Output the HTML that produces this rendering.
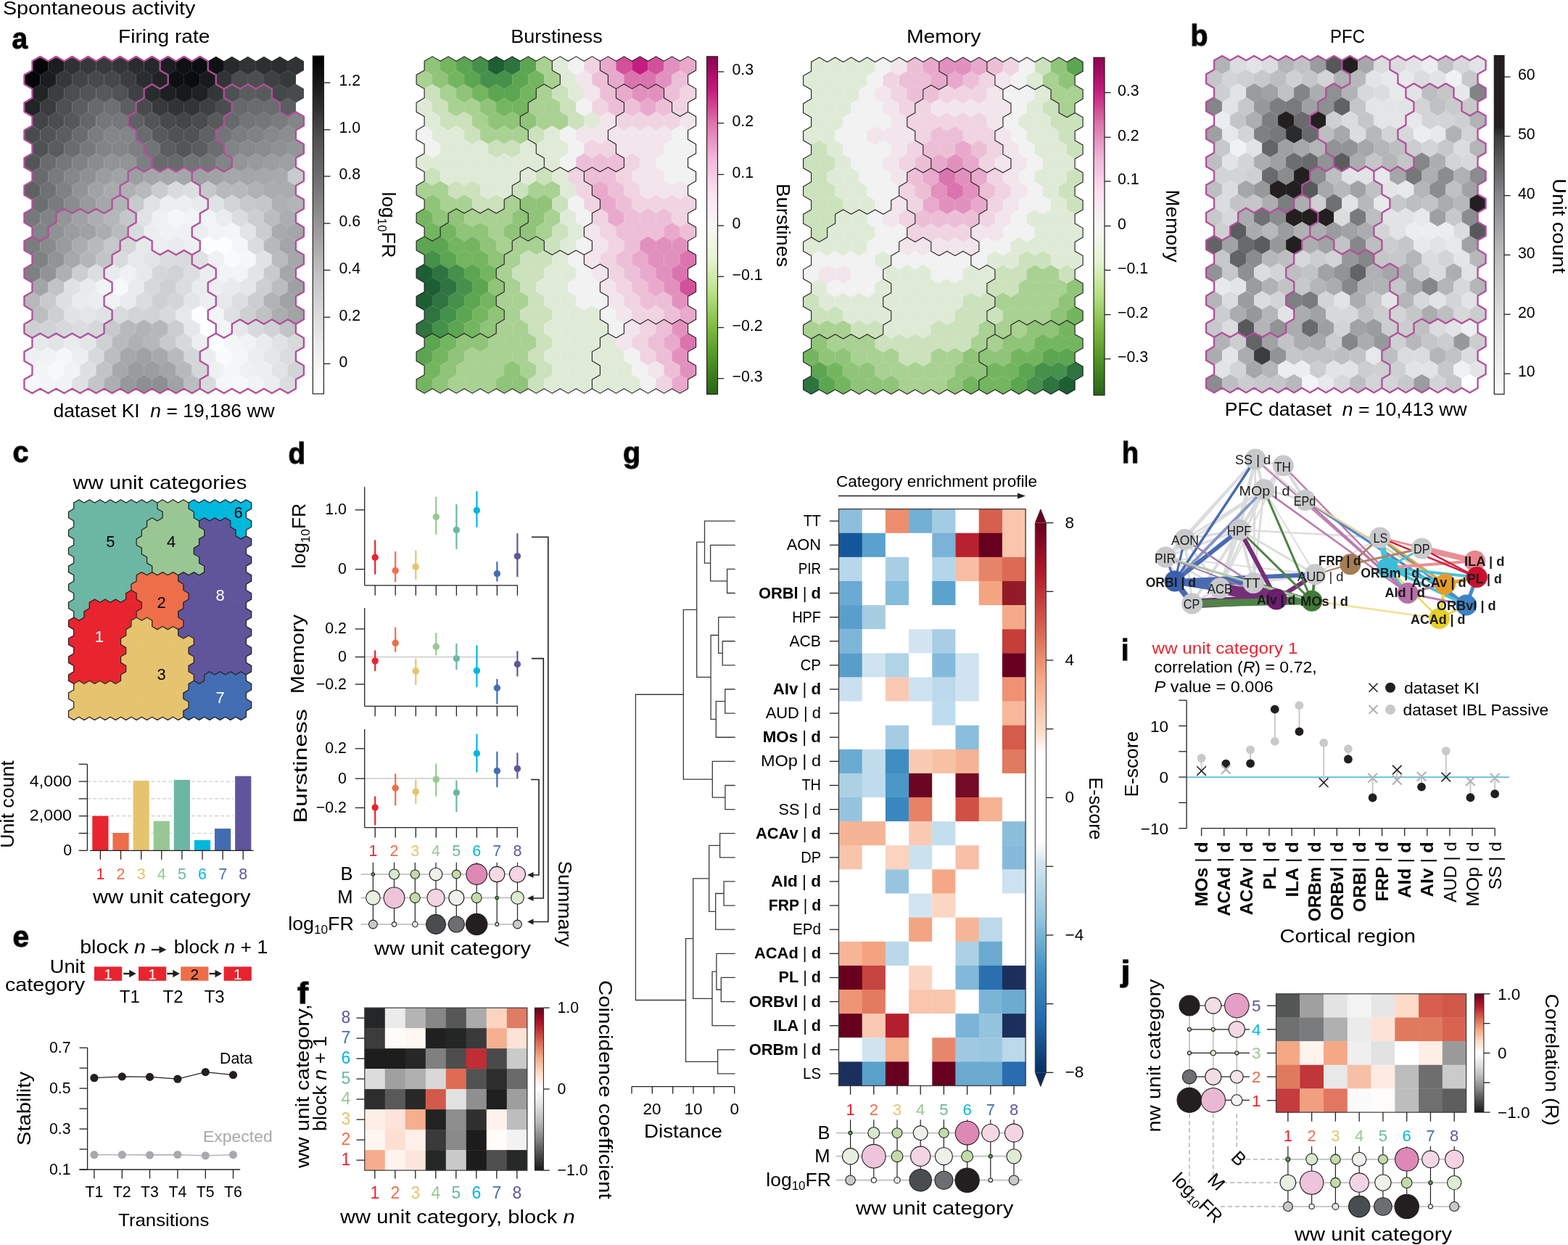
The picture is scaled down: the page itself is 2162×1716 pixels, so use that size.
<!DOCTYPE html><html><head><meta charset="utf-8"><style>html,body{margin:0;padding:0;background:#fff}svg{display:block}</style></head><body><svg xmlns="http://www.w3.org/2000/svg" width="2162" height="1716" viewBox="0 0 2162 1716" style="font-family:'Liberation Sans',Arial,sans-serif"><rect width="2162" height="1716" fill="#ffffff"/>
<defs><path id="hx2203" d="M0.00 -12.87L11.14 -6.43L11.14 6.43L0.00 12.87L-11.14 6.43L-11.14 -6.43Z"/></defs>
<g stroke="#fff" stroke-width="0.5" stroke-opacity="0.09">
<use href="#hx2203" x="55.5" y="90.6" fill="#020506"/>
<use href="#hx2203" x="77.5" y="90.6" fill="#1b1e1f"/>
<use href="#hx2203" x="99.5" y="90.6" fill="#2f3233"/>
<use href="#hx2203" x="121.5" y="90.6" fill="#353839"/>
<use href="#hx2203" x="143.6" y="90.6" fill="#373a3b"/>
<use href="#hx2203" x="165.6" y="90.6" fill="#333637"/>
<use href="#hx2203" x="187.6" y="90.6" fill="#2a2d2e"/>
<use href="#hx2203" x="209.7" y="90.6" fill="#252829"/>
<use href="#hx2203" x="231.7" y="90.6" fill="#1b1e1f"/>
<use href="#hx2203" x="253.7" y="90.6" fill="#0f1213"/>
<use href="#hx2203" x="275.8" y="90.6" fill="#0b0e0f"/>
<use href="#hx2203" x="297.8" y="90.6" fill="#0f1213"/>
<use href="#hx2203" x="319.8" y="90.6" fill="#272a2b"/>
<use href="#hx2203" x="341.8" y="90.6" fill="#313435"/>
<use href="#hx2203" x="363.9" y="90.6" fill="#2d3031"/>
<use href="#hx2203" x="385.9" y="90.6" fill="#2b2e2f"/>
<use href="#hx2203" x="407.9" y="90.6" fill="#313435"/>
<use href="#hx2203" x="44.4" y="109.7" fill="#030607"/>
<use href="#hx2203" x="66.5" y="109.7" fill="#1b1e1f"/>
<use href="#hx2203" x="88.5" y="109.7" fill="#353839"/>
<use href="#hx2203" x="110.5" y="109.7" fill="#414445"/>
<use href="#hx2203" x="132.6" y="109.7" fill="#474a4b"/>
<use href="#hx2203" x="154.6" y="109.7" fill="#454849"/>
<use href="#hx2203" x="176.6" y="109.7" fill="#3b3e3f"/>
<use href="#hx2203" x="198.6" y="109.7" fill="#2b2e2f"/>
<use href="#hx2203" x="220.7" y="109.7" fill="#212425"/>
<use href="#hx2203" x="242.7" y="109.7" fill="#0d1011"/>
<use href="#hx2203" x="264.7" y="109.7" fill="#0a0d0e"/>
<use href="#hx2203" x="286.8" y="109.7" fill="#171a1b"/>
<use href="#hx2203" x="308.8" y="109.7" fill="#313435"/>
<use href="#hx2203" x="330.8" y="109.7" fill="#494c4d"/>
<use href="#hx2203" x="352.9" y="109.7" fill="#4b4e4f"/>
<use href="#hx2203" x="374.9" y="109.7" fill="#3e4142"/>
<use href="#hx2203" x="396.9" y="109.7" fill="#36393a"/>
<use href="#hx2203" x="55.5" y="128.7" fill="#212425"/>
<use href="#hx2203" x="77.5" y="128.7" fill="#3b3e3f"/>
<use href="#hx2203" x="99.5" y="128.7" fill="#4b4e4f"/>
<use href="#hx2203" x="121.5" y="128.7" fill="#525556"/>
<use href="#hx2203" x="143.6" y="128.7" fill="#56595a"/>
<use href="#hx2203" x="165.6" y="128.7" fill="#505354"/>
<use href="#hx2203" x="187.6" y="128.7" fill="#3e4142"/>
<use href="#hx2203" x="209.7" y="128.7" fill="#292c2d"/>
<use href="#hx2203" x="231.7" y="128.7" fill="#1d2021"/>
<use href="#hx2203" x="253.7" y="128.7" fill="#171a1b"/>
<use href="#hx2203" x="275.8" y="128.7" fill="#1f2223"/>
<use href="#hx2203" x="297.8" y="128.7" fill="#343738"/>
<use href="#hx2203" x="319.8" y="128.7" fill="#4e5152"/>
<use href="#hx2203" x="341.8" y="128.7" fill="#5a5d5e"/>
<use href="#hx2203" x="363.9" y="128.7" fill="#585b5c"/>
<use href="#hx2203" x="385.9" y="128.7" fill="#454849"/>
<use href="#hx2203" x="407.9" y="128.7" fill="#484b4c"/>
<use href="#hx2203" x="44.4" y="147.8" fill="#212425"/>
<use href="#hx2203" x="66.5" y="147.8" fill="#393c3d"/>
<use href="#hx2203" x="88.5" y="147.8" fill="#4d5051"/>
<use href="#hx2203" x="110.5" y="147.8" fill="#5a5d5e"/>
<use href="#hx2203" x="132.6" y="147.8" fill="#676a6b"/>
<use href="#hx2203" x="154.6" y="147.8" fill="#6d7071"/>
<use href="#hx2203" x="176.6" y="147.8" fill="#5c5f60"/>
<use href="#hx2203" x="198.6" y="147.8" fill="#484b4c"/>
<use href="#hx2203" x="220.7" y="147.8" fill="#373a3b"/>
<use href="#hx2203" x="242.7" y="147.8" fill="#313435"/>
<use href="#hx2203" x="264.7" y="147.8" fill="#313435"/>
<use href="#hx2203" x="286.8" y="147.8" fill="#3d4041"/>
<use href="#hx2203" x="308.8" y="147.8" fill="#4a4d4e"/>
<use href="#hx2203" x="330.8" y="147.8" fill="#66696a"/>
<use href="#hx2203" x="352.9" y="147.8" fill="#696c6d"/>
<use href="#hx2203" x="374.9" y="147.8" fill="#6a6d6e"/>
<use href="#hx2203" x="396.9" y="147.8" fill="#5b5e5f"/>
<use href="#hx2203" x="55.5" y="166.9" fill="#414445"/>
<use href="#hx2203" x="77.5" y="166.9" fill="#4b4e4f"/>
<use href="#hx2203" x="99.5" y="166.9" fill="#555859"/>
<use href="#hx2203" x="121.5" y="166.9" fill="#646768"/>
<use href="#hx2203" x="143.6" y="166.9" fill="#757879"/>
<use href="#hx2203" x="165.6" y="166.9" fill="#757879"/>
<use href="#hx2203" x="187.6" y="166.9" fill="#5e6162"/>
<use href="#hx2203" x="209.7" y="166.9" fill="#525556"/>
<use href="#hx2203" x="231.7" y="166.9" fill="#474a4b"/>
<use href="#hx2203" x="253.7" y="166.9" fill="#434647"/>
<use href="#hx2203" x="275.8" y="166.9" fill="#494c4d"/>
<use href="#hx2203" x="297.8" y="166.9" fill="#575a5b"/>
<use href="#hx2203" x="319.8" y="166.9" fill="#66696a"/>
<use href="#hx2203" x="341.8" y="166.9" fill="#727576"/>
<use href="#hx2203" x="363.9" y="166.9" fill="#747778"/>
<use href="#hx2203" x="385.9" y="166.9" fill="#797c7d"/>
<use href="#hx2203" x="407.9" y="166.9" fill="#838687"/>
<use href="#hx2203" x="44.4" y="186.0" fill="#494c4d"/>
<use href="#hx2203" x="66.5" y="186.0" fill="#515455"/>
<use href="#hx2203" x="88.5" y="186.0" fill="#5b5e5f"/>
<use href="#hx2203" x="110.5" y="186.0" fill="#696c6d"/>
<use href="#hx2203" x="132.6" y="186.0" fill="#7a7d7e"/>
<use href="#hx2203" x="154.6" y="186.0" fill="#838687"/>
<use href="#hx2203" x="176.6" y="186.0" fill="#838687"/>
<use href="#hx2203" x="198.6" y="186.0" fill="#696c6d"/>
<use href="#hx2203" x="220.7" y="186.0" fill="#575a5b"/>
<use href="#hx2203" x="242.7" y="186.0" fill="#4f5253"/>
<use href="#hx2203" x="264.7" y="186.0" fill="#505354"/>
<use href="#hx2203" x="286.8" y="186.0" fill="#5f6263"/>
<use href="#hx2203" x="308.8" y="186.0" fill="#727576"/>
<use href="#hx2203" x="330.8" y="186.0" fill="#7b7e7f"/>
<use href="#hx2203" x="352.9" y="186.0" fill="#7f8283"/>
<use href="#hx2203" x="374.9" y="186.0" fill="#86898a"/>
<use href="#hx2203" x="396.9" y="186.0" fill="#8b8e8f"/>
<use href="#hx2203" x="55.5" y="205.1" fill="#4f5253"/>
<use href="#hx2203" x="77.5" y="205.1" fill="#595c5d"/>
<use href="#hx2203" x="99.5" y="205.1" fill="#696c6d"/>
<use href="#hx2203" x="121.5" y="205.1" fill="#76797a"/>
<use href="#hx2203" x="143.6" y="205.1" fill="#818485"/>
<use href="#hx2203" x="165.6" y="205.1" fill="#838687"/>
<use href="#hx2203" x="187.6" y="205.1" fill="#7d8081"/>
<use href="#hx2203" x="209.7" y="205.1" fill="#717475"/>
<use href="#hx2203" x="231.7" y="205.1" fill="#5a5d5e"/>
<use href="#hx2203" x="253.7" y="205.1" fill="#535657"/>
<use href="#hx2203" x="275.8" y="205.1" fill="#5a5d5e"/>
<use href="#hx2203" x="297.8" y="205.1" fill="#6b6e6f"/>
<use href="#hx2203" x="319.8" y="205.1" fill="#818485"/>
<use href="#hx2203" x="341.8" y="205.1" fill="#878a8b"/>
<use href="#hx2203" x="363.9" y="205.1" fill="#8a8d8e"/>
<use href="#hx2203" x="385.9" y="205.1" fill="#8e9192"/>
<use href="#hx2203" x="407.9" y="205.1" fill="#939697"/>
<use href="#hx2203" x="44.4" y="224.1" fill="#535657"/>
<use href="#hx2203" x="66.5" y="224.1" fill="#696c6d"/>
<use href="#hx2203" x="88.5" y="224.1" fill="#757879"/>
<use href="#hx2203" x="110.5" y="224.1" fill="#7f8283"/>
<use href="#hx2203" x="132.6" y="224.1" fill="#898c8d"/>
<use href="#hx2203" x="154.6" y="224.1" fill="#919495"/>
<use href="#hx2203" x="176.6" y="224.1" fill="#919495"/>
<use href="#hx2203" x="198.6" y="224.1" fill="#7d8081"/>
<use href="#hx2203" x="220.7" y="224.1" fill="#686b6c"/>
<use href="#hx2203" x="242.7" y="224.1" fill="#676a6b"/>
<use href="#hx2203" x="264.7" y="224.1" fill="#727576"/>
<use href="#hx2203" x="286.8" y="224.1" fill="#737677"/>
<use href="#hx2203" x="308.8" y="224.1" fill="#828586"/>
<use href="#hx2203" x="330.8" y="224.1" fill="#939697"/>
<use href="#hx2203" x="352.9" y="224.1" fill="#989b9c"/>
<use href="#hx2203" x="374.9" y="224.1" fill="#9b9e9f"/>
<use href="#hx2203" x="396.9" y="224.1" fill="#9da0a1"/>
<use href="#hx2203" x="55.5" y="243.2" fill="#686b6c"/>
<use href="#hx2203" x="77.5" y="243.2" fill="#787b7c"/>
<use href="#hx2203" x="99.5" y="243.2" fill="#858889"/>
<use href="#hx2203" x="121.5" y="243.2" fill="#8e9192"/>
<use href="#hx2203" x="143.6" y="243.2" fill="#9a9d9e"/>
<use href="#hx2203" x="165.6" y="243.2" fill="#a0a3a4"/>
<use href="#hx2203" x="187.6" y="243.2" fill="#9c9fa0"/>
<use href="#hx2203" x="209.7" y="243.2" fill="#a3a6a7"/>
<use href="#hx2203" x="231.7" y="243.2" fill="#a5a8a9"/>
<use href="#hx2203" x="253.7" y="243.2" fill="#a4a7a8"/>
<use href="#hx2203" x="275.8" y="243.2" fill="#9ea1a2"/>
<use href="#hx2203" x="297.8" y="243.2" fill="#a0a3a4"/>
<use href="#hx2203" x="319.8" y="243.2" fill="#a5a8a9"/>
<use href="#hx2203" x="341.8" y="243.2" fill="#a3a6a7"/>
<use href="#hx2203" x="363.9" y="243.2" fill="#a5a8a9"/>
<use href="#hx2203" x="385.9" y="243.2" fill="#a8abac"/>
<use href="#hx2203" x="407.9" y="243.2" fill="#c9cccd"/>
<use href="#hx2203" x="44.4" y="262.3" fill="#5e6162"/>
<use href="#hx2203" x="66.5" y="262.3" fill="#6f7273"/>
<use href="#hx2203" x="88.5" y="262.3" fill="#7f8283"/>
<use href="#hx2203" x="110.5" y="262.3" fill="#919495"/>
<use href="#hx2203" x="132.6" y="262.3" fill="#a0a3a4"/>
<use href="#hx2203" x="154.6" y="262.3" fill="#a8abac"/>
<use href="#hx2203" x="176.6" y="262.3" fill="#aeb1b2"/>
<use href="#hx2203" x="198.6" y="262.3" fill="#b7babb"/>
<use href="#hx2203" x="220.7" y="262.3" fill="#c9cccd"/>
<use href="#hx2203" x="242.7" y="262.3" fill="#d9dcdd"/>
<use href="#hx2203" x="264.7" y="262.3" fill="#dcdfe0"/>
<use href="#hx2203" x="286.8" y="262.3" fill="#c5c8c9"/>
<use href="#hx2203" x="308.8" y="262.3" fill="#b7babb"/>
<use href="#hx2203" x="330.8" y="262.3" fill="#b7babb"/>
<use href="#hx2203" x="352.9" y="262.3" fill="#afb2b3"/>
<use href="#hx2203" x="374.9" y="262.3" fill="#aaadae"/>
<use href="#hx2203" x="396.9" y="262.3" fill="#aaadae"/>
<use href="#hx2203" x="55.5" y="281.4" fill="#6c6f70"/>
<use href="#hx2203" x="77.5" y="281.4" fill="#797c7d"/>
<use href="#hx2203" x="99.5" y="281.4" fill="#8a8d8e"/>
<use href="#hx2203" x="121.5" y="281.4" fill="#989b9c"/>
<use href="#hx2203" x="143.6" y="281.4" fill="#a5a8a9"/>
<use href="#hx2203" x="165.6" y="281.4" fill="#b1b4b5"/>
<use href="#hx2203" x="187.6" y="281.4" fill="#c7cacb"/>
<use href="#hx2203" x="209.7" y="281.4" fill="#e0e3e4"/>
<use href="#hx2203" x="231.7" y="281.4" fill="#eceff0"/>
<use href="#hx2203" x="253.7" y="281.4" fill="#eceff0"/>
<use href="#hx2203" x="275.8" y="281.4" fill="#e8ebec"/>
<use href="#hx2203" x="297.8" y="281.4" fill="#e0e3e4"/>
<use href="#hx2203" x="319.8" y="281.4" fill="#d2d5d6"/>
<use href="#hx2203" x="341.8" y="281.4" fill="#c7cacb"/>
<use href="#hx2203" x="363.9" y="281.4" fill="#c4c7c8"/>
<use href="#hx2203" x="385.9" y="281.4" fill="#aeb1b2"/>
<use href="#hx2203" x="407.9" y="281.4" fill="#b2b5b6"/>
<use href="#hx2203" x="44.4" y="300.4" fill="#76797a"/>
<use href="#hx2203" x="66.5" y="300.4" fill="#818485"/>
<use href="#hx2203" x="88.5" y="300.4" fill="#939697"/>
<use href="#hx2203" x="110.5" y="300.4" fill="#a0a3a4"/>
<use href="#hx2203" x="132.6" y="300.4" fill="#acafb0"/>
<use href="#hx2203" x="154.6" y="300.4" fill="#b4b7b8"/>
<use href="#hx2203" x="176.6" y="300.4" fill="#c4c7c8"/>
<use href="#hx2203" x="198.6" y="300.4" fill="#e0e3e4"/>
<use href="#hx2203" x="220.7" y="300.4" fill="#eef1f2"/>
<use href="#hx2203" x="242.7" y="300.4" fill="#f4f7f8"/>
<use href="#hx2203" x="264.7" y="300.4" fill="#f1f4f5"/>
<use href="#hx2203" x="286.8" y="300.4" fill="#f1f4f5"/>
<use href="#hx2203" x="308.8" y="300.4" fill="#eaedee"/>
<use href="#hx2203" x="330.8" y="300.4" fill="#daddde"/>
<use href="#hx2203" x="352.9" y="300.4" fill="#cccfd0"/>
<use href="#hx2203" x="374.9" y="300.4" fill="#babdbe"/>
<use href="#hx2203" x="396.9" y="300.4" fill="#abaeaf"/>
<use href="#hx2203" x="55.5" y="319.5" fill="#828586"/>
<use href="#hx2203" x="77.5" y="319.5" fill="#909394"/>
<use href="#hx2203" x="99.5" y="319.5" fill="#9a9d9e"/>
<use href="#hx2203" x="121.5" y="319.5" fill="#9fa2a3"/>
<use href="#hx2203" x="143.6" y="319.5" fill="#abaeaf"/>
<use href="#hx2203" x="165.6" y="319.5" fill="#b9bcbd"/>
<use href="#hx2203" x="187.6" y="319.5" fill="#d9dcdd"/>
<use href="#hx2203" x="209.7" y="319.5" fill="#ebeeef"/>
<use href="#hx2203" x="231.7" y="319.5" fill="#eff2f3"/>
<use href="#hx2203" x="253.7" y="319.5" fill="#eff2f3"/>
<use href="#hx2203" x="275.8" y="319.5" fill="#ebeeef"/>
<use href="#hx2203" x="297.8" y="319.5" fill="#f1f4f5"/>
<use href="#hx2203" x="319.8" y="319.5" fill="#f3f6f7"/>
<use href="#hx2203" x="341.8" y="319.5" fill="#e2e5e6"/>
<use href="#hx2203" x="363.9" y="319.5" fill="#cbcecf"/>
<use href="#hx2203" x="385.9" y="319.5" fill="#a8abac"/>
<use href="#hx2203" x="407.9" y="319.5" fill="#a4a7a8"/>
<use href="#hx2203" x="44.4" y="338.6" fill="#7a7d7e"/>
<use href="#hx2203" x="66.5" y="338.6" fill="#888b8c"/>
<use href="#hx2203" x="88.5" y="338.6" fill="#999c9d"/>
<use href="#hx2203" x="110.5" y="338.6" fill="#aaadae"/>
<use href="#hx2203" x="132.6" y="338.6" fill="#b7babb"/>
<use href="#hx2203" x="154.6" y="338.6" fill="#c5c8c9"/>
<use href="#hx2203" x="176.6" y="338.6" fill="#d4d7d8"/>
<use href="#hx2203" x="198.6" y="338.6" fill="#e6e9ea"/>
<use href="#hx2203" x="220.7" y="338.6" fill="#eceff0"/>
<use href="#hx2203" x="242.7" y="338.6" fill="#e9eced"/>
<use href="#hx2203" x="264.7" y="338.6" fill="#edf0f1"/>
<use href="#hx2203" x="286.8" y="338.6" fill="#fbfeff"/>
<use href="#hx2203" x="308.8" y="338.6" fill="#fcffff"/>
<use href="#hx2203" x="330.8" y="338.6" fill="#f4f7f8"/>
<use href="#hx2203" x="352.9" y="338.6" fill="#daddde"/>
<use href="#hx2203" x="374.9" y="338.6" fill="#b7babb"/>
<use href="#hx2203" x="396.9" y="338.6" fill="#a3a6a7"/>
<use href="#hx2203" x="55.5" y="357.7" fill="#7f8283"/>
<use href="#hx2203" x="77.5" y="357.7" fill="#919495"/>
<use href="#hx2203" x="99.5" y="357.7" fill="#a5a8a9"/>
<use href="#hx2203" x="121.5" y="357.7" fill="#b3b6b7"/>
<use href="#hx2203" x="143.6" y="357.7" fill="#c2c5c6"/>
<use href="#hx2203" x="165.6" y="357.7" fill="#d8dbdc"/>
<use href="#hx2203" x="187.6" y="357.7" fill="#e6e9ea"/>
<use href="#hx2203" x="209.7" y="357.7" fill="#e2e5e6"/>
<use href="#hx2203" x="231.7" y="357.7" fill="#daddde"/>
<use href="#hx2203" x="253.7" y="357.7" fill="#d8dbdc"/>
<use href="#hx2203" x="275.8" y="357.7" fill="#dfe2e3"/>
<use href="#hx2203" x="297.8" y="357.7" fill="#eef1f2"/>
<use href="#hx2203" x="319.8" y="357.7" fill="#f8fbfc"/>
<use href="#hx2203" x="341.8" y="357.7" fill="#f5f8f9"/>
<use href="#hx2203" x="363.9" y="357.7" fill="#e0e3e4"/>
<use href="#hx2203" x="385.9" y="357.7" fill="#b9bcbd"/>
<use href="#hx2203" x="407.9" y="357.7" fill="#a5a8a9"/>
<use href="#hx2203" x="44.4" y="376.8" fill="#7e8182"/>
<use href="#hx2203" x="66.5" y="376.8" fill="#919495"/>
<use href="#hx2203" x="88.5" y="376.8" fill="#aeb1b2"/>
<use href="#hx2203" x="110.5" y="376.8" fill="#cccfd0"/>
<use href="#hx2203" x="132.6" y="376.8" fill="#dcdfe0"/>
<use href="#hx2203" x="154.6" y="376.8" fill="#e8ebec"/>
<use href="#hx2203" x="176.6" y="376.8" fill="#eff2f3"/>
<use href="#hx2203" x="198.6" y="376.8" fill="#e6e9ea"/>
<use href="#hx2203" x="220.7" y="376.8" fill="#d4d7d8"/>
<use href="#hx2203" x="242.7" y="376.8" fill="#d0d3d4"/>
<use href="#hx2203" x="264.7" y="376.8" fill="#dcdfe0"/>
<use href="#hx2203" x="286.8" y="376.8" fill="#ebeeef"/>
<use href="#hx2203" x="308.8" y="376.8" fill="#f1f4f5"/>
<use href="#hx2203" x="330.8" y="376.8" fill="#f2f5f6"/>
<use href="#hx2203" x="352.9" y="376.8" fill="#e2e5e6"/>
<use href="#hx2203" x="374.9" y="376.8" fill="#c8cbcc"/>
<use href="#hx2203" x="396.9" y="376.8" fill="#a4a7a8"/>
<use href="#hx2203" x="55.5" y="395.8" fill="#a2a5a6"/>
<use href="#hx2203" x="77.5" y="395.8" fill="#c1c4c5"/>
<use href="#hx2203" x="99.5" y="395.8" fill="#dfe2e3"/>
<use href="#hx2203" x="121.5" y="395.8" fill="#e8ebec"/>
<use href="#hx2203" x="143.6" y="395.8" fill="#f1f4f5"/>
<use href="#hx2203" x="165.6" y="395.8" fill="#f6f9fa"/>
<use href="#hx2203" x="187.6" y="395.8" fill="#e9eced"/>
<use href="#hx2203" x="209.7" y="395.8" fill="#d6d9da"/>
<use href="#hx2203" x="231.7" y="395.8" fill="#cdd0d1"/>
<use href="#hx2203" x="253.7" y="395.8" fill="#daddde"/>
<use href="#hx2203" x="275.8" y="395.8" fill="#e9eced"/>
<use href="#hx2203" x="297.8" y="395.8" fill="#eceff0"/>
<use href="#hx2203" x="319.8" y="395.8" fill="#e8ebec"/>
<use href="#hx2203" x="341.8" y="395.8" fill="#e4e7e8"/>
<use href="#hx2203" x="363.9" y="395.8" fill="#cdd0d1"/>
<use href="#hx2203" x="385.9" y="395.8" fill="#bbbebf"/>
<use href="#hx2203" x="407.9" y="395.8" fill="#9ea1a2"/>
<use href="#hx2203" x="44.4" y="414.9" fill="#b6b9ba"/>
<use href="#hx2203" x="66.5" y="414.9" fill="#c8cbcc"/>
<use href="#hx2203" x="88.5" y="414.9" fill="#dde0e1"/>
<use href="#hx2203" x="110.5" y="414.9" fill="#e9eced"/>
<use href="#hx2203" x="132.6" y="414.9" fill="#ebeeef"/>
<use href="#hx2203" x="154.6" y="414.9" fill="#f0f3f4"/>
<use href="#hx2203" x="176.6" y="414.9" fill="#e9eced"/>
<use href="#hx2203" x="198.6" y="414.9" fill="#daddde"/>
<use href="#hx2203" x="220.7" y="414.9" fill="#cdd0d1"/>
<use href="#hx2203" x="242.7" y="414.9" fill="#d3d6d7"/>
<use href="#hx2203" x="264.7" y="414.9" fill="#e3e6e7"/>
<use href="#hx2203" x="286.8" y="414.9" fill="#eceff0"/>
<use href="#hx2203" x="308.8" y="414.9" fill="#e6e9ea"/>
<use href="#hx2203" x="330.8" y="414.9" fill="#dcdfe0"/>
<use href="#hx2203" x="352.9" y="414.9" fill="#cbcecf"/>
<use href="#hx2203" x="374.9" y="414.9" fill="#b1b4b5"/>
<use href="#hx2203" x="396.9" y="414.9" fill="#a0a3a4"/>
<use href="#hx2203" x="55.5" y="434.0" fill="#bbbebf"/>
<use href="#hx2203" x="77.5" y="434.0" fill="#cdd0d1"/>
<use href="#hx2203" x="99.5" y="434.0" fill="#e0e3e4"/>
<use href="#hx2203" x="121.5" y="434.0" fill="#e3e6e7"/>
<use href="#hx2203" x="143.6" y="434.0" fill="#e0e3e4"/>
<use href="#hx2203" x="165.6" y="434.0" fill="#d8dbdc"/>
<use href="#hx2203" x="187.6" y="434.0" fill="#d2d5d6"/>
<use href="#hx2203" x="209.7" y="434.0" fill="#d0d3d4"/>
<use href="#hx2203" x="231.7" y="434.0" fill="#d7dadb"/>
<use href="#hx2203" x="253.7" y="434.0" fill="#e6e9ea"/>
<use href="#hx2203" x="275.8" y="434.0" fill="#fcffff"/>
<use href="#hx2203" x="297.8" y="434.0" fill="#f2f5f6"/>
<use href="#hx2203" x="319.8" y="434.0" fill="#dee1e2"/>
<use href="#hx2203" x="341.8" y="434.0" fill="#cdd0d1"/>
<use href="#hx2203" x="363.9" y="434.0" fill="#bfc2c3"/>
<use href="#hx2203" x="385.9" y="434.0" fill="#abaeaf"/>
<use href="#hx2203" x="407.9" y="434.0" fill="#a1a4a5"/>
<use href="#hx2203" x="44.4" y="453.1" fill="#cdd0d1"/>
<use href="#hx2203" x="66.5" y="453.1" fill="#d0d3d4"/>
<use href="#hx2203" x="88.5" y="453.1" fill="#d6d9da"/>
<use href="#hx2203" x="110.5" y="453.1" fill="#daddde"/>
<use href="#hx2203" x="132.6" y="453.1" fill="#d5d8d9"/>
<use href="#hx2203" x="154.6" y="453.1" fill="#c7cacb"/>
<use href="#hx2203" x="176.6" y="453.1" fill="#b7babb"/>
<use href="#hx2203" x="198.6" y="453.1" fill="#b1b4b5"/>
<use href="#hx2203" x="220.7" y="453.1" fill="#b5b8b9"/>
<use href="#hx2203" x="242.7" y="453.1" fill="#cbcecf"/>
<use href="#hx2203" x="264.7" y="453.1" fill="#e5e8e9"/>
<use href="#hx2203" x="286.8" y="453.1" fill="#fcffff"/>
<use href="#hx2203" x="308.8" y="453.1" fill="#f2f5f6"/>
<use href="#hx2203" x="330.8" y="453.1" fill="#e6e9ea"/>
<use href="#hx2203" x="352.9" y="453.1" fill="#d7dadb"/>
<use href="#hx2203" x="374.9" y="453.1" fill="#d0d3d4"/>
<use href="#hx2203" x="396.9" y="453.1" fill="#c1c4c5"/>
<use href="#hx2203" x="55.5" y="472.2" fill="#e6e9ea"/>
<use href="#hx2203" x="77.5" y="472.2" fill="#e2e5e6"/>
<use href="#hx2203" x="99.5" y="472.2" fill="#e9eced"/>
<use href="#hx2203" x="121.5" y="472.2" fill="#e4e7e8"/>
<use href="#hx2203" x="143.6" y="472.2" fill="#cfd2d3"/>
<use href="#hx2203" x="165.6" y="472.2" fill="#b7babb"/>
<use href="#hx2203" x="187.6" y="472.2" fill="#aeb1b2"/>
<use href="#hx2203" x="209.7" y="472.2" fill="#b5b8b9"/>
<use href="#hx2203" x="231.7" y="472.2" fill="#c7cacb"/>
<use href="#hx2203" x="253.7" y="472.2" fill="#d6d9da"/>
<use href="#hx2203" x="275.8" y="472.2" fill="#eceff0"/>
<use href="#hx2203" x="297.8" y="472.2" fill="#fcffff"/>
<use href="#hx2203" x="319.8" y="472.2" fill="#f3f6f7"/>
<use href="#hx2203" x="341.8" y="472.2" fill="#f0f3f4"/>
<use href="#hx2203" x="363.9" y="472.2" fill="#e9eced"/>
<use href="#hx2203" x="385.9" y="472.2" fill="#e0e3e4"/>
<use href="#hx2203" x="407.9" y="472.2" fill="#d7dadb"/>
<use href="#hx2203" x="44.4" y="491.2" fill="#eef1f2"/>
<use href="#hx2203" x="66.5" y="491.2" fill="#f0f3f4"/>
<use href="#hx2203" x="88.5" y="491.2" fill="#f5f8f9"/>
<use href="#hx2203" x="110.5" y="491.2" fill="#eceff0"/>
<use href="#hx2203" x="132.6" y="491.2" fill="#d7dadb"/>
<use href="#hx2203" x="154.6" y="491.2" fill="#bbbebf"/>
<use href="#hx2203" x="176.6" y="491.2" fill="#a5a8a9"/>
<use href="#hx2203" x="198.6" y="491.2" fill="#9fa2a3"/>
<use href="#hx2203" x="220.7" y="491.2" fill="#a7aaab"/>
<use href="#hx2203" x="242.7" y="491.2" fill="#b7babb"/>
<use href="#hx2203" x="264.7" y="491.2" fill="#d4d7d8"/>
<use href="#hx2203" x="286.8" y="491.2" fill="#ebeeef"/>
<use href="#hx2203" x="308.8" y="491.2" fill="#f9fcfd"/>
<use href="#hx2203" x="330.8" y="491.2" fill="#f4f7f8"/>
<use href="#hx2203" x="352.9" y="491.2" fill="#ebeeef"/>
<use href="#hx2203" x="374.9" y="491.2" fill="#e4e7e8"/>
<use href="#hx2203" x="396.9" y="491.2" fill="#daddde"/>
<use href="#hx2203" x="55.5" y="510.3" fill="#f2f5f6"/>
<use href="#hx2203" x="77.5" y="510.3" fill="#f6f9fa"/>
<use href="#hx2203" x="99.5" y="510.3" fill="#f0f3f4"/>
<use href="#hx2203" x="121.5" y="510.3" fill="#dde0e1"/>
<use href="#hx2203" x="143.6" y="510.3" fill="#c1c4c5"/>
<use href="#hx2203" x="165.6" y="510.3" fill="#a6a9aa"/>
<use href="#hx2203" x="187.6" y="510.3" fill="#999c9d"/>
<use href="#hx2203" x="209.7" y="510.3" fill="#9b9e9f"/>
<use href="#hx2203" x="231.7" y="510.3" fill="#a2a5a6"/>
<use href="#hx2203" x="253.7" y="510.3" fill="#b6b9ba"/>
<use href="#hx2203" x="275.8" y="510.3" fill="#d4d7d8"/>
<use href="#hx2203" x="297.8" y="510.3" fill="#eef1f2"/>
<use href="#hx2203" x="319.8" y="510.3" fill="#f5f8f9"/>
<use href="#hx2203" x="341.8" y="510.3" fill="#eef1f2"/>
<use href="#hx2203" x="363.9" y="510.3" fill="#eceff0"/>
<use href="#hx2203" x="385.9" y="510.3" fill="#e1e4e5"/>
<use href="#hx2203" x="407.9" y="510.3" fill="#d2d5d6"/>
<use href="#hx2203" x="44.4" y="529.4" fill="#f6f9fa"/>
<use href="#hx2203" x="66.5" y="529.4" fill="#f2f5f6"/>
<use href="#hx2203" x="88.5" y="529.4" fill="#f1f4f5"/>
<use href="#hx2203" x="110.5" y="529.4" fill="#dfe2e3"/>
<use href="#hx2203" x="132.6" y="529.4" fill="#c3c6c7"/>
<use href="#hx2203" x="154.6" y="529.4" fill="#acafb0"/>
<use href="#hx2203" x="176.6" y="529.4" fill="#96999a"/>
<use href="#hx2203" x="198.6" y="529.4" fill="#8d9091"/>
<use href="#hx2203" x="220.7" y="529.4" fill="#8d9091"/>
<use href="#hx2203" x="242.7" y="529.4" fill="#a0a3a4"/>
<use href="#hx2203" x="264.7" y="529.4" fill="#bbbebf"/>
<use href="#hx2203" x="286.8" y="529.4" fill="#d8dbdc"/>
<use href="#hx2203" x="308.8" y="529.4" fill="#f4f7f8"/>
<use href="#hx2203" x="330.8" y="529.4" fill="#f6f9fa"/>
<use href="#hx2203" x="352.9" y="529.4" fill="#f1f4f5"/>
<use href="#hx2203" x="374.9" y="529.4" fill="#ebeeef"/>
<use href="#hx2203" x="396.9" y="529.4" fill="#daddde"/>
</g>
<g>
<path d="M55.45 77.86L66.47 84.22 M44.44 96.94L44.44 84.22 M44.44 84.22L55.45 77.86 M77.48 77.86L88.5 84.22 M66.47 84.22L77.48 77.86 M99.51 77.86L110.53 84.22 M88.5 84.22L99.51 77.86 M121.54 77.86L132.56 84.22 M110.53 84.22L121.54 77.86 M143.57 77.86L154.58 84.22 M132.56 84.22L143.57 77.86 M165.6 77.86L176.62 84.22 M154.59 84.22L165.6 77.86 M187.63 77.86L198.64 84.22 M176.62 84.22L187.63 77.86 M209.66 77.86L220.68 84.22 M220.68 84.22L220.68 96.94 M198.65 84.22L209.66 77.86 M231.69 77.86L242.7 84.22 M231.69 103.3L220.68 96.94 M220.68 84.22L231.69 77.86 M253.72 77.86L264.74 84.22 M242.71 84.22L253.72 77.86 M275.75 77.86L286.76 84.22 M286.76 84.22L286.76 96.94 M264.74 84.22L275.75 77.86 M297.78 103.3L286.77 96.94 M44.44 122.38L33.42 116.02 M33.42 116.02L33.42 103.3 M33.42 103.3L44.44 96.94 M209.66 116.02L198.65 122.38 M231.69 103.3L231.69 116.02 M231.69 116.02L220.68 122.38 M220.68 122.38L209.66 116.02 M297.78 103.3L297.78 116.02 M319.81 116.02L308.8 122.38 M308.8 122.38L297.78 116.02 M341.84 116.02L330.82 122.38 M330.82 122.38L319.81 116.02 M363.87 116.02L352.86 122.38 M352.86 122.38L341.84 116.02 M374.89 122.38L363.87 116.02 M44.44 135.1L44.44 122.38 M198.64 122.38L198.64 135.1 M198.64 135.1L187.63 141.46 M308.8 122.38L308.8 135.1 M319.81 141.46L308.8 135.1 M374.88 122.38L374.88 135.1 M385.9 141.46L374.89 135.1 M44.44 160.53L33.42 154.18 M33.42 154.18L33.42 141.46 M33.42 141.46L44.44 135.1 M187.63 141.46L187.63 154.18 M187.63 154.18L176.62 160.53 M319.81 141.46L319.81 154.18 M319.81 154.18L308.8 160.53 M385.9 141.46L385.9 154.18 M407.93 154.18L396.92 160.53 M396.92 160.53L385.9 154.18 M44.44 173.25L44.44 160.53 M176.62 160.53L176.62 173.25 M187.63 179.61L176.62 173.25 M308.8 160.53L308.8 173.25 M308.8 173.25L297.78 179.61 M407.93 154.18L418.94 160.53 M418.94 160.53L418.94 173.25 M418.94 173.25L407.93 179.61 M44.44 198.69L33.42 192.33 M33.42 192.33L33.42 179.61 M33.42 179.61L44.44 173.25 M187.63 179.61L187.63 192.33 M198.65 198.69L187.63 192.33 M297.78 179.61L297.78 192.33 M308.8 198.69L297.78 192.33 M407.93 179.61L407.93 192.33 M44.44 211.41L44.44 198.69 M198.64 198.69L198.64 211.41 M209.66 217.77L198.65 211.41 M308.8 198.69L308.8 211.41 M319.81 217.77L308.8 211.41 M407.93 192.33L418.94 198.69 M418.94 198.69L418.94 211.41 M418.94 211.41L407.93 217.77 M44.44 236.85L33.42 230.49 M33.42 230.49L33.42 217.77 M33.42 217.77L44.44 211.41 M187.63 230.49L176.62 236.85 M209.66 217.77L209.66 230.49 M209.66 230.49L198.65 236.85 M198.65 236.85L187.63 230.49 M231.69 230.49L220.68 236.85 M220.68 236.85L209.66 230.49 M253.72 230.49L242.71 236.85 M242.71 236.85L231.69 230.49 M275.75 230.49L264.74 236.85 M264.74 236.85L253.72 230.49 M297.78 230.49L286.77 236.85 M286.77 236.85L275.75 230.49 M319.81 217.77L319.81 230.49 M319.81 230.49L308.8 236.85 M308.8 236.85L297.78 230.49 M407.93 217.77L407.93 230.49 M44.44 249.57L44.44 236.85 M176.62 236.85L176.62 249.57 M176.62 249.57L165.6 255.93 M264.74 236.85L264.74 249.57 M275.75 255.93L264.74 249.57 M407.93 230.49L418.94 236.85 M418.94 236.85L418.94 249.57 M418.94 249.57L407.93 255.93 M44.44 275.01L33.42 268.65 M33.42 268.65L33.42 255.93 M33.42 255.93L44.44 249.57 M165.6 255.93L165.6 268.65 M165.6 268.65L154.59 275.01 M176.62 275.01L165.6 268.65 M275.75 255.93L275.75 268.65 M286.77 275.01L275.75 268.65 M407.93 255.93L407.93 268.65 M44.44 287.72L44.44 275.01 M88.5 287.72L77.48 294.08 M110.53 287.72L99.51 294.08 M99.51 294.08L88.5 287.72 M132.56 287.72L121.54 294.08 M121.54 294.08L110.53 287.72 M154.58 275.01L154.58 287.72 M154.58 287.72L143.57 294.08 M143.57 294.08L132.56 287.72 M176.62 275.01L176.62 287.72 M187.63 294.08L176.62 287.72 M286.76 275.01L286.76 287.72 M286.76 287.72L275.75 294.08 M407.93 268.65L418.94 275.01 M418.94 275.01L418.94 287.72 M418.94 287.72L407.93 294.08 M44.44 313.16L33.42 306.8 M33.42 306.8L33.42 294.08 M33.42 294.08L44.44 287.72 M77.48 294.08L77.48 306.8 M77.48 306.8L66.47 313.16 M187.63 294.08L187.63 306.8 M187.63 306.8L176.62 313.16 M275.75 294.08L275.75 306.8 M275.75 306.8L264.74 313.16 M407.93 294.08L407.93 306.8 M66.47 313.16L66.47 325.88 M66.47 325.88L55.45 332.24 M55.45 332.24L44.44 325.88 M44.44 325.88L44.44 313.16 M176.62 313.16L176.62 325.88 M176.62 325.88L165.6 332.24 M198.64 325.88L187.63 332.24 M187.63 332.24L176.62 325.88 M209.66 332.24L198.65 325.88 M264.74 313.16L264.74 325.88 M275.75 332.24L264.74 325.88 M407.93 306.8L418.94 313.16 M418.94 313.16L418.94 325.88 M418.94 325.88L407.93 332.24 M44.44 351.32L33.42 344.96 M33.42 344.96L33.42 332.24 M33.42 332.24L44.44 325.88 M165.6 332.24L165.6 344.96 M165.6 344.96L154.59 351.32 M209.66 332.24L209.66 344.96 M231.69 344.96L220.68 351.32 M220.68 351.32L209.66 344.96 M253.72 344.96L242.71 351.32 M242.71 351.32L231.69 344.96 M275.75 332.24L275.75 344.96 M275.75 344.96L264.74 351.32 M264.74 351.32L253.72 344.96 M407.93 332.24L407.93 344.96 M44.44 364.04L44.44 351.32 M154.58 351.32L154.58 364.04 M154.58 364.04L143.57 370.4 M264.74 351.32L264.74 364.04 M286.76 364.04L275.75 370.4 M275.75 370.4L264.74 364.04 M297.78 370.4L286.77 364.04 M407.93 344.96L418.94 351.32 M418.94 351.32L418.94 364.04 M418.94 364.04L407.93 370.4 M44.44 389.48L33.42 383.12 M33.42 383.12L33.42 370.4 M33.42 370.4L44.44 364.04 M143.57 370.4L143.57 383.12 M154.59 389.48L143.57 383.12 M297.78 370.4L297.78 383.12 M297.78 383.12L286.77 389.48 M407.93 370.4L407.93 383.12 M44.44 402.2L44.44 389.48 M154.58 389.48L154.58 402.2 M154.58 402.2L143.57 408.56 M286.76 389.48L286.76 402.2 M297.78 408.56L286.77 402.2 M407.93 383.12L418.94 389.48 M418.94 389.48L418.94 402.2 M418.94 402.2L407.93 408.56 M44.44 427.63L33.42 421.27 M33.42 421.27L33.42 408.56 M33.42 408.56L44.44 402.2 M143.57 408.56L143.57 421.27 M154.59 427.63L143.57 421.27 M297.78 408.56L297.78 421.27 M297.78 421.27L286.77 427.63 M407.93 408.56L407.93 421.27 M44.44 440.35L44.44 427.63 M154.58 427.63L154.58 440.35 M154.58 440.35L143.57 446.71 M286.76 427.63L286.76 440.35 M297.78 446.71L286.77 440.35 M330.82 440.35L319.81 446.71 M352.85 440.35L341.84 446.71 M341.84 446.71L330.82 440.35 M374.88 440.35L363.87 446.71 M363.87 446.71L352.86 440.35 M396.92 440.35L385.9 446.71 M385.9 446.71L374.89 440.35 M407.93 421.27L418.94 427.63 M418.94 427.63L418.94 440.35 M418.94 440.35L407.93 446.71 M407.93 446.71L396.92 440.35 M55.45 459.43L44.44 465.79 M44.44 465.79L33.42 459.43 M33.42 459.43L33.42 446.71 M33.42 446.71L44.44 440.35 M77.48 459.43L66.47 465.79 M66.47 465.79L55.45 459.43 M99.51 459.43L88.5 465.79 M88.5 465.79L77.48 459.43 M121.54 459.43L110.53 465.79 M110.53 465.79L99.51 459.43 M143.57 446.71L143.57 459.43 M143.57 459.43L132.56 465.79 M132.56 465.79L121.54 459.43 M297.78 446.71L297.78 459.43 M297.78 459.43L286.77 465.79 M319.81 446.71L319.81 459.43 M319.81 459.43L308.8 465.79 M308.8 465.79L297.78 459.43 M407.93 446.71L407.93 459.43 M44.44 478.51L44.44 465.79 M286.76 465.79L286.76 478.51 M286.76 478.51L275.75 484.87 M407.93 459.43L418.94 465.79 M418.94 465.79L418.94 478.51 M418.94 478.51L407.93 484.87 M44.44 503.95L33.42 497.59 M33.42 497.59L33.42 484.87 M33.42 484.87L44.44 478.51 M275.75 484.87L275.75 497.59 M286.77 503.95L275.75 497.59 M407.93 484.87L407.93 497.59 M44.44 516.67L44.44 503.95 M286.76 503.95L286.76 516.67 M286.76 516.67L275.75 523.03 M407.93 497.59L418.94 503.95 M418.94 503.95L418.94 516.67 M418.94 516.67L407.93 523.03 M55.45 535.75L44.44 542.11 M44.44 542.11L33.42 535.75 M33.42 535.75L33.42 523.03 M33.42 523.03L44.44 516.67 M77.48 535.75L66.47 542.11 M66.47 542.11L55.45 535.75 M99.51 535.75L88.5 542.11 M88.5 542.11L77.48 535.75 M121.54 535.75L110.53 542.11 M110.53 542.11L99.51 535.75 M143.57 535.75L132.56 542.11 M132.56 542.11L121.54 535.75 M165.6 535.75L154.59 542.11 M154.59 542.11L143.57 535.75 M187.63 535.75L176.62 542.11 M176.62 542.11L165.6 535.75 M209.66 535.75L198.65 542.11 M198.65 542.11L187.63 535.75 M231.69 535.75L220.68 542.11 M220.68 542.11L209.66 535.75 M253.72 535.75L242.71 542.11 M242.71 542.11L231.69 535.75 M275.75 523.03L275.75 535.75 M275.75 535.75L264.74 542.11 M264.74 542.11L253.72 535.75 M297.78 535.75L286.77 542.11 M286.77 542.11L275.75 535.75 M319.81 535.75L308.8 542.11 M308.8 542.11L297.78 535.75 M341.84 535.75L330.82 542.11 M330.82 542.11L319.81 535.75 M363.87 535.75L352.86 542.11 M352.86 542.11L341.84 535.75 M385.9 535.75L374.89 542.11 M374.89 542.11L363.87 535.75 M407.93 523.03L407.93 535.75 M407.93 535.75L396.92 542.11 M396.92 542.11L385.9 535.75" fill="none" stroke="#b24f9d" stroke-width="2.3" stroke-linecap="round" stroke-linejoin="round"/>
</g>
<g stroke="#fff" stroke-width="0.5" stroke-opacity="0.09">
<use href="#hx2203" x="596.1" y="90.6" fill="#8fc479"/>
<use href="#hx2203" x="618.1" y="90.6" fill="#74b65f"/>
<use href="#hx2203" x="640.2" y="90.6" fill="#5ca551"/>
<use href="#hx2203" x="662.2" y="90.6" fill="#45904b"/>
<use href="#hx2203" x="684.2" y="90.6" fill="#1d5e33"/>
<use href="#hx2203" x="706.2" y="90.6" fill="#2f7340"/>
<use href="#hx2203" x="728.3" y="90.6" fill="#5ca551"/>
<use href="#hx2203" x="750.3" y="90.6" fill="#a9d192"/>
<use href="#hx2203" x="772.3" y="90.6" fill="#e0ebd7"/>
<use href="#hx2203" x="794.4" y="90.6" fill="#f2f2f2"/>
<use href="#hx2203" x="816.4" y="90.6" fill="#f0d4e2"/>
<use href="#hx2203" x="838.4" y="90.6" fill="#e8a9cc"/>
<use href="#hx2203" x="860.5" y="90.6" fill="#d3509a"/>
<use href="#hx2203" x="882.5" y="90.6" fill="#c41d80"/>
<use href="#hx2203" x="904.5" y="90.6" fill="#d3509a"/>
<use href="#hx2203" x="926.6" y="90.6" fill="#e291bf"/>
<use href="#hx2203" x="948.6" y="90.6" fill="#e8a9cc"/>
<use href="#hx2203" x="585.1" y="109.7" fill="#a9d192"/>
<use href="#hx2203" x="607.1" y="109.7" fill="#8fc479"/>
<use href="#hx2203" x="629.1" y="109.7" fill="#74b65f"/>
<use href="#hx2203" x="651.2" y="109.7" fill="#5ca551"/>
<use href="#hx2203" x="673.2" y="109.7" fill="#45904b"/>
<use href="#hx2203" x="695.2" y="109.7" fill="#45904b"/>
<use href="#hx2203" x="717.3" y="109.7" fill="#5ca551"/>
<use href="#hx2203" x="739.3" y="109.7" fill="#74b65f"/>
<use href="#hx2203" x="761.3" y="109.7" fill="#a9d192"/>
<use href="#hx2203" x="783.4" y="109.7" fill="#e0ebd7"/>
<use href="#hx2203" x="805.4" y="109.7" fill="#f2e5eb"/>
<use href="#hx2203" x="827.4" y="109.7" fill="#ecbfd7"/>
<use href="#hx2203" x="849.4" y="109.7" fill="#e8a9cc"/>
<use href="#hx2203" x="871.5" y="109.7" fill="#db73ae"/>
<use href="#hx2203" x="893.5" y="109.7" fill="#db73ae"/>
<use href="#hx2203" x="915.5" y="109.7" fill="#e291bf"/>
<use href="#hx2203" x="937.6" y="109.7" fill="#ecbfd7"/>
<use href="#hx2203" x="596.1" y="128.7" fill="#cbe2bd"/>
<use href="#hx2203" x="618.1" y="128.7" fill="#a9d192"/>
<use href="#hx2203" x="640.2" y="128.7" fill="#8fc479"/>
<use href="#hx2203" x="662.2" y="128.7" fill="#74b65f"/>
<use href="#hx2203" x="684.2" y="128.7" fill="#5ca551"/>
<use href="#hx2203" x="706.2" y="128.7" fill="#5ca551"/>
<use href="#hx2203" x="728.3" y="128.7" fill="#74b65f"/>
<use href="#hx2203" x="750.3" y="128.7" fill="#a9d192"/>
<use href="#hx2203" x="772.3" y="128.7" fill="#cbe2bd"/>
<use href="#hx2203" x="794.4" y="128.7" fill="#e0ebd7"/>
<use href="#hx2203" x="816.4" y="128.7" fill="#f2e5eb"/>
<use href="#hx2203" x="838.4" y="128.7" fill="#ecbfd7"/>
<use href="#hx2203" x="860.5" y="128.7" fill="#e8a9cc"/>
<use href="#hx2203" x="882.5" y="128.7" fill="#e291bf"/>
<use href="#hx2203" x="904.5" y="128.7" fill="#e291bf"/>
<use href="#hx2203" x="926.6" y="128.7" fill="#ecbfd7"/>
<use href="#hx2203" x="948.6" y="128.7" fill="#f0d4e2"/>
<use href="#hx2203" x="585.1" y="147.8" fill="#e0ebd7"/>
<use href="#hx2203" x="607.1" y="147.8" fill="#cbe2bd"/>
<use href="#hx2203" x="629.1" y="147.8" fill="#a9d192"/>
<use href="#hx2203" x="651.2" y="147.8" fill="#a9d192"/>
<use href="#hx2203" x="673.2" y="147.8" fill="#8fc479"/>
<use href="#hx2203" x="695.2" y="147.8" fill="#74b65f"/>
<use href="#hx2203" x="717.3" y="147.8" fill="#74b65f"/>
<use href="#hx2203" x="739.3" y="147.8" fill="#a9d192"/>
<use href="#hx2203" x="761.3" y="147.8" fill="#a9d192"/>
<use href="#hx2203" x="783.4" y="147.8" fill="#cbe2bd"/>
<use href="#hx2203" x="805.4" y="147.8" fill="#f2f2f2"/>
<use href="#hx2203" x="827.4" y="147.8" fill="#f0d4e2"/>
<use href="#hx2203" x="849.4" y="147.8" fill="#ecbfd7"/>
<use href="#hx2203" x="871.5" y="147.8" fill="#ecbfd7"/>
<use href="#hx2203" x="893.5" y="147.8" fill="#e8a9cc"/>
<use href="#hx2203" x="915.5" y="147.8" fill="#ecbfd7"/>
<use href="#hx2203" x="937.6" y="147.8" fill="#f0d4e2"/>
<use href="#hx2203" x="596.1" y="166.9" fill="#e0ebd7"/>
<use href="#hx2203" x="618.1" y="166.9" fill="#cbe2bd"/>
<use href="#hx2203" x="640.2" y="166.9" fill="#cbe2bd"/>
<use href="#hx2203" x="662.2" y="166.9" fill="#a9d192"/>
<use href="#hx2203" x="684.2" y="166.9" fill="#8fc479"/>
<use href="#hx2203" x="706.2" y="166.9" fill="#8fc479"/>
<use href="#hx2203" x="728.3" y="166.9" fill="#8fc479"/>
<use href="#hx2203" x="750.3" y="166.9" fill="#a9d192"/>
<use href="#hx2203" x="772.3" y="166.9" fill="#a9d192"/>
<use href="#hx2203" x="794.4" y="166.9" fill="#cbe2bd"/>
<use href="#hx2203" x="816.4" y="166.9" fill="#e0ebd7"/>
<use href="#hx2203" x="838.4" y="166.9" fill="#f2e5eb"/>
<use href="#hx2203" x="860.5" y="166.9" fill="#f0d4e2"/>
<use href="#hx2203" x="882.5" y="166.9" fill="#f0d4e2"/>
<use href="#hx2203" x="904.5" y="166.9" fill="#f0d4e2"/>
<use href="#hx2203" x="926.6" y="166.9" fill="#f0d4e2"/>
<use href="#hx2203" x="948.6" y="166.9" fill="#f2e5eb"/>
<use href="#hx2203" x="585.1" y="186.0" fill="#f2f2f2"/>
<use href="#hx2203" x="607.1" y="186.0" fill="#e0ebd7"/>
<use href="#hx2203" x="629.1" y="186.0" fill="#e0ebd7"/>
<use href="#hx2203" x="651.2" y="186.0" fill="#cbe2bd"/>
<use href="#hx2203" x="673.2" y="186.0" fill="#a9d192"/>
<use href="#hx2203" x="695.2" y="186.0" fill="#a9d192"/>
<use href="#hx2203" x="717.3" y="186.0" fill="#a9d192"/>
<use href="#hx2203" x="739.3" y="186.0" fill="#cbe2bd"/>
<use href="#hx2203" x="761.3" y="186.0" fill="#e0ebd7"/>
<use href="#hx2203" x="783.4" y="186.0" fill="#f2f2f2"/>
<use href="#hx2203" x="805.4" y="186.0" fill="#f2e5eb"/>
<use href="#hx2203" x="827.4" y="186.0" fill="#f2e5eb"/>
<use href="#hx2203" x="849.4" y="186.0" fill="#f2e5eb"/>
<use href="#hx2203" x="871.5" y="186.0" fill="#f2e5eb"/>
<use href="#hx2203" x="893.5" y="186.0" fill="#f2e5eb"/>
<use href="#hx2203" x="915.5" y="186.0" fill="#f2e5eb"/>
<use href="#hx2203" x="937.6" y="186.0" fill="#f2f2f2"/>
<use href="#hx2203" x="596.1" y="205.1" fill="#f2f2f2"/>
<use href="#hx2203" x="618.1" y="205.1" fill="#e0ebd7"/>
<use href="#hx2203" x="640.2" y="205.1" fill="#e0ebd7"/>
<use href="#hx2203" x="662.2" y="205.1" fill="#e0ebd7"/>
<use href="#hx2203" x="684.2" y="205.1" fill="#cbe2bd"/>
<use href="#hx2203" x="706.2" y="205.1" fill="#cbe2bd"/>
<use href="#hx2203" x="728.3" y="205.1" fill="#e0ebd7"/>
<use href="#hx2203" x="750.3" y="205.1" fill="#e0ebd7"/>
<use href="#hx2203" x="772.3" y="205.1" fill="#e0ebd7"/>
<use href="#hx2203" x="794.4" y="205.1" fill="#f2f2f2"/>
<use href="#hx2203" x="816.4" y="205.1" fill="#f0d4e2"/>
<use href="#hx2203" x="838.4" y="205.1" fill="#f0d4e2"/>
<use href="#hx2203" x="860.5" y="205.1" fill="#f2e5eb"/>
<use href="#hx2203" x="882.5" y="205.1" fill="#f2e5eb"/>
<use href="#hx2203" x="904.5" y="205.1" fill="#f2e5eb"/>
<use href="#hx2203" x="926.6" y="205.1" fill="#f2f2f2"/>
<use href="#hx2203" x="948.6" y="205.1" fill="#f2f2f2"/>
<use href="#hx2203" x="585.1" y="224.1" fill="#e0ebd7"/>
<use href="#hx2203" x="607.1" y="224.1" fill="#e0ebd7"/>
<use href="#hx2203" x="629.1" y="224.1" fill="#e0ebd7"/>
<use href="#hx2203" x="651.2" y="224.1" fill="#e0ebd7"/>
<use href="#hx2203" x="673.2" y="224.1" fill="#e0ebd7"/>
<use href="#hx2203" x="695.2" y="224.1" fill="#e0ebd7"/>
<use href="#hx2203" x="717.3" y="224.1" fill="#e0ebd7"/>
<use href="#hx2203" x="739.3" y="224.1" fill="#e0ebd7"/>
<use href="#hx2203" x="761.3" y="224.1" fill="#e0ebd7"/>
<use href="#hx2203" x="783.4" y="224.1" fill="#f2f2f2"/>
<use href="#hx2203" x="805.4" y="224.1" fill="#ecbfd7"/>
<use href="#hx2203" x="827.4" y="224.1" fill="#ecbfd7"/>
<use href="#hx2203" x="849.4" y="224.1" fill="#ecbfd7"/>
<use href="#hx2203" x="871.5" y="224.1" fill="#f0d4e2"/>
<use href="#hx2203" x="893.5" y="224.1" fill="#f2e5eb"/>
<use href="#hx2203" x="915.5" y="224.1" fill="#f2f2f2"/>
<use href="#hx2203" x="937.6" y="224.1" fill="#f2f2f2"/>
<use href="#hx2203" x="596.1" y="243.2" fill="#cbe2bd"/>
<use href="#hx2203" x="618.1" y="243.2" fill="#e0ebd7"/>
<use href="#hx2203" x="640.2" y="243.2" fill="#e0ebd7"/>
<use href="#hx2203" x="662.2" y="243.2" fill="#e0ebd7"/>
<use href="#hx2203" x="684.2" y="243.2" fill="#e0ebd7"/>
<use href="#hx2203" x="706.2" y="243.2" fill="#e0ebd7"/>
<use href="#hx2203" x="728.3" y="243.2" fill="#e0ebd7"/>
<use href="#hx2203" x="750.3" y="243.2" fill="#cbe2bd"/>
<use href="#hx2203" x="772.3" y="243.2" fill="#e0ebd7"/>
<use href="#hx2203" x="794.4" y="243.2" fill="#f0d4e2"/>
<use href="#hx2203" x="816.4" y="243.2" fill="#ecbfd7"/>
<use href="#hx2203" x="838.4" y="243.2" fill="#ecbfd7"/>
<use href="#hx2203" x="860.5" y="243.2" fill="#f0d4e2"/>
<use href="#hx2203" x="882.5" y="243.2" fill="#f2e5eb"/>
<use href="#hx2203" x="904.5" y="243.2" fill="#f2e5eb"/>
<use href="#hx2203" x="926.6" y="243.2" fill="#f2f2f2"/>
<use href="#hx2203" x="948.6" y="243.2" fill="#f2f2f2"/>
<use href="#hx2203" x="585.1" y="262.3" fill="#a9d192"/>
<use href="#hx2203" x="607.1" y="262.3" fill="#a9d192"/>
<use href="#hx2203" x="629.1" y="262.3" fill="#cbe2bd"/>
<use href="#hx2203" x="651.2" y="262.3" fill="#cbe2bd"/>
<use href="#hx2203" x="673.2" y="262.3" fill="#e0ebd7"/>
<use href="#hx2203" x="695.2" y="262.3" fill="#e0ebd7"/>
<use href="#hx2203" x="717.3" y="262.3" fill="#cbe2bd"/>
<use href="#hx2203" x="739.3" y="262.3" fill="#a9d192"/>
<use href="#hx2203" x="761.3" y="262.3" fill="#a9d192"/>
<use href="#hx2203" x="783.4" y="262.3" fill="#e0ebd7"/>
<use href="#hx2203" x="805.4" y="262.3" fill="#f0d4e2"/>
<use href="#hx2203" x="827.4" y="262.3" fill="#e8a9cc"/>
<use href="#hx2203" x="849.4" y="262.3" fill="#ecbfd7"/>
<use href="#hx2203" x="871.5" y="262.3" fill="#f0d4e2"/>
<use href="#hx2203" x="893.5" y="262.3" fill="#f2e5eb"/>
<use href="#hx2203" x="915.5" y="262.3" fill="#f2e5eb"/>
<use href="#hx2203" x="937.6" y="262.3" fill="#f2e5eb"/>
<use href="#hx2203" x="596.1" y="281.4" fill="#8fc479"/>
<use href="#hx2203" x="618.1" y="281.4" fill="#a9d192"/>
<use href="#hx2203" x="640.2" y="281.4" fill="#a9d192"/>
<use href="#hx2203" x="662.2" y="281.4" fill="#cbe2bd"/>
<use href="#hx2203" x="684.2" y="281.4" fill="#cbe2bd"/>
<use href="#hx2203" x="706.2" y="281.4" fill="#a9d192"/>
<use href="#hx2203" x="728.3" y="281.4" fill="#8fc479"/>
<use href="#hx2203" x="750.3" y="281.4" fill="#8fc479"/>
<use href="#hx2203" x="772.3" y="281.4" fill="#cbe2bd"/>
<use href="#hx2203" x="794.4" y="281.4" fill="#f2f2f2"/>
<use href="#hx2203" x="816.4" y="281.4" fill="#f0d4e2"/>
<use href="#hx2203" x="838.4" y="281.4" fill="#e8a9cc"/>
<use href="#hx2203" x="860.5" y="281.4" fill="#ecbfd7"/>
<use href="#hx2203" x="882.5" y="281.4" fill="#f0d4e2"/>
<use href="#hx2203" x="904.5" y="281.4" fill="#f0d4e2"/>
<use href="#hx2203" x="926.6" y="281.4" fill="#f0d4e2"/>
<use href="#hx2203" x="948.6" y="281.4" fill="#f0d4e2"/>
<use href="#hx2203" x="585.1" y="300.4" fill="#74b65f"/>
<use href="#hx2203" x="607.1" y="300.4" fill="#8fc479"/>
<use href="#hx2203" x="629.1" y="300.4" fill="#8fc479"/>
<use href="#hx2203" x="651.2" y="300.4" fill="#a9d192"/>
<use href="#hx2203" x="673.2" y="300.4" fill="#a9d192"/>
<use href="#hx2203" x="695.2" y="300.4" fill="#a9d192"/>
<use href="#hx2203" x="717.3" y="300.4" fill="#8fc479"/>
<use href="#hx2203" x="739.3" y="300.4" fill="#8fc479"/>
<use href="#hx2203" x="761.3" y="300.4" fill="#a9d192"/>
<use href="#hx2203" x="783.4" y="300.4" fill="#e0ebd7"/>
<use href="#hx2203" x="805.4" y="300.4" fill="#f2f2f2"/>
<use href="#hx2203" x="827.4" y="300.4" fill="#f0d4e2"/>
<use href="#hx2203" x="849.4" y="300.4" fill="#e8a9cc"/>
<use href="#hx2203" x="871.5" y="300.4" fill="#ecbfd7"/>
<use href="#hx2203" x="893.5" y="300.4" fill="#ecbfd7"/>
<use href="#hx2203" x="915.5" y="300.4" fill="#ecbfd7"/>
<use href="#hx2203" x="937.6" y="300.4" fill="#f0d4e2"/>
<use href="#hx2203" x="596.1" y="319.5" fill="#74b65f"/>
<use href="#hx2203" x="618.1" y="319.5" fill="#74b65f"/>
<use href="#hx2203" x="640.2" y="319.5" fill="#8fc479"/>
<use href="#hx2203" x="662.2" y="319.5" fill="#8fc479"/>
<use href="#hx2203" x="684.2" y="319.5" fill="#a9d192"/>
<use href="#hx2203" x="706.2" y="319.5" fill="#8fc479"/>
<use href="#hx2203" x="728.3" y="319.5" fill="#8fc479"/>
<use href="#hx2203" x="750.3" y="319.5" fill="#a9d192"/>
<use href="#hx2203" x="772.3" y="319.5" fill="#cbe2bd"/>
<use href="#hx2203" x="794.4" y="319.5" fill="#e0ebd7"/>
<use href="#hx2203" x="816.4" y="319.5" fill="#f2e5eb"/>
<use href="#hx2203" x="838.4" y="319.5" fill="#f0d4e2"/>
<use href="#hx2203" x="860.5" y="319.5" fill="#ecbfd7"/>
<use href="#hx2203" x="882.5" y="319.5" fill="#ecbfd7"/>
<use href="#hx2203" x="904.5" y="319.5" fill="#ecbfd7"/>
<use href="#hx2203" x="926.6" y="319.5" fill="#e8a9cc"/>
<use href="#hx2203" x="948.6" y="319.5" fill="#ecbfd7"/>
<use href="#hx2203" x="585.1" y="338.6" fill="#5ca551"/>
<use href="#hx2203" x="607.1" y="338.6" fill="#5ca551"/>
<use href="#hx2203" x="629.1" y="338.6" fill="#74b65f"/>
<use href="#hx2203" x="651.2" y="338.6" fill="#74b65f"/>
<use href="#hx2203" x="673.2" y="338.6" fill="#8fc479"/>
<use href="#hx2203" x="695.2" y="338.6" fill="#a9d192"/>
<use href="#hx2203" x="717.3" y="338.6" fill="#a9d192"/>
<use href="#hx2203" x="739.3" y="338.6" fill="#a9d192"/>
<use href="#hx2203" x="761.3" y="338.6" fill="#cbe2bd"/>
<use href="#hx2203" x="783.4" y="338.6" fill="#e0ebd7"/>
<use href="#hx2203" x="805.4" y="338.6" fill="#f2f2f2"/>
<use href="#hx2203" x="827.4" y="338.6" fill="#f2e5eb"/>
<use href="#hx2203" x="849.4" y="338.6" fill="#f0d4e2"/>
<use href="#hx2203" x="871.5" y="338.6" fill="#ecbfd7"/>
<use href="#hx2203" x="893.5" y="338.6" fill="#e291bf"/>
<use href="#hx2203" x="915.5" y="338.6" fill="#e291bf"/>
<use href="#hx2203" x="937.6" y="338.6" fill="#e291bf"/>
<use href="#hx2203" x="596.1" y="357.7" fill="#45904b"/>
<use href="#hx2203" x="618.1" y="357.7" fill="#5ca551"/>
<use href="#hx2203" x="640.2" y="357.7" fill="#74b65f"/>
<use href="#hx2203" x="662.2" y="357.7" fill="#74b65f"/>
<use href="#hx2203" x="684.2" y="357.7" fill="#8fc479"/>
<use href="#hx2203" x="706.2" y="357.7" fill="#a9d192"/>
<use href="#hx2203" x="728.3" y="357.7" fill="#cbe2bd"/>
<use href="#hx2203" x="750.3" y="357.7" fill="#cbe2bd"/>
<use href="#hx2203" x="772.3" y="357.7" fill="#e0ebd7"/>
<use href="#hx2203" x="794.4" y="357.7" fill="#f2f2f2"/>
<use href="#hx2203" x="816.4" y="357.7" fill="#f2e5eb"/>
<use href="#hx2203" x="838.4" y="357.7" fill="#f0d4e2"/>
<use href="#hx2203" x="860.5" y="357.7" fill="#ecbfd7"/>
<use href="#hx2203" x="882.5" y="357.7" fill="#e8a9cc"/>
<use href="#hx2203" x="904.5" y="357.7" fill="#e291bf"/>
<use href="#hx2203" x="926.6" y="357.7" fill="#e291bf"/>
<use href="#hx2203" x="948.6" y="357.7" fill="#db73ae"/>
<use href="#hx2203" x="585.1" y="376.8" fill="#1d5e33"/>
<use href="#hx2203" x="607.1" y="376.8" fill="#2f7340"/>
<use href="#hx2203" x="629.1" y="376.8" fill="#45904b"/>
<use href="#hx2203" x="651.2" y="376.8" fill="#5ca551"/>
<use href="#hx2203" x="673.2" y="376.8" fill="#74b65f"/>
<use href="#hx2203" x="695.2" y="376.8" fill="#a9d192"/>
<use href="#hx2203" x="717.3" y="376.8" fill="#cbe2bd"/>
<use href="#hx2203" x="739.3" y="376.8" fill="#cbe2bd"/>
<use href="#hx2203" x="761.3" y="376.8" fill="#e0ebd7"/>
<use href="#hx2203" x="783.4" y="376.8" fill="#e0ebd7"/>
<use href="#hx2203" x="805.4" y="376.8" fill="#f2f2f2"/>
<use href="#hx2203" x="827.4" y="376.8" fill="#f2e5eb"/>
<use href="#hx2203" x="849.4" y="376.8" fill="#f0d4e2"/>
<use href="#hx2203" x="871.5" y="376.8" fill="#ecbfd7"/>
<use href="#hx2203" x="893.5" y="376.8" fill="#e8a9cc"/>
<use href="#hx2203" x="915.5" y="376.8" fill="#e291bf"/>
<use href="#hx2203" x="937.6" y="376.8" fill="#db73ae"/>
<use href="#hx2203" x="596.1" y="395.8" fill="#1d5e33"/>
<use href="#hx2203" x="618.1" y="395.8" fill="#2f7340"/>
<use href="#hx2203" x="640.2" y="395.8" fill="#45904b"/>
<use href="#hx2203" x="662.2" y="395.8" fill="#5ca551"/>
<use href="#hx2203" x="684.2" y="395.8" fill="#8fc479"/>
<use href="#hx2203" x="706.2" y="395.8" fill="#a9d192"/>
<use href="#hx2203" x="728.3" y="395.8" fill="#cbe2bd"/>
<use href="#hx2203" x="750.3" y="395.8" fill="#e0ebd7"/>
<use href="#hx2203" x="772.3" y="395.8" fill="#e0ebd7"/>
<use href="#hx2203" x="794.4" y="395.8" fill="#f2f2f2"/>
<use href="#hx2203" x="816.4" y="395.8" fill="#f2f2f2"/>
<use href="#hx2203" x="838.4" y="395.8" fill="#f2e5eb"/>
<use href="#hx2203" x="860.5" y="395.8" fill="#f0d4e2"/>
<use href="#hx2203" x="882.5" y="395.8" fill="#ecbfd7"/>
<use href="#hx2203" x="904.5" y="395.8" fill="#e8a9cc"/>
<use href="#hx2203" x="926.6" y="395.8" fill="#e291bf"/>
<use href="#hx2203" x="948.6" y="395.8" fill="#d3509a"/>
<use href="#hx2203" x="585.1" y="414.9" fill="#1d5e33"/>
<use href="#hx2203" x="607.1" y="414.9" fill="#2f7340"/>
<use href="#hx2203" x="629.1" y="414.9" fill="#45904b"/>
<use href="#hx2203" x="651.2" y="414.9" fill="#5ca551"/>
<use href="#hx2203" x="673.2" y="414.9" fill="#74b65f"/>
<use href="#hx2203" x="695.2" y="414.9" fill="#a9d192"/>
<use href="#hx2203" x="717.3" y="414.9" fill="#a9d192"/>
<use href="#hx2203" x="739.3" y="414.9" fill="#cbe2bd"/>
<use href="#hx2203" x="761.3" y="414.9" fill="#e0ebd7"/>
<use href="#hx2203" x="783.4" y="414.9" fill="#e0ebd7"/>
<use href="#hx2203" x="805.4" y="414.9" fill="#f2f2f2"/>
<use href="#hx2203" x="827.4" y="414.9" fill="#f2f2f2"/>
<use href="#hx2203" x="849.4" y="414.9" fill="#f2e5eb"/>
<use href="#hx2203" x="871.5" y="414.9" fill="#f0d4e2"/>
<use href="#hx2203" x="893.5" y="414.9" fill="#ecbfd7"/>
<use href="#hx2203" x="915.5" y="414.9" fill="#ecbfd7"/>
<use href="#hx2203" x="937.6" y="414.9" fill="#e291bf"/>
<use href="#hx2203" x="596.1" y="434.0" fill="#2f7340"/>
<use href="#hx2203" x="618.1" y="434.0" fill="#45904b"/>
<use href="#hx2203" x="640.2" y="434.0" fill="#5ca551"/>
<use href="#hx2203" x="662.2" y="434.0" fill="#74b65f"/>
<use href="#hx2203" x="684.2" y="434.0" fill="#8fc479"/>
<use href="#hx2203" x="706.2" y="434.0" fill="#a9d192"/>
<use href="#hx2203" x="728.3" y="434.0" fill="#cbe2bd"/>
<use href="#hx2203" x="750.3" y="434.0" fill="#cbe2bd"/>
<use href="#hx2203" x="772.3" y="434.0" fill="#e0ebd7"/>
<use href="#hx2203" x="794.4" y="434.0" fill="#e0ebd7"/>
<use href="#hx2203" x="816.4" y="434.0" fill="#e0ebd7"/>
<use href="#hx2203" x="838.4" y="434.0" fill="#f2f2f2"/>
<use href="#hx2203" x="860.5" y="434.0" fill="#f2e5eb"/>
<use href="#hx2203" x="882.5" y="434.0" fill="#f0d4e2"/>
<use href="#hx2203" x="904.5" y="434.0" fill="#f0d4e2"/>
<use href="#hx2203" x="926.6" y="434.0" fill="#ecbfd7"/>
<use href="#hx2203" x="948.6" y="434.0" fill="#e8a9cc"/>
<use href="#hx2203" x="585.1" y="453.1" fill="#2f7340"/>
<use href="#hx2203" x="607.1" y="453.1" fill="#45904b"/>
<use href="#hx2203" x="629.1" y="453.1" fill="#5ca551"/>
<use href="#hx2203" x="651.2" y="453.1" fill="#74b65f"/>
<use href="#hx2203" x="673.2" y="453.1" fill="#8fc479"/>
<use href="#hx2203" x="695.2" y="453.1" fill="#a9d192"/>
<use href="#hx2203" x="717.3" y="453.1" fill="#a9d192"/>
<use href="#hx2203" x="739.3" y="453.1" fill="#cbe2bd"/>
<use href="#hx2203" x="761.3" y="453.1" fill="#e0ebd7"/>
<use href="#hx2203" x="783.4" y="453.1" fill="#e0ebd7"/>
<use href="#hx2203" x="805.4" y="453.1" fill="#e0ebd7"/>
<use href="#hx2203" x="827.4" y="453.1" fill="#e0ebd7"/>
<use href="#hx2203" x="849.4" y="453.1" fill="#f2f2f2"/>
<use href="#hx2203" x="871.5" y="453.1" fill="#f2e5eb"/>
<use href="#hx2203" x="893.5" y="453.1" fill="#f0d4e2"/>
<use href="#hx2203" x="915.5" y="453.1" fill="#ecbfd7"/>
<use href="#hx2203" x="937.6" y="453.1" fill="#e291bf"/>
<use href="#hx2203" x="596.1" y="472.2" fill="#5ca551"/>
<use href="#hx2203" x="618.1" y="472.2" fill="#74b65f"/>
<use href="#hx2203" x="640.2" y="472.2" fill="#8fc479"/>
<use href="#hx2203" x="662.2" y="472.2" fill="#8fc479"/>
<use href="#hx2203" x="684.2" y="472.2" fill="#a9d192"/>
<use href="#hx2203" x="706.2" y="472.2" fill="#a9d192"/>
<use href="#hx2203" x="728.3" y="472.2" fill="#a9d192"/>
<use href="#hx2203" x="750.3" y="472.2" fill="#cbe2bd"/>
<use href="#hx2203" x="772.3" y="472.2" fill="#e0ebd7"/>
<use href="#hx2203" x="794.4" y="472.2" fill="#e0ebd7"/>
<use href="#hx2203" x="816.4" y="472.2" fill="#e0ebd7"/>
<use href="#hx2203" x="838.4" y="472.2" fill="#e0ebd7"/>
<use href="#hx2203" x="860.5" y="472.2" fill="#f2e5eb"/>
<use href="#hx2203" x="882.5" y="472.2" fill="#f0d4e2"/>
<use href="#hx2203" x="904.5" y="472.2" fill="#ecbfd7"/>
<use href="#hx2203" x="926.6" y="472.2" fill="#e8a9cc"/>
<use href="#hx2203" x="948.6" y="472.2" fill="#db73ae"/>
<use href="#hx2203" x="585.1" y="491.2" fill="#5ca551"/>
<use href="#hx2203" x="607.1" y="491.2" fill="#74b65f"/>
<use href="#hx2203" x="629.1" y="491.2" fill="#8fc479"/>
<use href="#hx2203" x="651.2" y="491.2" fill="#a9d192"/>
<use href="#hx2203" x="673.2" y="491.2" fill="#a9d192"/>
<use href="#hx2203" x="695.2" y="491.2" fill="#a9d192"/>
<use href="#hx2203" x="717.3" y="491.2" fill="#a9d192"/>
<use href="#hx2203" x="739.3" y="491.2" fill="#cbe2bd"/>
<use href="#hx2203" x="761.3" y="491.2" fill="#e0ebd7"/>
<use href="#hx2203" x="783.4" y="491.2" fill="#e0ebd7"/>
<use href="#hx2203" x="805.4" y="491.2" fill="#e0ebd7"/>
<use href="#hx2203" x="827.4" y="491.2" fill="#e0ebd7"/>
<use href="#hx2203" x="849.4" y="491.2" fill="#e0ebd7"/>
<use href="#hx2203" x="871.5" y="491.2" fill="#f2f2f2"/>
<use href="#hx2203" x="893.5" y="491.2" fill="#f0d4e2"/>
<use href="#hx2203" x="915.5" y="491.2" fill="#ecbfd7"/>
<use href="#hx2203" x="937.6" y="491.2" fill="#e291bf"/>
<use href="#hx2203" x="596.1" y="510.3" fill="#74b65f"/>
<use href="#hx2203" x="618.1" y="510.3" fill="#8fc479"/>
<use href="#hx2203" x="640.2" y="510.3" fill="#a9d192"/>
<use href="#hx2203" x="662.2" y="510.3" fill="#a9d192"/>
<use href="#hx2203" x="684.2" y="510.3" fill="#a9d192"/>
<use href="#hx2203" x="706.2" y="510.3" fill="#8fc479"/>
<use href="#hx2203" x="728.3" y="510.3" fill="#a9d192"/>
<use href="#hx2203" x="750.3" y="510.3" fill="#cbe2bd"/>
<use href="#hx2203" x="772.3" y="510.3" fill="#e0ebd7"/>
<use href="#hx2203" x="794.4" y="510.3" fill="#e0ebd7"/>
<use href="#hx2203" x="816.4" y="510.3" fill="#e0ebd7"/>
<use href="#hx2203" x="838.4" y="510.3" fill="#e0ebd7"/>
<use href="#hx2203" x="860.5" y="510.3" fill="#e0ebd7"/>
<use href="#hx2203" x="882.5" y="510.3" fill="#f2f2f2"/>
<use href="#hx2203" x="904.5" y="510.3" fill="#f2e5eb"/>
<use href="#hx2203" x="926.6" y="510.3" fill="#ecbfd7"/>
<use href="#hx2203" x="948.6" y="510.3" fill="#e291bf"/>
<use href="#hx2203" x="585.1" y="529.4" fill="#74b65f"/>
<use href="#hx2203" x="607.1" y="529.4" fill="#8fc479"/>
<use href="#hx2203" x="629.1" y="529.4" fill="#a9d192"/>
<use href="#hx2203" x="651.2" y="529.4" fill="#a9d192"/>
<use href="#hx2203" x="673.2" y="529.4" fill="#a9d192"/>
<use href="#hx2203" x="695.2" y="529.4" fill="#8fc479"/>
<use href="#hx2203" x="717.3" y="529.4" fill="#8fc479"/>
<use href="#hx2203" x="739.3" y="529.4" fill="#cbe2bd"/>
<use href="#hx2203" x="761.3" y="529.4" fill="#e0ebd7"/>
<use href="#hx2203" x="783.4" y="529.4" fill="#e0ebd7"/>
<use href="#hx2203" x="805.4" y="529.4" fill="#e0ebd7"/>
<use href="#hx2203" x="827.4" y="529.4" fill="#e0ebd7"/>
<use href="#hx2203" x="849.4" y="529.4" fill="#e0ebd7"/>
<use href="#hx2203" x="871.5" y="529.4" fill="#e0ebd7"/>
<use href="#hx2203" x="893.5" y="529.4" fill="#f2f2f2"/>
<use href="#hx2203" x="915.5" y="529.4" fill="#f0d4e2"/>
<use href="#hx2203" x="937.6" y="529.4" fill="#e8a9cc"/>
</g>
<g>
<path d="M596.1 77.86L607.12 84.22 M585.09 96.94L585.09 84.22 M585.09 84.22L596.1 77.86 M618.13 77.86L629.14 84.22 M607.12 84.22L618.13 77.86 M640.16 77.86L651.18 84.22 M629.15 84.22L640.16 77.86 M662.19 77.86L673.21 84.22 M651.18 84.22L662.19 77.86 M684.22 77.86L695.24 84.22 M673.21 84.22L684.22 77.86 M706.25 77.86L717.26 84.22 M695.24 84.22L706.25 77.86 M728.28 77.86L739.29 84.22 M717.26 84.22L728.28 77.86 M750.31 77.86L761.33 84.22 M761.33 84.22L761.33 96.94 M739.3 84.22L750.31 77.86 M772.34 77.86L783.36 84.22 M772.34 103.3L761.33 96.94 M761.33 84.22L772.34 77.86 M794.37 77.86L805.38 84.22 M783.36 84.22L794.37 77.86 M816.4 77.86L827.42 84.22 M827.42 84.22L827.42 96.94 M805.39 84.22L816.4 77.86 M838.43 77.86L849.45 84.22 M838.43 103.3L827.42 96.94 M827.42 84.22L838.43 77.86 M860.46 77.86L871.48 84.22 M849.45 84.22L860.46 77.86 M882.49 77.86L893.5 84.22 M871.48 84.22L882.49 77.86 M904.52 77.86L915.53 84.22 M893.5 84.22L904.52 77.86 M926.55 77.86L937.57 84.22 M915.54 84.22L926.55 77.86 M948.58 77.86L959.6 84.22 M959.6 84.22L959.6 96.94 M959.6 96.94L948.58 103.3 M937.57 84.22L948.58 77.86 M585.09 122.38L574.07 116.02 M574.07 116.02L574.07 103.3 M574.07 103.3L585.09 96.94 M750.31 116.02L739.3 122.38 M772.34 103.3L772.34 116.02 M772.34 116.02L761.33 122.38 M761.33 122.38L750.31 116.02 M838.43 103.3L838.43 116.02 M860.46 116.02L849.45 122.38 M849.45 122.38L838.43 116.02 M882.49 116.02L871.48 122.38 M871.48 122.38L860.46 116.02 M904.52 116.02L893.5 122.38 M893.5 122.38L882.49 116.02 M915.54 122.38L904.52 116.02 M948.58 103.3L948.58 116.02 M585.09 135.1L585.09 122.38 M739.29 122.38L739.29 135.1 M739.29 135.1L728.28 141.46 M849.45 122.38L849.45 135.1 M860.46 141.46L849.45 135.1 M915.53 122.38L915.53 135.1 M926.55 141.46L915.54 135.1 M948.58 116.02L959.6 122.38 M959.6 122.38L959.6 135.1 M959.6 135.1L948.58 141.46 M585.09 160.53L574.07 154.18 M574.07 154.18L574.07 141.46 M574.07 141.46L585.09 135.1 M728.28 141.46L728.28 154.18 M728.28 154.18L717.26 160.53 M860.46 141.46L860.46 154.18 M860.46 154.18L849.45 160.53 M926.55 141.46L926.55 154.18 M948.58 141.46L948.58 154.18 M948.58 154.18L937.57 160.53 M937.57 160.53L926.55 154.18 M585.09 173.25L585.09 160.53 M717.26 160.53L717.26 173.25 M728.28 179.61L717.26 173.25 M849.45 160.53L849.45 173.25 M849.45 173.25L838.43 179.61 M948.58 154.18L959.6 160.53 M959.6 160.53L959.6 173.25 M959.6 173.25L948.58 179.61 M585.09 198.69L574.07 192.33 M574.07 192.33L574.07 179.61 M574.07 179.61L585.09 173.25 M728.28 179.61L728.28 192.33 M739.3 198.69L728.28 192.33 M838.43 179.61L838.43 192.33 M849.45 198.69L838.43 192.33 M948.58 179.61L948.58 192.33 M585.09 211.41L585.09 198.69 M739.29 198.69L739.29 211.41 M750.31 217.77L739.3 211.41 M849.45 198.69L849.45 211.41 M860.46 217.77L849.45 211.41 M948.58 192.33L959.6 198.69 M959.6 198.69L959.6 211.41 M959.6 211.41L948.58 217.77 M585.09 236.85L574.07 230.49 M574.07 230.49L574.07 217.77 M574.07 217.77L585.09 211.41 M728.28 230.49L717.26 236.85 M750.31 217.77L750.31 230.49 M750.31 230.49L739.3 236.85 M739.3 236.85L728.28 230.49 M772.34 230.49L761.33 236.85 M761.33 236.85L750.31 230.49 M794.37 230.49L783.36 236.85 M783.36 236.85L772.34 230.49 M816.4 230.49L805.39 236.85 M805.39 236.85L794.37 230.49 M838.43 230.49L827.42 236.85 M827.42 236.85L816.4 230.49 M860.46 217.77L860.46 230.49 M860.46 230.49L849.45 236.85 M849.45 236.85L838.43 230.49 M948.58 217.77L948.58 230.49 M585.09 249.57L585.09 236.85 M717.26 236.85L717.26 249.57 M717.26 249.57L706.25 255.93 M805.38 236.85L805.38 249.57 M816.4 255.93L805.39 249.57 M948.58 230.49L959.6 236.85 M959.6 236.85L959.6 249.57 M959.6 249.57L948.58 255.93 M585.09 275.01L574.07 268.65 M574.07 268.65L574.07 255.93 M574.07 255.93L585.09 249.57 M706.25 255.93L706.25 268.65 M706.25 268.65L695.24 275.01 M717.26 275.01L706.25 268.65 M816.4 255.93L816.4 268.65 M827.42 275.01L816.4 268.65 M948.58 255.93L948.58 268.65 M585.09 287.72L585.09 275.01 M629.14 287.72L618.13 294.08 M651.18 287.72L640.16 294.08 M640.16 294.08L629.15 287.72 M673.21 287.72L662.19 294.08 M662.19 294.08L651.18 287.72 M695.24 275.01L695.24 287.72 M695.24 287.72L684.22 294.08 M684.22 294.08L673.21 287.72 M717.26 275.01L717.26 287.72 M728.28 294.08L717.26 287.72 M827.42 275.01L827.42 287.72 M827.42 287.72L816.4 294.08 M948.58 268.65L959.6 275.01 M959.6 275.01L959.6 287.72 M959.6 287.72L948.58 294.08 M585.09 313.16L574.07 306.8 M574.07 306.8L574.07 294.08 M574.07 294.08L585.09 287.72 M618.13 294.08L618.13 306.8 M618.13 306.8L607.12 313.16 M728.28 294.08L728.28 306.8 M728.28 306.8L717.26 313.16 M816.4 294.08L816.4 306.8 M816.4 306.8L805.39 313.16 M948.58 294.08L948.58 306.8 M607.12 313.16L607.12 325.88 M607.12 325.88L596.1 332.24 M596.1 332.24L585.09 325.88 M585.09 325.88L585.09 313.16 M717.26 313.16L717.26 325.88 M717.26 325.88L706.25 332.24 M739.29 325.88L728.28 332.24 M728.28 332.24L717.26 325.88 M750.31 332.24L739.3 325.88 M805.38 313.16L805.38 325.88 M816.4 332.24L805.39 325.88 M948.58 306.8L959.6 313.16 M959.6 313.16L959.6 325.88 M959.6 325.88L948.58 332.24 M585.09 351.32L574.07 344.96 M574.07 344.96L574.07 332.24 M574.07 332.24L585.09 325.88 M706.25 332.24L706.25 344.96 M706.25 344.96L695.24 351.32 M750.31 332.24L750.31 344.96 M772.34 344.96L761.33 351.32 M761.33 351.32L750.31 344.96 M794.37 344.96L783.36 351.32 M783.36 351.32L772.34 344.96 M816.4 332.24L816.4 344.96 M816.4 344.96L805.39 351.32 M805.39 351.32L794.37 344.96 M948.58 332.24L948.58 344.96 M585.09 364.04L585.09 351.32 M695.24 351.32L695.24 364.04 M695.24 364.04L684.22 370.4 M805.38 351.32L805.38 364.04 M827.42 364.04L816.4 370.4 M816.4 370.4L805.39 364.04 M838.43 370.4L827.42 364.04 M948.58 344.96L959.6 351.32 M959.6 351.32L959.6 364.04 M959.6 364.04L948.58 370.4 M585.09 389.48L574.07 383.12 M574.07 383.12L574.07 370.4 M574.07 370.4L585.09 364.04 M684.22 370.4L684.22 383.12 M695.24 389.48L684.22 383.12 M838.43 370.4L838.43 383.12 M838.43 383.12L827.42 389.48 M948.58 370.4L948.58 383.12 M585.09 402.2L585.09 389.48 M695.24 389.48L695.24 402.2 M695.24 402.2L684.22 408.56 M827.42 389.48L827.42 402.2 M838.43 408.56L827.42 402.2 M948.58 383.12L959.6 389.48 M959.6 389.48L959.6 402.2 M959.6 402.2L948.58 408.56 M585.09 427.63L574.07 421.27 M574.07 421.27L574.07 408.56 M574.07 408.56L585.09 402.2 M684.22 408.56L684.22 421.27 M695.24 427.63L684.22 421.27 M838.43 408.56L838.43 421.27 M838.43 421.27L827.42 427.63 M948.58 408.56L948.58 421.27 M585.09 440.35L585.09 427.63 M695.24 427.63L695.24 440.35 M695.24 440.35L684.22 446.71 M827.42 427.63L827.42 440.35 M838.43 446.71L827.42 440.35 M871.48 440.35L860.46 446.71 M893.5 440.35L882.49 446.71 M882.49 446.71L871.48 440.35 M915.53 440.35L904.52 446.71 M904.52 446.71L893.5 440.35 M937.57 440.35L926.55 446.71 M926.55 446.71L915.54 440.35 M948.58 421.27L959.6 427.63 M959.6 427.63L959.6 440.35 M959.6 440.35L948.58 446.71 M948.58 446.71L937.57 440.35 M596.1 459.43L585.09 465.79 M585.09 465.79L574.07 459.43 M574.07 459.43L574.07 446.71 M574.07 446.71L585.09 440.35 M618.13 459.43L607.12 465.79 M607.12 465.79L596.1 459.43 M640.16 459.43L629.15 465.79 M629.15 465.79L618.13 459.43 M662.19 459.43L651.18 465.79 M651.18 465.79L640.16 459.43 M684.22 446.71L684.22 459.43 M684.22 459.43L673.21 465.79 M673.21 465.79L662.19 459.43 M838.43 446.71L838.43 459.43 M838.43 459.43L827.42 465.79 M860.46 446.71L860.46 459.43 M860.46 459.43L849.45 465.79 M849.45 465.79L838.43 459.43 M948.58 446.71L948.58 459.43 M585.09 478.51L585.09 465.79 M827.42 465.79L827.42 478.51 M827.42 478.51L816.4 484.87 M948.58 459.43L959.6 465.79 M959.6 465.79L959.6 478.51 M959.6 478.51L948.58 484.87 M585.09 503.95L574.07 497.59 M574.07 497.59L574.07 484.87 M574.07 484.87L585.09 478.51 M816.4 484.87L816.4 497.59 M827.42 503.95L816.4 497.59 M948.58 484.87L948.58 497.59 M585.09 516.67L585.09 503.95 M827.42 503.95L827.42 516.67 M827.42 516.67L816.4 523.03 M948.58 497.59L959.6 503.95 M959.6 503.95L959.6 516.67 M959.6 516.67L948.58 523.03 M596.1 535.75L585.09 542.11 M585.09 542.11L574.07 535.75 M574.07 535.75L574.07 523.03 M574.07 523.03L585.09 516.67 M618.13 535.75L607.12 542.11 M607.12 542.11L596.1 535.75 M640.16 535.75L629.15 542.11 M629.15 542.11L618.13 535.75 M662.19 535.75L651.18 542.11 M651.18 542.11L640.16 535.75 M684.22 535.75L673.21 542.11 M673.21 542.11L662.19 535.75 M706.25 535.75L695.24 542.11 M695.24 542.11L684.22 535.75 M728.28 535.75L717.26 542.11 M717.26 542.11L706.25 535.75 M750.31 535.75L739.3 542.11 M739.3 542.11L728.28 535.75 M772.34 535.75L761.33 542.11 M761.33 542.11L750.31 535.75 M794.37 535.75L783.36 542.11 M783.36 542.11L772.34 535.75 M816.4 523.03L816.4 535.75 M816.4 535.75L805.39 542.11 M805.39 542.11L794.37 535.75 M838.43 535.75L827.42 542.11 M827.42 542.11L816.4 535.75 M860.46 535.75L849.45 542.11 M849.45 542.11L838.43 535.75 M882.49 535.75L871.48 542.11 M871.48 542.11L860.46 535.75 M904.52 535.75L893.5 542.11 M893.5 542.11L882.49 535.75 M926.55 535.75L915.54 542.11 M915.54 542.11L904.52 535.75 M948.58 523.03L948.58 535.75 M948.58 535.75L937.57 542.11 M937.57 542.11L926.55 535.75" fill="none" stroke="#231f20" stroke-width="1.1" stroke-linecap="round" stroke-linejoin="round"/>
</g>
<g stroke="#fff" stroke-width="0.5" stroke-opacity="0.09">
<use href="#hx2203" x="1129.6" y="91.8" fill="#e0ebd7"/>
<use href="#hx2203" x="1151.6" y="91.8" fill="#e0ebd7"/>
<use href="#hx2203" x="1173.7" y="91.8" fill="#e0ebd7"/>
<use href="#hx2203" x="1195.7" y="91.8" fill="#e0ebd7"/>
<use href="#hx2203" x="1217.7" y="91.8" fill="#f2f2f2"/>
<use href="#hx2203" x="1239.8" y="91.8" fill="#f2e5eb"/>
<use href="#hx2203" x="1261.8" y="91.8" fill="#ecbfd7"/>
<use href="#hx2203" x="1283.8" y="91.8" fill="#e8a9cc"/>
<use href="#hx2203" x="1305.8" y="91.8" fill="#e291bf"/>
<use href="#hx2203" x="1327.9" y="91.8" fill="#e291bf"/>
<use href="#hx2203" x="1349.9" y="91.8" fill="#e8a9cc"/>
<use href="#hx2203" x="1371.9" y="91.8" fill="#ecbfd7"/>
<use href="#hx2203" x="1394.0" y="91.8" fill="#f0d4e2"/>
<use href="#hx2203" x="1416.0" y="91.8" fill="#f2f2f2"/>
<use href="#hx2203" x="1438.0" y="91.8" fill="#cbe2bd"/>
<use href="#hx2203" x="1460.0" y="91.8" fill="#8fc479"/>
<use href="#hx2203" x="1482.1" y="91.8" fill="#5ca551"/>
<use href="#hx2203" x="1118.6" y="110.9" fill="#e0ebd7"/>
<use href="#hx2203" x="1140.6" y="110.9" fill="#e0ebd7"/>
<use href="#hx2203" x="1162.6" y="110.9" fill="#e0ebd7"/>
<use href="#hx2203" x="1184.7" y="110.9" fill="#e0ebd7"/>
<use href="#hx2203" x="1206.7" y="110.9" fill="#f2f2f2"/>
<use href="#hx2203" x="1228.7" y="110.9" fill="#f0d4e2"/>
<use href="#hx2203" x="1250.8" y="110.9" fill="#ecbfd7"/>
<use href="#hx2203" x="1272.8" y="110.9" fill="#ecbfd7"/>
<use href="#hx2203" x="1294.8" y="110.9" fill="#e8a9cc"/>
<use href="#hx2203" x="1316.9" y="110.9" fill="#e8a9cc"/>
<use href="#hx2203" x="1338.9" y="110.9" fill="#ecbfd7"/>
<use href="#hx2203" x="1360.9" y="110.9" fill="#f0d4e2"/>
<use href="#hx2203" x="1382.9" y="110.9" fill="#f2e5eb"/>
<use href="#hx2203" x="1405.0" y="110.9" fill="#f2f2f2"/>
<use href="#hx2203" x="1427.0" y="110.9" fill="#e0ebd7"/>
<use href="#hx2203" x="1449.0" y="110.9" fill="#a9d192"/>
<use href="#hx2203" x="1471.1" y="110.9" fill="#8fc479"/>
<use href="#hx2203" x="1129.6" y="130.0" fill="#e0ebd7"/>
<use href="#hx2203" x="1151.6" y="130.0" fill="#e0ebd7"/>
<use href="#hx2203" x="1173.7" y="130.0" fill="#e0ebd7"/>
<use href="#hx2203" x="1195.7" y="130.0" fill="#f2f2f2"/>
<use href="#hx2203" x="1217.7" y="130.0" fill="#f2e5eb"/>
<use href="#hx2203" x="1239.8" y="130.0" fill="#f0d4e2"/>
<use href="#hx2203" x="1261.8" y="130.0" fill="#ecbfd7"/>
<use href="#hx2203" x="1283.8" y="130.0" fill="#ecbfd7"/>
<use href="#hx2203" x="1305.8" y="130.0" fill="#f0d4e2"/>
<use href="#hx2203" x="1327.9" y="130.0" fill="#f0d4e2"/>
<use href="#hx2203" x="1349.9" y="130.0" fill="#f0d4e2"/>
<use href="#hx2203" x="1371.9" y="130.0" fill="#f2e5eb"/>
<use href="#hx2203" x="1394.0" y="130.0" fill="#f2f2f2"/>
<use href="#hx2203" x="1416.0" y="130.0" fill="#f2f2f2"/>
<use href="#hx2203" x="1438.0" y="130.0" fill="#e0ebd7"/>
<use href="#hx2203" x="1460.0" y="130.0" fill="#a9d192"/>
<use href="#hx2203" x="1482.1" y="130.0" fill="#a9d192"/>
<use href="#hx2203" x="1118.6" y="149.0" fill="#e0ebd7"/>
<use href="#hx2203" x="1140.6" y="149.0" fill="#e0ebd7"/>
<use href="#hx2203" x="1162.6" y="149.0" fill="#e0ebd7"/>
<use href="#hx2203" x="1184.7" y="149.0" fill="#f2f2f2"/>
<use href="#hx2203" x="1206.7" y="149.0" fill="#f2f2f2"/>
<use href="#hx2203" x="1228.7" y="149.0" fill="#f2e5eb"/>
<use href="#hx2203" x="1250.8" y="149.0" fill="#f0d4e2"/>
<use href="#hx2203" x="1272.8" y="149.0" fill="#f0d4e2"/>
<use href="#hx2203" x="1294.8" y="149.0" fill="#f2e5eb"/>
<use href="#hx2203" x="1316.9" y="149.0" fill="#f2e5eb"/>
<use href="#hx2203" x="1338.9" y="149.0" fill="#f2e5eb"/>
<use href="#hx2203" x="1360.9" y="149.0" fill="#f2e5eb"/>
<use href="#hx2203" x="1382.9" y="149.0" fill="#f2e5eb"/>
<use href="#hx2203" x="1405.0" y="149.0" fill="#f2f2f2"/>
<use href="#hx2203" x="1427.0" y="149.0" fill="#e0ebd7"/>
<use href="#hx2203" x="1449.0" y="149.0" fill="#cbe2bd"/>
<use href="#hx2203" x="1471.1" y="149.0" fill="#a9d192"/>
<use href="#hx2203" x="1129.6" y="168.1" fill="#e0ebd7"/>
<use href="#hx2203" x="1151.6" y="168.1" fill="#e0ebd7"/>
<use href="#hx2203" x="1173.7" y="168.1" fill="#f2f2f2"/>
<use href="#hx2203" x="1195.7" y="168.1" fill="#f2f2f2"/>
<use href="#hx2203" x="1217.7" y="168.1" fill="#f2f2f2"/>
<use href="#hx2203" x="1239.8" y="168.1" fill="#f2e5eb"/>
<use href="#hx2203" x="1261.8" y="168.1" fill="#f0d4e2"/>
<use href="#hx2203" x="1283.8" y="168.1" fill="#f0d4e2"/>
<use href="#hx2203" x="1305.8" y="168.1" fill="#f0d4e2"/>
<use href="#hx2203" x="1327.9" y="168.1" fill="#f0d4e2"/>
<use href="#hx2203" x="1349.9" y="168.1" fill="#f0d4e2"/>
<use href="#hx2203" x="1371.9" y="168.1" fill="#f2e5eb"/>
<use href="#hx2203" x="1394.0" y="168.1" fill="#f2f2f2"/>
<use href="#hx2203" x="1416.0" y="168.1" fill="#e0ebd7"/>
<use href="#hx2203" x="1438.0" y="168.1" fill="#e0ebd7"/>
<use href="#hx2203" x="1460.0" y="168.1" fill="#cbe2bd"/>
<use href="#hx2203" x="1482.1" y="168.1" fill="#cbe2bd"/>
<use href="#hx2203" x="1118.6" y="187.2" fill="#e0ebd7"/>
<use href="#hx2203" x="1140.6" y="187.2" fill="#e0ebd7"/>
<use href="#hx2203" x="1162.6" y="187.2" fill="#f2f2f2"/>
<use href="#hx2203" x="1184.7" y="187.2" fill="#f2f2f2"/>
<use href="#hx2203" x="1206.7" y="187.2" fill="#f2e5eb"/>
<use href="#hx2203" x="1228.7" y="187.2" fill="#f2e5eb"/>
<use href="#hx2203" x="1250.8" y="187.2" fill="#f2e5eb"/>
<use href="#hx2203" x="1272.8" y="187.2" fill="#f0d4e2"/>
<use href="#hx2203" x="1294.8" y="187.2" fill="#ecbfd7"/>
<use href="#hx2203" x="1316.9" y="187.2" fill="#ecbfd7"/>
<use href="#hx2203" x="1338.9" y="187.2" fill="#f0d4e2"/>
<use href="#hx2203" x="1360.9" y="187.2" fill="#f0d4e2"/>
<use href="#hx2203" x="1382.9" y="187.2" fill="#f2e5eb"/>
<use href="#hx2203" x="1405.0" y="187.2" fill="#f2f2f2"/>
<use href="#hx2203" x="1427.0" y="187.2" fill="#e0ebd7"/>
<use href="#hx2203" x="1449.0" y="187.2" fill="#e0ebd7"/>
<use href="#hx2203" x="1471.1" y="187.2" fill="#cbe2bd"/>
<use href="#hx2203" x="1129.6" y="206.3" fill="#cbe2bd"/>
<use href="#hx2203" x="1151.6" y="206.3" fill="#e0ebd7"/>
<use href="#hx2203" x="1173.7" y="206.3" fill="#f2f2f2"/>
<use href="#hx2203" x="1195.7" y="206.3" fill="#f2f2f2"/>
<use href="#hx2203" x="1217.7" y="206.3" fill="#f2f2f2"/>
<use href="#hx2203" x="1239.8" y="206.3" fill="#f2e5eb"/>
<use href="#hx2203" x="1261.8" y="206.3" fill="#f0d4e2"/>
<use href="#hx2203" x="1283.8" y="206.3" fill="#ecbfd7"/>
<use href="#hx2203" x="1305.8" y="206.3" fill="#ecbfd7"/>
<use href="#hx2203" x="1327.9" y="206.3" fill="#e8a9cc"/>
<use href="#hx2203" x="1349.9" y="206.3" fill="#ecbfd7"/>
<use href="#hx2203" x="1371.9" y="206.3" fill="#f0d4e2"/>
<use href="#hx2203" x="1394.0" y="206.3" fill="#f2e5eb"/>
<use href="#hx2203" x="1416.0" y="206.3" fill="#f2f2f2"/>
<use href="#hx2203" x="1438.0" y="206.3" fill="#e0ebd7"/>
<use href="#hx2203" x="1460.0" y="206.3" fill="#e0ebd7"/>
<use href="#hx2203" x="1482.1" y="206.3" fill="#cbe2bd"/>
<use href="#hx2203" x="1118.6" y="225.3" fill="#cbe2bd"/>
<use href="#hx2203" x="1140.6" y="225.3" fill="#cbe2bd"/>
<use href="#hx2203" x="1162.6" y="225.3" fill="#e0ebd7"/>
<use href="#hx2203" x="1184.7" y="225.3" fill="#f2f2f2"/>
<use href="#hx2203" x="1206.7" y="225.3" fill="#f2f2f2"/>
<use href="#hx2203" x="1228.7" y="225.3" fill="#f2e5eb"/>
<use href="#hx2203" x="1250.8" y="225.3" fill="#f0d4e2"/>
<use href="#hx2203" x="1272.8" y="225.3" fill="#ecbfd7"/>
<use href="#hx2203" x="1294.8" y="225.3" fill="#e8a9cc"/>
<use href="#hx2203" x="1316.9" y="225.3" fill="#e291bf"/>
<use href="#hx2203" x="1338.9" y="225.3" fill="#e8a9cc"/>
<use href="#hx2203" x="1360.9" y="225.3" fill="#f0d4e2"/>
<use href="#hx2203" x="1382.9" y="225.3" fill="#f2e5eb"/>
<use href="#hx2203" x="1405.0" y="225.3" fill="#f2e5eb"/>
<use href="#hx2203" x="1427.0" y="225.3" fill="#f2f2f2"/>
<use href="#hx2203" x="1449.0" y="225.3" fill="#e0ebd7"/>
<use href="#hx2203" x="1471.1" y="225.3" fill="#e0ebd7"/>
<use href="#hx2203" x="1129.6" y="244.4" fill="#cbe2bd"/>
<use href="#hx2203" x="1151.6" y="244.4" fill="#e0ebd7"/>
<use href="#hx2203" x="1173.7" y="244.4" fill="#e0ebd7"/>
<use href="#hx2203" x="1195.7" y="244.4" fill="#f2f2f2"/>
<use href="#hx2203" x="1217.7" y="244.4" fill="#f2f2f2"/>
<use href="#hx2203" x="1239.8" y="244.4" fill="#f2e5eb"/>
<use href="#hx2203" x="1261.8" y="244.4" fill="#ecbfd7"/>
<use href="#hx2203" x="1283.8" y="244.4" fill="#e8a9cc"/>
<use href="#hx2203" x="1305.8" y="244.4" fill="#db73ae"/>
<use href="#hx2203" x="1327.9" y="244.4" fill="#e291bf"/>
<use href="#hx2203" x="1349.9" y="244.4" fill="#e8a9cc"/>
<use href="#hx2203" x="1371.9" y="244.4" fill="#f0d4e2"/>
<use href="#hx2203" x="1394.0" y="244.4" fill="#f2e5eb"/>
<use href="#hx2203" x="1416.0" y="244.4" fill="#f2f2f2"/>
<use href="#hx2203" x="1438.0" y="244.4" fill="#e0ebd7"/>
<use href="#hx2203" x="1460.0" y="244.4" fill="#e0ebd7"/>
<use href="#hx2203" x="1482.1" y="244.4" fill="#cbe2bd"/>
<use href="#hx2203" x="1118.6" y="263.5" fill="#cbe2bd"/>
<use href="#hx2203" x="1140.6" y="263.5" fill="#cbe2bd"/>
<use href="#hx2203" x="1162.6" y="263.5" fill="#e0ebd7"/>
<use href="#hx2203" x="1184.7" y="263.5" fill="#e0ebd7"/>
<use href="#hx2203" x="1206.7" y="263.5" fill="#f2f2f2"/>
<use href="#hx2203" x="1228.7" y="263.5" fill="#f2f2f2"/>
<use href="#hx2203" x="1250.8" y="263.5" fill="#f0d4e2"/>
<use href="#hx2203" x="1272.8" y="263.5" fill="#ecbfd7"/>
<use href="#hx2203" x="1294.8" y="263.5" fill="#e291bf"/>
<use href="#hx2203" x="1316.9" y="263.5" fill="#db73ae"/>
<use href="#hx2203" x="1338.9" y="263.5" fill="#e291bf"/>
<use href="#hx2203" x="1360.9" y="263.5" fill="#ecbfd7"/>
<use href="#hx2203" x="1382.9" y="263.5" fill="#f0d4e2"/>
<use href="#hx2203" x="1405.0" y="263.5" fill="#f2e5eb"/>
<use href="#hx2203" x="1427.0" y="263.5" fill="#f2f2f2"/>
<use href="#hx2203" x="1449.0" y="263.5" fill="#e0ebd7"/>
<use href="#hx2203" x="1471.1" y="263.5" fill="#cbe2bd"/>
<use href="#hx2203" x="1129.6" y="282.6" fill="#cbe2bd"/>
<use href="#hx2203" x="1151.6" y="282.6" fill="#cbe2bd"/>
<use href="#hx2203" x="1173.7" y="282.6" fill="#e0ebd7"/>
<use href="#hx2203" x="1195.7" y="282.6" fill="#e0ebd7"/>
<use href="#hx2203" x="1217.7" y="282.6" fill="#f2f2f2"/>
<use href="#hx2203" x="1239.8" y="282.6" fill="#f2e5eb"/>
<use href="#hx2203" x="1261.8" y="282.6" fill="#f0d4e2"/>
<use href="#hx2203" x="1283.8" y="282.6" fill="#e8a9cc"/>
<use href="#hx2203" x="1305.8" y="282.6" fill="#e291bf"/>
<use href="#hx2203" x="1327.9" y="282.6" fill="#e291bf"/>
<use href="#hx2203" x="1349.9" y="282.6" fill="#e8a9cc"/>
<use href="#hx2203" x="1371.9" y="282.6" fill="#f0d4e2"/>
<use href="#hx2203" x="1394.0" y="282.6" fill="#f2e5eb"/>
<use href="#hx2203" x="1416.0" y="282.6" fill="#f2f2f2"/>
<use href="#hx2203" x="1438.0" y="282.6" fill="#f2f2f2"/>
<use href="#hx2203" x="1460.0" y="282.6" fill="#e0ebd7"/>
<use href="#hx2203" x="1482.1" y="282.6" fill="#cbe2bd"/>
<use href="#hx2203" x="1118.6" y="301.7" fill="#cbe2bd"/>
<use href="#hx2203" x="1140.6" y="301.7" fill="#cbe2bd"/>
<use href="#hx2203" x="1162.6" y="301.7" fill="#e0ebd7"/>
<use href="#hx2203" x="1184.7" y="301.7" fill="#e0ebd7"/>
<use href="#hx2203" x="1206.7" y="301.7" fill="#f2f2f2"/>
<use href="#hx2203" x="1228.7" y="301.7" fill="#f2e5eb"/>
<use href="#hx2203" x="1250.8" y="301.7" fill="#f0d4e2"/>
<use href="#hx2203" x="1272.8" y="301.7" fill="#ecbfd7"/>
<use href="#hx2203" x="1294.8" y="301.7" fill="#ecbfd7"/>
<use href="#hx2203" x="1316.9" y="301.7" fill="#ecbfd7"/>
<use href="#hx2203" x="1338.9" y="301.7" fill="#ecbfd7"/>
<use href="#hx2203" x="1360.9" y="301.7" fill="#f0d4e2"/>
<use href="#hx2203" x="1382.9" y="301.7" fill="#f2e5eb"/>
<use href="#hx2203" x="1405.0" y="301.7" fill="#f2f2f2"/>
<use href="#hx2203" x="1427.0" y="301.7" fill="#e0ebd7"/>
<use href="#hx2203" x="1449.0" y="301.7" fill="#e0ebd7"/>
<use href="#hx2203" x="1471.1" y="301.7" fill="#e0ebd7"/>
<use href="#hx2203" x="1129.6" y="320.7" fill="#cbe2bd"/>
<use href="#hx2203" x="1151.6" y="320.7" fill="#e0ebd7"/>
<use href="#hx2203" x="1173.7" y="320.7" fill="#e0ebd7"/>
<use href="#hx2203" x="1195.7" y="320.7" fill="#e0ebd7"/>
<use href="#hx2203" x="1217.7" y="320.7" fill="#f2f2f2"/>
<use href="#hx2203" x="1239.8" y="320.7" fill="#f2f2f2"/>
<use href="#hx2203" x="1261.8" y="320.7" fill="#f0d4e2"/>
<use href="#hx2203" x="1283.8" y="320.7" fill="#f0d4e2"/>
<use href="#hx2203" x="1305.8" y="320.7" fill="#f0d4e2"/>
<use href="#hx2203" x="1327.9" y="320.7" fill="#f0d4e2"/>
<use href="#hx2203" x="1349.9" y="320.7" fill="#f2e5eb"/>
<use href="#hx2203" x="1371.9" y="320.7" fill="#f2e5eb"/>
<use href="#hx2203" x="1394.0" y="320.7" fill="#f2f2f2"/>
<use href="#hx2203" x="1416.0" y="320.7" fill="#f2f2f2"/>
<use href="#hx2203" x="1438.0" y="320.7" fill="#e0ebd7"/>
<use href="#hx2203" x="1460.0" y="320.7" fill="#e0ebd7"/>
<use href="#hx2203" x="1482.1" y="320.7" fill="#e0ebd7"/>
<use href="#hx2203" x="1118.6" y="339.8" fill="#e0ebd7"/>
<use href="#hx2203" x="1140.6" y="339.8" fill="#e0ebd7"/>
<use href="#hx2203" x="1162.6" y="339.8" fill="#e0ebd7"/>
<use href="#hx2203" x="1184.7" y="339.8" fill="#e0ebd7"/>
<use href="#hx2203" x="1206.7" y="339.8" fill="#f2f2f2"/>
<use href="#hx2203" x="1228.7" y="339.8" fill="#f2f2f2"/>
<use href="#hx2203" x="1250.8" y="339.8" fill="#f2e5eb"/>
<use href="#hx2203" x="1272.8" y="339.8" fill="#f2e5eb"/>
<use href="#hx2203" x="1294.8" y="339.8" fill="#f2e5eb"/>
<use href="#hx2203" x="1316.9" y="339.8" fill="#f2e5eb"/>
<use href="#hx2203" x="1338.9" y="339.8" fill="#f2e5eb"/>
<use href="#hx2203" x="1360.9" y="339.8" fill="#f2f2f2"/>
<use href="#hx2203" x="1382.9" y="339.8" fill="#f2f2f2"/>
<use href="#hx2203" x="1405.0" y="339.8" fill="#e0ebd7"/>
<use href="#hx2203" x="1427.0" y="339.8" fill="#e0ebd7"/>
<use href="#hx2203" x="1449.0" y="339.8" fill="#e0ebd7"/>
<use href="#hx2203" x="1471.1" y="339.8" fill="#e0ebd7"/>
<use href="#hx2203" x="1129.6" y="358.9" fill="#f2f2f2"/>
<use href="#hx2203" x="1151.6" y="358.9" fill="#f2f2f2"/>
<use href="#hx2203" x="1173.7" y="358.9" fill="#f2f2f2"/>
<use href="#hx2203" x="1195.7" y="358.9" fill="#f2f2f2"/>
<use href="#hx2203" x="1217.7" y="358.9" fill="#e0ebd7"/>
<use href="#hx2203" x="1239.8" y="358.9" fill="#f2f2f2"/>
<use href="#hx2203" x="1261.8" y="358.9" fill="#f2f2f2"/>
<use href="#hx2203" x="1283.8" y="358.9" fill="#f2f2f2"/>
<use href="#hx2203" x="1305.8" y="358.9" fill="#f2f2f2"/>
<use href="#hx2203" x="1327.9" y="358.9" fill="#f2f2f2"/>
<use href="#hx2203" x="1349.9" y="358.9" fill="#f2f2f2"/>
<use href="#hx2203" x="1371.9" y="358.9" fill="#e0ebd7"/>
<use href="#hx2203" x="1394.0" y="358.9" fill="#e0ebd7"/>
<use href="#hx2203" x="1416.0" y="358.9" fill="#cbe2bd"/>
<use href="#hx2203" x="1438.0" y="358.9" fill="#cbe2bd"/>
<use href="#hx2203" x="1460.0" y="358.9" fill="#e0ebd7"/>
<use href="#hx2203" x="1482.1" y="358.9" fill="#e0ebd7"/>
<use href="#hx2203" x="1118.6" y="378.0" fill="#f2f2f2"/>
<use href="#hx2203" x="1140.6" y="378.0" fill="#f2e5eb"/>
<use href="#hx2203" x="1162.6" y="378.0" fill="#f2e5eb"/>
<use href="#hx2203" x="1184.7" y="378.0" fill="#f2f2f2"/>
<use href="#hx2203" x="1206.7" y="378.0" fill="#f2f2f2"/>
<use href="#hx2203" x="1228.7" y="378.0" fill="#e0ebd7"/>
<use href="#hx2203" x="1250.8" y="378.0" fill="#e0ebd7"/>
<use href="#hx2203" x="1272.8" y="378.0" fill="#e0ebd7"/>
<use href="#hx2203" x="1294.8" y="378.0" fill="#f2f2f2"/>
<use href="#hx2203" x="1316.9" y="378.0" fill="#f2f2f2"/>
<use href="#hx2203" x="1338.9" y="378.0" fill="#e0ebd7"/>
<use href="#hx2203" x="1360.9" y="378.0" fill="#e0ebd7"/>
<use href="#hx2203" x="1382.9" y="378.0" fill="#cbe2bd"/>
<use href="#hx2203" x="1405.0" y="378.0" fill="#cbe2bd"/>
<use href="#hx2203" x="1427.0" y="378.0" fill="#a9d192"/>
<use href="#hx2203" x="1449.0" y="378.0" fill="#a9d192"/>
<use href="#hx2203" x="1471.1" y="378.0" fill="#cbe2bd"/>
<use href="#hx2203" x="1129.6" y="397.1" fill="#e0ebd7"/>
<use href="#hx2203" x="1151.6" y="397.1" fill="#f2f2f2"/>
<use href="#hx2203" x="1173.7" y="397.1" fill="#f2f2f2"/>
<use href="#hx2203" x="1195.7" y="397.1" fill="#f2f2f2"/>
<use href="#hx2203" x="1217.7" y="397.1" fill="#e0ebd7"/>
<use href="#hx2203" x="1239.8" y="397.1" fill="#e0ebd7"/>
<use href="#hx2203" x="1261.8" y="397.1" fill="#e0ebd7"/>
<use href="#hx2203" x="1283.8" y="397.1" fill="#e0ebd7"/>
<use href="#hx2203" x="1305.8" y="397.1" fill="#e0ebd7"/>
<use href="#hx2203" x="1327.9" y="397.1" fill="#e0ebd7"/>
<use href="#hx2203" x="1349.9" y="397.1" fill="#e0ebd7"/>
<use href="#hx2203" x="1371.9" y="397.1" fill="#cbe2bd"/>
<use href="#hx2203" x="1394.0" y="397.1" fill="#cbe2bd"/>
<use href="#hx2203" x="1416.0" y="397.1" fill="#a9d192"/>
<use href="#hx2203" x="1438.0" y="397.1" fill="#a9d192"/>
<use href="#hx2203" x="1460.0" y="397.1" fill="#a9d192"/>
<use href="#hx2203" x="1482.1" y="397.1" fill="#8fc479"/>
<use href="#hx2203" x="1118.6" y="416.1" fill="#cbe2bd"/>
<use href="#hx2203" x="1140.6" y="416.1" fill="#e0ebd7"/>
<use href="#hx2203" x="1162.6" y="416.1" fill="#e0ebd7"/>
<use href="#hx2203" x="1184.7" y="416.1" fill="#e0ebd7"/>
<use href="#hx2203" x="1206.7" y="416.1" fill="#e0ebd7"/>
<use href="#hx2203" x="1228.7" y="416.1" fill="#e0ebd7"/>
<use href="#hx2203" x="1250.8" y="416.1" fill="#e0ebd7"/>
<use href="#hx2203" x="1272.8" y="416.1" fill="#e0ebd7"/>
<use href="#hx2203" x="1294.8" y="416.1" fill="#e0ebd7"/>
<use href="#hx2203" x="1316.9" y="416.1" fill="#e0ebd7"/>
<use href="#hx2203" x="1338.9" y="416.1" fill="#cbe2bd"/>
<use href="#hx2203" x="1360.9" y="416.1" fill="#cbe2bd"/>
<use href="#hx2203" x="1382.9" y="416.1" fill="#a9d192"/>
<use href="#hx2203" x="1405.0" y="416.1" fill="#a9d192"/>
<use href="#hx2203" x="1427.0" y="416.1" fill="#a9d192"/>
<use href="#hx2203" x="1449.0" y="416.1" fill="#a9d192"/>
<use href="#hx2203" x="1471.1" y="416.1" fill="#8fc479"/>
<use href="#hx2203" x="1129.6" y="435.2" fill="#cbe2bd"/>
<use href="#hx2203" x="1151.6" y="435.2" fill="#cbe2bd"/>
<use href="#hx2203" x="1173.7" y="435.2" fill="#e0ebd7"/>
<use href="#hx2203" x="1195.7" y="435.2" fill="#e0ebd7"/>
<use href="#hx2203" x="1217.7" y="435.2" fill="#e0ebd7"/>
<use href="#hx2203" x="1239.8" y="435.2" fill="#e0ebd7"/>
<use href="#hx2203" x="1261.8" y="435.2" fill="#e0ebd7"/>
<use href="#hx2203" x="1283.8" y="435.2" fill="#e0ebd7"/>
<use href="#hx2203" x="1305.8" y="435.2" fill="#e0ebd7"/>
<use href="#hx2203" x="1327.9" y="435.2" fill="#cbe2bd"/>
<use href="#hx2203" x="1349.9" y="435.2" fill="#cbe2bd"/>
<use href="#hx2203" x="1371.9" y="435.2" fill="#cbe2bd"/>
<use href="#hx2203" x="1394.0" y="435.2" fill="#a9d192"/>
<use href="#hx2203" x="1416.0" y="435.2" fill="#a9d192"/>
<use href="#hx2203" x="1438.0" y="435.2" fill="#a9d192"/>
<use href="#hx2203" x="1460.0" y="435.2" fill="#8fc479"/>
<use href="#hx2203" x="1482.1" y="435.2" fill="#74b65f"/>
<use href="#hx2203" x="1118.6" y="454.3" fill="#a9d192"/>
<use href="#hx2203" x="1140.6" y="454.3" fill="#a9d192"/>
<use href="#hx2203" x="1162.6" y="454.3" fill="#a9d192"/>
<use href="#hx2203" x="1184.7" y="454.3" fill="#cbe2bd"/>
<use href="#hx2203" x="1206.7" y="454.3" fill="#cbe2bd"/>
<use href="#hx2203" x="1228.7" y="454.3" fill="#e0ebd7"/>
<use href="#hx2203" x="1250.8" y="454.3" fill="#e0ebd7"/>
<use href="#hx2203" x="1272.8" y="454.3" fill="#e0ebd7"/>
<use href="#hx2203" x="1294.8" y="454.3" fill="#cbe2bd"/>
<use href="#hx2203" x="1316.9" y="454.3" fill="#cbe2bd"/>
<use href="#hx2203" x="1338.9" y="454.3" fill="#cbe2bd"/>
<use href="#hx2203" x="1360.9" y="454.3" fill="#a9d192"/>
<use href="#hx2203" x="1382.9" y="454.3" fill="#a9d192"/>
<use href="#hx2203" x="1405.0" y="454.3" fill="#a9d192"/>
<use href="#hx2203" x="1427.0" y="454.3" fill="#8fc479"/>
<use href="#hx2203" x="1449.0" y="454.3" fill="#8fc479"/>
<use href="#hx2203" x="1471.1" y="454.3" fill="#74b65f"/>
<use href="#hx2203" x="1129.6" y="473.4" fill="#8fc479"/>
<use href="#hx2203" x="1151.6" y="473.4" fill="#a9d192"/>
<use href="#hx2203" x="1173.7" y="473.4" fill="#a9d192"/>
<use href="#hx2203" x="1195.7" y="473.4" fill="#a9d192"/>
<use href="#hx2203" x="1217.7" y="473.4" fill="#cbe2bd"/>
<use href="#hx2203" x="1239.8" y="473.4" fill="#cbe2bd"/>
<use href="#hx2203" x="1261.8" y="473.4" fill="#cbe2bd"/>
<use href="#hx2203" x="1283.8" y="473.4" fill="#cbe2bd"/>
<use href="#hx2203" x="1305.8" y="473.4" fill="#cbe2bd"/>
<use href="#hx2203" x="1327.9" y="473.4" fill="#cbe2bd"/>
<use href="#hx2203" x="1349.9" y="473.4" fill="#a9d192"/>
<use href="#hx2203" x="1371.9" y="473.4" fill="#a9d192"/>
<use href="#hx2203" x="1394.0" y="473.4" fill="#8fc479"/>
<use href="#hx2203" x="1416.0" y="473.4" fill="#8fc479"/>
<use href="#hx2203" x="1438.0" y="473.4" fill="#74b65f"/>
<use href="#hx2203" x="1460.0" y="473.4" fill="#74b65f"/>
<use href="#hx2203" x="1482.1" y="473.4" fill="#74b65f"/>
<use href="#hx2203" x="1118.6" y="492.4" fill="#74b65f"/>
<use href="#hx2203" x="1140.6" y="492.4" fill="#8fc479"/>
<use href="#hx2203" x="1162.6" y="492.4" fill="#8fc479"/>
<use href="#hx2203" x="1184.7" y="492.4" fill="#a9d192"/>
<use href="#hx2203" x="1206.7" y="492.4" fill="#a9d192"/>
<use href="#hx2203" x="1228.7" y="492.4" fill="#a9d192"/>
<use href="#hx2203" x="1250.8" y="492.4" fill="#cbe2bd"/>
<use href="#hx2203" x="1272.8" y="492.4" fill="#cbe2bd"/>
<use href="#hx2203" x="1294.8" y="492.4" fill="#a9d192"/>
<use href="#hx2203" x="1316.9" y="492.4" fill="#a9d192"/>
<use href="#hx2203" x="1338.9" y="492.4" fill="#8fc479"/>
<use href="#hx2203" x="1360.9" y="492.4" fill="#8fc479"/>
<use href="#hx2203" x="1382.9" y="492.4" fill="#8fc479"/>
<use href="#hx2203" x="1405.0" y="492.4" fill="#74b65f"/>
<use href="#hx2203" x="1427.0" y="492.4" fill="#74b65f"/>
<use href="#hx2203" x="1449.0" y="492.4" fill="#5ca551"/>
<use href="#hx2203" x="1471.1" y="492.4" fill="#5ca551"/>
<use href="#hx2203" x="1129.6" y="511.5" fill="#5ca551"/>
<use href="#hx2203" x="1151.6" y="511.5" fill="#74b65f"/>
<use href="#hx2203" x="1173.7" y="511.5" fill="#8fc479"/>
<use href="#hx2203" x="1195.7" y="511.5" fill="#8fc479"/>
<use href="#hx2203" x="1217.7" y="511.5" fill="#a9d192"/>
<use href="#hx2203" x="1239.8" y="511.5" fill="#a9d192"/>
<use href="#hx2203" x="1261.8" y="511.5" fill="#a9d192"/>
<use href="#hx2203" x="1283.8" y="511.5" fill="#a9d192"/>
<use href="#hx2203" x="1305.8" y="511.5" fill="#a9d192"/>
<use href="#hx2203" x="1327.9" y="511.5" fill="#8fc479"/>
<use href="#hx2203" x="1349.9" y="511.5" fill="#8fc479"/>
<use href="#hx2203" x="1371.9" y="511.5" fill="#74b65f"/>
<use href="#hx2203" x="1394.0" y="511.5" fill="#74b65f"/>
<use href="#hx2203" x="1416.0" y="511.5" fill="#5ca551"/>
<use href="#hx2203" x="1438.0" y="511.5" fill="#45904b"/>
<use href="#hx2203" x="1460.0" y="511.5" fill="#45904b"/>
<use href="#hx2203" x="1482.1" y="511.5" fill="#2f7340"/>
<use href="#hx2203" x="1118.6" y="530.6" fill="#2f7340"/>
<use href="#hx2203" x="1140.6" y="530.6" fill="#5ca551"/>
<use href="#hx2203" x="1162.6" y="530.6" fill="#74b65f"/>
<use href="#hx2203" x="1184.7" y="530.6" fill="#8fc479"/>
<use href="#hx2203" x="1206.7" y="530.6" fill="#8fc479"/>
<use href="#hx2203" x="1228.7" y="530.6" fill="#8fc479"/>
<use href="#hx2203" x="1250.8" y="530.6" fill="#a9d192"/>
<use href="#hx2203" x="1272.8" y="530.6" fill="#a9d192"/>
<use href="#hx2203" x="1294.8" y="530.6" fill="#a9d192"/>
<use href="#hx2203" x="1316.9" y="530.6" fill="#8fc479"/>
<use href="#hx2203" x="1338.9" y="530.6" fill="#74b65f"/>
<use href="#hx2203" x="1360.9" y="530.6" fill="#74b65f"/>
<use href="#hx2203" x="1382.9" y="530.6" fill="#74b65f"/>
<use href="#hx2203" x="1405.0" y="530.6" fill="#5ca551"/>
<use href="#hx2203" x="1427.0" y="530.6" fill="#45904b"/>
<use href="#hx2203" x="1449.0" y="530.6" fill="#2f7340"/>
<use href="#hx2203" x="1471.1" y="530.6" fill="#1d5e33"/>
</g>
<g>
<path d="M1129.6 79.08L1140.62 85.44 M1118.58 98.16L1118.58 85.44 M1118.58 85.44L1129.6 79.08 M1151.63 79.08L1162.64 85.44 M1140.61 85.44L1151.63 79.08 M1173.66 79.08L1184.67 85.44 M1162.64 85.44L1173.66 79.08 M1195.69 79.08L1206.7 85.44 M1184.67 85.44L1195.69 79.08 M1217.72 79.08L1228.73 85.44 M1206.7 85.44L1217.72 79.08 M1239.75 79.08L1250.77 85.44 M1228.73 85.44L1239.75 79.08 M1261.78 79.08L1272.8 85.44 M1250.76 85.44L1261.78 79.08 M1283.81 79.08L1294.83 85.44 M1294.83 85.44L1294.83 98.16 M1272.79 85.44L1283.81 79.08 M1305.84 79.08L1316.86 85.44 M1305.84 104.52L1294.82 98.16 M1294.82 85.44L1305.84 79.08 M1327.87 79.08L1338.88 85.44 M1316.85 85.44L1327.87 79.08 M1349.9 79.08L1360.91 85.44 M1360.91 85.44L1360.91 98.16 M1338.88 85.44L1349.9 79.08 M1371.93 79.08L1382.94 85.44 M1371.93 104.52L1360.91 98.16 M1360.91 85.44L1371.93 79.08 M1393.96 79.08L1404.98 85.44 M1382.94 85.44L1393.96 79.08 M1415.99 79.08L1427 85.44 M1404.97 85.44L1415.99 79.08 M1438.02 79.08L1449.04 85.44 M1427 85.44L1438.02 79.08 M1460.05 79.08L1471.07 85.44 M1449.03 85.44L1460.05 79.08 M1482.08 79.08L1493.1 85.44 M1493.1 85.44L1493.1 98.16 M1493.1 98.16L1482.08 104.52 M1471.06 85.44L1482.08 79.08 M1118.58 123.6L1107.57 117.24 M1107.57 117.24L1107.57 104.52 M1107.57 104.52L1118.58 98.16 M1283.81 117.24L1272.79 123.6 M1305.84 104.52L1305.84 117.24 M1305.84 117.24L1294.82 123.6 M1294.82 123.6L1283.81 117.24 M1371.93 104.52L1371.93 117.24 M1393.96 117.24L1382.94 123.6 M1382.94 123.6L1371.93 117.24 M1415.99 117.24L1404.97 123.6 M1404.97 123.6L1393.96 117.24 M1438.02 117.24L1427 123.6 M1427 123.6L1415.99 117.24 M1449.03 123.6L1438.02 117.24 M1482.08 104.52L1482.08 117.24 M1118.58 136.32L1118.58 123.6 M1272.8 123.6L1272.8 136.32 M1272.8 136.32L1261.78 142.68 M1382.94 123.6L1382.94 136.32 M1393.96 142.68L1382.94 136.32 M1449.04 123.6L1449.04 136.32 M1460.05 142.68L1449.03 136.32 M1482.08 117.24L1493.1 123.6 M1493.1 123.6L1493.1 136.32 M1493.1 136.32L1482.08 142.68 M1118.58 161.75L1107.57 155.4 M1107.57 155.4L1107.57 142.68 M1107.57 142.68L1118.58 136.32 M1261.78 142.68L1261.78 155.4 M1261.78 155.4L1250.76 161.75 M1393.96 142.68L1393.96 155.4 M1393.96 155.4L1382.94 161.75 M1460.05 142.68L1460.05 155.4 M1482.08 142.68L1482.08 155.4 M1482.08 155.4L1471.06 161.75 M1471.06 161.75L1460.05 155.4 M1118.58 174.47L1118.58 161.75 M1250.77 161.75L1250.77 174.47 M1261.78 180.83L1250.76 174.47 M1382.94 161.75L1382.94 174.47 M1382.94 174.47L1371.93 180.83 M1482.08 155.4L1493.1 161.75 M1493.1 161.75L1493.1 174.47 M1493.1 174.47L1482.08 180.83 M1118.58 199.91L1107.57 193.55 M1107.57 193.55L1107.57 180.83 M1107.57 180.83L1118.58 174.47 M1261.78 180.83L1261.78 193.55 M1272.79 199.91L1261.78 193.55 M1371.93 180.83L1371.93 193.55 M1382.94 199.91L1371.93 193.55 M1482.08 180.83L1482.08 193.55 M1118.58 212.63L1118.58 199.91 M1272.8 199.91L1272.8 212.63 M1283.81 218.99L1272.79 212.63 M1382.94 199.91L1382.94 212.63 M1393.96 218.99L1382.94 212.63 M1482.08 193.55L1493.1 199.91 M1493.1 199.91L1493.1 212.63 M1493.1 212.63L1482.08 218.99 M1118.58 238.07L1107.57 231.71 M1107.57 231.71L1107.57 218.99 M1107.57 218.99L1118.58 212.63 M1261.78 231.71L1250.76 238.07 M1283.81 218.99L1283.81 231.71 M1283.81 231.71L1272.79 238.07 M1272.79 238.07L1261.78 231.71 M1305.84 231.71L1294.82 238.07 M1294.82 238.07L1283.81 231.71 M1327.87 231.71L1316.85 238.07 M1316.85 238.07L1305.84 231.71 M1349.9 231.71L1338.88 238.07 M1338.88 238.07L1327.87 231.71 M1371.93 231.71L1360.91 238.07 M1360.91 238.07L1349.9 231.71 M1393.96 218.99L1393.96 231.71 M1393.96 231.71L1382.94 238.07 M1382.94 238.07L1371.93 231.71 M1482.08 218.99L1482.08 231.71 M1118.58 250.79L1118.58 238.07 M1250.77 238.07L1250.77 250.79 M1250.77 250.79L1239.75 257.15 M1338.88 238.07L1338.88 250.79 M1349.9 257.15L1338.88 250.79 M1482.08 231.71L1493.1 238.07 M1493.1 238.07L1493.1 250.79 M1493.1 250.79L1482.08 257.15 M1118.58 276.23L1107.57 269.87 M1107.57 269.87L1107.57 257.15 M1107.57 257.15L1118.58 250.79 M1239.75 257.15L1239.75 269.87 M1239.75 269.87L1228.73 276.23 M1250.76 276.23L1239.75 269.87 M1349.9 257.15L1349.9 269.87 M1360.91 276.23L1349.9 269.87 M1482.08 257.15L1482.08 269.87 M1118.58 288.94L1118.58 276.23 M1162.64 288.94L1151.63 295.3 M1184.67 288.94L1173.66 295.3 M1173.66 295.3L1162.64 288.94 M1206.7 288.94L1195.69 295.3 M1195.69 295.3L1184.67 288.94 M1228.73 276.23L1228.73 288.94 M1228.73 288.94L1217.72 295.3 M1217.72 295.3L1206.7 288.94 M1250.77 276.23L1250.77 288.94 M1261.78 295.3L1250.76 288.94 M1360.91 276.23L1360.91 288.94 M1360.91 288.94L1349.9 295.3 M1482.08 269.87L1493.1 276.23 M1493.1 276.23L1493.1 288.94 M1493.1 288.94L1482.08 295.3 M1118.58 314.38L1107.57 308.02 M1107.57 308.02L1107.57 295.3 M1107.57 295.3L1118.58 288.94 M1151.63 295.3L1151.63 308.02 M1151.63 308.02L1140.61 314.38 M1261.78 295.3L1261.78 308.02 M1261.78 308.02L1250.76 314.38 M1349.9 295.3L1349.9 308.02 M1349.9 308.02L1338.88 314.38 M1482.08 295.3L1482.08 308.02 M1140.62 314.38L1140.62 327.1 M1140.62 327.1L1129.6 333.46 M1129.6 333.46L1118.58 327.1 M1118.58 327.1L1118.58 314.38 M1250.77 314.38L1250.77 327.1 M1250.77 327.1L1239.75 333.46 M1272.8 327.1L1261.78 333.46 M1261.78 333.46L1250.76 327.1 M1283.81 333.46L1272.79 327.1 M1338.88 314.38L1338.88 327.1 M1349.9 333.46L1338.88 327.1 M1482.08 308.02L1493.1 314.38 M1493.1 314.38L1493.1 327.1 M1493.1 327.1L1482.08 333.46 M1118.58 352.54L1107.57 346.18 M1107.57 346.18L1107.57 333.46 M1107.57 333.46L1118.58 327.1 M1239.75 333.46L1239.75 346.18 M1239.75 346.18L1228.73 352.54 M1283.81 333.46L1283.81 346.18 M1305.84 346.18L1294.82 352.54 M1294.82 352.54L1283.81 346.18 M1327.87 346.18L1316.85 352.54 M1316.85 352.54L1305.84 346.18 M1349.9 333.46L1349.9 346.18 M1349.9 346.18L1338.88 352.54 M1338.88 352.54L1327.87 346.18 M1482.08 333.46L1482.08 346.18 M1118.58 365.26L1118.58 352.54 M1228.73 352.54L1228.73 365.26 M1228.73 365.26L1217.72 371.62 M1338.88 352.54L1338.88 365.26 M1360.91 365.26L1349.9 371.62 M1349.9 371.62L1338.88 365.26 M1371.93 371.62L1360.91 365.26 M1482.08 346.18L1493.1 352.54 M1493.1 352.54L1493.1 365.26 M1493.1 365.26L1482.08 371.62 M1118.58 390.7L1107.57 384.34 M1107.57 384.34L1107.57 371.62 M1107.57 371.62L1118.58 365.26 M1217.72 371.62L1217.72 384.34 M1228.73 390.7L1217.72 384.34 M1371.93 371.62L1371.93 384.34 M1371.93 384.34L1360.91 390.7 M1482.08 371.62L1482.08 384.34 M1118.58 403.42L1118.58 390.7 M1228.73 390.7L1228.73 403.42 M1228.73 403.42L1217.72 409.78 M1360.91 390.7L1360.91 403.42 M1371.93 409.78L1360.91 403.42 M1482.08 384.34L1493.1 390.7 M1493.1 390.7L1493.1 403.42 M1493.1 403.42L1482.08 409.78 M1118.58 428.85L1107.57 422.49 M1107.57 422.49L1107.57 409.78 M1107.57 409.78L1118.58 403.42 M1217.72 409.78L1217.72 422.49 M1228.73 428.85L1217.72 422.49 M1371.93 409.78L1371.93 422.49 M1371.93 422.49L1360.91 428.85 M1482.08 409.78L1482.08 422.49 M1118.58 441.57L1118.58 428.85 M1228.73 428.85L1228.73 441.57 M1228.73 441.57L1217.72 447.93 M1360.91 428.85L1360.91 441.57 M1371.93 447.93L1360.91 441.57 M1404.98 441.57L1393.96 447.93 M1427 441.57L1415.99 447.93 M1415.99 447.93L1404.97 441.57 M1449.04 441.57L1438.02 447.93 M1438.02 447.93L1427 441.57 M1471.07 441.57L1460.05 447.93 M1460.05 447.93L1449.03 441.57 M1482.08 422.49L1493.1 428.85 M1493.1 428.85L1493.1 441.57 M1493.1 441.57L1482.08 447.93 M1482.08 447.93L1471.06 441.57 M1129.6 460.65L1118.58 467.01 M1118.58 467.01L1107.57 460.65 M1107.57 460.65L1107.57 447.93 M1107.57 447.93L1118.58 441.57 M1151.63 460.65L1140.61 467.01 M1140.61 467.01L1129.6 460.65 M1173.66 460.65L1162.64 467.01 M1162.64 467.01L1151.63 460.65 M1195.69 460.65L1184.67 467.01 M1184.67 467.01L1173.66 460.65 M1217.72 447.93L1217.72 460.65 M1217.72 460.65L1206.7 467.01 M1206.7 467.01L1195.69 460.65 M1371.93 447.93L1371.93 460.65 M1371.93 460.65L1360.91 467.01 M1393.96 447.93L1393.96 460.65 M1393.96 460.65L1382.94 467.01 M1382.94 467.01L1371.93 460.65 M1482.08 447.93L1482.08 460.65 M1118.58 479.73L1118.58 467.01 M1360.91 467.01L1360.91 479.73 M1360.91 479.73L1349.9 486.09 M1482.08 460.65L1493.1 467.01 M1493.1 467.01L1493.1 479.73 M1493.1 479.73L1482.08 486.09 M1118.58 505.17L1107.57 498.81 M1107.57 498.81L1107.57 486.09 M1107.57 486.09L1118.58 479.73 M1349.9 486.09L1349.9 498.81 M1360.91 505.17L1349.9 498.81 M1482.08 486.09L1482.08 498.81 M1118.58 517.89L1118.58 505.17 M1360.91 505.17L1360.91 517.89 M1360.91 517.89L1349.9 524.25 M1482.08 498.81L1493.1 505.17 M1493.1 505.17L1493.1 517.89 M1493.1 517.89L1482.08 524.25 M1129.6 536.97L1118.58 543.33 M1118.58 543.33L1107.57 536.97 M1107.57 536.97L1107.57 524.25 M1107.57 524.25L1118.58 517.89 M1151.63 536.97L1140.61 543.33 M1140.61 543.33L1129.6 536.97 M1173.66 536.97L1162.64 543.33 M1162.64 543.33L1151.63 536.97 M1195.69 536.97L1184.67 543.33 M1184.67 543.33L1173.66 536.97 M1217.72 536.97L1206.7 543.33 M1206.7 543.33L1195.69 536.97 M1239.75 536.97L1228.73 543.33 M1228.73 543.33L1217.72 536.97 M1261.78 536.97L1250.76 543.33 M1250.76 543.33L1239.75 536.97 M1283.81 536.97L1272.79 543.33 M1272.79 543.33L1261.78 536.97 M1305.84 536.97L1294.82 543.33 M1294.82 543.33L1283.81 536.97 M1327.87 536.97L1316.85 543.33 M1316.85 543.33L1305.84 536.97 M1349.9 524.25L1349.9 536.97 M1349.9 536.97L1338.88 543.33 M1338.88 543.33L1327.87 536.97 M1371.93 536.97L1360.91 543.33 M1360.91 543.33L1349.9 536.97 M1393.96 536.97L1382.94 543.33 M1382.94 543.33L1371.93 536.97 M1415.99 536.97L1404.97 543.33 M1404.97 543.33L1393.96 536.97 M1438.02 536.97L1427 543.33 M1427 543.33L1415.99 536.97 M1460.05 536.97L1449.03 543.33 M1449.03 543.33L1438.02 536.97 M1482.08 524.25L1482.08 536.97 M1482.08 536.97L1471.06 543.33 M1471.06 543.33L1460.05 536.97" fill="none" stroke="#231f20" stroke-width="1.1" stroke-linecap="round" stroke-linejoin="round"/>
</g>
<g stroke="#fff" stroke-width="0.5" stroke-opacity="0.09">
<use href="#hx2203" x="1685.1" y="89.7" fill="#b2b3b5"/>
<use href="#hx2203" x="1707.1" y="89.7" fill="#dbdcde"/>
<use href="#hx2203" x="1729.2" y="89.7" fill="#e2e3e5"/>
<use href="#hx2203" x="1751.2" y="89.7" fill="#dbdcde"/>
<use href="#hx2203" x="1773.2" y="89.7" fill="#b4b5b7"/>
<use href="#hx2203" x="1795.2" y="89.7" fill="#c1c2c4"/>
<use href="#hx2203" x="1817.3" y="89.7" fill="#9b9c9e"/>
<use href="#hx2203" x="1839.3" y="89.7" fill="#57585a"/>
<use href="#hx2203" x="1861.3" y="89.7" fill="#231f20"/>
<use href="#hx2203" x="1883.4" y="89.7" fill="#a7a8aa"/>
<use href="#hx2203" x="1905.4" y="89.7" fill="#dbdcde"/>
<use href="#hx2203" x="1927.4" y="89.7" fill="#dbdcde"/>
<use href="#hx2203" x="1949.5" y="89.7" fill="#e2e3e5"/>
<use href="#hx2203" x="1971.5" y="89.7" fill="#ecedef"/>
<use href="#hx2203" x="1993.5" y="89.7" fill="#c2c3c5"/>
<use href="#hx2203" x="2015.5" y="89.7" fill="#d7d8da"/>
<use href="#hx2203" x="2037.6" y="89.7" fill="#e2e3e5"/>
<use href="#hx2203" x="1674.1" y="108.7" fill="#c5c6c8"/>
<use href="#hx2203" x="1696.1" y="108.7" fill="#d3d4d6"/>
<use href="#hx2203" x="1718.1" y="108.7" fill="#cecfd1"/>
<use href="#hx2203" x="1740.2" y="108.7" fill="#c7c8ca"/>
<use href="#hx2203" x="1762.2" y="108.7" fill="#bdbec0"/>
<use href="#hx2203" x="1784.2" y="108.7" fill="#cfd0d2"/>
<use href="#hx2203" x="1806.3" y="108.7" fill="#c5c6c8"/>
<use href="#hx2203" x="1828.3" y="108.7" fill="#d3d4d6"/>
<use href="#hx2203" x="1850.3" y="108.7" fill="#b0b1b3"/>
<use href="#hx2203" x="1872.4" y="108.7" fill="#b7b8ba"/>
<use href="#hx2203" x="1894.4" y="108.7" fill="#e2e3e5"/>
<use href="#hx2203" x="1916.4" y="108.7" fill="#e8e9eb"/>
<use href="#hx2203" x="1938.4" y="108.7" fill="#e8e9eb"/>
<use href="#hx2203" x="1960.5" y="108.7" fill="#dbdcde"/>
<use href="#hx2203" x="1982.5" y="108.7" fill="#e2e3e5"/>
<use href="#hx2203" x="2004.5" y="108.7" fill="#f0f1f3"/>
<use href="#hx2203" x="2026.6" y="108.7" fill="#c7c8ca"/>
<use href="#hx2203" x="1685.1" y="127.8" fill="#cecfd1"/>
<use href="#hx2203" x="1707.1" y="127.8" fill="#e2e3e5"/>
<use href="#hx2203" x="1729.2" y="127.8" fill="#9a9b9d"/>
<use href="#hx2203" x="1751.2" y="127.8" fill="#a1a2a4"/>
<use href="#hx2203" x="1773.2" y="127.8" fill="#c1c2c4"/>
<use href="#hx2203" x="1795.2" y="127.8" fill="#838486"/>
<use href="#hx2203" x="1817.3" y="127.8" fill="#adaeb0"/>
<use href="#hx2203" x="1839.3" y="127.8" fill="#8f9092"/>
<use href="#hx2203" x="1861.3" y="127.8" fill="#b2b3b5"/>
<use href="#hx2203" x="1883.4" y="127.8" fill="#d7d8da"/>
<use href="#hx2203" x="1905.4" y="127.8" fill="#dbdcde"/>
<use href="#hx2203" x="1927.4" y="127.8" fill="#e8e9eb"/>
<use href="#hx2203" x="1949.5" y="127.8" fill="#e2e3e5"/>
<use href="#hx2203" x="1971.5" y="127.8" fill="#bdbec0"/>
<use href="#hx2203" x="1993.5" y="127.8" fill="#c5c6c8"/>
<use href="#hx2203" x="2015.5" y="127.8" fill="#e7e8ea"/>
<use href="#hx2203" x="2037.6" y="127.8" fill="#828385"/>
<use href="#hx2203" x="1674.1" y="146.9" fill="#858688"/>
<use href="#hx2203" x="1696.1" y="146.9" fill="#e2e3e5"/>
<use href="#hx2203" x="1718.1" y="146.9" fill="#c7c8ca"/>
<use href="#hx2203" x="1740.2" y="146.9" fill="#97989a"/>
<use href="#hx2203" x="1762.2" y="146.9" fill="#7c7d7f"/>
<use href="#hx2203" x="1784.2" y="146.9" fill="#797a7c"/>
<use href="#hx2203" x="1806.3" y="146.9" fill="#9fa0a2"/>
<use href="#hx2203" x="1828.3" y="146.9" fill="#8e8f91"/>
<use href="#hx2203" x="1850.3" y="146.9" fill="#616264"/>
<use href="#hx2203" x="1872.4" y="146.9" fill="#c5c6c8"/>
<use href="#hx2203" x="1894.4" y="146.9" fill="#e4e5e7"/>
<use href="#hx2203" x="1916.4" y="146.9" fill="#e4e5e7"/>
<use href="#hx2203" x="1938.4" y="146.9" fill="#e2e3e5"/>
<use href="#hx2203" x="1960.5" y="146.9" fill="#d3d4d6"/>
<use href="#hx2203" x="1982.5" y="146.9" fill="#c0c1c3"/>
<use href="#hx2203" x="2004.5" y="146.9" fill="#c9cacc"/>
<use href="#hx2203" x="2026.6" y="146.9" fill="#c7c8ca"/>
<use href="#hx2203" x="1685.1" y="166.0" fill="#ecedef"/>
<use href="#hx2203" x="1707.1" y="166.0" fill="#c3c4c6"/>
<use href="#hx2203" x="1729.2" y="166.0" fill="#adaeb0"/>
<use href="#hx2203" x="1751.2" y="166.0" fill="#7c7d7f"/>
<use href="#hx2203" x="1773.2" y="166.0" fill="#231f20"/>
<use href="#hx2203" x="1795.2" y="166.0" fill="#696a6c"/>
<use href="#hx2203" x="1817.3" y="166.0" fill="#231f20"/>
<use href="#hx2203" x="1839.3" y="166.0" fill="#cecfd1"/>
<use href="#hx2203" x="1861.3" y="166.0" fill="#dbdcde"/>
<use href="#hx2203" x="1883.4" y="166.0" fill="#c5c6c8"/>
<use href="#hx2203" x="1905.4" y="166.0" fill="#e4e5e7"/>
<use href="#hx2203" x="1927.4" y="166.0" fill="#e4e5e7"/>
<use href="#hx2203" x="1949.5" y="166.0" fill="#e7e8ea"/>
<use href="#hx2203" x="1971.5" y="166.0" fill="#d3d4d6"/>
<use href="#hx2203" x="1993.5" y="166.0" fill="#d3d4d6"/>
<use href="#hx2203" x="2015.5" y="166.0" fill="#cecfd1"/>
<use href="#hx2203" x="2037.6" y="166.0" fill="#b2b3b5"/>
<use href="#hx2203" x="1674.1" y="185.0" fill="#9e9fa1"/>
<use href="#hx2203" x="1696.1" y="185.0" fill="#e7e8ea"/>
<use href="#hx2203" x="1718.1" y="185.0" fill="#d3d4d6"/>
<use href="#hx2203" x="1740.2" y="185.0" fill="#7f8082"/>
<use href="#hx2203" x="1762.2" y="185.0" fill="#767779"/>
<use href="#hx2203" x="1784.2" y="185.0" fill="#2a2b2d"/>
<use href="#hx2203" x="1806.3" y="185.0" fill="#696a6c"/>
<use href="#hx2203" x="1828.3" y="185.0" fill="#bdbec0"/>
<use href="#hx2203" x="1850.3" y="185.0" fill="#a7a8aa"/>
<use href="#hx2203" x="1872.4" y="185.0" fill="#dbdcde"/>
<use href="#hx2203" x="1894.4" y="185.0" fill="#b7b8ba"/>
<use href="#hx2203" x="1916.4" y="185.0" fill="#d3d4d6"/>
<use href="#hx2203" x="1938.4" y="185.0" fill="#d7d8da"/>
<use href="#hx2203" x="1960.5" y="185.0" fill="#ecedef"/>
<use href="#hx2203" x="1982.5" y="185.0" fill="#e7e8ea"/>
<use href="#hx2203" x="2004.5" y="185.0" fill="#b0b1b3"/>
<use href="#hx2203" x="2026.6" y="185.0" fill="#d3d4d6"/>
<use href="#hx2203" x="1685.1" y="204.1" fill="#c7c8ca"/>
<use href="#hx2203" x="1707.1" y="204.1" fill="#f0f1f3"/>
<use href="#hx2203" x="1729.2" y="204.1" fill="#e2e3e5"/>
<use href="#hx2203" x="1751.2" y="204.1" fill="#636466"/>
<use href="#hx2203" x="1773.2" y="204.1" fill="#9fa0a2"/>
<use href="#hx2203" x="1795.2" y="204.1" fill="#a7a8aa"/>
<use href="#hx2203" x="1817.3" y="204.1" fill="#b4b5b7"/>
<use href="#hx2203" x="1839.3" y="204.1" fill="#929395"/>
<use href="#hx2203" x="1861.3" y="204.1" fill="#929395"/>
<use href="#hx2203" x="1883.4" y="204.1" fill="#a5a6a8"/>
<use href="#hx2203" x="1905.4" y="204.1" fill="#b4b5b7"/>
<use href="#hx2203" x="1927.4" y="204.1" fill="#bdbec0"/>
<use href="#hx2203" x="1949.5" y="204.1" fill="#cccdcf"/>
<use href="#hx2203" x="1971.5" y="204.1" fill="#d3d4d6"/>
<use href="#hx2203" x="1993.5" y="204.1" fill="#c7c8ca"/>
<use href="#hx2203" x="2015.5" y="204.1" fill="#dbdcde"/>
<use href="#hx2203" x="2037.6" y="204.1" fill="#b4b5b7"/>
<use href="#hx2203" x="1674.1" y="223.2" fill="#bdbec0"/>
<use href="#hx2203" x="1696.1" y="223.2" fill="#e2e3e5"/>
<use href="#hx2203" x="1718.1" y="223.2" fill="#d3d4d6"/>
<use href="#hx2203" x="1740.2" y="223.2" fill="#abacae"/>
<use href="#hx2203" x="1762.2" y="223.2" fill="#9fa0a2"/>
<use href="#hx2203" x="1784.2" y="223.2" fill="#6d6e70"/>
<use href="#hx2203" x="1806.3" y="223.2" fill="#696a6c"/>
<use href="#hx2203" x="1828.3" y="223.2" fill="#929395"/>
<use href="#hx2203" x="1850.3" y="223.2" fill="#5b5c5e"/>
<use href="#hx2203" x="1872.4" y="223.2" fill="#abacae"/>
<use href="#hx2203" x="1894.4" y="223.2" fill="#c5c6c8"/>
<use href="#hx2203" x="1916.4" y="223.2" fill="#b4b5b7"/>
<use href="#hx2203" x="1938.4" y="223.2" fill="#c5c6c8"/>
<use href="#hx2203" x="1960.5" y="223.2" fill="#868789"/>
<use href="#hx2203" x="1982.5" y="223.2" fill="#adaeb0"/>
<use href="#hx2203" x="2004.5" y="223.2" fill="#d3d4d6"/>
<use href="#hx2203" x="2026.6" y="223.2" fill="#d7d8da"/>
<use href="#hx2203" x="1685.1" y="242.3" fill="#d3d4d6"/>
<use href="#hx2203" x="1707.1" y="242.3" fill="#d3d4d6"/>
<use href="#hx2203" x="1729.2" y="242.3" fill="#cfd0d2"/>
<use href="#hx2203" x="1751.2" y="242.3" fill="#696a6c"/>
<use href="#hx2203" x="1773.2" y="242.3" fill="#8b8c8e"/>
<use href="#hx2203" x="1795.2" y="242.3" fill="#231f20"/>
<use href="#hx2203" x="1817.3" y="242.3" fill="#8b8c8e"/>
<use href="#hx2203" x="1839.3" y="242.3" fill="#bdbec0"/>
<use href="#hx2203" x="1861.3" y="242.3" fill="#e2e3e5"/>
<use href="#hx2203" x="1883.4" y="242.3" fill="#e2e3e5"/>
<use href="#hx2203" x="1905.4" y="242.3" fill="#e7e8ea"/>
<use href="#hx2203" x="1927.4" y="242.3" fill="#a5a6a8"/>
<use href="#hx2203" x="1949.5" y="242.3" fill="#767779"/>
<use href="#hx2203" x="1971.5" y="242.3" fill="#adaeb0"/>
<use href="#hx2203" x="1993.5" y="242.3" fill="#8b8c8e"/>
<use href="#hx2203" x="2015.5" y="242.3" fill="#b0b1b3"/>
<use href="#hx2203" x="2037.6" y="242.3" fill="#8b8c8e"/>
<use href="#hx2203" x="1674.1" y="261.4" fill="#bdbec0"/>
<use href="#hx2203" x="1696.1" y="261.4" fill="#dbdcde"/>
<use href="#hx2203" x="1718.1" y="261.4" fill="#a5a6a8"/>
<use href="#hx2203" x="1740.2" y="261.4" fill="#97989a"/>
<use href="#hx2203" x="1762.2" y="261.4" fill="#231f20"/>
<use href="#hx2203" x="1784.2" y="261.4" fill="#231f20"/>
<use href="#hx2203" x="1806.3" y="261.4" fill="#57585a"/>
<use href="#hx2203" x="1828.3" y="261.4" fill="#a7a8aa"/>
<use href="#hx2203" x="1850.3" y="261.4" fill="#b7b8ba"/>
<use href="#hx2203" x="1872.4" y="261.4" fill="#a1a2a4"/>
<use href="#hx2203" x="1894.4" y="261.4" fill="#c0c1c3"/>
<use href="#hx2203" x="1916.4" y="261.4" fill="#e4e5e7"/>
<use href="#hx2203" x="1938.4" y="261.4" fill="#e7e8ea"/>
<use href="#hx2203" x="1960.5" y="261.4" fill="#b4b5b7"/>
<use href="#hx2203" x="1982.5" y="261.4" fill="#8b8c8e"/>
<use href="#hx2203" x="2004.5" y="261.4" fill="#c0c1c3"/>
<use href="#hx2203" x="2026.6" y="261.4" fill="#a1a2a4"/>
<use href="#hx2203" x="1685.1" y="280.4" fill="#dbdcde"/>
<use href="#hx2203" x="1707.1" y="280.4" fill="#c3c4c6"/>
<use href="#hx2203" x="1729.2" y="280.4" fill="#c5c6c8"/>
<use href="#hx2203" x="1751.2" y="280.4" fill="#adaeb0"/>
<use href="#hx2203" x="1773.2" y="280.4" fill="#7c7d7f"/>
<use href="#hx2203" x="1795.2" y="280.4" fill="#adaeb0"/>
<use href="#hx2203" x="1817.3" y="280.4" fill="#cfd0d2"/>
<use href="#hx2203" x="1839.3" y="280.4" fill="#6f7072"/>
<use href="#hx2203" x="1861.3" y="280.4" fill="#e2e3e5"/>
<use href="#hx2203" x="1883.4" y="280.4" fill="#b7b8ba"/>
<use href="#hx2203" x="1905.4" y="280.4" fill="#e8e9eb"/>
<use href="#hx2203" x="1927.4" y="280.4" fill="#c7c8ca"/>
<use href="#hx2203" x="1949.5" y="280.4" fill="#bdbec0"/>
<use href="#hx2203" x="1971.5" y="280.4" fill="#c2c3c5"/>
<use href="#hx2203" x="1993.5" y="280.4" fill="#abacae"/>
<use href="#hx2203" x="2015.5" y="280.4" fill="#b7b8ba"/>
<use href="#hx2203" x="2037.6" y="280.4" fill="#231f20"/>
<use href="#hx2203" x="1674.1" y="299.5" fill="#c7c8ca"/>
<use href="#hx2203" x="1696.1" y="299.5" fill="#d7d8da"/>
<use href="#hx2203" x="1718.1" y="299.5" fill="#abacae"/>
<use href="#hx2203" x="1740.2" y="299.5" fill="#6f7072"/>
<use href="#hx2203" x="1762.2" y="299.5" fill="#8b8c8e"/>
<use href="#hx2203" x="1784.2" y="299.5" fill="#231f20"/>
<use href="#hx2203" x="1806.3" y="299.5" fill="#231f20"/>
<use href="#hx2203" x="1828.3" y="299.5" fill="#231f20"/>
<use href="#hx2203" x="1850.3" y="299.5" fill="#dbdcde"/>
<use href="#hx2203" x="1872.4" y="299.5" fill="#797a7c"/>
<use href="#hx2203" x="1894.4" y="299.5" fill="#bdbec0"/>
<use href="#hx2203" x="1916.4" y="299.5" fill="#e2e3e5"/>
<use href="#hx2203" x="1938.4" y="299.5" fill="#e2e3e5"/>
<use href="#hx2203" x="1960.5" y="299.5" fill="#e7e8ea"/>
<use href="#hx2203" x="1982.5" y="299.5" fill="#9e9fa1"/>
<use href="#hx2203" x="2004.5" y="299.5" fill="#c7c8ca"/>
<use href="#hx2203" x="2026.6" y="299.5" fill="#8b8c8e"/>
<use href="#hx2203" x="1685.1" y="318.6" fill="#cfd0d2"/>
<use href="#hx2203" x="1707.1" y="318.6" fill="#5b5c5e"/>
<use href="#hx2203" x="1729.2" y="318.6" fill="#abacae"/>
<use href="#hx2203" x="1751.2" y="318.6" fill="#b7b8ba"/>
<use href="#hx2203" x="1773.2" y="318.6" fill="#9b9c9e"/>
<use href="#hx2203" x="1795.2" y="318.6" fill="#b0b1b3"/>
<use href="#hx2203" x="1817.3" y="318.6" fill="#adaeb0"/>
<use href="#hx2203" x="1839.3" y="318.6" fill="#9b9c9e"/>
<use href="#hx2203" x="1861.3" y="318.6" fill="#a1a2a4"/>
<use href="#hx2203" x="1883.4" y="318.6" fill="#abacae"/>
<use href="#hx2203" x="1905.4" y="318.6" fill="#d3d4d6"/>
<use href="#hx2203" x="1927.4" y="318.6" fill="#e2e3e5"/>
<use href="#hx2203" x="1949.5" y="318.6" fill="#ecedef"/>
<use href="#hx2203" x="1971.5" y="318.6" fill="#ecedef"/>
<use href="#hx2203" x="1993.5" y="318.6" fill="#ecedef"/>
<use href="#hx2203" x="2015.5" y="318.6" fill="#dbdcde"/>
<use href="#hx2203" x="2037.6" y="318.6" fill="#57585a"/>
<use href="#hx2203" x="1674.1" y="337.7" fill="#626365"/>
<use href="#hx2203" x="1696.1" y="337.7" fill="#a1a2a4"/>
<use href="#hx2203" x="1718.1" y="337.7" fill="#696a6c"/>
<use href="#hx2203" x="1740.2" y="337.7" fill="#5b5c5e"/>
<use href="#hx2203" x="1762.2" y="337.7" fill="#97989a"/>
<use href="#hx2203" x="1784.2" y="337.7" fill="#231f20"/>
<use href="#hx2203" x="1806.3" y="337.7" fill="#adaeb0"/>
<use href="#hx2203" x="1828.3" y="337.7" fill="#a1a2a4"/>
<use href="#hx2203" x="1850.3" y="337.7" fill="#c2c3c5"/>
<use href="#hx2203" x="1872.4" y="337.7" fill="#868789"/>
<use href="#hx2203" x="1894.4" y="337.7" fill="#bdbec0"/>
<use href="#hx2203" x="1916.4" y="337.7" fill="#cccdcf"/>
<use href="#hx2203" x="1938.4" y="337.7" fill="#c5c6c8"/>
<use href="#hx2203" x="1960.5" y="337.7" fill="#e8e9eb"/>
<use href="#hx2203" x="1982.5" y="337.7" fill="#e2e3e5"/>
<use href="#hx2203" x="2004.5" y="337.7" fill="#e7e8ea"/>
<use href="#hx2203" x="2026.6" y="337.7" fill="#a1a2a4"/>
<use href="#hx2203" x="1685.1" y="356.7" fill="#c7c8ca"/>
<use href="#hx2203" x="1707.1" y="356.7" fill="#626365"/>
<use href="#hx2203" x="1729.2" y="356.7" fill="#8b8c8e"/>
<use href="#hx2203" x="1751.2" y="356.7" fill="#b7b8ba"/>
<use href="#hx2203" x="1773.2" y="356.7" fill="#bdbec0"/>
<use href="#hx2203" x="1795.2" y="356.7" fill="#d7d8da"/>
<use href="#hx2203" x="1817.3" y="356.7" fill="#cccdcf"/>
<use href="#hx2203" x="1839.3" y="356.7" fill="#d3d4d6"/>
<use href="#hx2203" x="1861.3" y="356.7" fill="#97989a"/>
<use href="#hx2203" x="1883.4" y="356.7" fill="#868789"/>
<use href="#hx2203" x="1905.4" y="356.7" fill="#c5c6c8"/>
<use href="#hx2203" x="1927.4" y="356.7" fill="#c7c8ca"/>
<use href="#hx2203" x="1949.5" y="356.7" fill="#b4b5b7"/>
<use href="#hx2203" x="1971.5" y="356.7" fill="#dbdcde"/>
<use href="#hx2203" x="1993.5" y="356.7" fill="#d3d4d6"/>
<use href="#hx2203" x="2015.5" y="356.7" fill="#e4e5e7"/>
<use href="#hx2203" x="2037.6" y="356.7" fill="#b7b8ba"/>
<use href="#hx2203" x="1674.1" y="375.8" fill="#929395"/>
<use href="#hx2203" x="1696.1" y="375.8" fill="#c7c8ca"/>
<use href="#hx2203" x="1718.1" y="375.8" fill="#8e8f91"/>
<use href="#hx2203" x="1740.2" y="375.8" fill="#dbdcde"/>
<use href="#hx2203" x="1762.2" y="375.8" fill="#d3d4d6"/>
<use href="#hx2203" x="1784.2" y="375.8" fill="#bdbec0"/>
<use href="#hx2203" x="1806.3" y="375.8" fill="#c2c3c5"/>
<use href="#hx2203" x="1828.3" y="375.8" fill="#a1a2a4"/>
<use href="#hx2203" x="1850.3" y="375.8" fill="#929395"/>
<use href="#hx2203" x="1872.4" y="375.8" fill="#626365"/>
<use href="#hx2203" x="1894.4" y="375.8" fill="#b0b1b3"/>
<use href="#hx2203" x="1916.4" y="375.8" fill="#a5a6a8"/>
<use href="#hx2203" x="1938.4" y="375.8" fill="#abacae"/>
<use href="#hx2203" x="1960.5" y="375.8" fill="#cccdcf"/>
<use href="#hx2203" x="1982.5" y="375.8" fill="#dbdcde"/>
<use href="#hx2203" x="2004.5" y="375.8" fill="#adaeb0"/>
<use href="#hx2203" x="2026.6" y="375.8" fill="#e2e3e5"/>
<use href="#hx2203" x="1685.1" y="394.9" fill="#e8e9eb"/>
<use href="#hx2203" x="1707.1" y="394.9" fill="#e4e5e7"/>
<use href="#hx2203" x="1729.2" y="394.9" fill="#9b9c9e"/>
<use href="#hx2203" x="1751.2" y="394.9" fill="#b0b1b3"/>
<use href="#hx2203" x="1773.2" y="394.9" fill="#c2c3c5"/>
<use href="#hx2203" x="1795.2" y="394.9" fill="#c7c8ca"/>
<use href="#hx2203" x="1817.3" y="394.9" fill="#b4b5b7"/>
<use href="#hx2203" x="1839.3" y="394.9" fill="#abacae"/>
<use href="#hx2203" x="1861.3" y="394.9" fill="#868789"/>
<use href="#hx2203" x="1883.4" y="394.9" fill="#b0b1b3"/>
<use href="#hx2203" x="1905.4" y="394.9" fill="#b2b3b5"/>
<use href="#hx2203" x="1927.4" y="394.9" fill="#c5c6c8"/>
<use href="#hx2203" x="1949.5" y="394.9" fill="#a5a6a8"/>
<use href="#hx2203" x="1971.5" y="394.9" fill="#868789"/>
<use href="#hx2203" x="1993.5" y="394.9" fill="#b4b5b7"/>
<use href="#hx2203" x="2015.5" y="394.9" fill="#d7d8da"/>
<use href="#hx2203" x="2037.6" y="394.9" fill="#b4b5b7"/>
<use href="#hx2203" x="1674.1" y="414.0" fill="#b4b5b7"/>
<use href="#hx2203" x="1696.1" y="414.0" fill="#dbdcde"/>
<use href="#hx2203" x="1718.1" y="414.0" fill="#9b9c9e"/>
<use href="#hx2203" x="1740.2" y="414.0" fill="#dbdcde"/>
<use href="#hx2203" x="1762.2" y="414.0" fill="#d3d4d6"/>
<use href="#hx2203" x="1784.2" y="414.0" fill="#7f8082"/>
<use href="#hx2203" x="1806.3" y="414.0" fill="#797a7c"/>
<use href="#hx2203" x="1828.3" y="414.0" fill="#d3d4d6"/>
<use href="#hx2203" x="1850.3" y="414.0" fill="#e2e3e5"/>
<use href="#hx2203" x="1872.4" y="414.0" fill="#abacae"/>
<use href="#hx2203" x="1894.4" y="414.0" fill="#c7c8ca"/>
<use href="#hx2203" x="1916.4" y="414.0" fill="#e4e5e7"/>
<use href="#hx2203" x="1938.4" y="414.0" fill="#b4b5b7"/>
<use href="#hx2203" x="1960.5" y="414.0" fill="#d7d8da"/>
<use href="#hx2203" x="1982.5" y="414.0" fill="#e2e3e5"/>
<use href="#hx2203" x="2004.5" y="414.0" fill="#d3d4d6"/>
<use href="#hx2203" x="2026.6" y="414.0" fill="#e2e3e5"/>
<use href="#hx2203" x="1685.1" y="433.1" fill="#cccdcf"/>
<use href="#hx2203" x="1707.1" y="433.1" fill="#abacae"/>
<use href="#hx2203" x="1729.2" y="433.1" fill="#97989a"/>
<use href="#hx2203" x="1751.2" y="433.1" fill="#b4b5b7"/>
<use href="#hx2203" x="1773.2" y="433.1" fill="#e2e3e5"/>
<use href="#hx2203" x="1795.2" y="433.1" fill="#abacae"/>
<use href="#hx2203" x="1817.3" y="433.1" fill="#a1a2a4"/>
<use href="#hx2203" x="1839.3" y="433.1" fill="#d7d8da"/>
<use href="#hx2203" x="1861.3" y="433.1" fill="#d7d8da"/>
<use href="#hx2203" x="1883.4" y="433.1" fill="#c0c1c3"/>
<use href="#hx2203" x="1905.4" y="433.1" fill="#cccdcf"/>
<use href="#hx2203" x="1927.4" y="433.1" fill="#d3d4d6"/>
<use href="#hx2203" x="1949.5" y="433.1" fill="#c5c6c8"/>
<use href="#hx2203" x="1971.5" y="433.1" fill="#abacae"/>
<use href="#hx2203" x="1993.5" y="433.1" fill="#bdbec0"/>
<use href="#hx2203" x="2015.5" y="433.1" fill="#d7d8da"/>
<use href="#hx2203" x="2037.6" y="433.1" fill="#cccdcf"/>
<use href="#hx2203" x="1674.1" y="452.1" fill="#c7c8ca"/>
<use href="#hx2203" x="1696.1" y="452.1" fill="#dbdcde"/>
<use href="#hx2203" x="1718.1" y="452.1" fill="#57585a"/>
<use href="#hx2203" x="1740.2" y="452.1" fill="#b4b5b7"/>
<use href="#hx2203" x="1762.2" y="452.1" fill="#929395"/>
<use href="#hx2203" x="1784.2" y="452.1" fill="#abacae"/>
<use href="#hx2203" x="1806.3" y="452.1" fill="#696a6c"/>
<use href="#hx2203" x="1828.3" y="452.1" fill="#9e9fa1"/>
<use href="#hx2203" x="1850.3" y="452.1" fill="#d3d4d6"/>
<use href="#hx2203" x="1872.4" y="452.1" fill="#a1a2a4"/>
<use href="#hx2203" x="1894.4" y="452.1" fill="#9b9c9e"/>
<use href="#hx2203" x="1916.4" y="452.1" fill="#cccdcf"/>
<use href="#hx2203" x="1938.4" y="452.1" fill="#cccdcf"/>
<use href="#hx2203" x="1960.5" y="452.1" fill="#c0c1c3"/>
<use href="#hx2203" x="1982.5" y="452.1" fill="#dbdcde"/>
<use href="#hx2203" x="2004.5" y="452.1" fill="#e2e3e5"/>
<use href="#hx2203" x="2026.6" y="452.1" fill="#eeeff1"/>
<use href="#hx2203" x="1685.1" y="471.2" fill="#b2b3b5"/>
<use href="#hx2203" x="1707.1" y="471.2" fill="#cccdcf"/>
<use href="#hx2203" x="1729.2" y="471.2" fill="#636466"/>
<use href="#hx2203" x="1751.2" y="471.2" fill="#a1a2a4"/>
<use href="#hx2203" x="1773.2" y="471.2" fill="#c2c3c5"/>
<use href="#hx2203" x="1795.2" y="471.2" fill="#abacae"/>
<use href="#hx2203" x="1817.3" y="471.2" fill="#a7a8aa"/>
<use href="#hx2203" x="1839.3" y="471.2" fill="#cccdcf"/>
<use href="#hx2203" x="1861.3" y="471.2" fill="#858688"/>
<use href="#hx2203" x="1883.4" y="471.2" fill="#abacae"/>
<use href="#hx2203" x="1905.4" y="471.2" fill="#97989a"/>
<use href="#hx2203" x="1927.4" y="471.2" fill="#cfd0d2"/>
<use href="#hx2203" x="1949.5" y="471.2" fill="#b7b8ba"/>
<use href="#hx2203" x="1971.5" y="471.2" fill="#c5c6c8"/>
<use href="#hx2203" x="1993.5" y="471.2" fill="#cccdcf"/>
<use href="#hx2203" x="2015.5" y="471.2" fill="#97989a"/>
<use href="#hx2203" x="2037.6" y="471.2" fill="#cccdcf"/>
<use href="#hx2203" x="1674.1" y="490.3" fill="#abacae"/>
<use href="#hx2203" x="1696.1" y="490.3" fill="#e4e5e7"/>
<use href="#hx2203" x="1718.1" y="490.3" fill="#abacae"/>
<use href="#hx2203" x="1740.2" y="490.3" fill="#3b3c3e"/>
<use href="#hx2203" x="1762.2" y="490.3" fill="#929395"/>
<use href="#hx2203" x="1784.2" y="490.3" fill="#c5c6c8"/>
<use href="#hx2203" x="1806.3" y="490.3" fill="#c2c3c5"/>
<use href="#hx2203" x="1828.3" y="490.3" fill="#c2c3c5"/>
<use href="#hx2203" x="1850.3" y="490.3" fill="#bdbec0"/>
<use href="#hx2203" x="1872.4" y="490.3" fill="#c2c3c5"/>
<use href="#hx2203" x="1894.4" y="490.3" fill="#e7e8ea"/>
<use href="#hx2203" x="1916.4" y="490.3" fill="#bdbec0"/>
<use href="#hx2203" x="1938.4" y="490.3" fill="#dbdcde"/>
<use href="#hx2203" x="1960.5" y="490.3" fill="#dbdcde"/>
<use href="#hx2203" x="1982.5" y="490.3" fill="#b4b5b7"/>
<use href="#hx2203" x="2004.5" y="490.3" fill="#c2c3c5"/>
<use href="#hx2203" x="2026.6" y="490.3" fill="#dbdcde"/>
<use href="#hx2203" x="1685.1" y="509.4" fill="#e2e3e5"/>
<use href="#hx2203" x="1707.1" y="509.4" fill="#d3d4d6"/>
<use href="#hx2203" x="1729.2" y="509.4" fill="#a5a6a8"/>
<use href="#hx2203" x="1751.2" y="509.4" fill="#b4b5b7"/>
<use href="#hx2203" x="1773.2" y="509.4" fill="#ecedef"/>
<use href="#hx2203" x="1795.2" y="509.4" fill="#ecedef"/>
<use href="#hx2203" x="1817.3" y="509.4" fill="#cccdcf"/>
<use href="#hx2203" x="1839.3" y="509.4" fill="#e2e3e5"/>
<use href="#hx2203" x="1861.3" y="509.4" fill="#e2e3e5"/>
<use href="#hx2203" x="1883.4" y="509.4" fill="#cccdcf"/>
<use href="#hx2203" x="1905.4" y="509.4" fill="#cfd0d2"/>
<use href="#hx2203" x="1927.4" y="509.4" fill="#cfd0d2"/>
<use href="#hx2203" x="1949.5" y="509.4" fill="#e2e3e5"/>
<use href="#hx2203" x="1971.5" y="509.4" fill="#e2e3e5"/>
<use href="#hx2203" x="1993.5" y="509.4" fill="#c7c8ca"/>
<use href="#hx2203" x="2015.5" y="509.4" fill="#f0f1f3"/>
<use href="#hx2203" x="2037.6" y="509.4" fill="#e4e5e7"/>
<use href="#hx2203" x="1674.1" y="528.5" fill="#8b8c8e"/>
<use href="#hx2203" x="1696.1" y="528.5" fill="#bdbec0"/>
<use href="#hx2203" x="1718.1" y="528.5" fill="#cccdcf"/>
<use href="#hx2203" x="1740.2" y="528.5" fill="#c7c8ca"/>
<use href="#hx2203" x="1762.2" y="528.5" fill="#c5c6c8"/>
<use href="#hx2203" x="1784.2" y="528.5" fill="#b7b8ba"/>
<use href="#hx2203" x="1806.3" y="528.5" fill="#f3f4f6"/>
<use href="#hx2203" x="1828.3" y="528.5" fill="#e8e9eb"/>
<use href="#hx2203" x="1850.3" y="528.5" fill="#d7d8da"/>
<use href="#hx2203" x="1872.4" y="528.5" fill="#bdbec0"/>
<use href="#hx2203" x="1894.4" y="528.5" fill="#d3d4d6"/>
<use href="#hx2203" x="1916.4" y="528.5" fill="#d3d4d6"/>
<use href="#hx2203" x="1938.4" y="528.5" fill="#c7c8ca"/>
<use href="#hx2203" x="1960.5" y="528.5" fill="#9b9c9e"/>
<use href="#hx2203" x="1982.5" y="528.5" fill="#d3d4d6"/>
<use href="#hx2203" x="2004.5" y="528.5" fill="#c5c6c8"/>
<use href="#hx2203" x="2026.6" y="528.5" fill="#fdfeff"/>
</g>
<g>
<path d="M1685.1 76.93L1696.12 83.29 M1674.08 96.01L1674.08 83.29 M1674.08 83.29L1685.1 76.93 M1707.13 76.93L1718.14 83.29 M1696.11 83.29L1707.13 76.93 M1729.16 76.93L1740.17 83.29 M1718.14 83.29L1729.16 76.93 M1751.19 76.93L1762.2 83.29 M1740.17 83.29L1751.19 76.93 M1773.22 76.93L1784.23 83.29 M1762.2 83.29L1773.22 76.93 M1795.25 76.93L1806.27 83.29 M1784.23 83.29L1795.25 76.93 M1817.28 76.93L1828.3 83.29 M1806.26 83.29L1817.28 76.93 M1839.31 76.93L1850.33 83.29 M1850.33 83.29L1850.33 96.01 M1828.29 83.29L1839.31 76.93 M1861.34 76.93L1872.36 83.29 M1861.34 102.37L1850.32 96.01 M1850.32 83.29L1861.34 76.93 M1883.37 76.93L1894.38 83.29 M1872.35 83.29L1883.37 76.93 M1905.4 76.93L1916.41 83.29 M1916.41 83.29L1916.41 96.01 M1894.38 83.29L1905.4 76.93 M1927.43 76.93L1938.44 83.29 M1927.43 102.37L1916.41 96.01 M1916.41 83.29L1927.43 76.93 M1949.46 76.93L1960.48 83.29 M1938.44 83.29L1949.46 76.93 M1971.49 76.93L1982.5 83.29 M1960.47 83.29L1971.49 76.93 M1993.52 76.93L2004.54 83.29 M1982.5 83.29L1993.52 76.93 M2015.55 76.93L2026.57 83.29 M2004.53 83.29L2015.55 76.93 M2037.58 76.93L2048.59 83.29 M2048.59 83.29L2048.59 96.01 M2048.59 96.01L2037.58 102.37 M2026.56 83.29L2037.58 76.93 M1674.08 121.45L1663.07 115.09 M1663.07 115.09L1663.07 102.37 M1663.07 102.37L1674.08 96.01 M1839.31 115.09L1828.29 121.45 M1861.34 102.37L1861.34 115.09 M1861.34 115.09L1850.32 121.45 M1850.32 121.45L1839.31 115.09 M1927.43 102.37L1927.43 115.09 M1949.46 115.09L1938.44 121.45 M1938.44 121.45L1927.43 115.09 M1971.49 115.09L1960.47 121.45 M1960.47 121.45L1949.46 115.09 M1993.52 115.09L1982.5 121.45 M1982.5 121.45L1971.49 115.09 M2004.53 121.45L1993.52 115.09 M2037.58 102.37L2037.58 115.09 M1674.08 134.17L1674.08 121.45 M1828.3 121.45L1828.3 134.17 M1828.3 134.17L1817.28 140.53 M1938.44 121.45L1938.44 134.17 M1949.46 140.53L1938.44 134.17 M2004.54 121.45L2004.54 134.17 M2015.55 140.53L2004.53 134.17 M2037.58 115.09L2048.59 121.45 M2048.59 121.45L2048.59 134.17 M2048.59 134.17L2037.58 140.53 M1674.08 159.6L1663.07 153.25 M1663.07 153.25L1663.07 140.53 M1663.07 140.53L1674.08 134.17 M1817.28 140.53L1817.28 153.25 M1817.28 153.25L1806.26 159.6 M1949.46 140.53L1949.46 153.25 M1949.46 153.25L1938.44 159.6 M2015.55 140.53L2015.55 153.25 M2037.58 140.53L2037.58 153.25 M2037.58 153.25L2026.56 159.6 M2026.56 159.6L2015.55 153.25 M1674.08 172.32L1674.08 159.6 M1806.27 159.6L1806.27 172.32 M1817.28 178.68L1806.26 172.32 M1938.44 159.6L1938.44 172.32 M1938.44 172.32L1927.43 178.68 M2037.58 153.25L2048.59 159.6 M2048.59 159.6L2048.59 172.32 M2048.59 172.32L2037.58 178.68 M1674.08 197.76L1663.07 191.4 M1663.07 191.4L1663.07 178.68 M1663.07 178.68L1674.08 172.32 M1817.28 178.68L1817.28 191.4 M1828.29 197.76L1817.28 191.4 M1927.43 178.68L1927.43 191.4 M1938.44 197.76L1927.43 191.4 M2037.58 178.68L2037.58 191.4 M1674.08 210.48L1674.08 197.76 M1828.3 197.76L1828.3 210.48 M1839.31 216.84L1828.29 210.48 M1938.44 197.76L1938.44 210.48 M1949.46 216.84L1938.44 210.48 M2037.58 191.4L2048.59 197.76 M2048.59 197.76L2048.59 210.48 M2048.59 210.48L2037.58 216.84 M1674.08 235.92L1663.07 229.56 M1663.07 229.56L1663.07 216.84 M1663.07 216.84L1674.08 210.48 M1817.28 229.56L1806.26 235.92 M1839.31 216.84L1839.31 229.56 M1839.31 229.56L1828.29 235.92 M1828.29 235.92L1817.28 229.56 M1861.34 229.56L1850.32 235.92 M1850.32 235.92L1839.31 229.56 M1883.37 229.56L1872.35 235.92 M1872.35 235.92L1861.34 229.56 M1905.4 229.56L1894.38 235.92 M1894.38 235.92L1883.37 229.56 M1927.43 229.56L1916.41 235.92 M1916.41 235.92L1905.4 229.56 M1949.46 216.84L1949.46 229.56 M1949.46 229.56L1938.44 235.92 M1938.44 235.92L1927.43 229.56 M2037.58 216.84L2037.58 229.56 M1674.08 248.64L1674.08 235.92 M1806.27 235.92L1806.27 248.64 M1806.27 248.64L1795.25 255 M1894.38 235.92L1894.38 248.64 M1905.4 255L1894.38 248.64 M2037.58 229.56L2048.59 235.92 M2048.59 235.92L2048.59 248.64 M2048.59 248.64L2037.58 255 M1674.08 274.08L1663.07 267.72 M1663.07 267.72L1663.07 255 M1663.07 255L1674.08 248.64 M1795.25 255L1795.25 267.72 M1795.25 267.72L1784.23 274.08 M1806.26 274.08L1795.25 267.72 M1905.4 255L1905.4 267.72 M1916.41 274.08L1905.4 267.72 M2037.58 255L2037.58 267.72 M1674.08 286.79L1674.08 274.08 M1718.14 286.79L1707.13 293.15 M1740.17 286.79L1729.16 293.15 M1729.16 293.15L1718.14 286.79 M1762.2 286.79L1751.19 293.15 M1751.19 293.15L1740.17 286.79 M1784.23 274.08L1784.23 286.79 M1784.23 286.79L1773.22 293.15 M1773.22 293.15L1762.2 286.79 M1806.27 274.08L1806.27 286.79 M1817.28 293.15L1806.26 286.79 M1916.41 274.08L1916.41 286.79 M1916.41 286.79L1905.4 293.15 M2037.58 267.72L2048.59 274.08 M2048.59 274.08L2048.59 286.79 M2048.59 286.79L2037.58 293.15 M1674.08 312.23L1663.07 305.87 M1663.07 305.87L1663.07 293.15 M1663.07 293.15L1674.08 286.79 M1707.13 293.15L1707.13 305.87 M1707.13 305.87L1696.11 312.23 M1817.28 293.15L1817.28 305.87 M1817.28 305.87L1806.26 312.23 M1905.4 293.15L1905.4 305.87 M1905.4 305.87L1894.38 312.23 M2037.58 293.15L2037.58 305.87 M1696.12 312.23L1696.12 324.95 M1696.12 324.95L1685.1 331.31 M1685.1 331.31L1674.08 324.95 M1674.08 324.95L1674.08 312.23 M1806.27 312.23L1806.27 324.95 M1806.27 324.95L1795.25 331.31 M1828.3 324.95L1817.28 331.31 M1817.28 331.31L1806.26 324.95 M1839.31 331.31L1828.29 324.95 M1894.38 312.23L1894.38 324.95 M1905.4 331.31L1894.38 324.95 M2037.58 305.87L2048.59 312.23 M2048.59 312.23L2048.59 324.95 M2048.59 324.95L2037.58 331.31 M1674.08 350.39L1663.07 344.03 M1663.07 344.03L1663.07 331.31 M1663.07 331.31L1674.08 324.95 M1795.25 331.31L1795.25 344.03 M1795.25 344.03L1784.23 350.39 M1839.31 331.31L1839.31 344.03 M1861.34 344.03L1850.32 350.39 M1850.32 350.39L1839.31 344.03 M1883.37 344.03L1872.35 350.39 M1872.35 350.39L1861.34 344.03 M1905.4 331.31L1905.4 344.03 M1905.4 344.03L1894.38 350.39 M1894.38 350.39L1883.37 344.03 M2037.58 331.31L2037.58 344.03 M1674.08 363.11L1674.08 350.39 M1784.23 350.39L1784.23 363.11 M1784.23 363.11L1773.22 369.47 M1894.38 350.39L1894.38 363.11 M1916.41 363.11L1905.4 369.47 M1905.4 369.47L1894.38 363.11 M1927.43 369.47L1916.41 363.11 M2037.58 344.03L2048.59 350.39 M2048.59 350.39L2048.59 363.11 M2048.59 363.11L2037.58 369.47 M1674.08 388.55L1663.07 382.19 M1663.07 382.19L1663.07 369.47 M1663.07 369.47L1674.08 363.11 M1773.22 369.47L1773.22 382.19 M1784.23 388.55L1773.22 382.19 M1927.43 369.47L1927.43 382.19 M1927.43 382.19L1916.41 388.55 M2037.58 369.47L2037.58 382.19 M1674.08 401.27L1674.08 388.55 M1784.23 388.55L1784.23 401.27 M1784.23 401.27L1773.22 407.63 M1916.41 388.55L1916.41 401.27 M1927.43 407.63L1916.41 401.27 M2037.58 382.19L2048.59 388.55 M2048.59 388.55L2048.59 401.27 M2048.59 401.27L2037.58 407.63 M1674.08 426.7L1663.07 420.34 M1663.07 420.34L1663.07 407.63 M1663.07 407.63L1674.08 401.27 M1773.22 407.63L1773.22 420.34 M1784.23 426.7L1773.22 420.34 M1927.43 407.63L1927.43 420.34 M1927.43 420.34L1916.41 426.7 M2037.58 407.63L2037.58 420.34 M1674.08 439.42L1674.08 426.7 M1784.23 426.7L1784.23 439.42 M1784.23 439.42L1773.22 445.78 M1916.41 426.7L1916.41 439.42 M1927.43 445.78L1916.41 439.42 M1960.48 439.42L1949.46 445.78 M1982.5 439.42L1971.49 445.78 M1971.49 445.78L1960.47 439.42 M2004.54 439.42L1993.52 445.78 M1993.52 445.78L1982.5 439.42 M2026.57 439.42L2015.55 445.78 M2015.55 445.78L2004.53 439.42 M2037.58 420.34L2048.59 426.7 M2048.59 426.7L2048.59 439.42 M2048.59 439.42L2037.58 445.78 M2037.58 445.78L2026.56 439.42 M1685.1 458.5L1674.08 464.86 M1674.08 464.86L1663.07 458.5 M1663.07 458.5L1663.07 445.78 M1663.07 445.78L1674.08 439.42 M1707.13 458.5L1696.11 464.86 M1696.11 464.86L1685.1 458.5 M1729.16 458.5L1718.14 464.86 M1718.14 464.86L1707.13 458.5 M1751.19 458.5L1740.17 464.86 M1740.17 464.86L1729.16 458.5 M1773.22 445.78L1773.22 458.5 M1773.22 458.5L1762.2 464.86 M1762.2 464.86L1751.19 458.5 M1927.43 445.78L1927.43 458.5 M1927.43 458.5L1916.41 464.86 M1949.46 445.78L1949.46 458.5 M1949.46 458.5L1938.44 464.86 M1938.44 464.86L1927.43 458.5 M2037.58 445.78L2037.58 458.5 M1674.08 477.58L1674.08 464.86 M1916.41 464.86L1916.41 477.58 M1916.41 477.58L1905.4 483.94 M2037.58 458.5L2048.59 464.86 M2048.59 464.86L2048.59 477.58 M2048.59 477.58L2037.58 483.94 M1674.08 503.02L1663.07 496.66 M1663.07 496.66L1663.07 483.94 M1663.07 483.94L1674.08 477.58 M1905.4 483.94L1905.4 496.66 M1916.41 503.02L1905.4 496.66 M2037.58 483.94L2037.58 496.66 M1674.08 515.74L1674.08 503.02 M1916.41 503.02L1916.41 515.74 M1916.41 515.74L1905.4 522.1 M2037.58 496.66L2048.59 503.02 M2048.59 503.02L2048.59 515.74 M2048.59 515.74L2037.58 522.1 M1685.1 534.82L1674.08 541.18 M1674.08 541.18L1663.07 534.82 M1663.07 534.82L1663.07 522.1 M1663.07 522.1L1674.08 515.74 M1707.13 534.82L1696.11 541.18 M1696.11 541.18L1685.1 534.82 M1729.16 534.82L1718.14 541.18 M1718.14 541.18L1707.13 534.82 M1751.19 534.82L1740.17 541.18 M1740.17 541.18L1729.16 534.82 M1773.22 534.82L1762.2 541.18 M1762.2 541.18L1751.19 534.82 M1795.25 534.82L1784.23 541.18 M1784.23 541.18L1773.22 534.82 M1817.28 534.82L1806.26 541.18 M1806.26 541.18L1795.25 534.82 M1839.31 534.82L1828.29 541.18 M1828.29 541.18L1817.28 534.82 M1861.34 534.82L1850.32 541.18 M1850.32 541.18L1839.31 534.82 M1883.37 534.82L1872.35 541.18 M1872.35 541.18L1861.34 534.82 M1905.4 522.1L1905.4 534.82 M1905.4 534.82L1894.38 541.18 M1894.38 541.18L1883.37 534.82 M1927.43 534.82L1916.41 541.18 M1916.41 541.18L1905.4 534.82 M1949.46 534.82L1938.44 541.18 M1938.44 541.18L1927.43 534.82 M1971.49 534.82L1960.47 541.18 M1960.47 541.18L1949.46 534.82 M1993.52 534.82L1982.5 541.18 M1982.5 541.18L1971.49 534.82 M2015.55 534.82L2004.53 541.18 M2004.53 541.18L1993.52 534.82 M2037.58 522.1L2037.58 534.82 M2037.58 534.82L2026.56 541.18 M2026.56 541.18L2015.55 534.82" fill="none" stroke="#b24f9d" stroke-width="2.3" stroke-linecap="round" stroke-linejoin="round"/>
</g>
<text x="3.9" y="20.1" font-size="25.5" textLength="265.6" lengthAdjust="spacingAndGlyphs">Spontaneous activity</text>
<text x="16.5" y="67" font-size="41" font-weight="bold" textLength="21.5" lengthAdjust="spacingAndGlyphs" stroke="#231f20" stroke-width="1.3" stroke-linejoin="round">a</text>
<text x="163" y="59" font-size="26" textLength="126.4" lengthAdjust="spacingAndGlyphs">Firing rate</text>
<text x="704.2" y="58.8" font-size="26" textLength="126.5" lengthAdjust="spacingAndGlyphs">Burstiness</text>
<text x="1249.9" y="59.3" font-size="26" textLength="102.6" lengthAdjust="spacingAndGlyphs">Memory</text>
<text x="1641.5" y="62.7" font-size="41" font-weight="bold" textLength="24" lengthAdjust="spacingAndGlyphs" stroke="#231f20" stroke-width="1.3" stroke-linejoin="round">b</text>
<text x="1834" y="59" font-size="26" textLength="48" lengthAdjust="spacingAndGlyphs">PFC</text>
<text x="73.6" y="575" font-size="25.5" textLength="305" lengthAdjust="spacingAndGlyphs">dataset KI&#160;&#160;<tspan font-style="italic">n</tspan> = 19,186 ww</text>
<text x="1688.7" y="573.4" font-size="25.5" textLength="334" lengthAdjust="spacingAndGlyphs">PFC dataset&#160;&#160;<tspan font-style="italic">n</tspan> = 10,413 ww</text>
<defs><linearGradient id="cbfr" x1="0" y1="0" x2="0" y2="1"><stop offset="0" stop-color="#000000"/><stop offset="0.05" stop-color="#0f0f0f"/><stop offset="0.1" stop-color="#1e1e1e"/><stop offset="0.15" stop-color="#2e2e2e"/><stop offset="0.2" stop-color="#404040"/><stop offset="0.25" stop-color="#525252"/><stop offset="0.3" stop-color="#5f5f5f"/><stop offset="0.35" stop-color="#6c6c6c"/><stop offset="0.4" stop-color="#7a7a7a"/><stop offset="0.45" stop-color="#888888"/><stop offset="0.5" stop-color="#969696"/><stop offset="0.55" stop-color="#a6a6a6"/><stop offset="0.6" stop-color="#b5b5b5"/><stop offset="0.65" stop-color="#c3c3c3"/><stop offset="0.7" stop-color="#cecece"/><stop offset="0.75" stop-color="#d9d9d9"/><stop offset="0.8" stop-color="#e2e2e2"/><stop offset="0.85" stop-color="#ebebeb"/><stop offset="0.9" stop-color="#f3f3f3"/><stop offset="0.95" stop-color="#f9f9f9"/><stop offset="1" stop-color="#ffffff"/></linearGradient></defs>
<rect x="431.3" y="77.1" width="15.1" height="465.7" fill="url(#cbfr)" stroke="#231f20" stroke-width="1.2" />
<line x1="446.4" y1="114" x2="455.4" y2="114" stroke="#231f20" stroke-width="1.3" />
<text x="467.4" y="118.3" font-size="21.3">1.2</text>
<line x1="446.4" y1="178.8" x2="455.4" y2="178.8" stroke="#231f20" stroke-width="1.3" />
<text x="467.4" y="183.1" font-size="21.3">1.0</text>
<line x1="446.4" y1="243" x2="455.4" y2="243" stroke="#231f20" stroke-width="1.3" />
<text x="467.4" y="247.3" font-size="21.3">0.8</text>
<line x1="446.4" y1="307.9" x2="455.4" y2="307.9" stroke="#231f20" stroke-width="1.3" />
<text x="467.4" y="312.2" font-size="21.3">0.6</text>
<line x1="446.4" y1="372.4" x2="455.4" y2="372.4" stroke="#231f20" stroke-width="1.3" />
<text x="467.4" y="376.7" font-size="21.3">0.4</text>
<line x1="446.4" y1="437.2" x2="455.4" y2="437.2" stroke="#231f20" stroke-width="1.3" />
<text x="467.4" y="441.5" font-size="21.3">0.2</text>
<line x1="446.4" y1="501.4" x2="455.4" y2="501.4" stroke="#231f20" stroke-width="1.3" />
<text x="467.4" y="505.7" font-size="21.3">0</text>
<text x="527" y="310" font-size="25.5" text-anchor="middle" textLength="91" lengthAdjust="spacingAndGlyphs" transform="rotate(90 527 310)">log<tspan font-size="16" dy="6">10</tspan><tspan dy="-6">FR</tspan></text>
<defs><linearGradient id="cbbu" x1="0" y1="0" x2="0" y2="1"><stop offset="0" stop-color="#8e0152"/><stop offset="0.1" stop-color="#c51b7d"/><stop offset="0.2" stop-color="#de77ae"/><stop offset="0.3" stop-color="#f1b6da"/><stop offset="0.4" stop-color="#fde0ef"/><stop offset="0.5" stop-color="#f7f7f7"/><stop offset="0.6" stop-color="#e6f5d0"/><stop offset="0.7" stop-color="#b8e186"/><stop offset="0.8" stop-color="#7fbc41"/><stop offset="0.9" stop-color="#4d9221"/><stop offset="1" stop-color="#276419"/></linearGradient></defs>
<rect x="974.6" y="77.9" width="14.9" height="465.4" fill="url(#cbbu)" stroke="#231f20" stroke-width="1.2" />
<line x1="989.5" y1="98.9" x2="998" y2="98.9" stroke="#231f20" stroke-width="1.3" />
<text x="1009.5" y="103.2" font-size="21.3">0.3</text>
<line x1="989.5" y1="169.7" x2="998" y2="169.7" stroke="#231f20" stroke-width="1.3" />
<text x="1009.5" y="174" font-size="21.3">0.2</text>
<line x1="989.5" y1="240.5" x2="998" y2="240.5" stroke="#231f20" stroke-width="1.3" />
<text x="1009.5" y="244.8" font-size="21.3">0.1</text>
<line x1="989.5" y1="311" x2="998" y2="311" stroke="#231f20" stroke-width="1.3" />
<text x="1009.5" y="315.3" font-size="21.3">0</text>
<line x1="989.5" y1="381.2" x2="998" y2="381.2" stroke="#231f20" stroke-width="1.3" />
<text x="1009.5" y="385.5" font-size="21.3">−0.1</text>
<line x1="989.5" y1="451.5" x2="998" y2="451.5" stroke="#231f20" stroke-width="1.3" />
<text x="1009.5" y="455.8" font-size="21.3">−0.2</text>
<line x1="989.5" y1="521.7" x2="998" y2="521.7" stroke="#231f20" stroke-width="1.3" />
<text x="1009.5" y="526" font-size="21.3">−0.3</text>
<text x="1070.5" y="310.5" font-size="25.5" text-anchor="middle" textLength="115" lengthAdjust="spacingAndGlyphs" transform="rotate(90 1070.5 310.5)">Burstines</text>
<defs><linearGradient id="cbme" x1="0" y1="0" x2="0" y2="1"><stop offset="0" stop-color="#8e0152"/><stop offset="0.1" stop-color="#c51b7d"/><stop offset="0.2" stop-color="#de77ae"/><stop offset="0.3" stop-color="#f1b6da"/><stop offset="0.4" stop-color="#fde0ef"/><stop offset="0.5" stop-color="#f7f7f7"/><stop offset="0.6" stop-color="#e6f5d0"/><stop offset="0.7" stop-color="#b8e186"/><stop offset="0.8" stop-color="#7fbc41"/><stop offset="0.9" stop-color="#4d9221"/><stop offset="1" stop-color="#276419"/></linearGradient></defs>
<rect x="1508" y="79.3" width="15" height="465.4" fill="url(#cbme)" stroke="#231f20" stroke-width="1.2" />
<line x1="1523" y1="127.6" x2="1531.5" y2="127.6" stroke="#231f20" stroke-width="1.3" />
<text x="1541" y="131.9" font-size="21.3">0.3</text>
<line x1="1523" y1="189.2" x2="1531.5" y2="189.2" stroke="#231f20" stroke-width="1.3" />
<text x="1541" y="193.5" font-size="21.3">0.2</text>
<line x1="1523" y1="249.9" x2="1531.5" y2="249.9" stroke="#231f20" stroke-width="1.3" />
<text x="1541" y="254.2" font-size="21.3">0.1</text>
<line x1="1523" y1="311.5" x2="1531.5" y2="311.5" stroke="#231f20" stroke-width="1.3" />
<text x="1541" y="315.8" font-size="21.3">0</text>
<line x1="1523" y1="372.4" x2="1531.5" y2="372.4" stroke="#231f20" stroke-width="1.3" />
<text x="1541" y="376.7" font-size="21.3">−0.1</text>
<line x1="1523" y1="433.7" x2="1531.5" y2="433.7" stroke="#231f20" stroke-width="1.3" />
<text x="1541" y="438" font-size="21.3">−0.2</text>
<line x1="1523" y1="494.7" x2="1531.5" y2="494.7" stroke="#231f20" stroke-width="1.3" />
<text x="1541" y="499" font-size="21.3">−0.3</text>
<text x="1608" y="311.5" font-size="25.5" text-anchor="middle" textLength="100" lengthAdjust="spacingAndGlyphs" transform="rotate(90 1608 311.5)">Memory</text>
<defs><linearGradient id="cbpf" x1="0" y1="0" x2="0" y2="1"><stop offset="0" stop-color="#231f20"/><stop offset="0.21" stop-color="#231f20"/><stop offset="0.24" stop-color="#3d3d3f"/><stop offset="0.41" stop-color="#858689"/><stop offset="0.59" stop-color="#bdbec0"/><stop offset="0.76" stop-color="#dcdddf"/><stop offset="0.94" stop-color="#f2f2f2"/><stop offset="1" stop-color="#fbfbfb"/></linearGradient></defs>
<rect x="2060.3" y="76.5" width="13.7" height="466.8" fill="url(#cbpf)" stroke="#231f20" stroke-width="1.2" />
<line x1="2074" y1="106" x2="2082.5" y2="106" stroke="#231f20" stroke-width="1.3" />
<text x="2093" y="110.3" font-size="21.3">60</text>
<line x1="2074" y1="187.8" x2="2082.5" y2="187.8" stroke="#231f20" stroke-width="1.3" />
<text x="2093" y="192.1" font-size="21.3">50</text>
<line x1="2074" y1="269.6" x2="2082.5" y2="269.6" stroke="#231f20" stroke-width="1.3" />
<text x="2093" y="273.9" font-size="21.3">40</text>
<line x1="2074" y1="351.4" x2="2082.5" y2="351.4" stroke="#231f20" stroke-width="1.3" />
<text x="2093" y="355.7" font-size="21.3">30</text>
<line x1="2074" y1="433.3" x2="2082.5" y2="433.3" stroke="#231f20" stroke-width="1.3" />
<text x="2093" y="437.6" font-size="21.3">20</text>
<line x1="2074" y1="515.1" x2="2082.5" y2="515.1" stroke="#231f20" stroke-width="1.3" />
<text x="2093" y="519.4" font-size="21.3">10</text>
<text x="2141" y="311.5" font-size="25.5" text-anchor="middle" textLength="131" lengthAdjust="spacingAndGlyphs" transform="rotate(90 2141 311.5)">Unit count</text>
<text x="17.5" y="637.4" font-size="41" font-weight="bold" textLength="22" lengthAdjust="spacingAndGlyphs" stroke="#231f20" stroke-width="1.3" stroke-linejoin="round">c</text>
<text x="100.5" y="674.3" font-size="25.5" textLength="239.7" lengthAdjust="spacingAndGlyphs">ww unit categories</text>
<defs><path id="hx1440" d="M0.00 -8.47L7.33 -4.23L7.33 4.23L0.00 8.47L-7.33 4.23L-7.33 -4.23Z"/></defs>
<g stroke-width="0.6">
<use href="#hx1440" x="108.9" y="697.1" fill="#6cb7a3" stroke="#6cb7a3"/>
<use href="#hx1440" x="123.3" y="697.1" fill="#6cb7a3" stroke="#6cb7a3"/>
<use href="#hx1440" x="137.7" y="697.1" fill="#6cb7a3" stroke="#6cb7a3"/>
<use href="#hx1440" x="152.1" y="697.1" fill="#6cb7a3" stroke="#6cb7a3"/>
<use href="#hx1440" x="166.5" y="697.1" fill="#6cb7a3" stroke="#6cb7a3"/>
<use href="#hx1440" x="180.9" y="697.1" fill="#6cb7a3" stroke="#6cb7a3"/>
<use href="#hx1440" x="195.4" y="697.1" fill="#6cb7a3" stroke="#6cb7a3"/>
<use href="#hx1440" x="209.8" y="697.1" fill="#6cb7a3" stroke="#6cb7a3"/>
<use href="#hx1440" x="224.2" y="697.1" fill="#99c794" stroke="#99c794"/>
<use href="#hx1440" x="238.6" y="697.1" fill="#99c794" stroke="#99c794"/>
<use href="#hx1440" x="253.0" y="697.1" fill="#99c794" stroke="#99c794"/>
<use href="#hx1440" x="267.4" y="697.1" fill="#00b7dc" stroke="#00b7dc"/>
<use href="#hx1440" x="281.8" y="697.1" fill="#00b7dc" stroke="#00b7dc"/>
<use href="#hx1440" x="296.2" y="697.1" fill="#00b7dc" stroke="#00b7dc"/>
<use href="#hx1440" x="310.6" y="697.1" fill="#00b7dc" stroke="#00b7dc"/>
<use href="#hx1440" x="325.0" y="697.1" fill="#00b7dc" stroke="#00b7dc"/>
<use href="#hx1440" x="339.4" y="697.1" fill="#00b7dc" stroke="#00b7dc"/>
<use href="#hx1440" x="101.7" y="709.6" fill="#6cb7a3" stroke="#6cb7a3"/>
<use href="#hx1440" x="116.1" y="709.6" fill="#6cb7a3" stroke="#6cb7a3"/>
<use href="#hx1440" x="130.5" y="709.6" fill="#6cb7a3" stroke="#6cb7a3"/>
<use href="#hx1440" x="144.9" y="709.6" fill="#6cb7a3" stroke="#6cb7a3"/>
<use href="#hx1440" x="159.3" y="709.6" fill="#6cb7a3" stroke="#6cb7a3"/>
<use href="#hx1440" x="173.7" y="709.6" fill="#6cb7a3" stroke="#6cb7a3"/>
<use href="#hx1440" x="188.2" y="709.6" fill="#6cb7a3" stroke="#6cb7a3"/>
<use href="#hx1440" x="202.6" y="709.6" fill="#6cb7a3" stroke="#6cb7a3"/>
<use href="#hx1440" x="217.0" y="709.6" fill="#6cb7a3" stroke="#6cb7a3"/>
<use href="#hx1440" x="231.4" y="709.6" fill="#99c794" stroke="#99c794"/>
<use href="#hx1440" x="245.8" y="709.6" fill="#99c794" stroke="#99c794"/>
<use href="#hx1440" x="260.2" y="709.6" fill="#99c794" stroke="#99c794"/>
<use href="#hx1440" x="274.6" y="709.6" fill="#00b7dc" stroke="#00b7dc"/>
<use href="#hx1440" x="289.0" y="709.6" fill="#00b7dc" stroke="#00b7dc"/>
<use href="#hx1440" x="303.4" y="709.6" fill="#00b7dc" stroke="#00b7dc"/>
<use href="#hx1440" x="317.8" y="709.6" fill="#00b7dc" stroke="#00b7dc"/>
<use href="#hx1440" x="332.2" y="709.6" fill="#00b7dc" stroke="#00b7dc"/>
<use href="#hx1440" x="108.9" y="722.1" fill="#6cb7a3" stroke="#6cb7a3"/>
<use href="#hx1440" x="123.3" y="722.1" fill="#6cb7a3" stroke="#6cb7a3"/>
<use href="#hx1440" x="137.7" y="722.1" fill="#6cb7a3" stroke="#6cb7a3"/>
<use href="#hx1440" x="152.1" y="722.1" fill="#6cb7a3" stroke="#6cb7a3"/>
<use href="#hx1440" x="166.5" y="722.1" fill="#6cb7a3" stroke="#6cb7a3"/>
<use href="#hx1440" x="180.9" y="722.1" fill="#6cb7a3" stroke="#6cb7a3"/>
<use href="#hx1440" x="195.4" y="722.1" fill="#6cb7a3" stroke="#6cb7a3"/>
<use href="#hx1440" x="209.8" y="722.1" fill="#99c794" stroke="#99c794"/>
<use href="#hx1440" x="224.2" y="722.1" fill="#99c794" stroke="#99c794"/>
<use href="#hx1440" x="238.6" y="722.1" fill="#99c794" stroke="#99c794"/>
<use href="#hx1440" x="253.0" y="722.1" fill="#99c794" stroke="#99c794"/>
<use href="#hx1440" x="267.4" y="722.1" fill="#99c794" stroke="#99c794"/>
<use href="#hx1440" x="281.8" y="722.1" fill="#60549b" stroke="#60549b"/>
<use href="#hx1440" x="296.2" y="722.1" fill="#60549b" stroke="#60549b"/>
<use href="#hx1440" x="310.6" y="722.1" fill="#60549b" stroke="#60549b"/>
<use href="#hx1440" x="325.0" y="722.1" fill="#00b7dc" stroke="#00b7dc"/>
<use href="#hx1440" x="339.4" y="722.1" fill="#00b7dc" stroke="#00b7dc"/>
<use href="#hx1440" x="101.7" y="734.6" fill="#6cb7a3" stroke="#6cb7a3"/>
<use href="#hx1440" x="116.1" y="734.6" fill="#6cb7a3" stroke="#6cb7a3"/>
<use href="#hx1440" x="130.5" y="734.6" fill="#6cb7a3" stroke="#6cb7a3"/>
<use href="#hx1440" x="144.9" y="734.6" fill="#6cb7a3" stroke="#6cb7a3"/>
<use href="#hx1440" x="159.3" y="734.6" fill="#6cb7a3" stroke="#6cb7a3"/>
<use href="#hx1440" x="173.7" y="734.6" fill="#6cb7a3" stroke="#6cb7a3"/>
<use href="#hx1440" x="188.2" y="734.6" fill="#6cb7a3" stroke="#6cb7a3"/>
<use href="#hx1440" x="202.6" y="734.6" fill="#99c794" stroke="#99c794"/>
<use href="#hx1440" x="217.0" y="734.6" fill="#99c794" stroke="#99c794"/>
<use href="#hx1440" x="231.4" y="734.6" fill="#99c794" stroke="#99c794"/>
<use href="#hx1440" x="245.8" y="734.6" fill="#99c794" stroke="#99c794"/>
<use href="#hx1440" x="260.2" y="734.6" fill="#99c794" stroke="#99c794"/>
<use href="#hx1440" x="274.6" y="734.6" fill="#99c794" stroke="#99c794"/>
<use href="#hx1440" x="289.0" y="734.6" fill="#60549b" stroke="#60549b"/>
<use href="#hx1440" x="303.4" y="734.6" fill="#60549b" stroke="#60549b"/>
<use href="#hx1440" x="317.8" y="734.6" fill="#60549b" stroke="#60549b"/>
<use href="#hx1440" x="332.2" y="734.6" fill="#00b7dc" stroke="#00b7dc"/>
<use href="#hx1440" x="108.9" y="747.0" fill="#6cb7a3" stroke="#6cb7a3"/>
<use href="#hx1440" x="123.3" y="747.0" fill="#6cb7a3" stroke="#6cb7a3"/>
<use href="#hx1440" x="137.7" y="747.0" fill="#6cb7a3" stroke="#6cb7a3"/>
<use href="#hx1440" x="152.1" y="747.0" fill="#6cb7a3" stroke="#6cb7a3"/>
<use href="#hx1440" x="166.5" y="747.0" fill="#6cb7a3" stroke="#6cb7a3"/>
<use href="#hx1440" x="180.9" y="747.0" fill="#6cb7a3" stroke="#6cb7a3"/>
<use href="#hx1440" x="195.4" y="747.0" fill="#99c794" stroke="#99c794"/>
<use href="#hx1440" x="209.8" y="747.0" fill="#99c794" stroke="#99c794"/>
<use href="#hx1440" x="224.2" y="747.0" fill="#99c794" stroke="#99c794"/>
<use href="#hx1440" x="238.6" y="747.0" fill="#99c794" stroke="#99c794"/>
<use href="#hx1440" x="253.0" y="747.0" fill="#99c794" stroke="#99c794"/>
<use href="#hx1440" x="267.4" y="747.0" fill="#99c794" stroke="#99c794"/>
<use href="#hx1440" x="281.8" y="747.0" fill="#60549b" stroke="#60549b"/>
<use href="#hx1440" x="296.2" y="747.0" fill="#60549b" stroke="#60549b"/>
<use href="#hx1440" x="310.6" y="747.0" fill="#60549b" stroke="#60549b"/>
<use href="#hx1440" x="325.0" y="747.0" fill="#60549b" stroke="#60549b"/>
<use href="#hx1440" x="339.4" y="747.0" fill="#60549b" stroke="#60549b"/>
<use href="#hx1440" x="101.7" y="759.5" fill="#6cb7a3" stroke="#6cb7a3"/>
<use href="#hx1440" x="116.1" y="759.5" fill="#6cb7a3" stroke="#6cb7a3"/>
<use href="#hx1440" x="130.5" y="759.5" fill="#6cb7a3" stroke="#6cb7a3"/>
<use href="#hx1440" x="144.9" y="759.5" fill="#6cb7a3" stroke="#6cb7a3"/>
<use href="#hx1440" x="159.3" y="759.5" fill="#6cb7a3" stroke="#6cb7a3"/>
<use href="#hx1440" x="173.7" y="759.5" fill="#6cb7a3" stroke="#6cb7a3"/>
<use href="#hx1440" x="188.2" y="759.5" fill="#6cb7a3" stroke="#6cb7a3"/>
<use href="#hx1440" x="202.6" y="759.5" fill="#99c794" stroke="#99c794"/>
<use href="#hx1440" x="217.0" y="759.5" fill="#99c794" stroke="#99c794"/>
<use href="#hx1440" x="231.4" y="759.5" fill="#99c794" stroke="#99c794"/>
<use href="#hx1440" x="245.8" y="759.5" fill="#99c794" stroke="#99c794"/>
<use href="#hx1440" x="260.2" y="759.5" fill="#99c794" stroke="#99c794"/>
<use href="#hx1440" x="274.6" y="759.5" fill="#60549b" stroke="#60549b"/>
<use href="#hx1440" x="289.0" y="759.5" fill="#60549b" stroke="#60549b"/>
<use href="#hx1440" x="303.4" y="759.5" fill="#60549b" stroke="#60549b"/>
<use href="#hx1440" x="317.8" y="759.5" fill="#60549b" stroke="#60549b"/>
<use href="#hx1440" x="332.2" y="759.5" fill="#60549b" stroke="#60549b"/>
<use href="#hx1440" x="108.9" y="772.0" fill="#6cb7a3" stroke="#6cb7a3"/>
<use href="#hx1440" x="123.3" y="772.0" fill="#6cb7a3" stroke="#6cb7a3"/>
<use href="#hx1440" x="137.7" y="772.0" fill="#6cb7a3" stroke="#6cb7a3"/>
<use href="#hx1440" x="152.1" y="772.0" fill="#6cb7a3" stroke="#6cb7a3"/>
<use href="#hx1440" x="166.5" y="772.0" fill="#6cb7a3" stroke="#6cb7a3"/>
<use href="#hx1440" x="180.9" y="772.0" fill="#6cb7a3" stroke="#6cb7a3"/>
<use href="#hx1440" x="195.4" y="772.0" fill="#6cb7a3" stroke="#6cb7a3"/>
<use href="#hx1440" x="209.8" y="772.0" fill="#99c794" stroke="#99c794"/>
<use href="#hx1440" x="224.2" y="772.0" fill="#99c794" stroke="#99c794"/>
<use href="#hx1440" x="238.6" y="772.0" fill="#99c794" stroke="#99c794"/>
<use href="#hx1440" x="253.0" y="772.0" fill="#99c794" stroke="#99c794"/>
<use href="#hx1440" x="267.4" y="772.0" fill="#99c794" stroke="#99c794"/>
<use href="#hx1440" x="281.8" y="772.0" fill="#60549b" stroke="#60549b"/>
<use href="#hx1440" x="296.2" y="772.0" fill="#60549b" stroke="#60549b"/>
<use href="#hx1440" x="310.6" y="772.0" fill="#60549b" stroke="#60549b"/>
<use href="#hx1440" x="325.0" y="772.0" fill="#60549b" stroke="#60549b"/>
<use href="#hx1440" x="339.4" y="772.0" fill="#60549b" stroke="#60549b"/>
<use href="#hx1440" x="101.7" y="784.5" fill="#6cb7a3" stroke="#6cb7a3"/>
<use href="#hx1440" x="116.1" y="784.5" fill="#6cb7a3" stroke="#6cb7a3"/>
<use href="#hx1440" x="130.5" y="784.5" fill="#6cb7a3" stroke="#6cb7a3"/>
<use href="#hx1440" x="144.9" y="784.5" fill="#6cb7a3" stroke="#6cb7a3"/>
<use href="#hx1440" x="159.3" y="784.5" fill="#6cb7a3" stroke="#6cb7a3"/>
<use href="#hx1440" x="173.7" y="784.5" fill="#6cb7a3" stroke="#6cb7a3"/>
<use href="#hx1440" x="188.2" y="784.5" fill="#6cb7a3" stroke="#6cb7a3"/>
<use href="#hx1440" x="202.6" y="784.5" fill="#6cb7a3" stroke="#6cb7a3"/>
<use href="#hx1440" x="217.0" y="784.5" fill="#99c794" stroke="#99c794"/>
<use href="#hx1440" x="231.4" y="784.5" fill="#99c794" stroke="#99c794"/>
<use href="#hx1440" x="245.8" y="784.5" fill="#99c794" stroke="#99c794"/>
<use href="#hx1440" x="260.2" y="784.5" fill="#99c794" stroke="#99c794"/>
<use href="#hx1440" x="274.6" y="784.5" fill="#99c794" stroke="#99c794"/>
<use href="#hx1440" x="289.0" y="784.5" fill="#60549b" stroke="#60549b"/>
<use href="#hx1440" x="303.4" y="784.5" fill="#60549b" stroke="#60549b"/>
<use href="#hx1440" x="317.8" y="784.5" fill="#60549b" stroke="#60549b"/>
<use href="#hx1440" x="332.2" y="784.5" fill="#60549b" stroke="#60549b"/>
<use href="#hx1440" x="108.9" y="796.9" fill="#6cb7a3" stroke="#6cb7a3"/>
<use href="#hx1440" x="123.3" y="796.9" fill="#6cb7a3" stroke="#6cb7a3"/>
<use href="#hx1440" x="137.7" y="796.9" fill="#6cb7a3" stroke="#6cb7a3"/>
<use href="#hx1440" x="152.1" y="796.9" fill="#6cb7a3" stroke="#6cb7a3"/>
<use href="#hx1440" x="166.5" y="796.9" fill="#6cb7a3" stroke="#6cb7a3"/>
<use href="#hx1440" x="180.9" y="796.9" fill="#6cb7a3" stroke="#6cb7a3"/>
<use href="#hx1440" x="195.4" y="796.9" fill="#ee6e4a" stroke="#ee6e4a"/>
<use href="#hx1440" x="209.8" y="796.9" fill="#ee6e4a" stroke="#ee6e4a"/>
<use href="#hx1440" x="224.2" y="796.9" fill="#ee6e4a" stroke="#ee6e4a"/>
<use href="#hx1440" x="238.6" y="796.9" fill="#ee6e4a" stroke="#ee6e4a"/>
<use href="#hx1440" x="253.0" y="796.9" fill="#60549b" stroke="#60549b"/>
<use href="#hx1440" x="267.4" y="796.9" fill="#60549b" stroke="#60549b"/>
<use href="#hx1440" x="281.8" y="796.9" fill="#60549b" stroke="#60549b"/>
<use href="#hx1440" x="296.2" y="796.9" fill="#60549b" stroke="#60549b"/>
<use href="#hx1440" x="310.6" y="796.9" fill="#60549b" stroke="#60549b"/>
<use href="#hx1440" x="325.0" y="796.9" fill="#60549b" stroke="#60549b"/>
<use href="#hx1440" x="339.4" y="796.9" fill="#60549b" stroke="#60549b"/>
<use href="#hx1440" x="101.7" y="809.4" fill="#6cb7a3" stroke="#6cb7a3"/>
<use href="#hx1440" x="116.1" y="809.4" fill="#6cb7a3" stroke="#6cb7a3"/>
<use href="#hx1440" x="130.5" y="809.4" fill="#6cb7a3" stroke="#6cb7a3"/>
<use href="#hx1440" x="144.9" y="809.4" fill="#6cb7a3" stroke="#6cb7a3"/>
<use href="#hx1440" x="159.3" y="809.4" fill="#6cb7a3" stroke="#6cb7a3"/>
<use href="#hx1440" x="173.7" y="809.4" fill="#6cb7a3" stroke="#6cb7a3"/>
<use href="#hx1440" x="188.2" y="809.4" fill="#ee6e4a" stroke="#ee6e4a"/>
<use href="#hx1440" x="202.6" y="809.4" fill="#ee6e4a" stroke="#ee6e4a"/>
<use href="#hx1440" x="217.0" y="809.4" fill="#ee6e4a" stroke="#ee6e4a"/>
<use href="#hx1440" x="231.4" y="809.4" fill="#ee6e4a" stroke="#ee6e4a"/>
<use href="#hx1440" x="245.8" y="809.4" fill="#ee6e4a" stroke="#ee6e4a"/>
<use href="#hx1440" x="260.2" y="809.4" fill="#60549b" stroke="#60549b"/>
<use href="#hx1440" x="274.6" y="809.4" fill="#60549b" stroke="#60549b"/>
<use href="#hx1440" x="289.0" y="809.4" fill="#60549b" stroke="#60549b"/>
<use href="#hx1440" x="303.4" y="809.4" fill="#60549b" stroke="#60549b"/>
<use href="#hx1440" x="317.8" y="809.4" fill="#60549b" stroke="#60549b"/>
<use href="#hx1440" x="332.2" y="809.4" fill="#60549b" stroke="#60549b"/>
<use href="#hx1440" x="108.9" y="821.9" fill="#6cb7a3" stroke="#6cb7a3"/>
<use href="#hx1440" x="123.3" y="821.9" fill="#6cb7a3" stroke="#6cb7a3"/>
<use href="#hx1440" x="137.7" y="821.9" fill="#6cb7a3" stroke="#6cb7a3"/>
<use href="#hx1440" x="152.1" y="821.9" fill="#6cb7a3" stroke="#6cb7a3"/>
<use href="#hx1440" x="166.5" y="821.9" fill="#6cb7a3" stroke="#6cb7a3"/>
<use href="#hx1440" x="180.9" y="821.9" fill="#e8242f" stroke="#e8242f"/>
<use href="#hx1440" x="195.4" y="821.9" fill="#ee6e4a" stroke="#ee6e4a"/>
<use href="#hx1440" x="209.8" y="821.9" fill="#ee6e4a" stroke="#ee6e4a"/>
<use href="#hx1440" x="224.2" y="821.9" fill="#ee6e4a" stroke="#ee6e4a"/>
<use href="#hx1440" x="238.6" y="821.9" fill="#ee6e4a" stroke="#ee6e4a"/>
<use href="#hx1440" x="253.0" y="821.9" fill="#ee6e4a" stroke="#ee6e4a"/>
<use href="#hx1440" x="267.4" y="821.9" fill="#60549b" stroke="#60549b"/>
<use href="#hx1440" x="281.8" y="821.9" fill="#60549b" stroke="#60549b"/>
<use href="#hx1440" x="296.2" y="821.9" fill="#60549b" stroke="#60549b"/>
<use href="#hx1440" x="310.6" y="821.9" fill="#60549b" stroke="#60549b"/>
<use href="#hx1440" x="325.0" y="821.9" fill="#60549b" stroke="#60549b"/>
<use href="#hx1440" x="339.4" y="821.9" fill="#60549b" stroke="#60549b"/>
<use href="#hx1440" x="101.7" y="834.4" fill="#6cb7a3" stroke="#6cb7a3"/>
<use href="#hx1440" x="116.1" y="834.4" fill="#6cb7a3" stroke="#6cb7a3"/>
<use href="#hx1440" x="130.5" y="834.4" fill="#e8242f" stroke="#e8242f"/>
<use href="#hx1440" x="144.9" y="834.4" fill="#e8242f" stroke="#e8242f"/>
<use href="#hx1440" x="159.3" y="834.4" fill="#e8242f" stroke="#e8242f"/>
<use href="#hx1440" x="173.7" y="834.4" fill="#e8242f" stroke="#e8242f"/>
<use href="#hx1440" x="188.2" y="834.4" fill="#e8242f" stroke="#e8242f"/>
<use href="#hx1440" x="202.6" y="834.4" fill="#ee6e4a" stroke="#ee6e4a"/>
<use href="#hx1440" x="217.0" y="834.4" fill="#ee6e4a" stroke="#ee6e4a"/>
<use href="#hx1440" x="231.4" y="834.4" fill="#ee6e4a" stroke="#ee6e4a"/>
<use href="#hx1440" x="245.8" y="834.4" fill="#ee6e4a" stroke="#ee6e4a"/>
<use href="#hx1440" x="260.2" y="834.4" fill="#60549b" stroke="#60549b"/>
<use href="#hx1440" x="274.6" y="834.4" fill="#60549b" stroke="#60549b"/>
<use href="#hx1440" x="289.0" y="834.4" fill="#60549b" stroke="#60549b"/>
<use href="#hx1440" x="303.4" y="834.4" fill="#60549b" stroke="#60549b"/>
<use href="#hx1440" x="317.8" y="834.4" fill="#60549b" stroke="#60549b"/>
<use href="#hx1440" x="332.2" y="834.4" fill="#60549b" stroke="#60549b"/>
<use href="#hx1440" x="108.9" y="846.8" fill="#6cb7a3" stroke="#6cb7a3"/>
<use href="#hx1440" x="123.3" y="846.8" fill="#e8242f" stroke="#e8242f"/>
<use href="#hx1440" x="137.7" y="846.8" fill="#e8242f" stroke="#e8242f"/>
<use href="#hx1440" x="152.1" y="846.8" fill="#e8242f" stroke="#e8242f"/>
<use href="#hx1440" x="166.5" y="846.8" fill="#e8242f" stroke="#e8242f"/>
<use href="#hx1440" x="180.9" y="846.8" fill="#e8242f" stroke="#e8242f"/>
<use href="#hx1440" x="195.4" y="846.8" fill="#ee6e4a" stroke="#ee6e4a"/>
<use href="#hx1440" x="209.8" y="846.8" fill="#ee6e4a" stroke="#ee6e4a"/>
<use href="#hx1440" x="224.2" y="846.8" fill="#ee6e4a" stroke="#ee6e4a"/>
<use href="#hx1440" x="238.6" y="846.8" fill="#ee6e4a" stroke="#ee6e4a"/>
<use href="#hx1440" x="253.0" y="846.8" fill="#60549b" stroke="#60549b"/>
<use href="#hx1440" x="267.4" y="846.8" fill="#60549b" stroke="#60549b"/>
<use href="#hx1440" x="281.8" y="846.8" fill="#60549b" stroke="#60549b"/>
<use href="#hx1440" x="296.2" y="846.8" fill="#60549b" stroke="#60549b"/>
<use href="#hx1440" x="310.6" y="846.8" fill="#60549b" stroke="#60549b"/>
<use href="#hx1440" x="325.0" y="846.8" fill="#60549b" stroke="#60549b"/>
<use href="#hx1440" x="339.4" y="846.8" fill="#60549b" stroke="#60549b"/>
<use href="#hx1440" x="101.7" y="859.3" fill="#e8242f" stroke="#e8242f"/>
<use href="#hx1440" x="116.1" y="859.3" fill="#e8242f" stroke="#e8242f"/>
<use href="#hx1440" x="130.5" y="859.3" fill="#e8242f" stroke="#e8242f"/>
<use href="#hx1440" x="144.9" y="859.3" fill="#e8242f" stroke="#e8242f"/>
<use href="#hx1440" x="159.3" y="859.3" fill="#e8242f" stroke="#e8242f"/>
<use href="#hx1440" x="173.7" y="859.3" fill="#e8242f" stroke="#e8242f"/>
<use href="#hx1440" x="188.2" y="859.3" fill="#e6c36e" stroke="#e6c36e"/>
<use href="#hx1440" x="202.6" y="859.3" fill="#e6c36e" stroke="#e6c36e"/>
<use href="#hx1440" x="217.0" y="859.3" fill="#ee6e4a" stroke="#ee6e4a"/>
<use href="#hx1440" x="231.4" y="859.3" fill="#ee6e4a" stroke="#ee6e4a"/>
<use href="#hx1440" x="245.8" y="859.3" fill="#ee6e4a" stroke="#ee6e4a"/>
<use href="#hx1440" x="260.2" y="859.3" fill="#60549b" stroke="#60549b"/>
<use href="#hx1440" x="274.6" y="859.3" fill="#60549b" stroke="#60549b"/>
<use href="#hx1440" x="289.0" y="859.3" fill="#60549b" stroke="#60549b"/>
<use href="#hx1440" x="303.4" y="859.3" fill="#60549b" stroke="#60549b"/>
<use href="#hx1440" x="317.8" y="859.3" fill="#60549b" stroke="#60549b"/>
<use href="#hx1440" x="332.2" y="859.3" fill="#60549b" stroke="#60549b"/>
<use href="#hx1440" x="108.9" y="871.8" fill="#e8242f" stroke="#e8242f"/>
<use href="#hx1440" x="123.3" y="871.8" fill="#e8242f" stroke="#e8242f"/>
<use href="#hx1440" x="137.7" y="871.8" fill="#e8242f" stroke="#e8242f"/>
<use href="#hx1440" x="152.1" y="871.8" fill="#e8242f" stroke="#e8242f"/>
<use href="#hx1440" x="166.5" y="871.8" fill="#e8242f" stroke="#e8242f"/>
<use href="#hx1440" x="180.9" y="871.8" fill="#e6c36e" stroke="#e6c36e"/>
<use href="#hx1440" x="195.4" y="871.8" fill="#e6c36e" stroke="#e6c36e"/>
<use href="#hx1440" x="209.8" y="871.8" fill="#e6c36e" stroke="#e6c36e"/>
<use href="#hx1440" x="224.2" y="871.8" fill="#e6c36e" stroke="#e6c36e"/>
<use href="#hx1440" x="238.6" y="871.8" fill="#e6c36e" stroke="#e6c36e"/>
<use href="#hx1440" x="253.0" y="871.8" fill="#60549b" stroke="#60549b"/>
<use href="#hx1440" x="267.4" y="871.8" fill="#60549b" stroke="#60549b"/>
<use href="#hx1440" x="281.8" y="871.8" fill="#60549b" stroke="#60549b"/>
<use href="#hx1440" x="296.2" y="871.8" fill="#60549b" stroke="#60549b"/>
<use href="#hx1440" x="310.6" y="871.8" fill="#60549b" stroke="#60549b"/>
<use href="#hx1440" x="325.0" y="871.8" fill="#60549b" stroke="#60549b"/>
<use href="#hx1440" x="339.4" y="871.8" fill="#60549b" stroke="#60549b"/>
<use href="#hx1440" x="101.7" y="884.3" fill="#e8242f" stroke="#e8242f"/>
<use href="#hx1440" x="116.1" y="884.3" fill="#e8242f" stroke="#e8242f"/>
<use href="#hx1440" x="130.5" y="884.3" fill="#e8242f" stroke="#e8242f"/>
<use href="#hx1440" x="144.9" y="884.3" fill="#e8242f" stroke="#e8242f"/>
<use href="#hx1440" x="159.3" y="884.3" fill="#e8242f" stroke="#e8242f"/>
<use href="#hx1440" x="173.7" y="884.3" fill="#e6c36e" stroke="#e6c36e"/>
<use href="#hx1440" x="188.2" y="884.3" fill="#e6c36e" stroke="#e6c36e"/>
<use href="#hx1440" x="202.6" y="884.3" fill="#e6c36e" stroke="#e6c36e"/>
<use href="#hx1440" x="217.0" y="884.3" fill="#e6c36e" stroke="#e6c36e"/>
<use href="#hx1440" x="231.4" y="884.3" fill="#e6c36e" stroke="#e6c36e"/>
<use href="#hx1440" x="245.8" y="884.3" fill="#e6c36e" stroke="#e6c36e"/>
<use href="#hx1440" x="260.2" y="884.3" fill="#e6c36e" stroke="#e6c36e"/>
<use href="#hx1440" x="274.6" y="884.3" fill="#60549b" stroke="#60549b"/>
<use href="#hx1440" x="289.0" y="884.3" fill="#60549b" stroke="#60549b"/>
<use href="#hx1440" x="303.4" y="884.3" fill="#60549b" stroke="#60549b"/>
<use href="#hx1440" x="317.8" y="884.3" fill="#60549b" stroke="#60549b"/>
<use href="#hx1440" x="332.2" y="884.3" fill="#60549b" stroke="#60549b"/>
<use href="#hx1440" x="108.9" y="896.7" fill="#e8242f" stroke="#e8242f"/>
<use href="#hx1440" x="123.3" y="896.7" fill="#e8242f" stroke="#e8242f"/>
<use href="#hx1440" x="137.7" y="896.7" fill="#e8242f" stroke="#e8242f"/>
<use href="#hx1440" x="152.1" y="896.7" fill="#e8242f" stroke="#e8242f"/>
<use href="#hx1440" x="166.5" y="896.7" fill="#e8242f" stroke="#e8242f"/>
<use href="#hx1440" x="180.9" y="896.7" fill="#e6c36e" stroke="#e6c36e"/>
<use href="#hx1440" x="195.4" y="896.7" fill="#e6c36e" stroke="#e6c36e"/>
<use href="#hx1440" x="209.8" y="896.7" fill="#e6c36e" stroke="#e6c36e"/>
<use href="#hx1440" x="224.2" y="896.7" fill="#e6c36e" stroke="#e6c36e"/>
<use href="#hx1440" x="238.6" y="896.7" fill="#e6c36e" stroke="#e6c36e"/>
<use href="#hx1440" x="253.0" y="896.7" fill="#e6c36e" stroke="#e6c36e"/>
<use href="#hx1440" x="267.4" y="896.7" fill="#60549b" stroke="#60549b"/>
<use href="#hx1440" x="281.8" y="896.7" fill="#60549b" stroke="#60549b"/>
<use href="#hx1440" x="296.2" y="896.7" fill="#60549b" stroke="#60549b"/>
<use href="#hx1440" x="310.6" y="896.7" fill="#60549b" stroke="#60549b"/>
<use href="#hx1440" x="325.0" y="896.7" fill="#60549b" stroke="#60549b"/>
<use href="#hx1440" x="339.4" y="896.7" fill="#60549b" stroke="#60549b"/>
<use href="#hx1440" x="101.7" y="909.2" fill="#e8242f" stroke="#e8242f"/>
<use href="#hx1440" x="116.1" y="909.2" fill="#e8242f" stroke="#e8242f"/>
<use href="#hx1440" x="130.5" y="909.2" fill="#e8242f" stroke="#e8242f"/>
<use href="#hx1440" x="144.9" y="909.2" fill="#e8242f" stroke="#e8242f"/>
<use href="#hx1440" x="159.3" y="909.2" fill="#e8242f" stroke="#e8242f"/>
<use href="#hx1440" x="173.7" y="909.2" fill="#e6c36e" stroke="#e6c36e"/>
<use href="#hx1440" x="188.2" y="909.2" fill="#e6c36e" stroke="#e6c36e"/>
<use href="#hx1440" x="202.6" y="909.2" fill="#e6c36e" stroke="#e6c36e"/>
<use href="#hx1440" x="217.0" y="909.2" fill="#e6c36e" stroke="#e6c36e"/>
<use href="#hx1440" x="231.4" y="909.2" fill="#e6c36e" stroke="#e6c36e"/>
<use href="#hx1440" x="245.8" y="909.2" fill="#e6c36e" stroke="#e6c36e"/>
<use href="#hx1440" x="260.2" y="909.2" fill="#e6c36e" stroke="#e6c36e"/>
<use href="#hx1440" x="274.6" y="909.2" fill="#60549b" stroke="#60549b"/>
<use href="#hx1440" x="289.0" y="909.2" fill="#60549b" stroke="#60549b"/>
<use href="#hx1440" x="303.4" y="909.2" fill="#60549b" stroke="#60549b"/>
<use href="#hx1440" x="317.8" y="909.2" fill="#60549b" stroke="#60549b"/>
<use href="#hx1440" x="332.2" y="909.2" fill="#60549b" stroke="#60549b"/>
<use href="#hx1440" x="108.9" y="921.7" fill="#e8242f" stroke="#e8242f"/>
<use href="#hx1440" x="123.3" y="921.7" fill="#e8242f" stroke="#e8242f"/>
<use href="#hx1440" x="137.7" y="921.7" fill="#e8242f" stroke="#e8242f"/>
<use href="#hx1440" x="152.1" y="921.7" fill="#e8242f" stroke="#e8242f"/>
<use href="#hx1440" x="166.5" y="921.7" fill="#e8242f" stroke="#e8242f"/>
<use href="#hx1440" x="180.9" y="921.7" fill="#e6c36e" stroke="#e6c36e"/>
<use href="#hx1440" x="195.4" y="921.7" fill="#e6c36e" stroke="#e6c36e"/>
<use href="#hx1440" x="209.8" y="921.7" fill="#e6c36e" stroke="#e6c36e"/>
<use href="#hx1440" x="224.2" y="921.7" fill="#e6c36e" stroke="#e6c36e"/>
<use href="#hx1440" x="238.6" y="921.7" fill="#e6c36e" stroke="#e6c36e"/>
<use href="#hx1440" x="253.0" y="921.7" fill="#e6c36e" stroke="#e6c36e"/>
<use href="#hx1440" x="267.4" y="921.7" fill="#60549b" stroke="#60549b"/>
<use href="#hx1440" x="281.8" y="921.7" fill="#60549b" stroke="#60549b"/>
<use href="#hx1440" x="296.2" y="921.7" fill="#60549b" stroke="#60549b"/>
<use href="#hx1440" x="310.6" y="921.7" fill="#60549b" stroke="#60549b"/>
<use href="#hx1440" x="325.0" y="921.7" fill="#60549b" stroke="#60549b"/>
<use href="#hx1440" x="339.4" y="921.7" fill="#60549b" stroke="#60549b"/>
<use href="#hx1440" x="101.7" y="934.2" fill="#e8242f" stroke="#e8242f"/>
<use href="#hx1440" x="116.1" y="934.2" fill="#e8242f" stroke="#e8242f"/>
<use href="#hx1440" x="130.5" y="934.2" fill="#e8242f" stroke="#e8242f"/>
<use href="#hx1440" x="144.9" y="934.2" fill="#e8242f" stroke="#e8242f"/>
<use href="#hx1440" x="159.3" y="934.2" fill="#e8242f" stroke="#e8242f"/>
<use href="#hx1440" x="173.7" y="934.2" fill="#e6c36e" stroke="#e6c36e"/>
<use href="#hx1440" x="188.2" y="934.2" fill="#e6c36e" stroke="#e6c36e"/>
<use href="#hx1440" x="202.6" y="934.2" fill="#e6c36e" stroke="#e6c36e"/>
<use href="#hx1440" x="217.0" y="934.2" fill="#e6c36e" stroke="#e6c36e"/>
<use href="#hx1440" x="231.4" y="934.2" fill="#e6c36e" stroke="#e6c36e"/>
<use href="#hx1440" x="245.8" y="934.2" fill="#e6c36e" stroke="#e6c36e"/>
<use href="#hx1440" x="260.2" y="934.2" fill="#e6c36e" stroke="#e6c36e"/>
<use href="#hx1440" x="274.6" y="934.2" fill="#60549b" stroke="#60549b"/>
<use href="#hx1440" x="289.0" y="934.2" fill="#436db2" stroke="#436db2"/>
<use href="#hx1440" x="303.4" y="934.2" fill="#436db2" stroke="#436db2"/>
<use href="#hx1440" x="317.8" y="934.2" fill="#436db2" stroke="#436db2"/>
<use href="#hx1440" x="332.2" y="934.2" fill="#436db2" stroke="#436db2"/>
<use href="#hx1440" x="108.9" y="946.6" fill="#e6c36e" stroke="#e6c36e"/>
<use href="#hx1440" x="123.3" y="946.6" fill="#e6c36e" stroke="#e6c36e"/>
<use href="#hx1440" x="137.7" y="946.6" fill="#e6c36e" stroke="#e6c36e"/>
<use href="#hx1440" x="152.1" y="946.6" fill="#e6c36e" stroke="#e6c36e"/>
<use href="#hx1440" x="166.5" y="946.6" fill="#e6c36e" stroke="#e6c36e"/>
<use href="#hx1440" x="180.9" y="946.6" fill="#e6c36e" stroke="#e6c36e"/>
<use href="#hx1440" x="195.4" y="946.6" fill="#e6c36e" stroke="#e6c36e"/>
<use href="#hx1440" x="209.8" y="946.6" fill="#e6c36e" stroke="#e6c36e"/>
<use href="#hx1440" x="224.2" y="946.6" fill="#e6c36e" stroke="#e6c36e"/>
<use href="#hx1440" x="238.6" y="946.6" fill="#e6c36e" stroke="#e6c36e"/>
<use href="#hx1440" x="253.0" y="946.6" fill="#e6c36e" stroke="#e6c36e"/>
<use href="#hx1440" x="267.4" y="946.6" fill="#436db2" stroke="#436db2"/>
<use href="#hx1440" x="281.8" y="946.6" fill="#436db2" stroke="#436db2"/>
<use href="#hx1440" x="296.2" y="946.6" fill="#436db2" stroke="#436db2"/>
<use href="#hx1440" x="310.6" y="946.6" fill="#436db2" stroke="#436db2"/>
<use href="#hx1440" x="325.0" y="946.6" fill="#436db2" stroke="#436db2"/>
<use href="#hx1440" x="339.4" y="946.6" fill="#436db2" stroke="#436db2"/>
<use href="#hx1440" x="101.7" y="959.1" fill="#e6c36e" stroke="#e6c36e"/>
<use href="#hx1440" x="116.1" y="959.1" fill="#e6c36e" stroke="#e6c36e"/>
<use href="#hx1440" x="130.5" y="959.1" fill="#e6c36e" stroke="#e6c36e"/>
<use href="#hx1440" x="144.9" y="959.1" fill="#e6c36e" stroke="#e6c36e"/>
<use href="#hx1440" x="159.3" y="959.1" fill="#e6c36e" stroke="#e6c36e"/>
<use href="#hx1440" x="173.7" y="959.1" fill="#e6c36e" stroke="#e6c36e"/>
<use href="#hx1440" x="188.2" y="959.1" fill="#e6c36e" stroke="#e6c36e"/>
<use href="#hx1440" x="202.6" y="959.1" fill="#e6c36e" stroke="#e6c36e"/>
<use href="#hx1440" x="217.0" y="959.1" fill="#e6c36e" stroke="#e6c36e"/>
<use href="#hx1440" x="231.4" y="959.1" fill="#e6c36e" stroke="#e6c36e"/>
<use href="#hx1440" x="245.8" y="959.1" fill="#e6c36e" stroke="#e6c36e"/>
<use href="#hx1440" x="260.2" y="959.1" fill="#436db2" stroke="#436db2"/>
<use href="#hx1440" x="274.6" y="959.1" fill="#436db2" stroke="#436db2"/>
<use href="#hx1440" x="289.0" y="959.1" fill="#436db2" stroke="#436db2"/>
<use href="#hx1440" x="303.4" y="959.1" fill="#436db2" stroke="#436db2"/>
<use href="#hx1440" x="317.8" y="959.1" fill="#436db2" stroke="#436db2"/>
<use href="#hx1440" x="332.2" y="959.1" fill="#436db2" stroke="#436db2"/>
<use href="#hx1440" x="108.9" y="971.6" fill="#e6c36e" stroke="#e6c36e"/>
<use href="#hx1440" x="123.3" y="971.6" fill="#e6c36e" stroke="#e6c36e"/>
<use href="#hx1440" x="137.7" y="971.6" fill="#e6c36e" stroke="#e6c36e"/>
<use href="#hx1440" x="152.1" y="971.6" fill="#e6c36e" stroke="#e6c36e"/>
<use href="#hx1440" x="166.5" y="971.6" fill="#e6c36e" stroke="#e6c36e"/>
<use href="#hx1440" x="180.9" y="971.6" fill="#e6c36e" stroke="#e6c36e"/>
<use href="#hx1440" x="195.4" y="971.6" fill="#e6c36e" stroke="#e6c36e"/>
<use href="#hx1440" x="209.8" y="971.6" fill="#e6c36e" stroke="#e6c36e"/>
<use href="#hx1440" x="224.2" y="971.6" fill="#e6c36e" stroke="#e6c36e"/>
<use href="#hx1440" x="238.6" y="971.6" fill="#e6c36e" stroke="#e6c36e"/>
<use href="#hx1440" x="253.0" y="971.6" fill="#e6c36e" stroke="#e6c36e"/>
<use href="#hx1440" x="267.4" y="971.6" fill="#436db2" stroke="#436db2"/>
<use href="#hx1440" x="281.8" y="971.6" fill="#436db2" stroke="#436db2"/>
<use href="#hx1440" x="296.2" y="971.6" fill="#436db2" stroke="#436db2"/>
<use href="#hx1440" x="310.6" y="971.6" fill="#436db2" stroke="#436db2"/>
<use href="#hx1440" x="325.0" y="971.6" fill="#436db2" stroke="#436db2"/>
<use href="#hx1440" x="339.4" y="971.6" fill="#436db2" stroke="#436db2"/>
<use href="#hx1440" x="101.7" y="984.0" fill="#e6c36e" stroke="#e6c36e"/>
<use href="#hx1440" x="116.1" y="984.0" fill="#e6c36e" stroke="#e6c36e"/>
<use href="#hx1440" x="130.5" y="984.0" fill="#e6c36e" stroke="#e6c36e"/>
<use href="#hx1440" x="144.9" y="984.0" fill="#e6c36e" stroke="#e6c36e"/>
<use href="#hx1440" x="159.3" y="984.0" fill="#e6c36e" stroke="#e6c36e"/>
<use href="#hx1440" x="173.7" y="984.0" fill="#e6c36e" stroke="#e6c36e"/>
<use href="#hx1440" x="188.2" y="984.0" fill="#e6c36e" stroke="#e6c36e"/>
<use href="#hx1440" x="202.6" y="984.0" fill="#e6c36e" stroke="#e6c36e"/>
<use href="#hx1440" x="217.0" y="984.0" fill="#e6c36e" stroke="#e6c36e"/>
<use href="#hx1440" x="231.4" y="984.0" fill="#e6c36e" stroke="#e6c36e"/>
<use href="#hx1440" x="245.8" y="984.0" fill="#e6c36e" stroke="#e6c36e"/>
<use href="#hx1440" x="260.2" y="984.0" fill="#436db2" stroke="#436db2"/>
<use href="#hx1440" x="274.6" y="984.0" fill="#436db2" stroke="#436db2"/>
<use href="#hx1440" x="289.0" y="984.0" fill="#436db2" stroke="#436db2"/>
<use href="#hx1440" x="303.4" y="984.0" fill="#436db2" stroke="#436db2"/>
<use href="#hx1440" x="317.8" y="984.0" fill="#436db2" stroke="#436db2"/>
<use href="#hx1440" x="332.2" y="984.0" fill="#436db2" stroke="#436db2"/>
</g>
<g>
<path d="M108.93 688.82L116.13 692.98 M101.73 701.3L101.73 692.98 M101.73 692.98L108.93 688.82 M123.33 688.82L130.54 692.98 M116.13 692.98L123.33 688.82 M137.74 688.82L144.94 692.98 M130.54 692.98L137.74 688.82 M152.14 688.82L159.34 692.98 M144.94 692.98L152.14 688.82 M166.55 688.82L173.75 692.98 M159.34 692.98L166.55 688.82 M180.95 688.82L188.15 692.98 M173.75 692.98L180.95 688.82 M195.35 688.82L202.56 692.98 M188.15 692.98L195.35 688.82 M209.76 688.82L216.96 692.98 M216.96 692.98L216.96 701.3 M202.56 692.98L209.76 688.82 M224.16 688.82L231.36 692.98 M224.16 705.46L216.96 701.3 M216.96 692.98L224.16 688.82 M238.57 688.82L245.77 692.98 M231.36 692.98L238.57 688.82 M252.97 688.82L260.17 692.98 M260.17 692.98L260.17 701.3 M245.77 692.98L252.97 688.82 M267.37 688.82L274.58 692.98 M267.37 705.46L260.17 701.3 M260.17 692.98L267.37 688.82 M281.78 688.82L288.98 692.98 M274.58 692.98L281.78 688.82 M296.18 688.82L303.38 692.98 M288.98 692.98L296.18 688.82 M310.59 688.82L317.79 692.98 M303.38 692.98L310.59 688.82 M324.99 688.82L332.19 692.98 M317.79 692.98L324.99 688.82 M339.39 688.82L346.6 692.98 M346.6 692.98L346.6 701.3 M346.6 701.3L339.39 705.46 M332.19 692.98L339.39 688.82 M101.73 717.93L94.53 713.77 M94.53 713.77L94.53 705.46 M94.53 705.46L101.73 701.3 M209.76 713.77L202.56 717.93 M224.16 705.46L224.16 713.77 M224.16 713.77L216.96 717.93 M216.96 717.93L209.76 713.77 M267.37 705.46L267.37 713.77 M281.78 713.77L274.58 717.93 M274.58 717.93L267.37 713.77 M296.18 713.77L288.98 717.93 M288.98 717.93L281.78 713.77 M310.59 713.77L303.38 717.93 M303.38 717.93L296.18 713.77 M317.79 717.93L310.59 713.77 M339.39 705.46L339.39 713.77 M101.73 726.25L101.73 717.93 M202.56 717.93L202.56 726.25 M202.56 726.25L195.35 730.4 M274.58 717.93L274.58 726.25 M281.78 730.4L274.58 726.25 M317.79 717.93L317.79 726.25 M324.99 730.4L317.79 726.25 M339.39 713.77L346.6 717.93 M346.6 717.93L346.6 726.25 M346.6 726.25L339.39 730.4 M101.73 742.88L94.53 738.72 M94.53 738.72L94.53 730.4 M94.53 730.4L101.73 726.25 M195.35 730.4L195.35 738.72 M195.35 738.72L188.15 742.88 M281.78 730.4L281.78 738.72 M281.78 738.72L274.58 742.88 M324.99 730.4L324.99 738.72 M339.39 730.4L339.39 738.72 M339.39 738.72L332.19 742.88 M332.19 742.88L324.99 738.72 M101.73 751.19L101.73 742.88 M188.15 742.88L188.15 751.19 M195.35 755.35L188.15 751.19 M274.58 742.88L274.58 751.19 M274.58 751.19L267.37 755.35 M339.39 738.72L346.6 742.88 M346.6 742.88L346.6 751.19 M346.6 751.19L339.39 755.35 M101.73 767.83L94.53 763.67 M94.53 763.67L94.53 755.35 M94.53 755.35L101.73 751.19 M195.35 755.35L195.35 763.67 M202.56 767.83L195.35 763.67 M267.37 755.35L267.37 763.67 M274.58 767.83L267.37 763.67 M339.39 755.35L339.39 763.67 M101.73 776.14L101.73 767.83 M202.56 767.83L202.56 776.14 M209.76 780.3L202.56 776.14 M274.58 767.83L274.58 776.14 M281.78 780.3L274.58 776.14 M339.39 763.67L346.6 767.83 M346.6 767.83L346.6 776.14 M346.6 776.14L339.39 780.3 M101.73 792.78L94.53 788.62 M94.53 788.62L94.53 780.3 M94.53 780.3L101.73 776.14 M195.35 788.62L188.15 792.78 M209.76 780.3L209.76 788.62 M209.76 788.62L202.56 792.78 M202.56 792.78L195.35 788.62 M224.16 788.62L216.96 792.78 M216.96 792.78L209.76 788.62 M238.57 788.62L231.36 792.78 M231.36 792.78L224.16 788.62 M252.97 788.62L245.77 792.78 M245.77 792.78L238.57 788.62 M267.37 788.62L260.17 792.78 M260.17 792.78L252.97 788.62 M281.78 780.3L281.78 788.62 M281.78 788.62L274.58 792.78 M274.58 792.78L267.37 788.62 M339.39 780.3L339.39 788.62 M101.73 801.09L101.73 792.78 M188.15 792.78L188.15 801.09 M188.15 801.09L180.95 805.25 M245.77 792.78L245.77 801.09 M252.97 805.25L245.77 801.09 M339.39 788.62L346.6 792.78 M346.6 792.78L346.6 801.09 M346.6 801.09L339.39 805.25 M101.73 817.72L94.53 813.57 M94.53 813.57L94.53 805.25 M94.53 805.25L101.73 801.09 M180.95 805.25L180.95 813.57 M180.95 813.57L173.75 817.72 M188.15 817.72L180.95 813.57 M252.97 805.25L252.97 813.57 M260.17 817.72L252.97 813.57 M339.39 805.25L339.39 813.57 M101.73 826.04L101.73 817.72 M130.54 826.04L123.33 830.2 M144.94 826.04L137.74 830.2 M137.74 830.2L130.54 826.04 M159.34 826.04L152.14 830.2 M152.14 830.2L144.94 826.04 M173.75 817.72L173.75 826.04 M173.75 826.04L166.55 830.2 M166.55 830.2L159.34 826.04 M188.15 817.72L188.15 826.04 M195.35 830.2L188.15 826.04 M260.17 817.72L260.17 826.04 M260.17 826.04L252.97 830.2 M339.39 813.57L346.6 817.72 M346.6 817.72L346.6 826.04 M346.6 826.04L339.39 830.2 M101.73 842.67L94.53 838.51 M94.53 838.51L94.53 830.2 M94.53 830.2L101.73 826.04 M123.33 830.2L123.33 838.51 M123.33 838.51L116.13 842.67 M195.35 830.2L195.35 838.51 M195.35 838.51L188.15 842.67 M252.97 830.2L252.97 838.51 M252.97 838.51L245.77 842.67 M339.39 830.2L339.39 838.51 M116.13 842.67L116.13 850.99 M116.13 850.99L108.93 855.15 M108.93 855.15L101.73 850.99 M101.73 850.99L101.73 842.67 M188.15 842.67L188.15 850.99 M188.15 850.99L180.95 855.15 M202.56 850.99L195.35 855.15 M195.35 855.15L188.15 850.99 M209.76 855.15L202.56 850.99 M245.77 842.67L245.77 850.99 M252.97 855.15L245.77 850.99 M339.39 838.51L346.6 842.67 M346.6 842.67L346.6 850.99 M346.6 850.99L339.39 855.15 M101.73 867.62L94.53 863.46 M94.53 863.46L94.53 855.15 M94.53 855.15L101.73 850.99 M180.95 855.15L180.95 863.46 M180.95 863.46L173.75 867.62 M209.76 855.15L209.76 863.46 M224.16 863.46L216.96 867.62 M216.96 867.62L209.76 863.46 M238.57 863.46L231.36 867.62 M231.36 867.62L224.16 863.46 M252.97 855.15L252.97 863.46 M252.97 863.46L245.77 867.62 M245.77 867.62L238.57 863.46 M339.39 855.15L339.39 863.46 M101.73 875.94L101.73 867.62 M173.75 867.62L173.75 875.94 M173.75 875.94L166.55 880.1 M245.77 867.62L245.77 875.94 M260.17 875.94L252.97 880.1 M252.97 880.1L245.77 875.94 M267.37 880.1L260.17 875.94 M339.39 863.46L346.6 867.62 M346.6 867.62L346.6 875.94 M346.6 875.94L339.39 880.1 M101.73 892.57L94.53 888.41 M94.53 888.41L94.53 880.1 M94.53 880.1L101.73 875.94 M166.55 880.1L166.55 888.41 M173.75 892.57L166.55 888.41 M267.37 880.1L267.37 888.41 M267.37 888.41L260.17 892.57 M339.39 880.1L339.39 888.41 M101.73 900.89L101.73 892.57 M173.75 892.57L173.75 900.89 M173.75 900.89L166.55 905.04 M260.17 892.57L260.17 900.89 M267.37 905.04L260.17 900.89 M339.39 888.41L346.6 892.57 M346.6 892.57L346.6 900.89 M346.6 900.89L339.39 905.04 M101.73 917.52L94.53 913.36 M94.53 913.36L94.53 905.04 M94.53 905.04L101.73 900.89 M166.55 905.04L166.55 913.36 M173.75 917.52L166.55 913.36 M267.37 905.04L267.37 913.36 M267.37 913.36L260.17 917.52 M339.39 905.04L339.39 913.36 M101.73 925.83L101.73 917.52 M173.75 917.52L173.75 925.83 M173.75 925.83L166.55 929.99 M260.17 917.52L260.17 925.83 M267.37 929.99L260.17 925.83 M288.98 925.83L281.78 929.99 M303.38 925.83L296.18 929.99 M296.18 929.99L288.98 925.83 M317.79 925.83L310.59 929.99 M310.59 929.99L303.38 925.83 M332.19 925.83L324.99 929.99 M324.99 929.99L317.79 925.83 M339.39 913.36L346.6 917.52 M346.6 917.52L346.6 925.83 M346.6 925.83L339.39 929.99 M339.39 929.99L332.19 925.83 M108.93 938.31L101.73 942.47 M101.73 942.47L94.53 938.31 M94.53 938.31L94.53 929.99 M94.53 929.99L101.73 925.83 M123.33 938.31L116.13 942.47 M116.13 942.47L108.93 938.31 M137.74 938.31L130.54 942.47 M130.54 942.47L123.33 938.31 M152.14 938.31L144.94 942.47 M144.94 942.47L137.74 938.31 M166.55 929.99L166.55 938.31 M166.55 938.31L159.34 942.47 M159.34 942.47L152.14 938.31 M267.37 929.99L267.37 938.31 M267.37 938.31L260.17 942.47 M281.78 929.99L281.78 938.31 M281.78 938.31L274.58 942.47 M274.58 942.47L267.37 938.31 M339.39 929.99L339.39 938.31 M101.73 950.78L101.73 942.47 M260.17 942.47L260.17 950.78 M260.17 950.78L252.97 954.94 M339.39 938.31L346.6 942.47 M346.6 942.47L346.6 950.78 M346.6 950.78L339.39 954.94 M101.73 967.41L94.53 963.26 M94.53 963.26L94.53 954.94 M94.53 954.94L101.73 950.78 M252.97 954.94L252.97 963.26 M260.17 967.41L252.97 963.26 M339.39 954.94L339.39 963.26 M101.73 975.73L101.73 967.41 M260.17 967.41L260.17 975.73 M260.17 975.73L252.97 979.89 M339.39 963.26L346.6 967.41 M346.6 967.41L346.6 975.73 M346.6 975.73L339.39 979.89 M108.93 988.21L101.73 992.36 M101.73 992.36L94.53 988.21 M94.53 988.21L94.53 979.89 M94.53 979.89L101.73 975.73 M123.33 988.21L116.13 992.36 M116.13 992.36L108.93 988.21 M137.74 988.21L130.54 992.36 M130.54 992.36L123.33 988.21 M152.14 988.21L144.94 992.36 M144.94 992.36L137.74 988.21 M166.55 988.21L159.34 992.36 M159.34 992.36L152.14 988.21 M180.95 988.21L173.75 992.36 M173.75 992.36L166.55 988.21 M195.35 988.21L188.15 992.36 M188.15 992.36L180.95 988.21 M209.76 988.21L202.56 992.36 M202.56 992.36L195.35 988.21 M224.16 988.21L216.96 992.36 M216.96 992.36L209.76 988.21 M238.57 988.21L231.36 992.36 M231.36 992.36L224.16 988.21 M252.97 979.89L252.97 988.21 M252.97 988.21L245.77 992.36 M245.77 992.36L238.57 988.21 M267.37 988.21L260.17 992.36 M260.17 992.36L252.97 988.21 M281.78 988.21L274.58 992.36 M274.58 992.36L267.37 988.21 M296.18 988.21L288.98 992.36 M288.98 992.36L281.78 988.21 M310.59 988.21L303.38 992.36 M303.38 992.36L296.18 988.21 M324.99 988.21L317.79 992.36 M317.79 992.36L310.59 988.21 M339.39 979.89L339.39 988.21 M339.39 988.21L332.19 992.36 M332.19 992.36L324.99 988.21" fill="none" stroke="#231f20" stroke-width="1.2" stroke-linecap="round" stroke-linejoin="round"/>
</g>
<text x="152.3" y="754" font-size="22" text-anchor="middle">5</text>
<text x="236.2" y="754" font-size="22" text-anchor="middle">4</text>
<text x="328.7" y="714.4" font-size="22" text-anchor="middle">6</text>
<text x="303.7" y="828.2" font-size="22" text-anchor="middle" fill="#ffffff">8</text>
<text x="222.7" y="837.8" font-size="22" text-anchor="middle">2</text>
<text x="136.9" y="885.1" font-size="22" text-anchor="middle" fill="#ffffff">1</text>
<text x="222.7" y="937.2" font-size="22" text-anchor="middle">3</text>
<text x="303.7" y="969" font-size="22" text-anchor="middle" fill="#ffffff">7</text>
<line x1="120.4" y1="1148.5" x2="322" y2="1148.5" stroke="#c8c9cb" stroke-width="1.2" stroke-dasharray="4.5 3.5"/>
<line x1="120.4" y1="1124.7" x2="322" y2="1124.7" stroke="#c8c9cb" stroke-width="1.2" stroke-dasharray="4.5 3.5"/>
<line x1="120.4" y1="1100.9" x2="322" y2="1100.9" stroke="#c8c9cb" stroke-width="1.2" stroke-dasharray="4.5 3.5"/>
<line x1="120.4" y1="1077.1" x2="322" y2="1077.1" stroke="#c8c9cb" stroke-width="1.2" stroke-dasharray="4.5 3.5"/>
<rect x="127.3" y="1124.7" width="22.2" height="47.6" fill="#e8242f" stroke="none" stroke-width="1" />
<rect x="155.42" y="1148.02" width="22.2" height="24.28" fill="#ee6e4a" stroke="none" stroke-width="1" />
<rect x="183.54" y="1076.03" width="22.2" height="96.27" fill="#e6c36e" stroke="none" stroke-width="1" />
<rect x="211.66" y="1131.6" width="22.2" height="40.7" fill="#99c794" stroke="none" stroke-width="1" />
<rect x="239.78" y="1074.84" width="22.2" height="97.46" fill="#6cb7a3" stroke="none" stroke-width="1" />
<rect x="267.9" y="1158.02" width="22.2" height="14.28" fill="#00b7dc" stroke="none" stroke-width="1" />
<rect x="296.02" y="1142.07" width="22.2" height="30.23" fill="#436db2" stroke="none" stroke-width="1" />
<rect x="324.14" y="1069.72" width="22.2" height="102.58" fill="#60549b" stroke="none" stroke-width="1" />
<line x1="120.4" y1="1053.3" x2="120.4" y2="1172.3" stroke="#231f20" stroke-width="1.3" />
<line x1="108.7" y1="1172.3" x2="120.4" y2="1172.3" stroke="#231f20" stroke-width="1.3" />
<line x1="108.7" y1="1148.5" x2="120.4" y2="1148.5" stroke="#231f20" stroke-width="1.3" />
<line x1="108.7" y1="1124.7" x2="120.4" y2="1124.7" stroke="#231f20" stroke-width="1.3" />
<line x1="108.7" y1="1100.9" x2="120.4" y2="1100.9" stroke="#231f20" stroke-width="1.3" />
<line x1="108.7" y1="1077.1" x2="120.4" y2="1077.1" stroke="#231f20" stroke-width="1.3" />
<line x1="108.7" y1="1053.3" x2="120.4" y2="1053.3" stroke="#231f20" stroke-width="1.3" />
<line x1="123.9" y1="1172.3" x2="349.5" y2="1172.3" stroke="#231f20" stroke-width="1.3" />
<line x1="138.4" y1="1172.3" x2="138.4" y2="1184.7" stroke="#231f20" stroke-width="1.3" />
<text x="138.4" y="1212.2" font-size="21.5" text-anchor="middle" fill="#e8242f">1</text>
<line x1="166.52" y1="1172.3" x2="166.52" y2="1184.7" stroke="#231f20" stroke-width="1.3" />
<text x="166.52" y="1212.2" font-size="21.5" text-anchor="middle" fill="#ee6e4a">2</text>
<line x1="194.64" y1="1172.3" x2="194.64" y2="1184.7" stroke="#231f20" stroke-width="1.3" />
<text x="194.64" y="1212.2" font-size="21.5" text-anchor="middle" fill="#e6c36e">3</text>
<line x1="222.76" y1="1172.3" x2="222.76" y2="1184.7" stroke="#231f20" stroke-width="1.3" />
<text x="222.76" y="1212.2" font-size="21.5" text-anchor="middle" fill="#99c794">4</text>
<line x1="250.88" y1="1172.3" x2="250.88" y2="1184.7" stroke="#231f20" stroke-width="1.3" />
<text x="250.88" y="1212.2" font-size="21.5" text-anchor="middle" fill="#6cb7a3">5</text>
<line x1="279" y1="1172.3" x2="279" y2="1184.7" stroke="#231f20" stroke-width="1.3" />
<text x="279" y="1212.2" font-size="21.5" text-anchor="middle" fill="#00b7dc">6</text>
<line x1="307.12" y1="1172.3" x2="307.12" y2="1184.7" stroke="#231f20" stroke-width="1.3" />
<text x="307.12" y="1212.2" font-size="21.5" text-anchor="middle" fill="#436db2">7</text>
<line x1="335.24" y1="1172.3" x2="335.24" y2="1184.7" stroke="#231f20" stroke-width="1.3" />
<text x="335.24" y="1212.2" font-size="21.5" text-anchor="middle" fill="#60549b">8</text>
<text x="99" y="1083.6" font-size="21.3" text-anchor="end" textLength="58.2" lengthAdjust="spacingAndGlyphs">4,000</text>
<text x="99" y="1131.2" font-size="21.3" text-anchor="end" textLength="58.2" lengthAdjust="spacingAndGlyphs">2,000</text>
<text x="99" y="1178.8" font-size="21.3" text-anchor="end">0</text>
<text x="128" y="1244.5" font-size="25.5" textLength="217.5" lengthAdjust="spacingAndGlyphs">ww unit category</text>
<text x="19.3" y="1108.5" font-size="25.5" text-anchor="middle" textLength="120.5" lengthAdjust="spacingAndGlyphs" transform="rotate(-90 19.3 1108.5)">Unit count</text>
<text x="397.5" y="638.6" font-size="41" font-weight="bold" textLength="23.5" lengthAdjust="spacingAndGlyphs" stroke="#231f20" stroke-width="1.3" stroke-linejoin="round">d</text>
<line x1="502.7" y1="671.3" x2="502.7" y2="806.8" stroke="#231f20" stroke-width="1.3" />
<line x1="502.7" y1="806.8" x2="713.8" y2="806.8" stroke="#231f20" stroke-width="1.3" />
<line x1="517.2" y1="806.8" x2="517.2" y2="820.8" stroke="#231f20" stroke-width="1.3" />
<line x1="545.2" y1="806.8" x2="545.2" y2="820.8" stroke="#231f20" stroke-width="1.3" />
<line x1="573.3" y1="806.8" x2="573.3" y2="820.8" stroke="#231f20" stroke-width="1.3" />
<line x1="601.3" y1="806.8" x2="601.3" y2="820.8" stroke="#231f20" stroke-width="1.3" />
<line x1="629.4" y1="806.8" x2="629.4" y2="820.8" stroke="#231f20" stroke-width="1.3" />
<line x1="657.4" y1="806.8" x2="657.4" y2="820.8" stroke="#231f20" stroke-width="1.3" />
<line x1="685.4" y1="806.8" x2="685.4" y2="820.8" stroke="#231f20" stroke-width="1.3" />
<line x1="713.4" y1="806.8" x2="713.4" y2="820.8" stroke="#231f20" stroke-width="1.3" />
<line x1="489.7" y1="702.8" x2="502.7" y2="702.8" stroke="#231f20" stroke-width="1.3" />
<text x="477.8" y="709.2" font-size="21.3" text-anchor="end">1.0</text>
<line x1="489.7" y1="784.6" x2="502.7" y2="784.6" stroke="#231f20" stroke-width="1.3" />
<text x="477.8" y="791" font-size="21.3" text-anchor="end">0</text>
<line x1="517.2" y1="744.44" x2="517.2" y2="791.65" stroke="#e8242f" stroke-width="2.2" />
<circle cx="517.2" cy="768.28" r="4.7" fill="#e8242f" stroke="none" stroke-width="1" />
<line x1="545.2" y1="760.1" x2="545.2" y2="802.17" stroke="#ee6e4a" stroke-width="2.2" />
<circle cx="545.2" cy="786.51" r="4.7" fill="#ee6e4a" stroke="none" stroke-width="1" />
<line x1="573.3" y1="758.46" x2="573.3" y2="798.66" stroke="#e6c36e" stroke-width="2.2" />
<circle cx="573.3" cy="781.13" r="4.7" fill="#e6c36e" stroke="none" stroke-width="1" />
<line x1="601.3" y1="684.61" x2="601.3" y2="736.73" stroke="#99c794" stroke-width="2.2" />
<circle cx="601.3" cy="712.42" r="4.7" fill="#99c794" stroke="none" stroke-width="1" />
<line x1="629.4" y1="695.12" x2="629.4" y2="757.06" stroke="#6cb7a3" stroke-width="2.2" />
<circle cx="629.4" cy="730.42" r="4.7" fill="#6cb7a3" stroke="none" stroke-width="1" />
<line x1="657.4" y1="677.13" x2="657.4" y2="726.68" stroke="#00b7dc" stroke-width="2.2" />
<circle cx="657.4" cy="703.54" r="4.7" fill="#00b7dc" stroke="none" stroke-width="1" />
<line x1="685.4" y1="774.12" x2="685.4" y2="801.47" stroke="#436db2" stroke-width="2.2" />
<circle cx="685.4" cy="790.72" r="4.7" fill="#436db2" stroke="none" stroke-width="1" />
<line x1="713.4" y1="735.09" x2="713.4" y2="795.16" stroke="#60549b" stroke-width="2.2" />
<circle cx="713.4" cy="766.64" r="4.7" fill="#60549b" stroke="none" stroke-width="1" />
<line x1="502.7" y1="905.5" x2="713.8" y2="905.5" stroke="#c8c9cb" stroke-width="1.5" />
<line x1="502.7" y1="837.9" x2="502.7" y2="973.3" stroke="#231f20" stroke-width="1.3" />
<line x1="502.7" y1="973.3" x2="713.8" y2="973.3" stroke="#231f20" stroke-width="1.3" />
<line x1="517.2" y1="973.3" x2="517.2" y2="987.3" stroke="#231f20" stroke-width="1.3" />
<line x1="545.2" y1="973.3" x2="545.2" y2="987.3" stroke="#231f20" stroke-width="1.3" />
<line x1="573.3" y1="973.3" x2="573.3" y2="987.3" stroke="#231f20" stroke-width="1.3" />
<line x1="601.3" y1="973.3" x2="601.3" y2="987.3" stroke="#231f20" stroke-width="1.3" />
<line x1="629.4" y1="973.3" x2="629.4" y2="987.3" stroke="#231f20" stroke-width="1.3" />
<line x1="657.4" y1="973.3" x2="657.4" y2="987.3" stroke="#231f20" stroke-width="1.3" />
<line x1="685.4" y1="973.3" x2="685.4" y2="987.3" stroke="#231f20" stroke-width="1.3" />
<line x1="713.4" y1="973.3" x2="713.4" y2="987.3" stroke="#231f20" stroke-width="1.3" />
<line x1="489.7" y1="866.9" x2="502.7" y2="866.9" stroke="#231f20" stroke-width="1.3" />
<text x="477.8" y="873.3" font-size="21.3" text-anchor="end">0.2</text>
<line x1="489.7" y1="905.5" x2="502.7" y2="905.5" stroke="#231f20" stroke-width="1.3" />
<text x="477.8" y="911.9" font-size="21.3" text-anchor="end">0</text>
<line x1="489.7" y1="943.1" x2="502.7" y2="943.1" stroke="#231f20" stroke-width="1.3" />
<text x="477.8" y="949.5" font-size="21.3" text-anchor="end">−0.2</text>
<line x1="517.2" y1="896.36" x2="517.2" y2="924.87" stroke="#e8242f" stroke-width="2.2" />
<circle cx="517.2" cy="910.85" r="4.7" fill="#e8242f" stroke="none" stroke-width="1" />
<line x1="545.2" y1="864.57" x2="545.2" y2="898.7" stroke="#ee6e4a" stroke-width="2.2" />
<circle cx="545.2" cy="886.31" r="4.7" fill="#ee6e4a" stroke="none" stroke-width="1" />
<line x1="573.3" y1="907.34" x2="573.3" y2="944.04" stroke="#e6c36e" stroke-width="2.2" />
<circle cx="573.3" cy="924.87" r="4.7" fill="#e6c36e" stroke="none" stroke-width="1" />
<line x1="601.3" y1="872.29" x2="601.3" y2="903.14" stroke="#99c794" stroke-width="2.2" />
<circle cx="601.3" cy="891.22" r="4.7" fill="#99c794" stroke="none" stroke-width="1" />
<line x1="629.4" y1="887.01" x2="629.4" y2="923" stroke="#6cb7a3" stroke-width="2.2" />
<circle cx="629.4" cy="907.58" r="4.7" fill="#6cb7a3" stroke="none" stroke-width="1" />
<line x1="657.4" y1="889.35" x2="657.4" y2="947.08" stroke="#00b7dc" stroke-width="2.2" />
<circle cx="657.4" cy="924.41" r="4.7" fill="#00b7dc" stroke="none" stroke-width="1" />
<line x1="685.4" y1="935.86" x2="685.4" y2="970.45" stroke="#436db2" stroke-width="2.2" />
<circle cx="685.4" cy="948.24" r="4.7" fill="#436db2" stroke="none" stroke-width="1" />
<line x1="713.4" y1="897.29" x2="713.4" y2="932.35" stroke="#60549b" stroke-width="2.2" />
<circle cx="713.4" cy="915.52" r="4.7" fill="#60549b" stroke="none" stroke-width="1" />
<line x1="502.7" y1="1073.1" x2="713.8" y2="1073.1" stroke="#c8c9cb" stroke-width="1.5" />
<line x1="502.7" y1="1005" x2="502.7" y2="1140.6" stroke="#231f20" stroke-width="1.3" />
<line x1="502.7" y1="1140.6" x2="713.8" y2="1140.6" stroke="#231f20" stroke-width="1.3" />
<line x1="517.2" y1="1140.6" x2="517.2" y2="1154.6" stroke="#231f20" stroke-width="1.3" />
<line x1="545.2" y1="1140.6" x2="545.2" y2="1154.6" stroke="#231f20" stroke-width="1.3" />
<line x1="573.3" y1="1140.6" x2="573.3" y2="1154.6" stroke="#231f20" stroke-width="1.3" />
<line x1="601.3" y1="1140.6" x2="601.3" y2="1154.6" stroke="#231f20" stroke-width="1.3" />
<line x1="629.4" y1="1140.6" x2="629.4" y2="1154.6" stroke="#231f20" stroke-width="1.3" />
<line x1="657.4" y1="1140.6" x2="657.4" y2="1154.6" stroke="#231f20" stroke-width="1.3" />
<line x1="685.4" y1="1140.6" x2="685.4" y2="1154.6" stroke="#231f20" stroke-width="1.3" />
<line x1="713.4" y1="1140.6" x2="713.4" y2="1154.6" stroke="#231f20" stroke-width="1.3" />
<line x1="489.7" y1="1031.8" x2="502.7" y2="1031.8" stroke="#231f20" stroke-width="1.3" />
<text x="477.8" y="1038.2" font-size="21.3" text-anchor="end">0.2</text>
<line x1="489.7" y1="1073.1" x2="502.7" y2="1073.1" stroke="#231f20" stroke-width="1.3" />
<text x="477.8" y="1079.5" font-size="21.3" text-anchor="end">0</text>
<line x1="489.7" y1="1113.4" x2="502.7" y2="1113.4" stroke="#231f20" stroke-width="1.3" />
<text x="477.8" y="1119.8" font-size="21.3" text-anchor="end">−0.2</text>
<line x1="517.2" y1="1097.64" x2="517.2" y2="1137.53" stroke="#e8242f" stroke-width="2.2" />
<circle cx="517.2" cy="1112.98" r="4.7" fill="#e8242f" stroke="none" stroke-width="1" />
<line x1="545.2" y1="1066.33" x2="545.2" y2="1110.32" stroke="#ee6e4a" stroke-width="2.2" />
<circle cx="545.2" cy="1086.18" r="4.7" fill="#ee6e4a" stroke="none" stroke-width="1" />
<line x1="573.3" y1="1074.72" x2="573.3" y2="1107.86" stroke="#e6c36e" stroke-width="2.2" />
<circle cx="573.3" cy="1091.29" r="4.7" fill="#e6c36e" stroke="none" stroke-width="1" />
<line x1="601.3" y1="1052.63" x2="601.3" y2="1097.64" stroke="#99c794" stroke-width="2.2" />
<circle cx="601.3" cy="1074.31" r="4.7" fill="#99c794" stroke="none" stroke-width="1" />
<line x1="629.4" y1="1075.54" x2="629.4" y2="1119.12" stroke="#6cb7a3" stroke-width="2.2" />
<circle cx="629.4" cy="1092.52" r="4.7" fill="#6cb7a3" stroke="none" stroke-width="1" />
<line x1="657.4" y1="1011.71" x2="657.4" y2="1064.49" stroke="#00b7dc" stroke-width="2.2" />
<circle cx="657.4" cy="1038.51" r="4.7" fill="#00b7dc" stroke="none" stroke-width="1" />
<line x1="685.4" y1="1035.85" x2="685.4" y2="1085.16" stroke="#436db2" stroke-width="2.2" />
<circle cx="685.4" cy="1062.45" r="4.7" fill="#436db2" stroke="none" stroke-width="1" />
<line x1="713.4" y1="1037.49" x2="713.4" y2="1073.09" stroke="#60549b" stroke-width="2.2" />
<circle cx="713.4" cy="1059.38" r="4.7" fill="#60549b" stroke="none" stroke-width="1" />
<text x="421" y="738.6" font-size="25.5" text-anchor="middle" textLength="89.8" lengthAdjust="spacingAndGlyphs" transform="rotate(-90 421 738.6)">log<tspan font-size="16" dy="6">10</tspan><tspan dy="-6">FR</tspan></text>
<text x="419" y="901.5" font-size="25.5" text-anchor="middle" textLength="109.5" lengthAdjust="spacingAndGlyphs" transform="rotate(-90 419 901.5)">Memory</text>
<text x="423" y="1055.9" font-size="25.5" text-anchor="middle" textLength="157.3" lengthAdjust="spacingAndGlyphs" transform="rotate(-90 423 1055.9)">Burstiness</text>
<text x="514.4" y="1180" font-size="21.5" text-anchor="middle" fill="#e8242f">1</text>
<text x="543.5" y="1180" font-size="21.5" text-anchor="middle" fill="#ee6e4a">2</text>
<text x="572.3" y="1180" font-size="21.5" text-anchor="middle" fill="#e6c36e">3</text>
<text x="601" y="1180" font-size="21.5" text-anchor="middle" fill="#99c794">4</text>
<text x="629.3" y="1180" font-size="21.5" text-anchor="middle" fill="#6cb7a3">5</text>
<text x="657.2" y="1180" font-size="21.5" text-anchor="middle" fill="#00b7dc">6</text>
<text x="685.2" y="1180" font-size="21.5" text-anchor="middle" fill="#436db2">7</text>
<text x="713.5" y="1180" font-size="21.5" text-anchor="middle" fill="#60549b">8</text>
<line x1="497.6" y1="1205" x2="719.6" y2="1205" stroke="#c8c9cb" stroke-width="2.2" />
<line x1="497.6" y1="1237.4" x2="719.6" y2="1237.4" stroke="#c8c9cb" stroke-width="2.2" />
<line x1="497.6" y1="1274" x2="719.6" y2="1274" stroke="#c8c9cb" stroke-width="2.2" />
<line x1="514.4" y1="1188.7" x2="514.4" y2="1274" stroke="#231f20" stroke-width="1.2" />
<line x1="543.5" y1="1188.7" x2="543.5" y2="1274" stroke="#231f20" stroke-width="1.2" />
<line x1="572.3" y1="1188.7" x2="572.3" y2="1274" stroke="#231f20" stroke-width="1.2" />
<line x1="601" y1="1188.7" x2="601" y2="1274" stroke="#231f20" stroke-width="1.2" />
<line x1="629.3" y1="1188.7" x2="629.3" y2="1274" stroke="#231f20" stroke-width="1.2" />
<line x1="657.2" y1="1188.7" x2="657.2" y2="1274" stroke="#231f20" stroke-width="1.2" />
<line x1="685.2" y1="1188.7" x2="685.2" y2="1274" stroke="#231f20" stroke-width="1.2" />
<line x1="713.5" y1="1188.7" x2="713.5" y2="1274" stroke="#231f20" stroke-width="1.2" />
<circle cx="514.4" cy="1205" r="2.2" fill="#5aa846" stroke="#231f20" stroke-width="1.1" />
<circle cx="514.4" cy="1237.4" r="9.77" fill="#e8f0e2" stroke="#231f20" stroke-width="1.1" />
<circle cx="514.4" cy="1274" r="5.9" fill="#c8c9cb" stroke="#231f20" stroke-width="1.1" />
<circle cx="543.5" cy="1205" r="6.95" fill="#d9e9cc" stroke="#231f20" stroke-width="1.1" />
<circle cx="543.5" cy="1237.4" r="14.34" fill="#eec4da" stroke="#231f20" stroke-width="1.1" />
<circle cx="543.5" cy="1274" r="3.08" fill="#ffffff" stroke="#231f20" stroke-width="1.1" />
<circle cx="572.3" cy="1205" r="6.07" fill="#c1dca9" stroke="#231f20" stroke-width="1.1" />
<circle cx="572.3" cy="1237.4" r="6.95" fill="#c1dca9" stroke="#231f20" stroke-width="1.1" />
<circle cx="572.3" cy="1274" r="3.7" fill="#e6e7e8" stroke="#231f20" stroke-width="1.1" />
<circle cx="601" cy="1205" r="8.8" fill="#eef1ea" stroke="#231f20" stroke-width="1.1" />
<circle cx="601" cy="1237.4" r="11.97" fill="#f3d4e3" stroke="#231f20" stroke-width="1.1" />
<circle cx="601" cy="1274" r="13.38" fill="#4a4d4f" stroke="#231f20" stroke-width="1.1" />
<circle cx="629.3" cy="1205" r="5.9" fill="#c1dca9" stroke="#231f20" stroke-width="1.1" />
<circle cx="629.3" cy="1237.4" r="10.47" fill="#eef1ea" stroke="#231f20" stroke-width="1.1" />
<circle cx="629.3" cy="1274" r="11" fill="#6d6e71" stroke="#231f20" stroke-width="1.1" />
<circle cx="657.2" cy="1205" r="14.34" fill="#de89b5" stroke="#231f20" stroke-width="1.1" />
<circle cx="657.2" cy="1237.4" r="6.95" fill="#c1dca9" stroke="#231f20" stroke-width="1.1" />
<circle cx="657.2" cy="1274" r="14.7" fill="#231f20" stroke="#231f20" stroke-width="1.1" />
<circle cx="685.2" cy="1205" r="10.65" fill="#f4d8e4" stroke="#231f20" stroke-width="1.1" />
<circle cx="685.2" cy="1237.4" r="2.2" fill="#5aa846" stroke="#231f20" stroke-width="1.1" />
<circle cx="685.2" cy="1274" r="2.38" fill="#ffffff" stroke="#231f20" stroke-width="1.1" />
<circle cx="713.5" cy="1205" r="11" fill="#f4d3e2" stroke="#231f20" stroke-width="1.1" />
<circle cx="713.5" cy="1237.4" r="8.8" fill="#dfebd3" stroke="#231f20" stroke-width="1.1" />
<circle cx="713.5" cy="1274" r="5.9" fill="#c8c9cb" stroke="#231f20" stroke-width="1.1" />
<text x="486.4" y="1213" font-size="25.5" text-anchor="end">B</text>
<text x="486.4" y="1245.4" font-size="25.5" text-anchor="end">M</text>
<text x="487.9" y="1282" font-size="25.5" text-anchor="end" textLength="90.7" lengthAdjust="spacingAndGlyphs">log<tspan font-size="16.3" dy="5">10</tspan><tspan dy="-5">FR</tspan></text>
<text x="516" y="1315.5" font-size="25.5" textLength="215.9" lengthAdjust="spacingAndGlyphs">ww unit category</text>
<path d="M733 740.2 H755.8 V1270.5 H731" fill="none" stroke="#231f20" stroke-width="1.6" />
<path d="M733 907.6 H749.3 V1238 H731" fill="none" stroke="#231f20" stroke-width="1.6" />
<path d="M732 1074.5 H743 V1206 H731" fill="none" stroke="#231f20" stroke-width="1.6" />
<polygon points="727,1206 735.5,1202 735.5,1210" fill="#231f20" stroke="none" stroke-width="1" />
<polygon points="727,1238 735.5,1234 735.5,1242" fill="#231f20" stroke="none" stroke-width="1" />
<polygon points="727,1270.5 735.5,1266.5 735.5,1274.5" fill="#231f20" stroke="none" stroke-width="1" />
<text x="770" y="1245.8" font-size="25.5" text-anchor="middle" textLength="118.4" lengthAdjust="spacingAndGlyphs" transform="rotate(90 770 1245.8)">Summary</text>
<text x="17.5" y="1305" font-size="41" font-weight="bold" textLength="22.5" lengthAdjust="spacingAndGlyphs" stroke="#231f20" stroke-width="1.3" stroke-linejoin="round">e</text>
<text x="110.2" y="1313.8" font-size="25.5" textLength="90.7" lengthAdjust="spacingAndGlyphs">block <tspan font-style="italic">n</tspan></text>
<text x="239.7" y="1313.8" font-size="25.5" textLength="129.5" lengthAdjust="spacingAndGlyphs">block <tspan font-style="italic">n</tspan> + 1</text>
<line x1="208.8" y1="1309" x2="222" y2="1309" stroke="#231f20" stroke-width="2.2" />
<polygon points="229.5,1309 219.5,1304 219.5,1314" fill="#231f20" stroke="none" stroke-width="1" />
<text x="117.2" y="1340.8" font-size="25.5" text-anchor="end" textLength="48.5" lengthAdjust="spacingAndGlyphs">Unit</text>
<text x="117.2" y="1365.8" font-size="25.5" text-anchor="end" textLength="110.2" lengthAdjust="spacingAndGlyphs">category</text>
<rect x="130" y="1332.4" width="38.2" height="19.4" fill="#e8242f" stroke="none" stroke-width="1" />
<text x="149.1" y="1350" font-size="21" text-anchor="middle" fill="#ffffff">1</text>
<rect x="191" y="1332.4" width="38.2" height="19.4" fill="#e8242f" stroke="none" stroke-width="1" />
<text x="210.1" y="1350" font-size="21" text-anchor="middle" fill="#ffffff">1</text>
<rect x="249.2" y="1332.4" width="38.2" height="19.4" fill="#ee6e4a" stroke="none" stroke-width="1" />
<text x="268.3" y="1350" font-size="21" text-anchor="middle">2</text>
<rect x="308.6" y="1332.4" width="38.2" height="19.4" fill="#e8242f" stroke="none" stroke-width="1" />
<text x="327.7" y="1350" font-size="21" text-anchor="middle" fill="#ffffff">1</text>
<line x1="170.2" y1="1342" x2="180.2" y2="1342" stroke="#231f20" stroke-width="2.4" />
<polygon points="187.7,1342 178.2,1336.8 178.2,1347.2" fill="#231f20" stroke="none" stroke-width="1" />
<line x1="230.3" y1="1342" x2="240.3" y2="1342" stroke="#231f20" stroke-width="2.4" />
<polygon points="247.8,1342 238.3,1336.8 238.3,1347.2" fill="#231f20" stroke="none" stroke-width="1" />
<line x1="288.5" y1="1342" x2="298.5" y2="1342" stroke="#231f20" stroke-width="2.4" />
<polygon points="306,1342 296.5,1336.8 296.5,1347.2" fill="#231f20" stroke="none" stroke-width="1" />
<text x="178.8" y="1382.2" font-size="24" text-anchor="middle">T1</text>
<text x="238.5" y="1382.2" font-size="24" text-anchor="middle">T2</text>
<text x="295.7" y="1382.2" font-size="24" text-anchor="middle">T3</text>
<line x1="120.6" y1="1444.2" x2="120.6" y2="1612" stroke="#231f20" stroke-width="1.3" />
<line x1="109.5" y1="1612" x2="120.6" y2="1612" stroke="#231f20" stroke-width="1.3" />
<line x1="109.5" y1="1584.03" x2="120.6" y2="1584.03" stroke="#231f20" stroke-width="1.3" />
<line x1="109.5" y1="1556.06" x2="120.6" y2="1556.06" stroke="#231f20" stroke-width="1.3" />
<line x1="109.5" y1="1528.09" x2="120.6" y2="1528.09" stroke="#231f20" stroke-width="1.3" />
<line x1="109.5" y1="1500.12" x2="120.6" y2="1500.12" stroke="#231f20" stroke-width="1.3" />
<line x1="109.5" y1="1472.15" x2="120.6" y2="1472.15" stroke="#231f20" stroke-width="1.3" />
<line x1="109.5" y1="1444.18" x2="120.6" y2="1444.18" stroke="#231f20" stroke-width="1.3" />
<line x1="109.5" y1="1612" x2="331.2" y2="1612" stroke="#231f20" stroke-width="1.3" />
<text x="97.5" y="1450.68" font-size="21.3" text-anchor="end">0.7</text>
<text x="97.5" y="1506.62" font-size="21.3" text-anchor="end">0.5</text>
<text x="97.5" y="1562.56" font-size="21.3" text-anchor="end">0.3</text>
<text x="97.5" y="1618.5" font-size="21.3" text-anchor="end">0.1</text>
<line x1="129.9" y1="1612" x2="129.9" y2="1624.5" stroke="#231f20" stroke-width="1.3" />
<text x="129.9" y="1649.8" font-size="21.3" text-anchor="middle">T1</text>
<line x1="168.3" y1="1612" x2="168.3" y2="1624.5" stroke="#231f20" stroke-width="1.3" />
<text x="168.3" y="1649.8" font-size="21.3" text-anchor="middle">T2</text>
<line x1="206.5" y1="1612" x2="206.5" y2="1624.5" stroke="#231f20" stroke-width="1.3" />
<text x="206.5" y="1649.8" font-size="21.3" text-anchor="middle">T3</text>
<line x1="244.9" y1="1612" x2="244.9" y2="1624.5" stroke="#231f20" stroke-width="1.3" />
<text x="244.9" y="1649.8" font-size="21.3" text-anchor="middle">T4</text>
<line x1="283.3" y1="1612" x2="283.3" y2="1624.5" stroke="#231f20" stroke-width="1.3" />
<text x="283.3" y="1649.8" font-size="21.3" text-anchor="middle">T5</text>
<line x1="321.5" y1="1612" x2="321.5" y2="1624.5" stroke="#231f20" stroke-width="1.3" />
<text x="321.5" y="1649.8" font-size="21.3" text-anchor="middle">T6</text>
<polyline points="129.9,1591.7 168.3,1591.7 206.5,1592 244.9,1591.5 283.3,1592.8 321.5,1591.6" fill="none" stroke="#a7a9ac" stroke-width="1.3" />
<circle cx="129.9" cy="1591.7" r="5.6" fill="#a7a9ac" stroke="none" stroke-width="1" />
<circle cx="168.3" cy="1591.7" r="5.6" fill="#a7a9ac" stroke="none" stroke-width="1" />
<circle cx="206.5" cy="1592" r="5.6" fill="#a7a9ac" stroke="none" stroke-width="1" />
<circle cx="244.9" cy="1591.5" r="5.6" fill="#a7a9ac" stroke="none" stroke-width="1" />
<circle cx="283.3" cy="1592.8" r="5.6" fill="#a7a9ac" stroke="none" stroke-width="1" />
<circle cx="321.5" cy="1591.6" r="5.6" fill="#a7a9ac" stroke="none" stroke-width="1" />
<polyline points="129.9,1485.7 168.3,1483.9 206.5,1484.4 244.9,1487.2 283.3,1477.6 321.5,1481.6" fill="none" stroke="#231f20" stroke-width="1.3" />
<circle cx="129.9" cy="1485.7" r="5.6" fill="#231f20" stroke="none" stroke-width="1" />
<circle cx="168.3" cy="1483.9" r="5.6" fill="#231f20" stroke="none" stroke-width="1" />
<circle cx="206.5" cy="1484.4" r="5.6" fill="#231f20" stroke="none" stroke-width="1" />
<circle cx="244.9" cy="1487.2" r="5.6" fill="#231f20" stroke="none" stroke-width="1" />
<circle cx="283.3" cy="1477.6" r="5.6" fill="#231f20" stroke="none" stroke-width="1" />
<circle cx="321.5" cy="1481.6" r="5.6" fill="#231f20" stroke="none" stroke-width="1" />
<text x="303" y="1465.6" font-size="22.5" textLength="45" lengthAdjust="spacingAndGlyphs">Data</text>
<text x="280" y="1574" font-size="22.5" fill="#a7a9ac" textLength="95.7" lengthAdjust="spacingAndGlyphs">Expected</text>
<text x="163.1" y="1689.8" font-size="24.8" textLength="125.2" lengthAdjust="spacingAndGlyphs">Transitions</text>
<text x="41.5" y="1528" font-size="25.5" text-anchor="middle" textLength="102" lengthAdjust="spacingAndGlyphs" transform="rotate(-90 41.5 1528)">Stability</text>
<text x="410" y="1383" font-size="41" font-weight="bold" textLength="15" lengthAdjust="spacingAndGlyphs" stroke="#231f20" stroke-width="1.3" stroke-linejoin="round">f</text>
<rect x="502.8" y="1389.1" width="28.3" height="28.3" fill="#252627" stroke="none" stroke-width="1" />
<rect x="530.8" y="1389.1" width="28.3" height="28.3" fill="#ebebeb" stroke="none" stroke-width="1" />
<rect x="558.8" y="1389.1" width="28.3" height="28.3" fill="#b4b4b4" stroke="none" stroke-width="1" />
<rect x="586.8" y="1389.1" width="28.3" height="28.3" fill="#878787" stroke="none" stroke-width="1" />
<rect x="614.8" y="1389.1" width="28.3" height="28.3" fill="#575757" stroke="none" stroke-width="1" />
<rect x="642.8" y="1389.1" width="28.3" height="28.3" fill="#ababab" stroke="none" stroke-width="1" />
<rect x="670.8" y="1389.1" width="28.3" height="28.3" fill="#fbd5c0" stroke="none" stroke-width="1" />
<rect x="698.8" y="1389.1" width="28.3" height="28.3" fill="#e07c63" stroke="none" stroke-width="1" />
<rect x="502.8" y="1417.1" width="28.3" height="28.3" fill="#3c3c3c" stroke="none" stroke-width="1" />
<rect x="530.8" y="1417.1" width="28.3" height="28.3" fill="#fffbf9" stroke="none" stroke-width="1" />
<rect x="558.8" y="1417.1" width="28.3" height="28.3" fill="#fff7f3" stroke="none" stroke-width="1" />
<rect x="586.8" y="1417.1" width="28.3" height="28.3" fill="#202020" stroke="none" stroke-width="1" />
<rect x="614.8" y="1417.1" width="28.3" height="28.3" fill="#242626" stroke="none" stroke-width="1" />
<rect x="642.8" y="1417.1" width="28.3" height="28.3" fill="#3a3a3a" stroke="none" stroke-width="1" />
<rect x="670.8" y="1417.1" width="28.3" height="28.3" fill="#f5b090" stroke="none" stroke-width="1" />
<rect x="698.8" y="1417.1" width="28.3" height="28.3" fill="#fde3d6" stroke="none" stroke-width="1" />
<rect x="502.8" y="1445.1" width="28.3" height="28.3" fill="#1d1d1d" stroke="none" stroke-width="1" />
<rect x="530.8" y="1445.1" width="28.3" height="28.3" fill="#1d1d1d" stroke="none" stroke-width="1" />
<rect x="558.8" y="1445.1" width="28.3" height="28.3" fill="#262727" stroke="none" stroke-width="1" />
<rect x="586.8" y="1445.1" width="28.3" height="28.3" fill="#808080" stroke="none" stroke-width="1" />
<rect x="614.8" y="1445.1" width="28.3" height="28.3" fill="#4d4d4d" stroke="none" stroke-width="1" />
<rect x="642.8" y="1445.1" width="28.3" height="28.3" fill="#c02d34" stroke="none" stroke-width="1" />
<rect x="670.8" y="1445.1" width="28.3" height="28.3" fill="#4a4a4a" stroke="none" stroke-width="1" />
<rect x="698.8" y="1445.1" width="28.3" height="28.3" fill="#cacaca" stroke="none" stroke-width="1" />
<rect x="502.8" y="1473.1" width="28.3" height="28.3" fill="#dcdcdc" stroke="none" stroke-width="1" />
<rect x="530.8" y="1473.1" width="28.3" height="28.3" fill="#a0a0a0" stroke="none" stroke-width="1" />
<rect x="558.8" y="1473.1" width="28.3" height="28.3" fill="#b0b0b0" stroke="none" stroke-width="1" />
<rect x="586.8" y="1473.1" width="28.3" height="28.3" fill="#d8d8d8" stroke="none" stroke-width="1" />
<rect x="614.8" y="1473.1" width="28.3" height="28.3" fill="#e06b55" stroke="none" stroke-width="1" />
<rect x="642.8" y="1473.1" width="28.3" height="28.3" fill="#525252" stroke="none" stroke-width="1" />
<rect x="670.8" y="1473.1" width="28.3" height="28.3" fill="#2d2d2d" stroke="none" stroke-width="1" />
<rect x="698.8" y="1473.1" width="28.3" height="28.3" fill="#6a6a6a" stroke="none" stroke-width="1" />
<rect x="502.8" y="1501.1" width="28.3" height="28.3" fill="#2d2d2d" stroke="none" stroke-width="1" />
<rect x="530.8" y="1501.1" width="28.3" height="28.3" fill="#595959" stroke="none" stroke-width="1" />
<rect x="558.8" y="1501.1" width="28.3" height="28.3" fill="#282828" stroke="none" stroke-width="1" />
<rect x="586.8" y="1501.1" width="28.3" height="28.3" fill="#d35a4a" stroke="none" stroke-width="1" />
<rect x="614.8" y="1501.1" width="28.3" height="28.3" fill="#e2e2e2" stroke="none" stroke-width="1" />
<rect x="642.8" y="1501.1" width="28.3" height="28.3" fill="#8f8f8f" stroke="none" stroke-width="1" />
<rect x="670.8" y="1501.1" width="28.3" height="28.3" fill="#1f1f1f" stroke="none" stroke-width="1" />
<rect x="698.8" y="1501.1" width="28.3" height="28.3" fill="#9e9e9e" stroke="none" stroke-width="1" />
<rect x="502.8" y="1529.1" width="28.3" height="28.3" fill="#fdeee6" stroke="none" stroke-width="1" />
<rect x="530.8" y="1529.1" width="28.3" height="28.3" fill="#fde3d8" stroke="none" stroke-width="1" />
<rect x="558.8" y="1529.1" width="28.3" height="28.3" fill="#f5ae8e" stroke="none" stroke-width="1" />
<rect x="586.8" y="1529.1" width="28.3" height="28.3" fill="#222222" stroke="none" stroke-width="1" />
<rect x="614.8" y="1529.1" width="28.3" height="28.3" fill="#8e8e8e" stroke="none" stroke-width="1" />
<rect x="642.8" y="1529.1" width="28.3" height="28.3" fill="#2f2f2f" stroke="none" stroke-width="1" />
<rect x="670.8" y="1529.1" width="28.3" height="28.3" fill="#fff2ec" stroke="none" stroke-width="1" />
<rect x="698.8" y="1529.1" width="28.3" height="28.3" fill="#bdbdbd" stroke="none" stroke-width="1" />
<rect x="502.8" y="1557.1" width="28.3" height="28.3" fill="#fff6f2" stroke="none" stroke-width="1" />
<rect x="530.8" y="1557.1" width="28.3" height="28.3" fill="#fde0d2" stroke="none" stroke-width="1" />
<rect x="558.8" y="1557.1" width="28.3" height="28.3" fill="#fff1ea" stroke="none" stroke-width="1" />
<rect x="586.8" y="1557.1" width="28.3" height="28.3" fill="#3a3a3a" stroke="none" stroke-width="1" />
<rect x="614.8" y="1557.1" width="28.3" height="28.3" fill="#8a8a8a" stroke="none" stroke-width="1" />
<rect x="642.8" y="1557.1" width="28.3" height="28.3" fill="#1c1c1c" stroke="none" stroke-width="1" />
<rect x="670.8" y="1557.1" width="28.3" height="28.3" fill="#fffcfa" stroke="none" stroke-width="1" />
<rect x="698.8" y="1557.1" width="28.3" height="28.3" fill="#f1f2f1" stroke="none" stroke-width="1" />
<rect x="502.8" y="1585.1" width="28.3" height="28.3" fill="#f5ad8c" stroke="none" stroke-width="1" />
<rect x="530.8" y="1585.1" width="28.3" height="28.3" fill="#fff3ed" stroke="none" stroke-width="1" />
<rect x="558.8" y="1585.1" width="28.3" height="28.3" fill="#fde7dc" stroke="none" stroke-width="1" />
<rect x="586.8" y="1585.1" width="28.3" height="28.3" fill="#262727" stroke="none" stroke-width="1" />
<rect x="614.8" y="1585.1" width="28.3" height="28.3" fill="#c9c9c9" stroke="none" stroke-width="1" />
<rect x="642.8" y="1585.1" width="28.3" height="28.3" fill="#1c1c1c" stroke="none" stroke-width="1" />
<rect x="670.8" y="1585.1" width="28.3" height="28.3" fill="#4f4f4f" stroke="none" stroke-width="1" />
<rect x="698.8" y="1585.1" width="28.3" height="28.3" fill="#272828" stroke="none" stroke-width="1" />
<rect x="502.8" y="1389.1" width="224" height="224" fill="none" stroke="#3a3a3a" stroke-width="1.2" />
<line x1="491.5" y1="1403.1" x2="502.8" y2="1403.1" stroke="#231f20" stroke-width="1.3" />
<text x="477" y="1409.9" font-size="23" text-anchor="middle" fill="#60549b">8</text>
<line x1="491.5" y1="1431.1" x2="502.8" y2="1431.1" stroke="#231f20" stroke-width="1.3" />
<text x="477" y="1437.9" font-size="23" text-anchor="middle" fill="#436db2">7</text>
<line x1="491.5" y1="1459.1" x2="502.8" y2="1459.1" stroke="#231f20" stroke-width="1.3" />
<text x="477" y="1465.9" font-size="23" text-anchor="middle" fill="#00b7dc">6</text>
<line x1="491.5" y1="1487.1" x2="502.8" y2="1487.1" stroke="#231f20" stroke-width="1.3" />
<text x="477" y="1493.9" font-size="23" text-anchor="middle" fill="#6cb7a3">5</text>
<line x1="491.5" y1="1515.1" x2="502.8" y2="1515.1" stroke="#231f20" stroke-width="1.3" />
<text x="477" y="1521.9" font-size="23" text-anchor="middle" fill="#99c794">4</text>
<line x1="491.5" y1="1543.1" x2="502.8" y2="1543.1" stroke="#231f20" stroke-width="1.3" />
<text x="477" y="1549.9" font-size="23" text-anchor="middle" fill="#e6c36e">3</text>
<line x1="491.5" y1="1571.1" x2="502.8" y2="1571.1" stroke="#231f20" stroke-width="1.3" />
<text x="477" y="1577.9" font-size="23" text-anchor="middle" fill="#ee6e4a">2</text>
<line x1="491.5" y1="1599.1" x2="502.8" y2="1599.1" stroke="#231f20" stroke-width="1.3" />
<text x="477" y="1605.9" font-size="23" text-anchor="middle" fill="#e8242f">1</text>
<line x1="516.8" y1="1613.1" x2="516.8" y2="1624.4" stroke="#231f20" stroke-width="1.3" />
<text x="516.8" y="1651.5" font-size="23" text-anchor="middle" fill="#e8242f">1</text>
<line x1="544.8" y1="1613.1" x2="544.8" y2="1624.4" stroke="#231f20" stroke-width="1.3" />
<text x="544.8" y="1651.5" font-size="23" text-anchor="middle" fill="#ee6e4a">2</text>
<line x1="572.8" y1="1613.1" x2="572.8" y2="1624.4" stroke="#231f20" stroke-width="1.3" />
<text x="572.8" y="1651.5" font-size="23" text-anchor="middle" fill="#e6c36e">3</text>
<line x1="600.8" y1="1613.1" x2="600.8" y2="1624.4" stroke="#231f20" stroke-width="1.3" />
<text x="600.8" y="1651.5" font-size="23" text-anchor="middle" fill="#99c794">4</text>
<line x1="628.8" y1="1613.1" x2="628.8" y2="1624.4" stroke="#231f20" stroke-width="1.3" />
<text x="628.8" y="1651.5" font-size="23" text-anchor="middle" fill="#6cb7a3">5</text>
<line x1="656.8" y1="1613.1" x2="656.8" y2="1624.4" stroke="#231f20" stroke-width="1.3" />
<text x="656.8" y="1651.5" font-size="23" text-anchor="middle" fill="#00b7dc">6</text>
<line x1="684.8" y1="1613.1" x2="684.8" y2="1624.4" stroke="#231f20" stroke-width="1.3" />
<text x="684.8" y="1651.5" font-size="23" text-anchor="middle" fill="#436db2">7</text>
<line x1="712.8" y1="1613.1" x2="712.8" y2="1624.4" stroke="#231f20" stroke-width="1.3" />
<text x="712.8" y="1651.5" font-size="23" text-anchor="middle" fill="#60549b">8</text>
<defs><linearGradient id="cbf" x1="0" y1="0" x2="0" y2="1"><stop offset="0" stop-color="#67001f"/><stop offset="0.1" stop-color="#b2182b"/><stop offset="0.2" stop-color="#d6604d"/><stop offset="0.3" stop-color="#f4a582"/><stop offset="0.4" stop-color="#fddbc7"/><stop offset="0.5" stop-color="#ffffff"/><stop offset="0.6" stop-color="#e0e0e0"/><stop offset="0.7" stop-color="#bababa"/><stop offset="0.8" stop-color="#878787"/><stop offset="0.9" stop-color="#4d4d4d"/><stop offset="1" stop-color="#1a1a1a"/></linearGradient></defs>
<rect x="737.4" y="1389.1" width="12" height="224" fill="url(#cbf)" stroke="#231f20" stroke-width="1" />
<line x1="749.4" y1="1389.1" x2="757.7" y2="1389.1" stroke="#231f20" stroke-width="1.3" />
<text x="768.5" y="1395.5" font-size="21.3">1.0</text>
<line x1="749.4" y1="1501.1" x2="757.7" y2="1501.1" stroke="#231f20" stroke-width="1.3" />
<text x="768.5" y="1507.5" font-size="21.3">0</text>
<line x1="749.4" y1="1613.1" x2="757.7" y2="1613.1" stroke="#231f20" stroke-width="1.3" />
<text x="768.5" y="1619.5" font-size="21.3">−1.0</text>
<text x="826" y="1501.8" font-size="25.5" text-anchor="middle" textLength="301.6" lengthAdjust="spacingAndGlyphs" transform="rotate(90 826 1501.8)">Coincidence coefficient</text>
<text x="426" y="1497" font-size="25.5" text-anchor="middle" textLength="226" lengthAdjust="spacingAndGlyphs" transform="rotate(-90 426 1497)">ww unit category,</text>
<text x="450" y="1493.5" font-size="25.5" text-anchor="middle" textLength="131" lengthAdjust="spacingAndGlyphs" transform="rotate(-90 450 1493.5)">block <tspan font-style="italic">n</tspan> + 1</text>
<text x="469" y="1685.5" font-size="25.5" textLength="323.7" lengthAdjust="spacingAndGlyphs">ww unit category, block <tspan font-style="italic">n</tspan></text>
<text x="859" y="637.5" font-size="41" font-weight="bold" textLength="24" lengthAdjust="spacingAndGlyphs" stroke="#231f20" stroke-width="1.3" stroke-linejoin="round">g</text>
<text x="1153" y="670.8" font-size="22.5" textLength="277" lengthAdjust="spacingAndGlyphs">Category enrichment profile</text>
<line x1="1156" y1="683.5" x2="1405" y2="683.5" stroke="#231f20" stroke-width="1.3" />
<polygon points="1414,683.5 1403,679.5 1403,687.5" fill="#231f20" stroke="none" stroke-width="1" />
<rect x="1156.5" y="701.6" width="32.5" height="33.42" fill="#8dbfdd" stroke="none" stroke-width="1" />
<rect x="1188.7" y="701.6" width="32.5" height="33.42" fill="#ffffff" stroke="none" stroke-width="1" />
<rect x="1220.9" y="701.6" width="32.5" height="33.42" fill="#ec8e6e" stroke="none" stroke-width="1" />
<rect x="1253.1" y="701.6" width="32.5" height="33.42" fill="#72b0d5" stroke="none" stroke-width="1" />
<rect x="1285.3" y="701.6" width="32.5" height="33.42" fill="#a3cbe3" stroke="none" stroke-width="1" />
<rect x="1317.5" y="701.6" width="32.5" height="33.42" fill="#ffffff" stroke="none" stroke-width="1" />
<rect x="1349.7" y="701.6" width="32.5" height="33.42" fill="#d6604d" stroke="none" stroke-width="1" />
<rect x="1381.9" y="701.6" width="32.5" height="33.42" fill="#f9c6ad" stroke="none" stroke-width="1" />
<line x1="1144" y1="718.16" x2="1156.5" y2="718.16" stroke="#231f20" stroke-width="1.3" />
<text x="1132" y="725.16" font-size="22.5" text-anchor="end" textLength="24.3" lengthAdjust="spacingAndGlyphs">TT</text>
<rect x="1156.5" y="734.72" width="32.5" height="33.42" fill="#15579b" stroke="none" stroke-width="1" />
<rect x="1188.7" y="734.72" width="32.5" height="33.42" fill="#5aa1cd" stroke="none" stroke-width="1" />
<rect x="1220.9" y="734.72" width="32.5" height="33.42" fill="#ffffff" stroke="none" stroke-width="1" />
<rect x="1253.1" y="734.72" width="32.5" height="33.42" fill="#ffffff" stroke="none" stroke-width="1" />
<rect x="1285.3" y="734.72" width="32.5" height="33.42" fill="#7ab3d7" stroke="none" stroke-width="1" />
<rect x="1317.5" y="734.72" width="32.5" height="33.42" fill="#b72230" stroke="none" stroke-width="1" />
<rect x="1349.7" y="734.72" width="32.5" height="33.42" fill="#67001f" stroke="none" stroke-width="1" />
<rect x="1381.9" y="734.72" width="32.5" height="33.42" fill="#f9c6ad" stroke="none" stroke-width="1" />
<line x1="1144" y1="751.28" x2="1156.5" y2="751.28" stroke="#231f20" stroke-width="1.3" />
<text x="1132" y="758.28" font-size="22.5" text-anchor="end" textLength="47.3" lengthAdjust="spacingAndGlyphs">AON</text>
<rect x="1156.5" y="767.84" width="32.5" height="33.42" fill="#b8d7ea" stroke="none" stroke-width="1" />
<rect x="1188.7" y="767.84" width="32.5" height="33.42" fill="#ffffff" stroke="none" stroke-width="1" />
<rect x="1220.9" y="767.84" width="32.5" height="33.42" fill="#a8cee4" stroke="none" stroke-width="1" />
<rect x="1253.1" y="767.84" width="32.5" height="33.42" fill="#ffffff" stroke="none" stroke-width="1" />
<rect x="1285.3" y="767.84" width="32.5" height="33.42" fill="#b4d6ea" stroke="none" stroke-width="1" />
<rect x="1317.5" y="767.84" width="32.5" height="33.42" fill="#f8bda3" stroke="none" stroke-width="1" />
<rect x="1349.7" y="767.84" width="32.5" height="33.42" fill="#e6846a" stroke="none" stroke-width="1" />
<rect x="1381.9" y="767.84" width="32.5" height="33.42" fill="#db6b55" stroke="none" stroke-width="1" />
<line x1="1144" y1="784.4" x2="1156.5" y2="784.4" stroke="#231f20" stroke-width="1.3" />
<text x="1132" y="791.4" font-size="22.5" text-anchor="end" textLength="31.3" lengthAdjust="spacingAndGlyphs">PIR</text>
<rect x="1156.5" y="800.96" width="32.5" height="33.42" fill="#6aaad3" stroke="none" stroke-width="1" />
<rect x="1188.7" y="800.96" width="32.5" height="33.42" fill="#ffffff" stroke="none" stroke-width="1" />
<rect x="1220.9" y="800.96" width="32.5" height="33.42" fill="#86bcdc" stroke="none" stroke-width="1" />
<rect x="1253.1" y="800.96" width="32.5" height="33.42" fill="#ffffff" stroke="none" stroke-width="1" />
<rect x="1285.3" y="800.96" width="32.5" height="33.42" fill="#5ba2cd" stroke="none" stroke-width="1" />
<rect x="1317.5" y="800.96" width="32.5" height="33.42" fill="#ffffff" stroke="none" stroke-width="1" />
<rect x="1349.7" y="800.96" width="32.5" height="33.42" fill="#f4a582" stroke="none" stroke-width="1" />
<rect x="1381.9" y="800.96" width="32.5" height="33.42" fill="#931b27" stroke="none" stroke-width="1" />
<line x1="1144" y1="817.52" x2="1156.5" y2="817.52" stroke="#231f20" stroke-width="1.3" />
<text x="1132" y="824.52" font-size="22.5" text-anchor="end" font-weight="bold" textLength="86.1" lengthAdjust="spacingAndGlyphs">ORBl<tspan font-weight="normal"> | </tspan>d</text>
<rect x="1156.5" y="834.08" width="32.5" height="33.42" fill="#5a9fcc" stroke="none" stroke-width="1" />
<rect x="1188.7" y="834.08" width="32.5" height="33.42" fill="#a7cde3" stroke="none" stroke-width="1" />
<rect x="1220.9" y="834.08" width="32.5" height="33.42" fill="#ffffff" stroke="none" stroke-width="1" />
<rect x="1253.1" y="834.08" width="32.5" height="33.42" fill="#ffffff" stroke="none" stroke-width="1" />
<rect x="1285.3" y="834.08" width="32.5" height="33.42" fill="#ffffff" stroke="none" stroke-width="1" />
<rect x="1317.5" y="834.08" width="32.5" height="33.42" fill="#ffffff" stroke="none" stroke-width="1" />
<rect x="1349.7" y="834.08" width="32.5" height="33.42" fill="#ffffff" stroke="none" stroke-width="1" />
<rect x="1381.9" y="834.08" width="32.5" height="33.42" fill="#f4aa88" stroke="none" stroke-width="1" />
<line x1="1144" y1="850.64" x2="1156.5" y2="850.64" stroke="#231f20" stroke-width="1.3" />
<text x="1132" y="857.64" font-size="22.5" text-anchor="end" textLength="39.8" lengthAdjust="spacingAndGlyphs">HPF</text>
<rect x="1156.5" y="867.2" width="32.5" height="33.42" fill="#7db6d9" stroke="none" stroke-width="1" />
<rect x="1188.7" y="867.2" width="32.5" height="33.42" fill="#ffffff" stroke="none" stroke-width="1" />
<rect x="1220.9" y="867.2" width="32.5" height="33.42" fill="#ffffff" stroke="none" stroke-width="1" />
<rect x="1253.1" y="867.2" width="32.5" height="33.42" fill="#d3e5f1" stroke="none" stroke-width="1" />
<rect x="1285.3" y="867.2" width="32.5" height="33.42" fill="#a8cee4" stroke="none" stroke-width="1" />
<rect x="1317.5" y="867.2" width="32.5" height="33.42" fill="#ffffff" stroke="none" stroke-width="1" />
<rect x="1349.7" y="867.2" width="32.5" height="33.42" fill="#ffffff" stroke="none" stroke-width="1" />
<rect x="1381.9" y="867.2" width="32.5" height="33.42" fill="#c53e3a" stroke="none" stroke-width="1" />
<line x1="1144" y1="883.76" x2="1156.5" y2="883.76" stroke="#231f20" stroke-width="1.3" />
<text x="1132" y="890.76" font-size="22.5" text-anchor="end" textLength="43.6" lengthAdjust="spacingAndGlyphs">ACB</text>
<rect x="1156.5" y="900.32" width="32.5" height="33.42" fill="#579ecb" stroke="none" stroke-width="1" />
<rect x="1188.7" y="900.32" width="32.5" height="33.42" fill="#cfe3f0" stroke="none" stroke-width="1" />
<rect x="1220.9" y="900.32" width="32.5" height="33.42" fill="#b0d3e7" stroke="none" stroke-width="1" />
<rect x="1253.1" y="900.32" width="32.5" height="33.42" fill="#ffffff" stroke="none" stroke-width="1" />
<rect x="1285.3" y="900.32" width="32.5" height="33.42" fill="#84badb" stroke="none" stroke-width="1" />
<rect x="1317.5" y="900.32" width="32.5" height="33.42" fill="#cfe3f0" stroke="none" stroke-width="1" />
<rect x="1349.7" y="900.32" width="32.5" height="33.42" fill="#ffffff" stroke="none" stroke-width="1" />
<rect x="1381.9" y="900.32" width="32.5" height="33.42" fill="#67001f" stroke="none" stroke-width="1" />
<line x1="1144" y1="916.88" x2="1156.5" y2="916.88" stroke="#231f20" stroke-width="1.3" />
<text x="1132" y="923.88" font-size="22.5" text-anchor="end" textLength="28.6" lengthAdjust="spacingAndGlyphs">CP</text>
<rect x="1156.5" y="933.44" width="32.5" height="33.42" fill="#cadff0" stroke="none" stroke-width="1" />
<rect x="1188.7" y="933.44" width="32.5" height="33.42" fill="#ffffff" stroke="none" stroke-width="1" />
<rect x="1220.9" y="933.44" width="32.5" height="33.42" fill="#fac9b3" stroke="none" stroke-width="1" />
<rect x="1253.1" y="933.44" width="32.5" height="33.42" fill="#cde2f0" stroke="none" stroke-width="1" />
<rect x="1285.3" y="933.44" width="32.5" height="33.42" fill="#bbd9ea" stroke="none" stroke-width="1" />
<rect x="1317.5" y="933.44" width="32.5" height="33.42" fill="#cfe3f0" stroke="none" stroke-width="1" />
<rect x="1349.7" y="933.44" width="32.5" height="33.42" fill="#ffffff" stroke="none" stroke-width="1" />
<rect x="1381.9" y="933.44" width="32.5" height="33.42" fill="#ee9273" stroke="none" stroke-width="1" />
<line x1="1144" y1="950" x2="1156.5" y2="950" stroke="#231f20" stroke-width="1.3" />
<text x="1132" y="957" font-size="22.5" text-anchor="end" font-weight="bold" textLength="66.3" lengthAdjust="spacingAndGlyphs">AIv<tspan font-weight="normal"> | </tspan>d</text>
<rect x="1156.5" y="966.56" width="32.5" height="33.42" fill="#ffffff" stroke="none" stroke-width="1" />
<rect x="1188.7" y="966.56" width="32.5" height="33.42" fill="#ffffff" stroke="none" stroke-width="1" />
<rect x="1220.9" y="966.56" width="32.5" height="33.42" fill="#ffffff" stroke="none" stroke-width="1" />
<rect x="1253.1" y="966.56" width="32.5" height="33.42" fill="#ffffff" stroke="none" stroke-width="1" />
<rect x="1285.3" y="966.56" width="32.5" height="33.42" fill="#bddcee" stroke="none" stroke-width="1" />
<rect x="1317.5" y="966.56" width="32.5" height="33.42" fill="#ffffff" stroke="none" stroke-width="1" />
<rect x="1349.7" y="966.56" width="32.5" height="33.42" fill="#ffffff" stroke="none" stroke-width="1" />
<rect x="1381.9" y="966.56" width="32.5" height="33.42" fill="#f7b799" stroke="none" stroke-width="1" />
<line x1="1144" y1="983.12" x2="1156.5" y2="983.12" stroke="#231f20" stroke-width="1.3" />
<text x="1132" y="990.12" font-size="22.5" text-anchor="end" textLength="76.3" lengthAdjust="spacingAndGlyphs">AUD | d</text>
<rect x="1156.5" y="999.68" width="32.5" height="33.42" fill="#ffffff" stroke="none" stroke-width="1" />
<rect x="1188.7" y="999.68" width="32.5" height="33.42" fill="#ffffff" stroke="none" stroke-width="1" />
<rect x="1220.9" y="999.68" width="32.5" height="33.42" fill="#a4cce3" stroke="none" stroke-width="1" />
<rect x="1253.1" y="999.68" width="32.5" height="33.42" fill="#ffffff" stroke="none" stroke-width="1" />
<rect x="1285.3" y="999.68" width="32.5" height="33.42" fill="#ffffff" stroke="none" stroke-width="1" />
<rect x="1317.5" y="999.68" width="32.5" height="33.42" fill="#89bedc" stroke="none" stroke-width="1" />
<rect x="1349.7" y="999.68" width="32.5" height="33.42" fill="#ffffff" stroke="none" stroke-width="1" />
<rect x="1381.9" y="999.68" width="32.5" height="33.42" fill="#d55b4a" stroke="none" stroke-width="1" />
<line x1="1144" y1="1016.24" x2="1156.5" y2="1016.24" stroke="#231f20" stroke-width="1.3" />
<text x="1132" y="1023.24" font-size="22.5" text-anchor="end" font-weight="bold" textLength="80.3" lengthAdjust="spacingAndGlyphs">MOs<tspan font-weight="normal"> | </tspan>d</text>
<rect x="1156.5" y="1032.8" width="32.5" height="33.42" fill="#6aabd2" stroke="none" stroke-width="1" />
<rect x="1188.7" y="1032.8" width="32.5" height="33.42" fill="#c1ddec" stroke="none" stroke-width="1" />
<rect x="1220.9" y="1032.8" width="32.5" height="33.42" fill="#3f8dc2" stroke="none" stroke-width="1" />
<rect x="1253.1" y="1032.8" width="32.5" height="33.42" fill="#facbb3" stroke="none" stroke-width="1" />
<rect x="1285.3" y="1032.8" width="32.5" height="33.42" fill="#f8c1a6" stroke="none" stroke-width="1" />
<rect x="1317.5" y="1032.8" width="32.5" height="33.42" fill="#f5b294" stroke="none" stroke-width="1" />
<rect x="1349.7" y="1032.8" width="32.5" height="33.42" fill="#ffffff" stroke="none" stroke-width="1" />
<rect x="1381.9" y="1032.8" width="32.5" height="33.42" fill="#e07a60" stroke="none" stroke-width="1" />
<line x1="1144" y1="1049.36" x2="1156.5" y2="1049.36" stroke="#231f20" stroke-width="1.3" />
<text x="1132" y="1056.36" font-size="22.5" text-anchor="end" textLength="83.1" lengthAdjust="spacingAndGlyphs">MOp | d</text>
<rect x="1156.5" y="1065.92" width="32.5" height="33.42" fill="#acd1e5" stroke="none" stroke-width="1" />
<rect x="1188.7" y="1065.92" width="32.5" height="33.42" fill="#c0dbed" stroke="none" stroke-width="1" />
<rect x="1220.9" y="1065.92" width="32.5" height="33.42" fill="#4a98c8" stroke="none" stroke-width="1" />
<rect x="1253.1" y="1065.92" width="32.5" height="33.42" fill="#6a0622" stroke="none" stroke-width="1" />
<rect x="1285.3" y="1065.92" width="32.5" height="33.42" fill="#ffffff" stroke="none" stroke-width="1" />
<rect x="1317.5" y="1065.92" width="32.5" height="33.42" fill="#730c24" stroke="none" stroke-width="1" />
<rect x="1349.7" y="1065.92" width="32.5" height="33.42" fill="#ffffff" stroke="none" stroke-width="1" />
<rect x="1381.9" y="1065.92" width="32.5" height="33.42" fill="#ffffff" stroke="none" stroke-width="1" />
<line x1="1144" y1="1082.48" x2="1156.5" y2="1082.48" stroke="#231f20" stroke-width="1.3" />
<text x="1132" y="1089.48" font-size="22.5" text-anchor="end" textLength="26.6" lengthAdjust="spacingAndGlyphs">TH</text>
<rect x="1156.5" y="1099.04" width="32.5" height="33.42" fill="#96c4df" stroke="none" stroke-width="1" />
<rect x="1188.7" y="1099.04" width="32.5" height="33.42" fill="#ffffff" stroke="none" stroke-width="1" />
<rect x="1220.9" y="1099.04" width="32.5" height="33.42" fill="#3a88bf" stroke="none" stroke-width="1" />
<rect x="1253.1" y="1099.04" width="32.5" height="33.42" fill="#e88266" stroke="none" stroke-width="1" />
<rect x="1285.3" y="1099.04" width="32.5" height="33.42" fill="#ffffff" stroke="none" stroke-width="1" />
<rect x="1317.5" y="1099.04" width="32.5" height="33.42" fill="#d05046" stroke="none" stroke-width="1" />
<rect x="1349.7" y="1099.04" width="32.5" height="33.42" fill="#f7b294" stroke="none" stroke-width="1" />
<rect x="1381.9" y="1099.04" width="32.5" height="33.42" fill="#ffffff" stroke="none" stroke-width="1" />
<line x1="1144" y1="1115.6" x2="1156.5" y2="1115.6" stroke="#231f20" stroke-width="1.3" />
<text x="1132" y="1122.6" font-size="22.5" text-anchor="end" textLength="58.5" lengthAdjust="spacingAndGlyphs">SS | d</text>
<rect x="1156.5" y="1132.16" width="32.5" height="33.42" fill="#f6b496" stroke="none" stroke-width="1" />
<rect x="1188.7" y="1132.16" width="32.5" height="33.42" fill="#f6b496" stroke="none" stroke-width="1" />
<rect x="1220.9" y="1132.16" width="32.5" height="33.42" fill="#ffffff" stroke="none" stroke-width="1" />
<rect x="1253.1" y="1132.16" width="32.5" height="33.42" fill="#facbb4" stroke="none" stroke-width="1" />
<rect x="1285.3" y="1132.16" width="32.5" height="33.42" fill="#c3deed" stroke="none" stroke-width="1" />
<rect x="1317.5" y="1132.16" width="32.5" height="33.42" fill="#ffffff" stroke="none" stroke-width="1" />
<rect x="1349.7" y="1132.16" width="32.5" height="33.42" fill="#ffffff" stroke="none" stroke-width="1" />
<rect x="1381.9" y="1132.16" width="32.5" height="33.42" fill="#8bbedb" stroke="none" stroke-width="1" />
<line x1="1144" y1="1148.72" x2="1156.5" y2="1148.72" stroke="#231f20" stroke-width="1.3" />
<text x="1132" y="1155.72" font-size="22.5" text-anchor="end" font-weight="bold" textLength="90.1" lengthAdjust="spacingAndGlyphs">ACAv<tspan font-weight="normal"> | </tspan>d</text>
<rect x="1156.5" y="1165.28" width="32.5" height="33.42" fill="#f8c4aa" stroke="none" stroke-width="1" />
<rect x="1188.7" y="1165.28" width="32.5" height="33.42" fill="#ffffff" stroke="none" stroke-width="1" />
<rect x="1220.9" y="1165.28" width="32.5" height="33.42" fill="#fbd3bf" stroke="none" stroke-width="1" />
<rect x="1253.1" y="1165.28" width="32.5" height="33.42" fill="#cbe1ef" stroke="none" stroke-width="1" />
<rect x="1285.3" y="1165.28" width="32.5" height="33.42" fill="#ffffff" stroke="none" stroke-width="1" />
<rect x="1317.5" y="1165.28" width="32.5" height="33.42" fill="#f8c0a6" stroke="none" stroke-width="1" />
<rect x="1349.7" y="1165.28" width="32.5" height="33.42" fill="#ffffff" stroke="none" stroke-width="1" />
<rect x="1381.9" y="1165.28" width="32.5" height="33.42" fill="#85bada" stroke="none" stroke-width="1" />
<line x1="1144" y1="1181.84" x2="1156.5" y2="1181.84" stroke="#231f20" stroke-width="1.3" />
<text x="1132" y="1188.84" font-size="22.5" text-anchor="end" textLength="27.8" lengthAdjust="spacingAndGlyphs">DP</text>
<rect x="1156.5" y="1198.4" width="32.5" height="33.42" fill="#ffffff" stroke="none" stroke-width="1" />
<rect x="1188.7" y="1198.4" width="32.5" height="33.42" fill="#ffffff" stroke="none" stroke-width="1" />
<rect x="1220.9" y="1198.4" width="32.5" height="33.42" fill="#97c5e0" stroke="none" stroke-width="1" />
<rect x="1253.1" y="1198.4" width="32.5" height="33.42" fill="#ffffff" stroke="none" stroke-width="1" />
<rect x="1285.3" y="1198.4" width="32.5" height="33.42" fill="#f4a886" stroke="none" stroke-width="1" />
<rect x="1317.5" y="1198.4" width="32.5" height="33.42" fill="#ffffff" stroke="none" stroke-width="1" />
<rect x="1349.7" y="1198.4" width="32.5" height="33.42" fill="#ffffff" stroke="none" stroke-width="1" />
<rect x="1381.9" y="1198.4" width="32.5" height="33.42" fill="#cde2f0" stroke="none" stroke-width="1" />
<line x1="1144" y1="1214.96" x2="1156.5" y2="1214.96" stroke="#231f20" stroke-width="1.3" />
<text x="1132" y="1221.96" font-size="22.5" text-anchor="end" font-weight="bold" textLength="68.7" lengthAdjust="spacingAndGlyphs">AId<tspan font-weight="normal"> | </tspan>d</text>
<rect x="1156.5" y="1231.52" width="32.5" height="33.42" fill="#ffffff" stroke="none" stroke-width="1" />
<rect x="1188.7" y="1231.52" width="32.5" height="33.42" fill="#ffffff" stroke="none" stroke-width="1" />
<rect x="1220.9" y="1231.52" width="32.5" height="33.42" fill="#ffffff" stroke="none" stroke-width="1" />
<rect x="1253.1" y="1231.52" width="32.5" height="33.42" fill="#d1e5f1" stroke="none" stroke-width="1" />
<rect x="1285.3" y="1231.52" width="32.5" height="33.42" fill="#fcd6c4" stroke="none" stroke-width="1" />
<rect x="1317.5" y="1231.52" width="32.5" height="33.42" fill="#ffffff" stroke="none" stroke-width="1" />
<rect x="1349.7" y="1231.52" width="32.5" height="33.42" fill="#ffffff" stroke="none" stroke-width="1" />
<rect x="1381.9" y="1231.52" width="32.5" height="33.42" fill="#ffffff" stroke="none" stroke-width="1" />
<line x1="1144" y1="1248.08" x2="1156.5" y2="1248.08" stroke="#231f20" stroke-width="1.3" />
<text x="1132" y="1255.08" font-size="22.5" text-anchor="end" font-weight="bold" textLength="72.2" lengthAdjust="spacingAndGlyphs">FRP<tspan font-weight="normal"> | </tspan>d</text>
<rect x="1156.5" y="1264.64" width="32.5" height="33.42" fill="#ffffff" stroke="none" stroke-width="1" />
<rect x="1188.7" y="1264.64" width="32.5" height="33.42" fill="#ffffff" stroke="none" stroke-width="1" />
<rect x="1220.9" y="1264.64" width="32.5" height="33.42" fill="#ffffff" stroke="none" stroke-width="1" />
<rect x="1253.1" y="1264.64" width="32.5" height="33.42" fill="#f3a583" stroke="none" stroke-width="1" />
<rect x="1285.3" y="1264.64" width="32.5" height="33.42" fill="#ffffff" stroke="none" stroke-width="1" />
<rect x="1317.5" y="1264.64" width="32.5" height="33.42" fill="#f6b597" stroke="none" stroke-width="1" />
<rect x="1349.7" y="1264.64" width="32.5" height="33.42" fill="#bcd9eb" stroke="none" stroke-width="1" />
<rect x="1381.9" y="1264.64" width="32.5" height="33.42" fill="#ffffff" stroke="none" stroke-width="1" />
<line x1="1144" y1="1281.2" x2="1156.5" y2="1281.2" stroke="#231f20" stroke-width="1.3" />
<text x="1132" y="1288.2" font-size="22.5" text-anchor="end" textLength="38.9" lengthAdjust="spacingAndGlyphs">EPd</text>
<rect x="1156.5" y="1297.76" width="32.5" height="33.42" fill="#f6b597" stroke="none" stroke-width="1" />
<rect x="1188.7" y="1297.76" width="32.5" height="33.42" fill="#f3a37f" stroke="none" stroke-width="1" />
<rect x="1220.9" y="1297.76" width="32.5" height="33.42" fill="#bad8ea" stroke="none" stroke-width="1" />
<rect x="1253.1" y="1297.76" width="32.5" height="33.42" fill="#ffffff" stroke="none" stroke-width="1" />
<rect x="1285.3" y="1297.76" width="32.5" height="33.42" fill="#ffffff" stroke="none" stroke-width="1" />
<rect x="1317.5" y="1297.76" width="32.5" height="33.42" fill="#acd0e4" stroke="none" stroke-width="1" />
<rect x="1349.7" y="1297.76" width="32.5" height="33.42" fill="#6aaad0" stroke="none" stroke-width="1" />
<rect x="1381.9" y="1297.76" width="32.5" height="33.42" fill="#ffffff" stroke="none" stroke-width="1" />
<line x1="1144" y1="1314.32" x2="1156.5" y2="1314.32" stroke="#231f20" stroke-width="1.3" />
<text x="1132" y="1321.32" font-size="22.5" text-anchor="end" font-weight="bold" textLength="92" lengthAdjust="spacingAndGlyphs">ACAd<tspan font-weight="normal"> | </tspan>d</text>
<rect x="1156.5" y="1330.88" width="32.5" height="33.42" fill="#67001f" stroke="none" stroke-width="1" />
<rect x="1188.7" y="1330.88" width="32.5" height="33.42" fill="#c74540" stroke="none" stroke-width="1" />
<rect x="1220.9" y="1330.88" width="32.5" height="33.42" fill="#ffffff" stroke="none" stroke-width="1" />
<rect x="1253.1" y="1330.88" width="32.5" height="33.42" fill="#fbd5c3" stroke="none" stroke-width="1" />
<rect x="1285.3" y="1330.88" width="32.5" height="33.42" fill="#ffffff" stroke="none" stroke-width="1" />
<rect x="1317.5" y="1330.88" width="32.5" height="33.42" fill="#82b9d9" stroke="none" stroke-width="1" />
<rect x="1349.7" y="1330.88" width="32.5" height="33.42" fill="#2a70b1" stroke="none" stroke-width="1" />
<rect x="1381.9" y="1330.88" width="32.5" height="33.42" fill="#1b2f5d" stroke="none" stroke-width="1" />
<line x1="1144" y1="1347.44" x2="1156.5" y2="1347.44" stroke="#231f20" stroke-width="1.3" />
<text x="1132" y="1354.44" font-size="22.5" text-anchor="end" font-weight="bold" textLength="58.4" lengthAdjust="spacingAndGlyphs">PL<tspan font-weight="normal"> | </tspan>d</text>
<rect x="1156.5" y="1364" width="32.5" height="33.42" fill="#ef9575" stroke="none" stroke-width="1" />
<rect x="1188.7" y="1364" width="32.5" height="33.42" fill="#e27b5f" stroke="none" stroke-width="1" />
<rect x="1220.9" y="1364" width="32.5" height="33.42" fill="#ffffff" stroke="none" stroke-width="1" />
<rect x="1253.1" y="1364" width="32.5" height="33.42" fill="#f9c6ad" stroke="none" stroke-width="1" />
<rect x="1285.3" y="1364" width="32.5" height="33.42" fill="#f9c6ad" stroke="none" stroke-width="1" />
<rect x="1317.5" y="1364" width="32.5" height="33.42" fill="#ffffff" stroke="none" stroke-width="1" />
<rect x="1349.7" y="1364" width="32.5" height="33.42" fill="#7ab4d7" stroke="none" stroke-width="1" />
<rect x="1381.9" y="1364" width="32.5" height="33.42" fill="#6dabd1" stroke="none" stroke-width="1" />
<line x1="1144" y1="1380.56" x2="1156.5" y2="1380.56" stroke="#231f20" stroke-width="1.3" />
<text x="1132" y="1387.56" font-size="22.5" text-anchor="end" font-weight="bold" textLength="99.3" lengthAdjust="spacingAndGlyphs">ORBvl<tspan font-weight="normal"> | </tspan>d</text>
<rect x="1156.5" y="1397.12" width="32.5" height="33.42" fill="#67001f" stroke="none" stroke-width="1" />
<rect x="1188.7" y="1397.12" width="32.5" height="33.42" fill="#f9c9b1" stroke="none" stroke-width="1" />
<rect x="1220.9" y="1397.12" width="32.5" height="33.42" fill="#b41f2d" stroke="none" stroke-width="1" />
<rect x="1253.1" y="1397.12" width="32.5" height="33.42" fill="#ffffff" stroke="none" stroke-width="1" />
<rect x="1285.3" y="1397.12" width="32.5" height="33.42" fill="#ffffff" stroke="none" stroke-width="1" />
<rect x="1317.5" y="1397.12" width="32.5" height="33.42" fill="#7ab4d7" stroke="none" stroke-width="1" />
<rect x="1349.7" y="1397.12" width="32.5" height="33.42" fill="#95c4df" stroke="none" stroke-width="1" />
<rect x="1381.9" y="1397.12" width="32.5" height="33.42" fill="#1b2f5d" stroke="none" stroke-width="1" />
<line x1="1144" y1="1413.68" x2="1156.5" y2="1413.68" stroke="#231f20" stroke-width="1.3" />
<text x="1132" y="1420.68" font-size="22.5" text-anchor="end" font-weight="bold" textLength="65.7" lengthAdjust="spacingAndGlyphs">ILA<tspan font-weight="normal"> | </tspan>d</text>
<rect x="1156.5" y="1430.24" width="32.5" height="33.42" fill="#ffffff" stroke="none" stroke-width="1" />
<rect x="1188.7" y="1430.24" width="32.5" height="33.42" fill="#d0e4f0" stroke="none" stroke-width="1" />
<rect x="1220.9" y="1430.24" width="32.5" height="33.42" fill="#f4af8e" stroke="none" stroke-width="1" />
<rect x="1253.1" y="1430.24" width="32.5" height="33.42" fill="#ffffff" stroke="none" stroke-width="1" />
<rect x="1285.3" y="1430.24" width="32.5" height="33.42" fill="#e7866a" stroke="none" stroke-width="1" />
<rect x="1317.5" y="1430.24" width="32.5" height="33.42" fill="#a0c9e1" stroke="none" stroke-width="1" />
<rect x="1349.7" y="1430.24" width="32.5" height="33.42" fill="#9cc7e0" stroke="none" stroke-width="1" />
<rect x="1381.9" y="1430.24" width="32.5" height="33.42" fill="#bbd9ea" stroke="none" stroke-width="1" />
<line x1="1144" y1="1446.8" x2="1156.5" y2="1446.8" stroke="#231f20" stroke-width="1.3" />
<text x="1132" y="1453.8" font-size="22.5" text-anchor="end" font-weight="bold" textLength="99.3" lengthAdjust="spacingAndGlyphs">ORBm<tspan font-weight="normal"> | </tspan>d</text>
<rect x="1156.5" y="1463.36" width="32.5" height="33.42" fill="#1b2f5d" stroke="none" stroke-width="1" />
<rect x="1188.7" y="1463.36" width="32.5" height="33.42" fill="#59a0cb" stroke="none" stroke-width="1" />
<rect x="1220.9" y="1463.36" width="32.5" height="33.42" fill="#67001f" stroke="none" stroke-width="1" />
<rect x="1253.1" y="1463.36" width="32.5" height="33.42" fill="#ffffff" stroke="none" stroke-width="1" />
<rect x="1285.3" y="1463.36" width="32.5" height="33.42" fill="#67001f" stroke="none" stroke-width="1" />
<rect x="1317.5" y="1463.36" width="32.5" height="33.42" fill="#6aaad0" stroke="none" stroke-width="1" />
<rect x="1349.7" y="1463.36" width="32.5" height="33.42" fill="#6aaad0" stroke="none" stroke-width="1" />
<rect x="1381.9" y="1463.36" width="32.5" height="33.42" fill="#2a6db0" stroke="none" stroke-width="1" />
<line x1="1144" y1="1479.92" x2="1156.5" y2="1479.92" stroke="#231f20" stroke-width="1.3" />
<text x="1132" y="1486.92" font-size="22.5" text-anchor="end" textLength="24.9" lengthAdjust="spacingAndGlyphs">LS</text>
<rect x="1156.5" y="701.6" width="257.6" height="794.88" fill="none" stroke="#3a3a3a" stroke-width="1.3" />
<defs><linearGradient id="cbg" x1="0" y1="0" x2="0" y2="1"><stop offset="0" stop-color="#67001f"/><stop offset="0.09" stop-color="#b2182b"/><stop offset="0.19" stop-color="#d6604d"/><stop offset="0.28" stop-color="#f4a582"/><stop offset="0.38" stop-color="#fddbc7"/><stop offset="0.42" stop-color="#ffffff"/><stop offset="0.58" stop-color="#ffffff"/><stop offset="0.62" stop-color="#d1e5f0"/><stop offset="0.72" stop-color="#92c5de"/><stop offset="0.81" stop-color="#4393c3"/><stop offset="0.91" stop-color="#2166ac"/><stop offset="1" stop-color="#053061"/></linearGradient></defs>
<rect x="1427.3" y="720.6" width="15.1" height="757.7" fill="url(#cbg)" stroke="none" stroke-width="1" />
<polygon points="1427.3,720.6 1434.85,701.9 1442.4,720.6" fill="#67001f" stroke="none" stroke-width="1" />
<polygon points="1427.3,1478.3 1434.85,1497.5 1442.4,1478.3" fill="#0b2a5a" stroke="none" stroke-width="1" />
<polyline points="1427.3,720.6 1434.85,701.9 1442.4,720.6 1442.4,1478.3 1434.85,1497.5 1427.3,1478.3 1427.3,720.6" fill="none" stroke="#3a3a3a" stroke-width="1" />
<line x1="1442.4" y1="720.6" x2="1452.4" y2="720.6" stroke="#231f20" stroke-width="1.3" />
<text x="1468.5" y="727.6" font-size="22.5">8</text>
<line x1="1442.4" y1="815.31" x2="1452.4" y2="815.31" stroke="#231f20" stroke-width="1.3" />
<line x1="1442.4" y1="910.02" x2="1452.4" y2="910.02" stroke="#231f20" stroke-width="1.3" />
<text x="1468.5" y="917.02" font-size="22.5">4</text>
<line x1="1442.4" y1="1004.74" x2="1452.4" y2="1004.74" stroke="#231f20" stroke-width="1.3" />
<line x1="1442.4" y1="1099.45" x2="1452.4" y2="1099.45" stroke="#231f20" stroke-width="1.3" />
<text x="1468.5" y="1106.45" font-size="22.5">0</text>
<line x1="1442.4" y1="1194.16" x2="1452.4" y2="1194.16" stroke="#231f20" stroke-width="1.3" />
<line x1="1442.4" y1="1288.88" x2="1452.4" y2="1288.88" stroke="#231f20" stroke-width="1.3" />
<text x="1468.5" y="1295.88" font-size="22.5">−4</text>
<line x1="1442.4" y1="1383.59" x2="1452.4" y2="1383.59" stroke="#231f20" stroke-width="1.3" />
<line x1="1442.4" y1="1478.3" x2="1452.4" y2="1478.3" stroke="#231f20" stroke-width="1.3" />
<text x="1468.5" y="1485.3" font-size="22.5">−8</text>
<text x="1502" y="1114.5" font-size="25.5" text-anchor="middle" textLength="86" lengthAdjust="spacingAndGlyphs" transform="rotate(90 1502 1114.5)">E-score</text>
<path d="M1013.7 784.4H1002.6V817.52H1013.7 M1013.7 751.28H979.6V800.96H1002.6 M1013.7 718.16H971.5V776.12H979.6 M1013.7 883.76H996.2V916.88H1013.7 M1013.7 850.64H990.7V900.32H996.2 M1013.7 950H999.8V983.12H1013.7 M999.8 966.56H987.3V1016.24H1013.7 M990.7 875.48H980.1V991.4H987.3 M971.5 747.14H960.7V933.44H980.1 M1013.7 1082.48H999.9V1115.6H1013.7 M1013.7 1049.36H982.3V1099.04H999.9 M960.7 840.29H942.3V1074.2H982.3 M1013.7 1148.72H992.6V1181.84H1013.7 M1013.7 1214.96H998.1V1248.08H1013.7 M998.1 1231.52H986.7V1281.2H1013.7 M992.6 1165.28H977.7V1256.36H986.7 M1013.7 1347.44H994.3V1380.56H1013.7 M1013.7 1314.32H987.9V1364H994.3 M987.9 1339.16H982V1413.68H1013.7 M977.7 1210.82H955.7V1376.42H982 M1013.7 1446.8H989.6V1479.92H1013.7 M955.7 1293.62H945.5V1463.36H989.6 M942.3 957.24H876.4V1378.49H945.5" fill="none" stroke="#3a3a3a" stroke-width="1.3" />
<line x1="871" y1="1497.7" x2="1012.7" y2="1497.7" stroke="#231f20" stroke-width="1.3" />
<line x1="1012.7" y1="1497.7" x2="1012.7" y2="1507.5" stroke="#231f20" stroke-width="1.3" />
<line x1="984.36" y1="1497.7" x2="984.36" y2="1507.5" stroke="#231f20" stroke-width="1.3" />
<line x1="956.02" y1="1497.7" x2="956.02" y2="1507.5" stroke="#231f20" stroke-width="1.3" />
<line x1="927.68" y1="1497.7" x2="927.68" y2="1507.5" stroke="#231f20" stroke-width="1.3" />
<line x1="899.34" y1="1497.7" x2="899.34" y2="1507.5" stroke="#231f20" stroke-width="1.3" />
<line x1="871" y1="1497.7" x2="871" y2="1507.5" stroke="#231f20" stroke-width="1.3" />
<text x="899.1" y="1535.5" font-size="22.5" text-anchor="middle">20</text>
<text x="956" y="1535.5" font-size="22.5" text-anchor="middle">10</text>
<text x="1012.7" y="1535.5" font-size="22.5" text-anchor="middle">0</text>
<text x="888" y="1567.5" font-size="25.5" textLength="108" lengthAdjust="spacingAndGlyphs">Distance</text>
<line x1="1172.6" y1="1496.3" x2="1172.6" y2="1508.8" stroke="#231f20" stroke-width="1.3" />
<text x="1172.6" y="1536.5" font-size="22" text-anchor="middle" fill="#e8242f">1</text>
<line x1="1204.8" y1="1496.3" x2="1204.8" y2="1508.8" stroke="#231f20" stroke-width="1.3" />
<text x="1204.8" y="1536.5" font-size="22" text-anchor="middle" fill="#ee6e4a">2</text>
<line x1="1237" y1="1496.3" x2="1237" y2="1508.8" stroke="#231f20" stroke-width="1.3" />
<text x="1237" y="1536.5" font-size="22" text-anchor="middle" fill="#e6c36e">3</text>
<line x1="1269.2" y1="1496.3" x2="1269.2" y2="1508.8" stroke="#231f20" stroke-width="1.3" />
<text x="1269.2" y="1536.5" font-size="22" text-anchor="middle" fill="#99c794">4</text>
<line x1="1301.4" y1="1496.3" x2="1301.4" y2="1508.8" stroke="#231f20" stroke-width="1.3" />
<text x="1301.4" y="1536.5" font-size="22" text-anchor="middle" fill="#6cb7a3">5</text>
<line x1="1333.6" y1="1496.3" x2="1333.6" y2="1508.8" stroke="#231f20" stroke-width="1.3" />
<text x="1333.6" y="1536.5" font-size="22" text-anchor="middle" fill="#00b7dc">6</text>
<line x1="1365.8" y1="1496.3" x2="1365.8" y2="1508.8" stroke="#231f20" stroke-width="1.3" />
<text x="1365.8" y="1536.5" font-size="22" text-anchor="middle" fill="#436db2">7</text>
<line x1="1398" y1="1496.3" x2="1398" y2="1508.8" stroke="#231f20" stroke-width="1.3" />
<text x="1398" y="1536.5" font-size="22" text-anchor="middle" fill="#60549b">8</text>
<line x1="1153.1" y1="1561.6" x2="1409.9" y2="1561.6" stroke="#c8c9cb" stroke-width="2.2" />
<line x1="1153.1" y1="1593.7" x2="1409.9" y2="1593.7" stroke="#c8c9cb" stroke-width="2.2" />
<line x1="1153.1" y1="1626.7" x2="1409.9" y2="1626.7" stroke="#c8c9cb" stroke-width="2.2" />
<line x1="1172.6" y1="1543.2" x2="1172.6" y2="1626.7" stroke="#231f20" stroke-width="1.2" />
<line x1="1204.8" y1="1543.2" x2="1204.8" y2="1626.7" stroke="#231f20" stroke-width="1.2" />
<line x1="1237" y1="1543.2" x2="1237" y2="1626.7" stroke="#231f20" stroke-width="1.2" />
<line x1="1269.2" y1="1543.2" x2="1269.2" y2="1626.7" stroke="#231f20" stroke-width="1.2" />
<line x1="1301.4" y1="1543.2" x2="1301.4" y2="1626.7" stroke="#231f20" stroke-width="1.2" />
<line x1="1333.6" y1="1543.2" x2="1333.6" y2="1626.7" stroke="#231f20" stroke-width="1.2" />
<line x1="1365.8" y1="1543.2" x2="1365.8" y2="1626.7" stroke="#231f20" stroke-width="1.2" />
<line x1="1398" y1="1543.2" x2="1398" y2="1626.7" stroke="#231f20" stroke-width="1.2" />
<circle cx="1172.6" cy="1561.6" r="2.5" fill="#5aa846" stroke="#231f20" stroke-width="1.1" />
<circle cx="1172.6" cy="1593.7" r="11.1" fill="#e8f0e2" stroke="#231f20" stroke-width="1.1" />
<circle cx="1172.6" cy="1626.7" r="6.7" fill="#c8c9cb" stroke="#231f20" stroke-width="1.1" />
<circle cx="1204.8" cy="1561.6" r="7.9" fill="#d9e9cc" stroke="#231f20" stroke-width="1.1" />
<circle cx="1204.8" cy="1593.7" r="16.3" fill="#eec4da" stroke="#231f20" stroke-width="1.1" />
<circle cx="1204.8" cy="1626.7" r="3.5" fill="#ffffff" stroke="#231f20" stroke-width="1.1" />
<circle cx="1237" cy="1561.6" r="6.9" fill="#c1dca9" stroke="#231f20" stroke-width="1.1" />
<circle cx="1237" cy="1593.7" r="7.9" fill="#c1dca9" stroke="#231f20" stroke-width="1.1" />
<circle cx="1237" cy="1626.7" r="4.2" fill="#e6e7e8" stroke="#231f20" stroke-width="1.1" />
<circle cx="1269.2" cy="1561.6" r="10" fill="#eef1ea" stroke="#231f20" stroke-width="1.1" />
<circle cx="1269.2" cy="1593.7" r="13.6" fill="#f3d4e3" stroke="#231f20" stroke-width="1.1" />
<circle cx="1269.2" cy="1626.7" r="15.2" fill="#4a4d4f" stroke="#231f20" stroke-width="1.1" />
<circle cx="1301.4" cy="1561.6" r="6.7" fill="#c1dca9" stroke="#231f20" stroke-width="1.1" />
<circle cx="1301.4" cy="1593.7" r="11.9" fill="#eef1ea" stroke="#231f20" stroke-width="1.1" />
<circle cx="1301.4" cy="1626.7" r="12.5" fill="#6d6e71" stroke="#231f20" stroke-width="1.1" />
<circle cx="1333.6" cy="1561.6" r="16.3" fill="#de89b5" stroke="#231f20" stroke-width="1.1" />
<circle cx="1333.6" cy="1593.7" r="7.9" fill="#c1dca9" stroke="#231f20" stroke-width="1.1" />
<circle cx="1333.6" cy="1626.7" r="16.7" fill="#231f20" stroke="#231f20" stroke-width="1.1" />
<circle cx="1365.8" cy="1561.6" r="12.1" fill="#f4d8e4" stroke="#231f20" stroke-width="1.1" />
<circle cx="1365.8" cy="1593.7" r="2.5" fill="#5aa846" stroke="#231f20" stroke-width="1.1" />
<circle cx="1365.8" cy="1626.7" r="2.7" fill="#ffffff" stroke="#231f20" stroke-width="1.1" />
<circle cx="1398" cy="1561.6" r="12.5" fill="#f4d3e2" stroke="#231f20" stroke-width="1.1" />
<circle cx="1398" cy="1593.7" r="10" fill="#dfebd3" stroke="#231f20" stroke-width="1.1" />
<circle cx="1398" cy="1626.7" r="6.7" fill="#c8c9cb" stroke="#231f20" stroke-width="1.1" />
<text x="1144.4" y="1569.6" font-size="25.5" text-anchor="end">B</text>
<text x="1144.4" y="1601.7" font-size="25.5" text-anchor="end">M</text>
<text x="1145.9" y="1634.7" font-size="25.5" text-anchor="end" textLength="89.6" lengthAdjust="spacingAndGlyphs">log<tspan font-size="16.3" dy="5">10</tspan><tspan dy="-5">FR</tspan></text>
<text x="1180" y="1673.5" font-size="25.5" textLength="217.4" lengthAdjust="spacingAndGlyphs">ww unit category</text>
<text x="1547" y="638.3" font-size="41" font-weight="bold" textLength="23" lengthAdjust="spacingAndGlyphs" stroke="#231f20" stroke-width="1.3" stroke-linejoin="round">h</text>
<g stroke-linecap="round" opacity="0.92">
<line x1="1731" y1="633" x2="1633.6" y2="743.6" stroke="#d9dadc" stroke-width="3" />
<line x1="1731" y1="633" x2="1607.2" y2="767.9" stroke="#d9dadc" stroke-width="3" />
<line x1="1731" y1="633" x2="1709.2" y2="730.3" stroke="#d9dadc" stroke-width="4" />
<line x1="1731" y1="633" x2="1682" y2="810.7" stroke="#d9dadc" stroke-width="3" />
<line x1="1731" y1="633" x2="1728.3" y2="803.6" stroke="#d9dadc" stroke-width="3" />
<line x1="1731" y1="633" x2="1742.8" y2="674.8" stroke="#d9dadc" stroke-width="4" />
<line x1="1769.3" y1="641.8" x2="1742.8" y2="674.8" stroke="#d9dadc" stroke-width="4" />
<line x1="1769.3" y1="641.8" x2="1709.2" y2="730.3" stroke="#d9dadc" stroke-width="3" />
<line x1="1769.3" y1="641.8" x2="1682" y2="810.7" stroke="#d9dadc" stroke-width="2" />
<line x1="1769.3" y1="641.8" x2="1731" y2="633" stroke="#d9dadc" stroke-width="3" />
<line x1="1742.8" y1="674.8" x2="1709.2" y2="730.3" stroke="#d9dadc" stroke-width="4" />
<line x1="1742.8" y1="674.8" x2="1633.6" y2="743.6" stroke="#d9dadc" stroke-width="3" />
<line x1="1742.8" y1="674.8" x2="1607.2" y2="767.9" stroke="#d9dadc" stroke-width="3" />
<line x1="1742.8" y1="674.8" x2="1682" y2="810.7" stroke="#d9dadc" stroke-width="3" />
<line x1="1742.8" y1="674.8" x2="1728.3" y2="803.6" stroke="#d9dadc" stroke-width="3" />
<line x1="1709.2" y1="730.3" x2="1633.6" y2="743.6" stroke="#d9dadc" stroke-width="3" />
<line x1="1709.2" y1="730.3" x2="1607.2" y2="767.9" stroke="#d9dadc" stroke-width="3" />
<line x1="1709.2" y1="730.3" x2="1682" y2="810.7" stroke="#d9dadc" stroke-width="4" />
<line x1="1709.2" y1="730.3" x2="1728.3" y2="803.6" stroke="#d9dadc" stroke-width="4" />
<line x1="1709.2" y1="730.3" x2="1643.7" y2="831.9" stroke="#d9dadc" stroke-width="4" />
<line x1="1709.2" y1="730.3" x2="1813.4" y2="791.7" stroke="#d9dadc" stroke-width="3" />
<line x1="1709.2" y1="730.3" x2="1902.8" y2="740.9" stroke="#d9dadc" stroke-width="2.5" />
<line x1="1633.6" y1="743.6" x2="1607.2" y2="767.9" stroke="#d9dadc" stroke-width="3" />
<line x1="1633.6" y1="743.6" x2="1643.7" y2="831.9" stroke="#d9dadc" stroke-width="3" />
<line x1="1633.6" y1="743.6" x2="1682" y2="810.7" stroke="#d9dadc" stroke-width="3" />
<line x1="1633.6" y1="743.6" x2="1728.3" y2="803.6" stroke="#d9dadc" stroke-width="3" />
<line x1="1607.2" y1="767.9" x2="1643.7" y2="831.9" stroke="#d9dadc" stroke-width="3" />
<line x1="1607.2" y1="767.9" x2="1682" y2="810.7" stroke="#d9dadc" stroke-width="3" />
<line x1="1607.2" y1="767.9" x2="1728.3" y2="803.6" stroke="#d9dadc" stroke-width="3" />
<line x1="1682" y1="810.7" x2="1728.3" y2="803.6" stroke="#d9dadc" stroke-width="3" />
<line x1="1682" y1="810.7" x2="1643.7" y2="831.9" stroke="#d9dadc" stroke-width="3" />
<line x1="1643.7" y1="831.9" x2="1728.3" y2="803.6" stroke="#d9dadc" stroke-width="3" />
<line x1="1728.3" y1="803.6" x2="1813.4" y2="791.7" stroke="#d9dadc" stroke-width="3" />
<line x1="1799.7" y1="689.4" x2="1742.8" y2="674.8" stroke="#d9dadc" stroke-width="3" />
<line x1="1799.7" y1="689.4" x2="1731" y2="633" stroke="#d9dadc" stroke-width="4" />
<line x1="1799.7" y1="689.4" x2="1769.3" y2="641.8" stroke="#d9dadc" stroke-width="4" />
<line x1="1813.4" y1="791.7" x2="1902.8" y2="740.9" stroke="#d9dadc" stroke-width="2" />
<line x1="1813.4" y1="791.7" x2="1742.8" y2="674.8" stroke="#d9dadc" stroke-width="2" />
<line x1="1607.2" y1="767.9" x2="1813.4" y2="791.7" stroke="#d9dadc" stroke-width="2" />
<line x1="1619.9" y1="801" x2="1731" y2="633" stroke="#3a5fad" stroke-width="3.5" />
<line x1="1619.9" y1="801" x2="1742.8" y2="674.8" stroke="#7f8fc4" stroke-width="4" />
<line x1="1619.9" y1="801" x2="1709.2" y2="730.3" stroke="#3a5fad" stroke-width="6" />
<line x1="1619.9" y1="801" x2="1633.6" y2="743.6" stroke="#3a5fad" stroke-width="3" />
<line x1="1619.9" y1="801" x2="1682" y2="810.7" stroke="#3a5fad" stroke-width="9" />
<line x1="1619.9" y1="801" x2="1643.7" y2="831.9" stroke="#3a5fad" stroke-width="8" />
<line x1="1619.9" y1="801" x2="1728.3" y2="803.6" stroke="#3a5fad" stroke-width="6" />
<line x1="1619.9" y1="801" x2="1813.4" y2="791.7" stroke="#3a5fad" stroke-width="6" />
<line x1="1619.9" y1="801" x2="1607.2" y2="767.9" stroke="#3a5fad" stroke-width="3" />
<line x1="1760" y1="826" x2="1709.2" y2="730.3" stroke="#6b1d6e" stroke-width="6" />
<line x1="1760" y1="826" x2="1633.6" y2="743.6" stroke="#9b6a9c" stroke-width="2" />
<line x1="1760" y1="826" x2="1607.2" y2="767.9" stroke="#9b6a9c" stroke-width="2" />
<line x1="1760" y1="826" x2="1682" y2="810.7" stroke="#6b1d6e" stroke-width="15" />
<line x1="1760" y1="826" x2="1643.7" y2="831.9" stroke="#6b1d6e" stroke-width="13" />
<line x1="1760" y1="826" x2="1728.3" y2="803.6" stroke="#6b1d6e" stroke-width="9" />
<line x1="1760" y1="826" x2="1813.4" y2="791.7" stroke="#6b1d6e" stroke-width="6" />
<line x1="1808.9" y1="828.2" x2="1742.8" y2="674.8" stroke="#3f7a37" stroke-width="3" />
<line x1="1808.9" y1="828.2" x2="1709.2" y2="730.3" stroke="#3f7a37" stroke-width="3" />
<line x1="1808.9" y1="828.2" x2="1643.7" y2="831.9" stroke="#3f7a37" stroke-width="10" />
<line x1="1808.9" y1="828.2" x2="1760" y2="826" stroke="#3f7a37" stroke-width="9" />
<line x1="1808.9" y1="828.2" x2="1728.3" y2="803.6" stroke="#3f7a37" stroke-width="5" />
<line x1="1808.9" y1="828.2" x2="1813.4" y2="791.7" stroke="#3f7a37" stroke-width="4" />
<line x1="1808.9" y1="828.2" x2="1607.2" y2="767.9" stroke="#a9c4a4" stroke-width="3" />
<line x1="1941.1" y1="817.6" x2="1769.3" y2="641.8" stroke="#b86fa8" stroke-width="2.5" />
<line x1="1941.1" y1="817.6" x2="1742.8" y2="674.8" stroke="#b86fa8" stroke-width="2.5" />
<line x1="1941.1" y1="817.6" x2="1799.7" y2="689.4" stroke="#b86fa8" stroke-width="3" />
<line x1="1941.1" y1="817.6" x2="1731" y2="633" stroke="#b86fa8" stroke-width="2" />
<line x1="2021.7" y1="834" x2="1799.7" y2="689.4" stroke="#3b82c4" stroke-width="3.5" />
<line x1="2021.7" y1="834" x2="1902.8" y2="740.9" stroke="#3b82c4" stroke-width="4" />
<line x1="2021.7" y1="834" x2="1913.3" y2="782.4" stroke="#3b82c4" stroke-width="3" />
<line x1="2021.7" y1="834" x2="2036.3" y2="795.6" stroke="#3b82c4" stroke-width="5" />
<line x1="1992.7" y1="804.9" x2="1799.7" y2="689.4" stroke="#f0c58a" stroke-width="2.5" />
<line x1="1992.7" y1="804.9" x2="1902.8" y2="740.9" stroke="#e69b29" stroke-width="3" />
<line x1="1992.7" y1="804.9" x2="1913.3" y2="782.4" stroke="#e69b29" stroke-width="4" />
<line x1="1992.7" y1="804.9" x2="2036.3" y2="795.6" stroke="#e69b29" stroke-width="5" />
<line x1="1913.3" y1="782.4" x2="1902.8" y2="740.9" stroke="#3bbcd8" stroke-width="8" />
<line x1="1913.3" y1="782.4" x2="1960.4" y2="756" stroke="#3bbcd8" stroke-width="3" />
<line x1="1913.3" y1="782.4" x2="2021.7" y2="834" stroke="#3bbcd8" stroke-width="4" />
<line x1="1913.3" y1="782.4" x2="2036.3" y2="795.6" stroke="#3bbcd8" stroke-width="4" />
<line x1="1913.3" y1="782.4" x2="1992.7" y2="804.9" stroke="#3bbcd8" stroke-width="5" />
<line x1="1913.3" y1="782.4" x2="1941.1" y2="817.6" stroke="#3bbcd8" stroke-width="3" />
<line x1="2033.6" y1="773.2" x2="1960.4" y2="756" stroke="#e8868e" stroke-width="8" />
<line x1="2033.6" y1="773.2" x2="1913.3" y2="782.4" stroke="#e8868e" stroke-width="4" />
<line x1="2033.6" y1="773.2" x2="1902.8" y2="740.9" stroke="#e8868e" stroke-width="3" />
<line x1="2036.3" y1="795.6" x2="1902.8" y2="740.9" stroke="#c8102e" stroke-width="2.5" />
<line x1="2036.3" y1="795.6" x2="1960.4" y2="756" stroke="#c8102e" stroke-width="2.5" />
<line x1="2036.3" y1="795.6" x2="2033.6" y2="773.2" stroke="#c8102e" stroke-width="4" />
<line x1="1861.8" y1="777.7" x2="1902.8" y2="740.9" stroke="#a67c52" stroke-width="3" />
<line x1="1861.8" y1="777.7" x2="1960.4" y2="756" stroke="#a67c52" stroke-width="3" />
<line x1="1861.8" y1="777.7" x2="1813.4" y2="791.7" stroke="#a67c52" stroke-width="2" />
<line x1="1984.7" y1="852.5" x2="1808.9" y2="828.2" stroke="#efe29a" stroke-width="3" />
<line x1="1984.7" y1="852.5" x2="2021.7" y2="834" stroke="#e5cf2a" stroke-width="3" />
<line x1="1984.7" y1="852.5" x2="1992.7" y2="804.9" stroke="#e5cf2a" stroke-width="4" />
<line x1="1984.7" y1="852.5" x2="1913.3" y2="782.4" stroke="#e5cf2a" stroke-width="2" />
<line x1="1941.1" y1="817.6" x2="1992.7" y2="804.9" stroke="#b86fa8" stroke-width="3" />
<line x1="1941.1" y1="817.6" x2="2021.7" y2="834" stroke="#b86fa8" stroke-width="3" />
</g>
<circle cx="1731" cy="633" r="14.5" fill="#c8c9cb" stroke="none" stroke-width="1" />
<circle cx="1769.3" cy="641.8" r="14.5" fill="#c8c9cb" stroke="none" stroke-width="1" />
<circle cx="1742.8" cy="674.8" r="14.5" fill="#c8c9cb" stroke="none" stroke-width="1" />
<circle cx="1799.7" cy="689.4" r="14.5" fill="#c8c9cb" stroke="none" stroke-width="1" />
<circle cx="1709.2" cy="730.3" r="14.5" fill="#c8c9cb" stroke="none" stroke-width="1" />
<circle cx="1633.6" cy="743.6" r="14.5" fill="#c8c9cb" stroke="none" stroke-width="1" />
<circle cx="1607.2" cy="767.9" r="14.5" fill="#c8c9cb" stroke="none" stroke-width="1" />
<circle cx="1619.9" cy="801" r="14.5" fill="#3a5fad" stroke="none" stroke-width="1" />
<circle cx="1682" cy="810.7" r="14.5" fill="#c8c9cb" stroke="none" stroke-width="1" />
<circle cx="1728.3" cy="803.6" r="14.5" fill="#c8c9cb" stroke="none" stroke-width="1" />
<circle cx="1643.7" cy="831.9" r="14.5" fill="#c8c9cb" stroke="none" stroke-width="1" />
<circle cx="1760" cy="826" r="14.5" fill="#6b1d6e" stroke="none" stroke-width="1" />
<circle cx="1808.9" cy="828.2" r="14.5" fill="#3f7a37" stroke="none" stroke-width="1" />
<circle cx="1813.4" cy="791.7" r="14.5" fill="#c8c9cb" stroke="none" stroke-width="1" />
<circle cx="1861.8" cy="777.7" r="14.5" fill="#a67c52" stroke="none" stroke-width="1" />
<circle cx="1902.8" cy="740.9" r="14.5" fill="#c8c9cb" stroke="none" stroke-width="1" />
<circle cx="1960.4" cy="756" r="14.5" fill="#c8c9cb" stroke="none" stroke-width="1" />
<circle cx="1913.3" cy="782.4" r="14.5" fill="#3bbcd8" stroke="none" stroke-width="1" />
<circle cx="2033.6" cy="773.2" r="14.5" fill="#e8868e" stroke="none" stroke-width="1" />
<circle cx="2036.3" cy="795.6" r="14.5" fill="#c8102e" stroke="none" stroke-width="1" />
<circle cx="1992.7" cy="804.9" r="14.5" fill="#e69b29" stroke="none" stroke-width="1" />
<circle cx="1941.1" cy="817.6" r="14.5" fill="#b86fa8" stroke="none" stroke-width="1" />
<circle cx="2021.7" cy="834" r="14.5" fill="#3b82c4" stroke="none" stroke-width="1" />
<circle cx="1984.7" cy="852.5" r="14.5" fill="#e5cf2a" stroke="none" stroke-width="1" />
<text x="1703" y="639.7" font-size="18.5" fill="#1a1a1a" textLength="49" lengthAdjust="spacingAndGlyphs">SS | d</text>
<text x="1757" y="650" font-size="18.5" fill="#1a1a1a" textLength="23" lengthAdjust="spacingAndGlyphs">TH</text>
<text x="1708.5" y="682.5" font-size="18.5" fill="#1a1a1a" textLength="70" lengthAdjust="spacingAndGlyphs">MOp | d</text>
<text x="1783.8" y="696.5" font-size="18.5" fill="#1a1a1a" textLength="30.4" lengthAdjust="spacingAndGlyphs">EPd</text>
<text x="1691.8" y="737.5" font-size="18.5" fill="#1a1a1a" textLength="33.8" lengthAdjust="spacingAndGlyphs">HPF</text>
<text x="1615" y="750.7" font-size="18.5" fill="#1a1a1a" textLength="38" lengthAdjust="spacingAndGlyphs">AON</text>
<text x="1592" y="775.8" font-size="18.5" fill="#1a1a1a" textLength="29" lengthAdjust="spacingAndGlyphs">PIR</text>
<text x="1579.7" y="808.9" font-size="18.5" font-weight="bold" fill="#1a1a1a" textLength="69.3" lengthAdjust="spacingAndGlyphs">ORBl | d</text>
<text x="1664.8" y="818.1" font-size="18.5" fill="#1a1a1a" textLength="34.4" lengthAdjust="spacingAndGlyphs">ACB</text>
<text x="1715" y="810.2" font-size="18.5" fill="#1a1a1a" textLength="22.5" lengthAdjust="spacingAndGlyphs">TT</text>
<text x="1631.8" y="839.3" font-size="18.5" fill="#1a1a1a" textLength="22.5" lengthAdjust="spacingAndGlyphs">CP</text>
<text x="1733" y="832.6" font-size="18.5" font-weight="bold" fill="#1a1a1a" textLength="53.4" lengthAdjust="spacingAndGlyphs">AIv | d</text>
<text x="1793" y="835.3" font-size="18.5" font-weight="bold" fill="#1a1a1a" textLength="66" lengthAdjust="spacingAndGlyphs">MOs | d</text>
<text x="1789" y="801" font-size="18.5" fill="#1a1a1a" textLength="63.5" lengthAdjust="spacingAndGlyphs">AUD | d</text>
<text x="1818" y="778.5" font-size="18.5" font-weight="bold" fill="#1a1a1a" textLength="58.3" lengthAdjust="spacingAndGlyphs">FRP | d</text>
<text x="1893.5" y="748" font-size="18.5" fill="#1a1a1a" textLength="19.9" lengthAdjust="spacingAndGlyphs">LS</text>
<text x="1949" y="762.6" font-size="18.5" fill="#1a1a1a" textLength="22.5" lengthAdjust="spacingAndGlyphs">DP</text>
<text x="1876.3" y="795.6" font-size="18.5" font-weight="bold" fill="#1a1a1a" textLength="80.7" lengthAdjust="spacingAndGlyphs">ORBm | d</text>
<text x="2019" y="779.8" font-size="18.5" font-weight="bold" fill="#1a1a1a" textLength="55.6" lengthAdjust="spacingAndGlyphs">ILA | d</text>
<text x="2023" y="803.6" font-size="18.5" font-weight="bold" fill="#1a1a1a" textLength="47.7" lengthAdjust="spacingAndGlyphs">PL | d</text>
<text x="1946.4" y="808.9" font-size="18.5" font-weight="bold" fill="#1a1a1a" textLength="75.3" lengthAdjust="spacingAndGlyphs">ACAv | d</text>
<text x="1909.4" y="823.4" font-size="18.5" font-weight="bold" fill="#1a1a1a" textLength="55.5" lengthAdjust="spacingAndGlyphs">AId | d</text>
<text x="1980.8" y="840.6" font-size="18.5" font-weight="bold" fill="#1a1a1a" textLength="81.9" lengthAdjust="spacingAndGlyphs">ORBvl | d</text>
<text x="1945" y="860.4" font-size="18.5" font-weight="bold" fill="#1a1a1a" textLength="75.4" lengthAdjust="spacingAndGlyphs">ACAd | d</text>
<text x="1546" y="909.6" font-size="41" font-weight="bold" textLength="10.5" lengthAdjust="spacingAndGlyphs" stroke="#231f20" stroke-width="1.3" stroke-linejoin="round">i</text>
<text x="1588.6" y="900.8" font-size="22.5" fill="#e8242f" textLength="200.8" lengthAdjust="spacingAndGlyphs">ww unit category 1</text>
<text x="1591.6" y="927.2" font-size="22.5" textLength="224.2" lengthAdjust="spacingAndGlyphs">correlation (<tspan font-style="italic">R</tspan>) = 0.72,</text>
<text x="1591.6" y="953.5" font-size="22.5" textLength="164" lengthAdjust="spacingAndGlyphs"><tspan font-style="italic">P</tspan> value = 0.006</text>
<line x1="1887.5" y1="941.7" x2="1899.5" y2="953.7" stroke="#231f20" stroke-width="1.6" />
<line x1="1887.5" y1="953.7" x2="1899.5" y2="941.7" stroke="#231f20" stroke-width="1.6" />
<circle cx="1917" cy="947.7" r="7" fill="#231f20" stroke="none" stroke-width="1" />
<text x="1936" y="955.5" font-size="22.5" textLength="104" lengthAdjust="spacingAndGlyphs">dataset KI</text>
<line x1="1887.5" y1="972" x2="1899.5" y2="984" stroke="#b1b3b6" stroke-width="2.2" />
<line x1="1887.5" y1="984" x2="1899.5" y2="972" stroke="#b1b3b6" stroke-width="2.2" />
<circle cx="1917" cy="978" r="7" fill="#c8c9cb" stroke="none" stroke-width="1" />
<text x="1934.5" y="985.5" font-size="22.5" textLength="200.8" lengthAdjust="spacingAndGlyphs">dataset IBL Passive</text>
<line x1="1636.1" y1="965.3" x2="1636.1" y2="1141.7" stroke="#231f20" stroke-width="1.3" />
<line x1="1625.3" y1="1000.5" x2="1636.1" y2="1000.5" stroke="#231f20" stroke-width="1.3" />
<line x1="1625.3" y1="1035.8" x2="1636.1" y2="1035.8" stroke="#231f20" stroke-width="1.3" />
<line x1="1625.3" y1="1071.1" x2="1636.1" y2="1071.1" stroke="#231f20" stroke-width="1.3" />
<line x1="1625.3" y1="1106.4" x2="1636.1" y2="1106.4" stroke="#231f20" stroke-width="1.3" />
<line x1="1625.3" y1="1141.7" x2="1636.1" y2="1141.7" stroke="#231f20" stroke-width="1.3" />
<line x1="1625.3" y1="965.2" x2="1636.1" y2="965.2" stroke="#231f20" stroke-width="1.3" />
<text x="1611" y="1008.5" font-size="22.5" text-anchor="end">10</text>
<text x="1611" y="1079.1" font-size="22.5" text-anchor="end">0</text>
<text x="1611" y="1149.7" font-size="22.5" text-anchor="end">−10</text>
<line x1="1636.1" y1="1071.1" x2="2081" y2="1071.1" stroke="#1aa3d4" stroke-width="1.4" />
<line x1="1656.6" y1="1141.7" x2="2061.2" y2="1141.7" stroke="#231f20" stroke-width="1.3" />
<line x1="1656.6" y1="1141.7" x2="1656.6" y2="1152.3" stroke="#231f20" stroke-width="1.3" />
<text x="1665.2" y="1160.2" font-size="24" text-anchor="end" font-weight="bold" textLength="89.4" lengthAdjust="spacingAndGlyphs" transform="rotate(-90 1665.2 1160.2)">MOs<tspan font-weight="normal"> | </tspan>d</text>
<line x1="1687.72" y1="1141.7" x2="1687.72" y2="1152.3" stroke="#231f20" stroke-width="1.3" />
<text x="1696.32" y="1160.2" font-size="24" text-anchor="end" font-weight="bold" textLength="102.6" lengthAdjust="spacingAndGlyphs" transform="rotate(-90 1696.32 1160.2)">ACAd<tspan font-weight="normal"> | </tspan>d</text>
<line x1="1718.84" y1="1141.7" x2="1718.84" y2="1152.3" stroke="#231f20" stroke-width="1.3" />
<text x="1727.44" y="1160.2" font-size="24" text-anchor="end" font-weight="bold" textLength="101.1" lengthAdjust="spacingAndGlyphs" transform="rotate(-90 1727.44 1160.2)">ACAv<tspan font-weight="normal"> | </tspan>d</text>
<line x1="1749.96" y1="1141.7" x2="1749.96" y2="1152.3" stroke="#231f20" stroke-width="1.3" />
<text x="1758.56" y="1160.2" font-size="24" text-anchor="end" font-weight="bold" textLength="66" lengthAdjust="spacingAndGlyphs" transform="rotate(-90 1758.56 1160.2)">PL<tspan font-weight="normal"> | </tspan>d</text>
<line x1="1781.08" y1="1141.7" x2="1781.08" y2="1152.3" stroke="#231f20" stroke-width="1.3" />
<text x="1789.68" y="1160.2" font-size="24" text-anchor="end" font-weight="bold" textLength="76.2" lengthAdjust="spacingAndGlyphs" transform="rotate(-90 1789.68 1160.2)">ILA<tspan font-weight="normal"> | </tspan>d</text>
<line x1="1812.2" y1="1141.7" x2="1812.2" y2="1152.3" stroke="#231f20" stroke-width="1.3" />
<text x="1820.8" y="1160.2" font-size="24" text-anchor="end" font-weight="bold" textLength="109.9" lengthAdjust="spacingAndGlyphs" transform="rotate(-90 1820.8 1160.2)">ORBm<tspan font-weight="normal"> | </tspan>d</text>
<line x1="1843.32" y1="1141.7" x2="1843.32" y2="1152.3" stroke="#231f20" stroke-width="1.3" />
<text x="1851.92" y="1160.2" font-size="24" text-anchor="end" font-weight="bold" textLength="108.5" lengthAdjust="spacingAndGlyphs" transform="rotate(-90 1851.92 1160.2)">ORBvl<tspan font-weight="normal"> | </tspan>d</text>
<line x1="1874.44" y1="1141.7" x2="1874.44" y2="1152.3" stroke="#231f20" stroke-width="1.3" />
<text x="1883.04" y="1160.2" font-size="24" text-anchor="end" font-weight="bold" textLength="96.7" lengthAdjust="spacingAndGlyphs" transform="rotate(-90 1883.04 1160.2)">ORBl<tspan font-weight="normal"> | </tspan>d</text>
<line x1="1905.56" y1="1141.7" x2="1905.56" y2="1152.3" stroke="#231f20" stroke-width="1.3" />
<text x="1914.16" y="1160.2" font-size="24" text-anchor="end" font-weight="bold" textLength="82.1" lengthAdjust="spacingAndGlyphs" transform="rotate(-90 1914.16 1160.2)">FRP<tspan font-weight="normal"> | </tspan>d</text>
<line x1="1936.68" y1="1141.7" x2="1936.68" y2="1152.3" stroke="#231f20" stroke-width="1.3" />
<text x="1945.28" y="1160.2" font-size="24" text-anchor="end" font-weight="bold" textLength="77.7" lengthAdjust="spacingAndGlyphs" transform="rotate(-90 1945.28 1160.2)">AId<tspan font-weight="normal"> | </tspan>d</text>
<line x1="1967.8" y1="1141.7" x2="1967.8" y2="1152.3" stroke="#231f20" stroke-width="1.3" />
<text x="1976.4" y="1160.2" font-size="24" text-anchor="end" font-weight="bold" textLength="76.2" lengthAdjust="spacingAndGlyphs" transform="rotate(-90 1976.4 1160.2)">AIv<tspan font-weight="normal"> | </tspan>d</text>
<line x1="1998.92" y1="1141.7" x2="1998.92" y2="1152.3" stroke="#231f20" stroke-width="1.3" />
<text x="2007.52" y="1160.2" font-size="24" text-anchor="end" textLength="83.5" lengthAdjust="spacingAndGlyphs" transform="rotate(-90 2007.52 1160.2)">AUD | d</text>
<line x1="2030.04" y1="1141.7" x2="2030.04" y2="1152.3" stroke="#231f20" stroke-width="1.3" />
<text x="2038.64" y="1160.2" font-size="24" text-anchor="end" textLength="89.4" lengthAdjust="spacingAndGlyphs" transform="rotate(-90 2038.64 1160.2)">MOp | d</text>
<line x1="2061.16" y1="1141.7" x2="2061.16" y2="1152.3" stroke="#231f20" stroke-width="1.3" />
<text x="2069.76" y="1160.2" font-size="24" text-anchor="end" textLength="66" lengthAdjust="spacingAndGlyphs" transform="rotate(-90 2069.76 1160.2)">SS | d</text>
<text x="1764.5" y="1298.5" font-size="25.5" textLength="187.5" lengthAdjust="spacingAndGlyphs">Cortical region</text>
<text x="1569.3" y="1053.2" font-size="25.5" text-anchor="middle" textLength="90.8" lengthAdjust="spacingAndGlyphs" transform="rotate(-90 1569.3 1053.2)">E-score</text>
<line x1="1656.63" y1="1045" x2="1656.63" y2="1062.59" stroke="#c8c9cb" stroke-width="2" />
<circle cx="1656.63" cy="1045" r="5.9" fill="#c8c9cb" stroke="none" stroke-width="1" />
<line x1="1650.33" y1="1056.29" x2="1662.93" y2="1068.89" stroke="#231f20" stroke-width="1.6" />
<line x1="1650.33" y1="1068.89" x2="1662.93" y2="1056.29" stroke="#231f20" stroke-width="1.6" />
<line x1="1690.34" y1="1052.62" x2="1690.34" y2="1060.54" stroke="#c8c9cb" stroke-width="2" />
<circle cx="1690.34" cy="1052.62" r="5.9" fill="#231f20" stroke="none" stroke-width="1" />
<line x1="1684.04" y1="1054.24" x2="1696.64" y2="1066.84" stroke="#b1b3b6" stroke-width="2.2" />
<line x1="1684.04" y1="1066.84" x2="1696.64" y2="1054.24" stroke="#b1b3b6" stroke-width="2.2" />
<line x1="1724.06" y1="1033.28" x2="1724.06" y2="1052.33" stroke="#c8c9cb" stroke-width="2" />
<circle cx="1724.06" cy="1033.28" r="5.9" fill="#c8c9cb" stroke="none" stroke-width="1" />
<circle cx="1724.06" cy="1052.33" r="5.9" fill="#231f20" stroke="none" stroke-width="1" />
<line x1="1757.77" y1="977.58" x2="1757.77" y2="1021.84" stroke="#c8c9cb" stroke-width="2" />
<circle cx="1757.77" cy="977.58" r="5.9" fill="#231f20" stroke="none" stroke-width="1" />
<circle cx="1757.77" cy="1021.84" r="5.9" fill="#c8c9cb" stroke="none" stroke-width="1" />
<line x1="1791.48" y1="972.3" x2="1791.48" y2="1008.36" stroke="#c8c9cb" stroke-width="2" />
<circle cx="1791.48" cy="972.3" r="5.9" fill="#c8c9cb" stroke="none" stroke-width="1" />
<circle cx="1791.48" cy="1008.36" r="5.9" fill="#231f20" stroke="none" stroke-width="1" />
<line x1="1825.19" y1="1023.9" x2="1825.19" y2="1078.71" stroke="#c8c9cb" stroke-width="2" />
<circle cx="1825.19" cy="1023.9" r="5.9" fill="#c8c9cb" stroke="none" stroke-width="1" />
<line x1="1818.89" y1="1072.41" x2="1831.49" y2="1085.01" stroke="#231f20" stroke-width="1.6" />
<line x1="1818.89" y1="1085.01" x2="1831.49" y2="1072.41" stroke="#231f20" stroke-width="1.6" />
<line x1="1858.9" y1="1032.1" x2="1858.9" y2="1046.47" stroke="#c8c9cb" stroke-width="2" />
<circle cx="1858.9" cy="1032.1" r="5.9" fill="#c8c9cb" stroke="none" stroke-width="1" />
<circle cx="1858.9" cy="1046.47" r="5.9" fill="#231f20" stroke="none" stroke-width="1" />
<line x1="1892.61" y1="1072.26" x2="1892.61" y2="1099.52" stroke="#c8c9cb" stroke-width="2" />
<line x1="1886.31" y1="1065.96" x2="1898.91" y2="1078.56" stroke="#b1b3b6" stroke-width="2.2" />
<line x1="1886.31" y1="1078.56" x2="1898.91" y2="1065.96" stroke="#b1b3b6" stroke-width="2.2" />
<circle cx="1892.61" cy="1099.52" r="5.9" fill="#231f20" stroke="none" stroke-width="1" />
<line x1="1926.32" y1="1061.12" x2="1926.32" y2="1075.19" stroke="#c8c9cb" stroke-width="2" />
<line x1="1920.02" y1="1054.82" x2="1932.62" y2="1067.42" stroke="#231f20" stroke-width="1.6" />
<line x1="1920.02" y1="1067.42" x2="1932.62" y2="1054.82" stroke="#231f20" stroke-width="1.6" />
<line x1="1920.02" y1="1068.89" x2="1932.62" y2="1081.49" stroke="#b1b3b6" stroke-width="2.2" />
<line x1="1920.02" y1="1081.49" x2="1932.62" y2="1068.89" stroke="#b1b3b6" stroke-width="2.2" />
<line x1="1960.03" y1="1070.21" x2="1960.03" y2="1084.57" stroke="#c8c9cb" stroke-width="2" />
<line x1="1953.73" y1="1063.91" x2="1966.33" y2="1076.51" stroke="#b1b3b6" stroke-width="2.2" />
<line x1="1953.73" y1="1076.51" x2="1966.33" y2="1063.91" stroke="#b1b3b6" stroke-width="2.2" />
<circle cx="1960.03" cy="1084.57" r="5.9" fill="#231f20" stroke="none" stroke-width="1" />
<line x1="1993.74" y1="1035.03" x2="1993.74" y2="1071.09" stroke="#c8c9cb" stroke-width="2" />
<circle cx="1993.74" cy="1035.03" r="5.9" fill="#c8c9cb" stroke="none" stroke-width="1" />
<line x1="1987.44" y1="1064.79" x2="2000.04" y2="1077.39" stroke="#231f20" stroke-width="1.6" />
<line x1="1987.44" y1="1077.39" x2="2000.04" y2="1064.79" stroke="#231f20" stroke-width="1.6" />
<line x1="2027.45" y1="1076.66" x2="2027.45" y2="1099.23" stroke="#c8c9cb" stroke-width="2" />
<line x1="2021.15" y1="1070.36" x2="2033.75" y2="1082.96" stroke="#b1b3b6" stroke-width="2.2" />
<line x1="2021.15" y1="1082.96" x2="2033.75" y2="1070.36" stroke="#b1b3b6" stroke-width="2.2" />
<circle cx="2027.45" cy="1099.23" r="5.9" fill="#231f20" stroke="none" stroke-width="1" />
<line x1="2061.16" y1="1072.26" x2="2061.16" y2="1094.25" stroke="#c8c9cb" stroke-width="2" />
<line x1="2054.86" y1="1065.96" x2="2067.46" y2="1078.56" stroke="#b1b3b6" stroke-width="2.2" />
<line x1="2054.86" y1="1078.56" x2="2067.46" y2="1065.96" stroke="#b1b3b6" stroke-width="2.2" />
<circle cx="2061.16" cy="1094.25" r="5.9" fill="#231f20" stroke="none" stroke-width="1" />
<text x="1545.5" y="1353" font-size="41" font-weight="bold" textLength="13" lengthAdjust="spacingAndGlyphs" stroke="#231f20" stroke-width="1.3" stroke-linejoin="round">j</text>
<rect x="1759.5" y="1369.8" width="33.06" height="32.96" fill="#555757" stroke="none" stroke-width="1" />
<rect x="1792.26" y="1369.8" width="33.06" height="32.96" fill="#a0a0a0" stroke="none" stroke-width="1" />
<rect x="1825.02" y="1369.8" width="33.06" height="32.96" fill="#e3e3e3" stroke="none" stroke-width="1" />
<rect x="1857.78" y="1369.8" width="33.06" height="32.96" fill="#f4f4f5" stroke="none" stroke-width="1" />
<rect x="1890.54" y="1369.8" width="33.06" height="32.96" fill="#e6e6e6" stroke="none" stroke-width="1" />
<rect x="1923.3" y="1369.8" width="33.06" height="32.96" fill="#fddbc7" stroke="none" stroke-width="1" />
<rect x="1956.06" y="1369.8" width="33.06" height="32.96" fill="#d6604d" stroke="none" stroke-width="1" />
<rect x="1988.82" y="1369.8" width="33.06" height="32.96" fill="#d05848" stroke="none" stroke-width="1" />
<rect x="1759.5" y="1402.46" width="33.06" height="32.96" fill="#707070" stroke="none" stroke-width="1" />
<rect x="1792.26" y="1402.46" width="33.06" height="32.96" fill="#7a7b7d" stroke="none" stroke-width="1" />
<rect x="1825.02" y="1402.46" width="33.06" height="32.96" fill="#b0b0b0" stroke="none" stroke-width="1" />
<rect x="1857.78" y="1402.46" width="33.06" height="32.96" fill="#ebebeb" stroke="none" stroke-width="1" />
<rect x="1890.54" y="1402.46" width="33.06" height="32.96" fill="#fde3d6" stroke="none" stroke-width="1" />
<rect x="1923.3" y="1402.46" width="33.06" height="32.96" fill="#e07a5f" stroke="none" stroke-width="1" />
<rect x="1956.06" y="1402.46" width="33.06" height="32.96" fill="#e07a5f" stroke="none" stroke-width="1" />
<rect x="1988.82" y="1402.46" width="33.06" height="32.96" fill="#d86350" stroke="none" stroke-width="1" />
<rect x="1759.5" y="1435.12" width="33.06" height="32.96" fill="#f4a885" stroke="none" stroke-width="1" />
<rect x="1792.26" y="1435.12" width="33.06" height="32.96" fill="#fef3ed" stroke="none" stroke-width="1" />
<rect x="1825.02" y="1435.12" width="33.06" height="32.96" fill="#f4a886" stroke="none" stroke-width="1" />
<rect x="1857.78" y="1435.12" width="33.06" height="32.96" fill="#efefef" stroke="none" stroke-width="1" />
<rect x="1890.54" y="1435.12" width="33.06" height="32.96" fill="#e2e2e2" stroke="none" stroke-width="1" />
<rect x="1923.3" y="1435.12" width="33.06" height="32.96" fill="#ffffff" stroke="none" stroke-width="1" />
<rect x="1956.06" y="1435.12" width="33.06" height="32.96" fill="#fdeee6" stroke="none" stroke-width="1" />
<rect x="1988.82" y="1435.12" width="33.06" height="32.96" fill="#9a9a9a" stroke="none" stroke-width="1" />
<rect x="1759.5" y="1467.78" width="33.06" height="32.96" fill="#e07a5f" stroke="none" stroke-width="1" />
<rect x="1792.26" y="1467.78" width="33.06" height="32.96" fill="#c1373a" stroke="none" stroke-width="1" />
<rect x="1825.02" y="1467.78" width="33.06" height="32.96" fill="#e8e8e8" stroke="none" stroke-width="1" />
<rect x="1857.78" y="1467.78" width="33.06" height="32.96" fill="#f7c0a6" stroke="none" stroke-width="1" />
<rect x="1890.54" y="1467.78" width="33.06" height="32.96" fill="#fdebe3" stroke="none" stroke-width="1" />
<rect x="1923.3" y="1467.78" width="33.06" height="32.96" fill="#bcbcbc" stroke="none" stroke-width="1" />
<rect x="1956.06" y="1467.78" width="33.06" height="32.96" fill="#6e6e6e" stroke="none" stroke-width="1" />
<rect x="1988.82" y="1467.78" width="33.06" height="32.96" fill="#cbcbcb" stroke="none" stroke-width="1" />
<rect x="1759.5" y="1500.44" width="33.06" height="32.96" fill="#c53c3c" stroke="none" stroke-width="1" />
<rect x="1792.26" y="1500.44" width="33.06" height="32.96" fill="#f1a07f" stroke="none" stroke-width="1" />
<rect x="1825.02" y="1500.44" width="33.06" height="32.96" fill="#e27660" stroke="none" stroke-width="1" />
<rect x="1857.78" y="1500.44" width="33.06" height="32.96" fill="#fafafa" stroke="none" stroke-width="1" />
<rect x="1890.54" y="1500.44" width="33.06" height="32.96" fill="#fffdfb" stroke="none" stroke-width="1" />
<rect x="1923.3" y="1500.44" width="33.06" height="32.96" fill="#bdbdbd" stroke="none" stroke-width="1" />
<rect x="1956.06" y="1500.44" width="33.06" height="32.96" fill="#6f6f6f" stroke="none" stroke-width="1" />
<rect x="1988.82" y="1500.44" width="33.06" height="32.96" fill="#5e5e5e" stroke="none" stroke-width="1" />
<rect x="1759.5" y="1369.8" width="262.08" height="163.3" fill="none" stroke="#3a3a3a" stroke-width="1.2" />
<line x1="1746.9" y1="1386.13" x2="1759.5" y2="1386.13" stroke="#231f20" stroke-width="1.3" />
<text x="1732.3" y="1394.13" font-size="22.5" text-anchor="middle" fill="#60549b">5</text>
<line x1="1746.9" y1="1418.79" x2="1759.5" y2="1418.79" stroke="#231f20" stroke-width="1.3" />
<text x="1732.3" y="1426.79" font-size="22.5" text-anchor="middle" fill="#00b7dc">4</text>
<line x1="1746.9" y1="1451.45" x2="1759.5" y2="1451.45" stroke="#231f20" stroke-width="1.3" />
<text x="1732.3" y="1459.45" font-size="22.5" text-anchor="middle" fill="#99c794">3</text>
<line x1="1746.9" y1="1484.11" x2="1759.5" y2="1484.11" stroke="#231f20" stroke-width="1.3" />
<text x="1732.3" y="1492.11" font-size="22.5" text-anchor="middle" fill="#ee6e4a">2</text>
<line x1="1746.9" y1="1516.77" x2="1759.5" y2="1516.77" stroke="#231f20" stroke-width="1.3" />
<text x="1732.3" y="1524.77" font-size="22.5" text-anchor="middle" fill="#e8242f">1</text>
<line x1="1775.88" y1="1533.1" x2="1775.88" y2="1545.7" stroke="#231f20" stroke-width="1.3" />
<text x="1775.88" y="1572.8" font-size="22" text-anchor="middle" fill="#e8242f">1</text>
<line x1="1808.64" y1="1533.1" x2="1808.64" y2="1545.7" stroke="#231f20" stroke-width="1.3" />
<text x="1808.64" y="1572.8" font-size="22" text-anchor="middle" fill="#ee6e4a">2</text>
<line x1="1841.4" y1="1533.1" x2="1841.4" y2="1545.7" stroke="#231f20" stroke-width="1.3" />
<text x="1841.4" y="1572.8" font-size="22" text-anchor="middle" fill="#e6c36e">3</text>
<line x1="1874.16" y1="1533.1" x2="1874.16" y2="1545.7" stroke="#231f20" stroke-width="1.3" />
<text x="1874.16" y="1572.8" font-size="22" text-anchor="middle" fill="#99c794">4</text>
<line x1="1906.92" y1="1533.1" x2="1906.92" y2="1545.7" stroke="#231f20" stroke-width="1.3" />
<text x="1906.92" y="1572.8" font-size="22" text-anchor="middle" fill="#6cb7a3">5</text>
<line x1="1939.68" y1="1533.1" x2="1939.68" y2="1545.7" stroke="#231f20" stroke-width="1.3" />
<text x="1939.68" y="1572.8" font-size="22" text-anchor="middle" fill="#00b7dc">6</text>
<line x1="1972.44" y1="1533.1" x2="1972.44" y2="1545.7" stroke="#231f20" stroke-width="1.3" />
<text x="1972.44" y="1572.8" font-size="22" text-anchor="middle" fill="#436db2">7</text>
<line x1="2005.2" y1="1533.1" x2="2005.2" y2="1545.7" stroke="#231f20" stroke-width="1.3" />
<text x="2005.2" y="1572.8" font-size="22" text-anchor="middle" fill="#60549b">8</text>
<defs><linearGradient id="cbj" x1="0" y1="0" x2="0" y2="1"><stop offset="0" stop-color="#67001f"/><stop offset="0.1" stop-color="#b2182b"/><stop offset="0.2" stop-color="#d6604d"/><stop offset="0.3" stop-color="#f4a582"/><stop offset="0.4" stop-color="#fddbc7"/><stop offset="0.5" stop-color="#ffffff"/><stop offset="0.6" stop-color="#e0e0e0"/><stop offset="0.7" stop-color="#bababa"/><stop offset="0.8" stop-color="#878787"/><stop offset="0.9" stop-color="#4d4d4d"/><stop offset="1" stop-color="#1a1a1a"/></linearGradient></defs>
<rect x="2033.3" y="1369.8" width="12.6" height="163.3" fill="url(#cbj)" stroke="#231f20" stroke-width="1" />
<line x1="2045.9" y1="1369.8" x2="2054.5" y2="1369.8" stroke="#231f20" stroke-width="1.3" />
<line x1="2045.9" y1="1410.62" x2="2054.5" y2="1410.62" stroke="#231f20" stroke-width="1.3" />
<line x1="2045.9" y1="1451.45" x2="2054.5" y2="1451.45" stroke="#231f20" stroke-width="1.3" />
<line x1="2045.9" y1="1492.27" x2="2054.5" y2="1492.27" stroke="#231f20" stroke-width="1.3" />
<line x1="2045.9" y1="1533.1" x2="2054.5" y2="1533.1" stroke="#231f20" stroke-width="1.3" />
<text x="2065" y="1377.8" font-size="22.5">1.0</text>
<text x="2065" y="1459.45" font-size="22.5">0</text>
<text x="2065" y="1541.1" font-size="22.5">−1.0</text>
<text x="2131" y="1460.7" font-size="25.5" text-anchor="middle" textLength="181.8" lengthAdjust="spacingAndGlyphs" transform="rotate(90 2131 1460.7)">Correlation (R)</text>
<text x="1600" y="1454.9" font-size="25.5" text-anchor="middle" textLength="211" lengthAdjust="spacingAndGlyphs" transform="rotate(-90 1600 1454.9)">nw unit category</text>
<line x1="1640" y1="1386" x2="1640" y2="1516.4" stroke="#c8c9cb" stroke-width="2" />
<line x1="1672.8" y1="1386" x2="1672.8" y2="1516.4" stroke="#c8c9cb" stroke-width="2" />
<line x1="1705.3" y1="1386" x2="1705.3" y2="1516.4" stroke="#c8c9cb" stroke-width="2" />
<line x1="1640" y1="1386" x2="1723" y2="1386" stroke="#231f20" stroke-width="1.2" />
<line x1="1640" y1="1418.8" x2="1723" y2="1418.8" stroke="#231f20" stroke-width="1.2" />
<line x1="1640" y1="1451.3" x2="1723" y2="1451.3" stroke="#231f20" stroke-width="1.2" />
<line x1="1640" y1="1484.2" x2="1723" y2="1484.2" stroke="#231f20" stroke-width="1.2" />
<line x1="1640" y1="1516.4" x2="1723" y2="1516.4" stroke="#231f20" stroke-width="1.2" />
<circle cx="1640" cy="1386" r="14" fill="#231f20" stroke="#231f20" stroke-width="1.1" />
<circle cx="1672.8" cy="1386" r="11.1" fill="#f4dde6" stroke="#231f20" stroke-width="1.1" />
<circle cx="1705.3" cy="1386" r="16.7" fill="#e69fc4" stroke="#231f20" stroke-width="1.1" />
<circle cx="1640" cy="1418.8" r="2.6" fill="#c8c9cb" stroke="#231f20" stroke-width="1.1" />
<circle cx="1672.8" cy="1418.8" r="2.6" fill="#c1dca9" stroke="#231f20" stroke-width="1.1" />
<circle cx="1705.3" cy="1418.8" r="11.1" fill="#f4d8e4" stroke="#231f20" stroke-width="1.1" />
<circle cx="1640" cy="1451.3" r="2.6" fill="#c8c9cb" stroke="#231f20" stroke-width="1.1" />
<circle cx="1672.8" cy="1451.3" r="3.5" fill="#dfebd3" stroke="#231f20" stroke-width="1.1" />
<circle cx="1705.3" cy="1451.3" r="2.6" fill="#c1dca9" stroke="#231f20" stroke-width="1.1" />
<circle cx="1640" cy="1484.2" r="9.7" fill="#6d6e71" stroke="#231f20" stroke-width="1.1" />
<circle cx="1672.8" cy="1484.2" r="11.1" fill="#f0dde6" stroke="#231f20" stroke-width="1.1" />
<circle cx="1705.3" cy="1484.2" r="8.8" fill="#f2e6eb" stroke="#231f20" stroke-width="1.1" />
<circle cx="1640" cy="1516.4" r="17" fill="#231f20" stroke="#231f20" stroke-width="1.1" />
<circle cx="1672.8" cy="1516.4" r="16.7" fill="#eab8d3" stroke="#231f20" stroke-width="1.1" />
<circle cx="1705.3" cy="1516.4" r="7.6" fill="#f4f4f4" stroke="#231f20" stroke-width="1.1" />
<line x1="1705.3" y1="1535" x2="1705.3" y2="1583" stroke="#b1b3b6" stroke-width="1.5" stroke-dasharray="6 4"/>
<line x1="1672.8" y1="1535" x2="1672.8" y2="1630" stroke="#b1b3b6" stroke-width="1.5" stroke-dasharray="6 4"/>
<line x1="1640" y1="1535" x2="1640" y2="1662" stroke="#b1b3b6" stroke-width="1.5" stroke-dasharray="6 4"/>
<line x1="1718" y1="1597.9" x2="1770" y2="1597.9" stroke="#b1b3b6" stroke-width="1.5" stroke-dasharray="6 4"/>
<line x1="1686" y1="1630.1" x2="1766" y2="1630.1" stroke="#b1b3b6" stroke-width="1.5" stroke-dasharray="6 4"/>
<line x1="1683" y1="1663" x2="1770" y2="1663" stroke="#b1b3b6" stroke-width="1.5" stroke-dasharray="6 4"/>
<text x="1702" y="1603" font-size="25.5" text-anchor="middle" transform="rotate(45 1702 1603)">B</text>
<text x="1671" y="1635" font-size="25.5" text-anchor="middle" transform="rotate(45 1671 1635)">M</text>
<text x="1645" y="1657" font-size="25.5" text-anchor="middle" transform="rotate(45 1645 1657)">log<tspan font-size="16" dy="5">10</tspan><tspan dy="-5">FR</tspan></text>
<line x1="1770" y1="1597.9" x2="2015" y2="1597.9" stroke="#c8c9cb" stroke-width="2.2" />
<line x1="1770" y1="1630.1" x2="2015" y2="1630.1" stroke="#c8c9cb" stroke-width="2.2" />
<line x1="1770" y1="1663" x2="2015" y2="1663" stroke="#c8c9cb" stroke-width="2.2" />
<line x1="1775.88" y1="1580" x2="1775.88" y2="1663" stroke="#231f20" stroke-width="1.2" />
<line x1="1808.64" y1="1580" x2="1808.64" y2="1663" stroke="#231f20" stroke-width="1.2" />
<line x1="1841.4" y1="1580" x2="1841.4" y2="1663" stroke="#231f20" stroke-width="1.2" />
<line x1="1874.16" y1="1580" x2="1874.16" y2="1663" stroke="#231f20" stroke-width="1.2" />
<line x1="1906.92" y1="1580" x2="1906.92" y2="1663" stroke="#231f20" stroke-width="1.2" />
<line x1="1939.68" y1="1580" x2="1939.68" y2="1663" stroke="#231f20" stroke-width="1.2" />
<line x1="1972.44" y1="1580" x2="1972.44" y2="1663" stroke="#231f20" stroke-width="1.2" />
<line x1="2005.2" y1="1580" x2="2005.2" y2="1663" stroke="#231f20" stroke-width="1.2" />
<circle cx="1775.88" cy="1597.9" r="2.93" fill="#5aa846" stroke="#231f20" stroke-width="1.1" />
<circle cx="1775.88" cy="1630.1" r="10.85" fill="#e8f0e2" stroke="#231f20" stroke-width="1.1" />
<circle cx="1775.88" cy="1663" r="6.45" fill="#c8c9cb" stroke="#231f20" stroke-width="1.1" />
<circle cx="1808.64" cy="1597.9" r="7.91" fill="#d9e9cc" stroke="#231f20" stroke-width="1.1" />
<circle cx="1808.64" cy="1630.1" r="16.12" fill="#eec4da" stroke="#231f20" stroke-width="1.1" />
<circle cx="1808.64" cy="1663" r="3.52" fill="#ffffff" stroke="#231f20" stroke-width="1.1" />
<circle cx="1841.4" cy="1597.9" r="6.74" fill="#c1dca9" stroke="#231f20" stroke-width="1.1" />
<circle cx="1841.4" cy="1630.1" r="6.74" fill="#c1dca9" stroke="#231f20" stroke-width="1.1" />
<circle cx="1841.4" cy="1663" r="4.4" fill="#e6e7e8" stroke="#231f20" stroke-width="1.1" />
<circle cx="1874.16" cy="1597.9" r="9.67" fill="#eef1ea" stroke="#231f20" stroke-width="1.1" />
<circle cx="1874.16" cy="1630.1" r="13.19" fill="#f3d4e3" stroke="#231f20" stroke-width="1.1" />
<circle cx="1874.16" cy="1663" r="14.66" fill="#4a4d4f" stroke="#231f20" stroke-width="1.1" />
<circle cx="1906.92" cy="1597.9" r="6.45" fill="#c1dca9" stroke="#231f20" stroke-width="1.1" />
<circle cx="1906.92" cy="1630.1" r="11.14" fill="#eef1ea" stroke="#231f20" stroke-width="1.1" />
<circle cx="1906.92" cy="1663" r="12.31" fill="#6d6e71" stroke="#231f20" stroke-width="1.1" />
<circle cx="1939.68" cy="1597.9" r="16.12" fill="#de89b5" stroke="#231f20" stroke-width="1.1" />
<circle cx="1939.68" cy="1630.1" r="7.33" fill="#c1dca9" stroke="#231f20" stroke-width="1.1" />
<circle cx="1939.68" cy="1663" r="16.71" fill="#231f20" stroke="#231f20" stroke-width="1.1" />
<circle cx="1972.44" cy="1597.9" r="11.73" fill="#f4d8e4" stroke="#231f20" stroke-width="1.1" />
<circle cx="1972.44" cy="1630.1" r="2.64" fill="#5aa846" stroke="#231f20" stroke-width="1.1" />
<circle cx="1972.44" cy="1663" r="2.93" fill="#ffffff" stroke="#231f20" stroke-width="1.1" />
<circle cx="2005.2" cy="1597.9" r="12.6" fill="#f4d3e2" stroke="#231f20" stroke-width="1.1" />
<circle cx="2005.2" cy="1630.1" r="9.67" fill="#dfebd3" stroke="#231f20" stroke-width="1.1" />
<circle cx="2005.2" cy="1663" r="6.45" fill="#c8c9cb" stroke="#231f20" stroke-width="1.1" />
<text x="1785" y="1709.5" font-size="25.5" textLength="217" lengthAdjust="spacingAndGlyphs">ww unit category</text></svg></body></html>
